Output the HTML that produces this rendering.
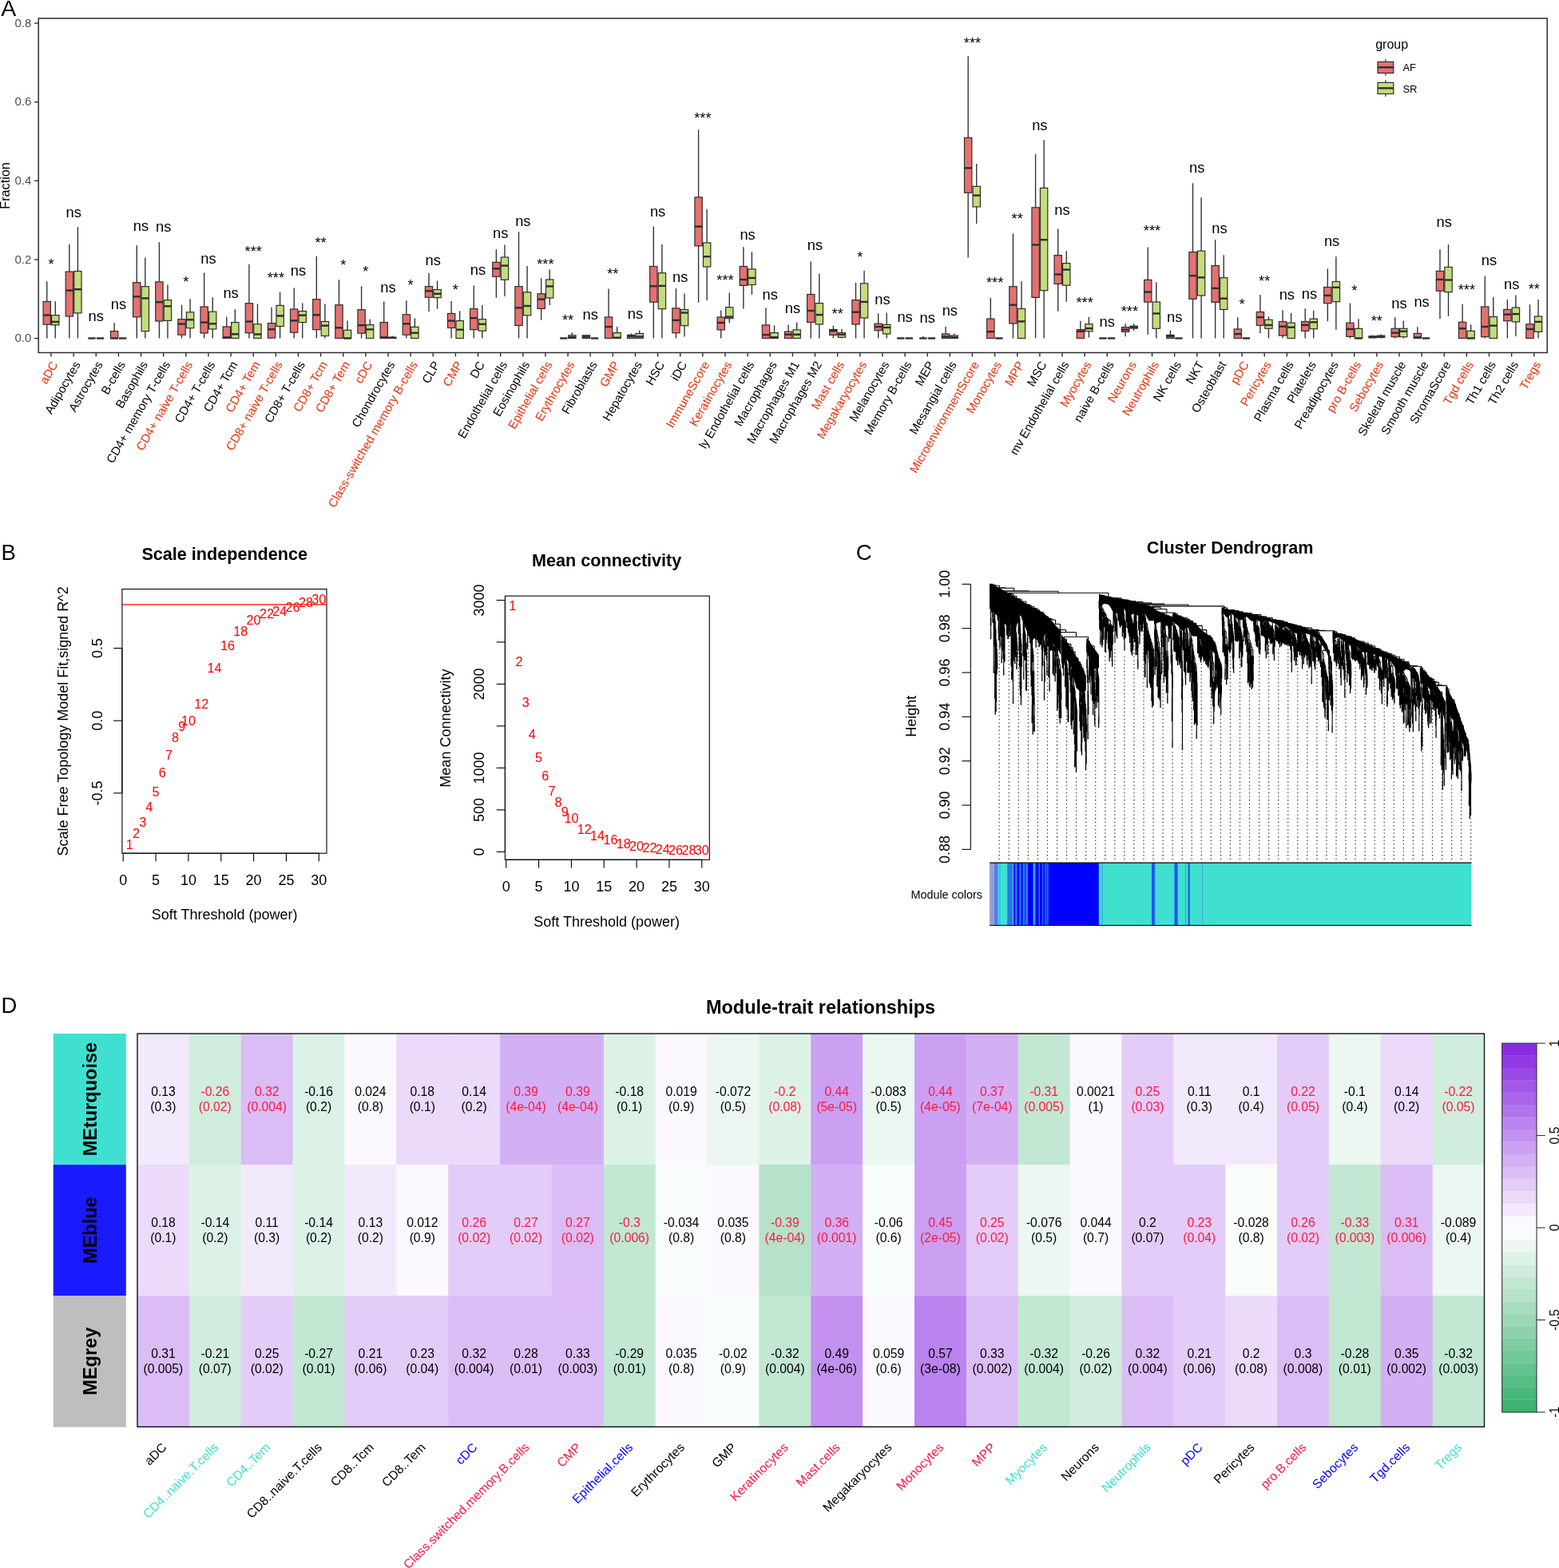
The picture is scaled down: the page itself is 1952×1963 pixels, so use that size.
<!DOCTYPE html><html><head><meta charset="utf-8"><title>Figure</title><style>html,body{margin:0;padding:0;background:#fff;overflow:hidden}svg{display:block}</style></head><body><svg width="1952" height="1963" viewBox="0 0 1952 1963" font-family="'Liberation Sans', Arial, sans-serif"><rect width="100%" height="100%" fill="#fff"/><text x="1.2" y="19.8" font-size="28.5">A</text><rect x="48.2" y="23.0" width="1889" height="418.5" fill="none" stroke="#2E2E2E" stroke-width="1.5"/><line x1="43.1" x2="48.2" y1="423.6" y2="423.6" stroke="#2E2E2E" stroke-width="1.4"/><text x="39.3" y="428.2" font-size="15" fill="#4D4D4D" text-anchor="end">0.0</text><line x1="43.1" x2="48.2" y1="324.98" y2="324.98" stroke="#2E2E2E" stroke-width="1.4"/><text x="39.3" y="329.58" font-size="15" fill="#4D4D4D" text-anchor="end">0.2</text><line x1="43.1" x2="48.2" y1="226.36" y2="226.36" stroke="#2E2E2E" stroke-width="1.4"/><text x="39.3" y="230.96" font-size="15" fill="#4D4D4D" text-anchor="end">0.4</text><line x1="43.1" x2="48.2" y1="127.74" y2="127.74" stroke="#2E2E2E" stroke-width="1.4"/><text x="39.3" y="132.34" font-size="15" fill="#4D4D4D" text-anchor="end">0.6</text><line x1="43.1" x2="48.2" y1="29.12" y2="29.12" stroke="#2E2E2E" stroke-width="1.4"/><text x="39.3" y="33.72" font-size="15" fill="#4D4D4D" text-anchor="end">0.8</text><text transform="translate(12.4,232.5) rotate(-90)" font-size="16.2" text-anchor="middle">Fraction</text><g><line x1="64" x2="64" y1="441.5" y2="446.5" stroke="#2E2E2E" stroke-width="1.4"/><line x1="58.73" x2="58.73" y1="352.2" y2="377.5" stroke="#2E2E2E" stroke-width="1.35"/><line x1="58.73" x2="58.73" y1="406.2" y2="423.5" stroke="#2E2E2E" stroke-width="1.35"/><rect x="54.05" y="377.5" width="9.35" height="28.7" fill="#E5716F" stroke="#2E2E2E" stroke-width="1.2"/><line x1="54.05" x2="63.4" y1="394.5" y2="394.5" stroke="#2E2E2E" stroke-width="2.4"/><line x1="69.28" x2="69.28" y1="377.3" y2="394.7" stroke="#2E2E2E" stroke-width="1.35"/><line x1="69.28" x2="69.28" y1="406.8" y2="423.5" stroke="#2E2E2E" stroke-width="1.35"/><rect x="64.6" y="394.7" width="9.35" height="12.1" fill="#C3DC7C" stroke="#2E2E2E" stroke-width="1.2"/><line x1="64.6" x2="73.95" y1="402.9" y2="402.9" stroke="#2E2E2E" stroke-width="2.4"/><line x1="92.13" x2="92.13" y1="441.5" y2="446.5" stroke="#2E2E2E" stroke-width="1.4"/><line x1="86.86" x2="86.86" y1="305.7" y2="340.1" stroke="#2E2E2E" stroke-width="1.35"/><line x1="86.86" x2="86.86" y1="396" y2="423.5" stroke="#2E2E2E" stroke-width="1.35"/><rect x="82.18" y="340.1" width="9.35" height="55.9" fill="#E5716F" stroke="#2E2E2E" stroke-width="1.2"/><line x1="82.18" x2="91.53" y1="363.6" y2="363.6" stroke="#2E2E2E" stroke-width="2.4"/><line x1="97.41" x2="97.41" y1="284.2" y2="339.5" stroke="#2E2E2E" stroke-width="1.35"/><line x1="97.41" x2="97.41" y1="391.9" y2="423.5" stroke="#2E2E2E" stroke-width="1.35"/><rect x="92.73" y="339.5" width="9.35" height="52.4" fill="#C3DC7C" stroke="#2E2E2E" stroke-width="1.2"/><line x1="92.73" x2="102.08" y1="362.2" y2="362.2" stroke="#2E2E2E" stroke-width="2.4"/><line x1="120.27" x2="120.27" y1="441.5" y2="446.5" stroke="#2E2E2E" stroke-width="1.4"/><rect x="110.32" y="423.5" width="9.35" height="0" fill="#E5716F" stroke="#2E2E2E" stroke-width="1.2"/><line x1="110.32" x2="119.67" y1="423.5" y2="423.5" stroke="#2E2E2E" stroke-width="2.4"/><rect x="120.87" y="423.5" width="9.35" height="0" fill="#C3DC7C" stroke="#2E2E2E" stroke-width="1.2"/><line x1="120.87" x2="130.22" y1="423.5" y2="423.5" stroke="#2E2E2E" stroke-width="2.4"/><line x1="148.4" x2="148.4" y1="441.5" y2="446.5" stroke="#2E2E2E" stroke-width="1.4"/><line x1="143.12" x2="143.12" y1="404.2" y2="414.6" stroke="#2E2E2E" stroke-width="1.35"/><rect x="138.45" y="414.6" width="9.35" height="8.9" fill="#E5716F" stroke="#2E2E2E" stroke-width="1.2"/><line x1="138.45" x2="147.8" y1="423.5" y2="423.5" stroke="#2E2E2E" stroke-width="2.4"/><rect x="149" y="423.5" width="9.35" height="0" fill="#C3DC7C" stroke="#2E2E2E" stroke-width="1.2"/><line x1="149" x2="158.35" y1="423.5" y2="423.5" stroke="#2E2E2E" stroke-width="2.4"/><line x1="176.53" x2="176.53" y1="441.5" y2="446.5" stroke="#2E2E2E" stroke-width="1.4"/><line x1="171.26" x2="171.26" y1="307.3" y2="353.7" stroke="#2E2E2E" stroke-width="1.35"/><line x1="171.26" x2="171.26" y1="396.8" y2="423.5" stroke="#2E2E2E" stroke-width="1.35"/><rect x="166.58" y="353.7" width="9.35" height="43.1" fill="#E5716F" stroke="#2E2E2E" stroke-width="1.2"/><line x1="166.58" x2="175.93" y1="371.3" y2="371.3" stroke="#2E2E2E" stroke-width="2.4"/><line x1="181.81" x2="181.81" y1="322.4" y2="358.7" stroke="#2E2E2E" stroke-width="1.35"/><line x1="181.81" x2="181.81" y1="414.6" y2="423.5" stroke="#2E2E2E" stroke-width="1.35"/><rect x="177.13" y="358.7" width="9.35" height="55.9" fill="#C3DC7C" stroke="#2E2E2E" stroke-width="1.2"/><line x1="177.13" x2="186.48" y1="373.4" y2="373.4" stroke="#2E2E2E" stroke-width="2.4"/><line x1="204.66" x2="204.66" y1="441.5" y2="446.5" stroke="#2E2E2E" stroke-width="1.4"/><line x1="199.39" x2="199.39" y1="303.1" y2="352.8" stroke="#2E2E2E" stroke-width="1.35"/><line x1="199.39" x2="199.39" y1="402" y2="423.5" stroke="#2E2E2E" stroke-width="1.35"/><rect x="194.71" y="352.8" width="9.35" height="49.2" fill="#E5716F" stroke="#2E2E2E" stroke-width="1.2"/><line x1="194.71" x2="204.06" y1="378.2" y2="378.2" stroke="#2E2E2E" stroke-width="2.4"/><line x1="209.94" x2="209.94" y1="356.5" y2="375.6" stroke="#2E2E2E" stroke-width="1.35"/><line x1="209.94" x2="209.94" y1="401.4" y2="423.5" stroke="#2E2E2E" stroke-width="1.35"/><rect x="205.26" y="375.6" width="9.35" height="25.8" fill="#C3DC7C" stroke="#2E2E2E" stroke-width="1.2"/><line x1="205.26" x2="214.62" y1="383.4" y2="383.4" stroke="#2E2E2E" stroke-width="2.4"/><line x1="232.8" x2="232.8" y1="441.5" y2="446.5" stroke="#2E2E2E" stroke-width="1.4"/><line x1="227.52" x2="227.52" y1="381.7" y2="399.7" stroke="#2E2E2E" stroke-width="1.35"/><line x1="227.52" x2="227.52" y1="419.2" y2="423.5" stroke="#2E2E2E" stroke-width="1.35"/><rect x="222.85" y="399.7" width="9.35" height="19.5" fill="#E5716F" stroke="#2E2E2E" stroke-width="1.2"/><line x1="222.85" x2="232.2" y1="405.5" y2="405.5" stroke="#2E2E2E" stroke-width="2.4"/><line x1="238.07" x2="238.07" y1="374.3" y2="390.8" stroke="#2E2E2E" stroke-width="1.35"/><line x1="238.07" x2="238.07" y1="410.7" y2="423.5" stroke="#2E2E2E" stroke-width="1.35"/><rect x="233.4" y="390.8" width="9.35" height="19.9" fill="#C3DC7C" stroke="#2E2E2E" stroke-width="1.2"/><line x1="233.4" x2="242.75" y1="400.3" y2="400.3" stroke="#2E2E2E" stroke-width="2.4"/><line x1="260.93" x2="260.93" y1="441.5" y2="446.5" stroke="#2E2E2E" stroke-width="1.4"/><line x1="255.66" x2="255.66" y1="341.5" y2="384" stroke="#2E2E2E" stroke-width="1.35"/><line x1="255.66" x2="255.66" y1="417" y2="423.5" stroke="#2E2E2E" stroke-width="1.35"/><rect x="250.98" y="384" width="9.35" height="33" fill="#E5716F" stroke="#2E2E2E" stroke-width="1.2"/><line x1="250.98" x2="260.33" y1="403.6" y2="403.6" stroke="#2E2E2E" stroke-width="2.4"/><line x1="266.21" x2="266.21" y1="372.3" y2="390.2" stroke="#2E2E2E" stroke-width="1.35"/><line x1="266.21" x2="266.21" y1="412" y2="423.5" stroke="#2E2E2E" stroke-width="1.35"/><rect x="261.53" y="390.2" width="9.35" height="21.8" fill="#C3DC7C" stroke="#2E2E2E" stroke-width="1.2"/><line x1="261.53" x2="270.88" y1="405.3" y2="405.3" stroke="#2E2E2E" stroke-width="2.4"/><line x1="289.06" x2="289.06" y1="441.5" y2="446.5" stroke="#2E2E2E" stroke-width="1.4"/><line x1="283.79" x2="283.79" y1="396.4" y2="409" stroke="#2E2E2E" stroke-width="1.35"/><rect x="279.11" y="409" width="9.35" height="14.5" fill="#E5716F" stroke="#2E2E2E" stroke-width="1.2"/><line x1="279.11" x2="288.46" y1="422.4" y2="422.4" stroke="#2E2E2E" stroke-width="2.4"/><line x1="294.34" x2="294.34" y1="387.3" y2="403.6" stroke="#2E2E2E" stroke-width="1.35"/><rect x="289.66" y="403.6" width="9.35" height="19.9" fill="#C3DC7C" stroke="#2E2E2E" stroke-width="1.2"/><line x1="289.66" x2="299.01" y1="418.3" y2="418.3" stroke="#2E2E2E" stroke-width="2.4"/><line x1="317.2" x2="317.2" y1="441.5" y2="446.5" stroke="#2E2E2E" stroke-width="1.4"/><line x1="311.92" x2="311.92" y1="330.7" y2="379.7" stroke="#2E2E2E" stroke-width="1.35"/><line x1="311.92" x2="311.92" y1="416.8" y2="423.5" stroke="#2E2E2E" stroke-width="1.35"/><rect x="307.25" y="379.7" width="9.35" height="37.1" fill="#E5716F" stroke="#2E2E2E" stroke-width="1.2"/><line x1="307.25" x2="316.6" y1="402.5" y2="402.5" stroke="#2E2E2E" stroke-width="2.4"/><line x1="322.47" x2="322.47" y1="380.5" y2="405.8" stroke="#2E2E2E" stroke-width="1.35"/><rect x="317.8" y="405.8" width="9.35" height="17.7" fill="#C3DC7C" stroke="#2E2E2E" stroke-width="1.2"/><line x1="317.8" x2="327.15" y1="418.5" y2="418.5" stroke="#2E2E2E" stroke-width="2.4"/><line x1="345.33" x2="345.33" y1="441.5" y2="446.5" stroke="#2E2E2E" stroke-width="1.4"/><line x1="340.05" x2="340.05" y1="384.4" y2="404.6" stroke="#2E2E2E" stroke-width="1.35"/><line x1="340.05" x2="340.05" y1="423.1" y2="423.5" stroke="#2E2E2E" stroke-width="1.35"/><rect x="335.38" y="404.6" width="9.35" height="18.5" fill="#E5716F" stroke="#2E2E2E" stroke-width="1.2"/><line x1="335.38" x2="344.73" y1="412.3" y2="412.3" stroke="#2E2E2E" stroke-width="2.4"/><line x1="350.6" x2="350.6" y1="365.8" y2="382.4" stroke="#2E2E2E" stroke-width="1.35"/><line x1="350.6" x2="350.6" y1="408.5" y2="423.5" stroke="#2E2E2E" stroke-width="1.35"/><rect x="345.93" y="382.4" width="9.35" height="26.1" fill="#C3DC7C" stroke="#2E2E2E" stroke-width="1.2"/><line x1="345.93" x2="355.28" y1="395.4" y2="395.4" stroke="#2E2E2E" stroke-width="2.4"/><line x1="373.46" x2="373.46" y1="441.5" y2="446.5" stroke="#2E2E2E" stroke-width="1.4"/><line x1="368.19" x2="368.19" y1="360.4" y2="387" stroke="#2E2E2E" stroke-width="1.35"/><line x1="368.19" x2="368.19" y1="416.3" y2="423.5" stroke="#2E2E2E" stroke-width="1.35"/><rect x="363.51" y="387" width="9.35" height="29.3" fill="#E5716F" stroke="#2E2E2E" stroke-width="1.2"/><line x1="363.51" x2="372.86" y1="401.4" y2="401.4" stroke="#2E2E2E" stroke-width="2.4"/><line x1="378.74" x2="378.74" y1="379.5" y2="389.6" stroke="#2E2E2E" stroke-width="1.35"/><line x1="378.74" x2="378.74" y1="403.6" y2="423.5" stroke="#2E2E2E" stroke-width="1.35"/><rect x="374.06" y="389.6" width="9.35" height="14" fill="#C3DC7C" stroke="#2E2E2E" stroke-width="1.2"/><line x1="374.06" x2="383.41" y1="394.7" y2="394.7" stroke="#2E2E2E" stroke-width="2.4"/><line x1="401.6" x2="401.6" y1="441.5" y2="446.5" stroke="#2E2E2E" stroke-width="1.4"/><line x1="396.32" x2="396.32" y1="320.7" y2="374.7" stroke="#2E2E2E" stroke-width="1.35"/><line x1="396.32" x2="396.32" y1="412.7" y2="423.5" stroke="#2E2E2E" stroke-width="1.35"/><rect x="391.65" y="374.7" width="9.35" height="38" fill="#E5716F" stroke="#2E2E2E" stroke-width="1.2"/><line x1="391.65" x2="401" y1="394.2" y2="394.2" stroke="#2E2E2E" stroke-width="2.4"/><line x1="406.87" x2="406.87" y1="380.4" y2="402.5" stroke="#2E2E2E" stroke-width="1.35"/><line x1="406.87" x2="406.87" y1="420.5" y2="423.5" stroke="#2E2E2E" stroke-width="1.35"/><rect x="402.2" y="402.5" width="9.35" height="18" fill="#C3DC7C" stroke="#2E2E2E" stroke-width="1.2"/><line x1="402.2" x2="411.55" y1="407.7" y2="407.7" stroke="#2E2E2E" stroke-width="2.4"/><line x1="429.73" x2="429.73" y1="441.5" y2="446.5" stroke="#2E2E2E" stroke-width="1.4"/><line x1="424.45" x2="424.45" y1="350.2" y2="381.7" stroke="#2E2E2E" stroke-width="1.35"/><rect x="419.78" y="381.7" width="9.35" height="41.8" fill="#E5716F" stroke="#2E2E2E" stroke-width="1.2"/><line x1="419.78" x2="429.13" y1="410.3" y2="410.3" stroke="#2E2E2E" stroke-width="2.4"/><line x1="435" x2="435" y1="401.4" y2="413.3" stroke="#2E2E2E" stroke-width="1.35"/><rect x="430.33" y="413.3" width="9.35" height="10.2" fill="#C3DC7C" stroke="#2E2E2E" stroke-width="1.2"/><line x1="430.33" x2="439.68" y1="423.5" y2="423.5" stroke="#2E2E2E" stroke-width="2.4"/><line x1="457.86" x2="457.86" y1="441.5" y2="446.5" stroke="#2E2E2E" stroke-width="1.4"/><line x1="452.59" x2="452.59" y1="358.4" y2="387.7" stroke="#2E2E2E" stroke-width="1.35"/><line x1="452.59" x2="452.59" y1="417.2" y2="423.5" stroke="#2E2E2E" stroke-width="1.35"/><rect x="447.91" y="387.7" width="9.35" height="29.5" fill="#E5716F" stroke="#2E2E2E" stroke-width="1.2"/><line x1="447.91" x2="457.26" y1="407.2" y2="407.2" stroke="#2E2E2E" stroke-width="2.4"/><line x1="463.14" x2="463.14" y1="399.7" y2="406.6" stroke="#2E2E2E" stroke-width="1.35"/><rect x="458.46" y="406.6" width="9.35" height="16.9" fill="#C3DC7C" stroke="#2E2E2E" stroke-width="1.2"/><line x1="458.46" x2="467.81" y1="412.4" y2="412.4" stroke="#2E2E2E" stroke-width="2.4"/><line x1="486" x2="486" y1="441.5" y2="446.5" stroke="#2E2E2E" stroke-width="1.4"/><line x1="480.72" x2="480.72" y1="377.5" y2="403.6" stroke="#2E2E2E" stroke-width="1.35"/><rect x="476.05" y="403.6" width="9.35" height="19.9" fill="#E5716F" stroke="#2E2E2E" stroke-width="1.2"/><line x1="476.05" x2="485.39" y1="422.4" y2="422.4" stroke="#2E2E2E" stroke-width="2.4"/><line x1="491.27" x2="491.27" y1="420.5" y2="422.3" stroke="#2E2E2E" stroke-width="1.35"/><rect x="486.6" y="422.3" width="9.35" height="1.2" fill="#C3DC7C" stroke="#2E2E2E" stroke-width="1.2"/><line x1="486.6" x2="495.94" y1="422.8" y2="422.8" stroke="#2E2E2E" stroke-width="2.4"/><line x1="514.13" x2="514.13" y1="441.5" y2="446.5" stroke="#2E2E2E" stroke-width="1.4"/><line x1="508.85" x2="508.85" y1="376.2" y2="393.8" stroke="#2E2E2E" stroke-width="1.35"/><line x1="508.85" x2="508.85" y1="419.2" y2="423.5" stroke="#2E2E2E" stroke-width="1.35"/><rect x="504.18" y="393.8" width="9.35" height="25.4" fill="#E5716F" stroke="#2E2E2E" stroke-width="1.2"/><line x1="504.18" x2="513.53" y1="405.3" y2="405.3" stroke="#2E2E2E" stroke-width="2.4"/><line x1="519.4" x2="519.4" y1="398.4" y2="409.4" stroke="#2E2E2E" stroke-width="1.35"/><rect x="514.73" y="409.4" width="9.35" height="14.1" fill="#C3DC7C" stroke="#2E2E2E" stroke-width="1.2"/><line x1="514.73" x2="524.08" y1="416.8" y2="416.8" stroke="#2E2E2E" stroke-width="2.4"/><line x1="542.26" x2="542.26" y1="441.5" y2="446.5" stroke="#2E2E2E" stroke-width="1.4"/><line x1="536.99" x2="536.99" y1="342" y2="358.7" stroke="#2E2E2E" stroke-width="1.35"/><line x1="536.99" x2="536.99" y1="372.3" y2="389.9" stroke="#2E2E2E" stroke-width="1.35"/><rect x="532.31" y="358.7" width="9.35" height="13.6" fill="#E5716F" stroke="#2E2E2E" stroke-width="1.2"/><line x1="532.31" x2="541.66" y1="364.3" y2="364.3" stroke="#2E2E2E" stroke-width="2.4"/><line x1="547.54" x2="547.54" y1="351.5" y2="362.6" stroke="#2E2E2E" stroke-width="1.35"/><line x1="547.54" x2="547.54" y1="372.7" y2="386.6" stroke="#2E2E2E" stroke-width="1.35"/><rect x="542.86" y="362.6" width="9.35" height="10.1" fill="#C3DC7C" stroke="#2E2E2E" stroke-width="1.2"/><line x1="542.86" x2="552.21" y1="367.8" y2="367.8" stroke="#2E2E2E" stroke-width="2.4"/><line x1="570.39" x2="570.39" y1="441.5" y2="446.5" stroke="#2E2E2E" stroke-width="1.4"/><line x1="565.12" x2="565.12" y1="376.9" y2="392.5" stroke="#2E2E2E" stroke-width="1.35"/><line x1="565.12" x2="565.12" y1="410.5" y2="423.5" stroke="#2E2E2E" stroke-width="1.35"/><rect x="560.44" y="392.5" width="9.35" height="18" fill="#E5716F" stroke="#2E2E2E" stroke-width="1.2"/><line x1="560.44" x2="569.79" y1="401.6" y2="401.6" stroke="#2E2E2E" stroke-width="2.4"/><line x1="575.67" x2="575.67" y1="389.3" y2="401.6" stroke="#2E2E2E" stroke-width="1.35"/><rect x="570.99" y="401.6" width="9.35" height="21.9" fill="#C3DC7C" stroke="#2E2E2E" stroke-width="1.2"/><line x1="570.99" x2="580.34" y1="412.7" y2="412.7" stroke="#2E2E2E" stroke-width="2.4"/><line x1="598.53" x2="598.53" y1="441.5" y2="446.5" stroke="#2E2E2E" stroke-width="1.4"/><line x1="593.25" x2="593.25" y1="357.4" y2="386.6" stroke="#2E2E2E" stroke-width="1.35"/><line x1="593.25" x2="593.25" y1="412.7" y2="423.5" stroke="#2E2E2E" stroke-width="1.35"/><rect x="588.58" y="386.6" width="9.35" height="26.1" fill="#E5716F" stroke="#2E2E2E" stroke-width="1.2"/><line x1="588.58" x2="597.93" y1="398.1" y2="398.1" stroke="#2E2E2E" stroke-width="2.4"/><line x1="603.8" x2="603.8" y1="382.1" y2="399.7" stroke="#2E2E2E" stroke-width="1.35"/><line x1="603.8" x2="603.8" y1="414.2" y2="423.5" stroke="#2E2E2E" stroke-width="1.35"/><rect x="599.13" y="399.7" width="9.35" height="14.5" fill="#C3DC7C" stroke="#2E2E2E" stroke-width="1.2"/><line x1="599.13" x2="608.48" y1="405.8" y2="405.8" stroke="#2E2E2E" stroke-width="2.4"/><line x1="626.66" x2="626.66" y1="441.5" y2="446.5" stroke="#2E2E2E" stroke-width="1.4"/><line x1="621.38" x2="621.38" y1="312.2" y2="328.3" stroke="#2E2E2E" stroke-width="1.35"/><line x1="621.38" x2="621.38" y1="346.3" y2="372.7" stroke="#2E2E2E" stroke-width="1.35"/><rect x="616.71" y="328.3" width="9.35" height="18" fill="#E5716F" stroke="#2E2E2E" stroke-width="1.2"/><line x1="616.71" x2="626.06" y1="336.3" y2="336.3" stroke="#2E2E2E" stroke-width="2.4"/><line x1="631.93" x2="631.93" y1="306.6" y2="322" stroke="#2E2E2E" stroke-width="1.35"/><line x1="631.93" x2="631.93" y1="350.2" y2="371" stroke="#2E2E2E" stroke-width="1.35"/><rect x="627.26" y="322" width="9.35" height="28.2" fill="#C3DC7C" stroke="#2E2E2E" stroke-width="1.2"/><line x1="627.26" x2="636.61" y1="332.6" y2="332.6" stroke="#2E2E2E" stroke-width="2.4"/><line x1="654.79" x2="654.79" y1="441.5" y2="446.5" stroke="#2E2E2E" stroke-width="1.4"/><line x1="649.52" x2="649.52" y1="290.3" y2="358.7" stroke="#2E2E2E" stroke-width="1.35"/><line x1="649.52" x2="649.52" y1="407.5" y2="423.5" stroke="#2E2E2E" stroke-width="1.35"/><rect x="644.84" y="358.7" width="9.35" height="48.8" fill="#E5716F" stroke="#2E2E2E" stroke-width="1.2"/><line x1="644.84" x2="654.19" y1="385.3" y2="385.3" stroke="#2E2E2E" stroke-width="2.4"/><line x1="660.07" x2="660.07" y1="332.9" y2="365.8" stroke="#2E2E2E" stroke-width="1.35"/><line x1="660.07" x2="660.07" y1="394.8" y2="423.5" stroke="#2E2E2E" stroke-width="1.35"/><rect x="655.39" y="365.8" width="9.35" height="29" fill="#C3DC7C" stroke="#2E2E2E" stroke-width="1.2"/><line x1="655.39" x2="664.74" y1="383" y2="383" stroke="#2E2E2E" stroke-width="2.4"/><line x1="682.93" x2="682.93" y1="441.5" y2="446.5" stroke="#2E2E2E" stroke-width="1.4"/><line x1="677.65" x2="677.65" y1="348.3" y2="367.8" stroke="#2E2E2E" stroke-width="1.35"/><line x1="677.65" x2="677.65" y1="386.4" y2="400.7" stroke="#2E2E2E" stroke-width="1.35"/><rect x="672.98" y="367.8" width="9.35" height="18.6" fill="#E5716F" stroke="#2E2E2E" stroke-width="1.2"/><line x1="672.98" x2="682.33" y1="374.7" y2="374.7" stroke="#2E2E2E" stroke-width="2.4"/><line x1="688.2" x2="688.2" y1="337.5" y2="350" stroke="#2E2E2E" stroke-width="1.35"/><line x1="688.2" x2="688.2" y1="373" y2="382.1" stroke="#2E2E2E" stroke-width="1.35"/><rect x="683.53" y="350" width="9.35" height="23" fill="#C3DC7C" stroke="#2E2E2E" stroke-width="1.2"/><line x1="683.53" x2="692.88" y1="358.4" y2="358.4" stroke="#2E2E2E" stroke-width="2.4"/><line x1="711.06" x2="711.06" y1="441.5" y2="446.5" stroke="#2E2E2E" stroke-width="1.4"/><rect x="701.11" y="423.5" width="9.35" height="0" fill="#E5716F" stroke="#2E2E2E" stroke-width="1.2"/><line x1="701.11" x2="710.46" y1="423.5" y2="423.5" stroke="#2E2E2E" stroke-width="2.4"/><line x1="716.33" x2="716.33" y1="416.3" y2="419.8" stroke="#2E2E2E" stroke-width="1.35"/><rect x="711.66" y="419.8" width="9.35" height="3.7" fill="#C3DC7C" stroke="#2E2E2E" stroke-width="1.2"/><line x1="711.66" x2="721.01" y1="422" y2="422" stroke="#2E2E2E" stroke-width="2.4"/><line x1="739.19" x2="739.19" y1="441.5" y2="446.5" stroke="#2E2E2E" stroke-width="1.4"/><rect x="729.24" y="419.8" width="9.35" height="3.7" fill="#E5716F" stroke="#2E2E2E" stroke-width="1.2"/><line x1="729.24" x2="738.59" y1="421.5" y2="421.5" stroke="#2E2E2E" stroke-width="2.4"/><rect x="739.79" y="423.5" width="9.35" height="0" fill="#C3DC7C" stroke="#2E2E2E" stroke-width="1.2"/><line x1="739.79" x2="749.14" y1="423.5" y2="423.5" stroke="#2E2E2E" stroke-width="2.4"/><line x1="767.32" x2="767.32" y1="441.5" y2="446.5" stroke="#2E2E2E" stroke-width="1.4"/><line x1="762.05" x2="762.05" y1="361.6" y2="397" stroke="#2E2E2E" stroke-width="1.35"/><rect x="757.38" y="397" width="9.35" height="26.5" fill="#E5716F" stroke="#2E2E2E" stroke-width="1.2"/><line x1="757.38" x2="766.72" y1="409.1" y2="409.1" stroke="#2E2E2E" stroke-width="2.4"/><line x1="772.6" x2="772.6" y1="409.1" y2="416.6" stroke="#2E2E2E" stroke-width="1.35"/><rect x="767.92" y="416.6" width="9.35" height="6.9" fill="#C3DC7C" stroke="#2E2E2E" stroke-width="1.2"/><line x1="767.92" x2="777.27" y1="422.8" y2="422.8" stroke="#2E2E2E" stroke-width="2.4"/><line x1="795.46" x2="795.46" y1="441.5" y2="446.5" stroke="#2E2E2E" stroke-width="1.4"/><line x1="790.18" x2="790.18" y1="417.5" y2="419.4" stroke="#2E2E2E" stroke-width="1.35"/><rect x="785.51" y="419.4" width="9.35" height="4.1" fill="#E5716F" stroke="#2E2E2E" stroke-width="1.2"/><line x1="785.51" x2="794.86" y1="420.9" y2="420.9" stroke="#2E2E2E" stroke-width="2.4"/><line x1="800.73" x2="800.73" y1="413.4" y2="417.5" stroke="#2E2E2E" stroke-width="1.35"/><rect x="796.06" y="417.5" width="9.35" height="6" fill="#C3DC7C" stroke="#2E2E2E" stroke-width="1.2"/><line x1="796.06" x2="805.41" y1="421.4" y2="421.4" stroke="#2E2E2E" stroke-width="2.4"/><line x1="823.59" x2="823.59" y1="441.5" y2="446.5" stroke="#2E2E2E" stroke-width="1.4"/><line x1="818.32" x2="818.32" y1="283.6" y2="333.5" stroke="#2E2E2E" stroke-width="1.35"/><line x1="818.32" x2="818.32" y1="378.2" y2="423.5" stroke="#2E2E2E" stroke-width="1.35"/><rect x="813.64" y="333.5" width="9.35" height="44.7" fill="#E5716F" stroke="#2E2E2E" stroke-width="1.2"/><line x1="813.64" x2="822.99" y1="358.2" y2="358.2" stroke="#2E2E2E" stroke-width="2.4"/><line x1="828.87" x2="828.87" y1="306.1" y2="341.7" stroke="#2E2E2E" stroke-width="1.35"/><line x1="828.87" x2="828.87" y1="386.7" y2="423.5" stroke="#2E2E2E" stroke-width="1.35"/><rect x="824.19" y="341.7" width="9.35" height="45" fill="#C3DC7C" stroke="#2E2E2E" stroke-width="1.2"/><line x1="824.19" x2="833.54" y1="357.9" y2="357.9" stroke="#2E2E2E" stroke-width="2.4"/><line x1="851.72" x2="851.72" y1="441.5" y2="446.5" stroke="#2E2E2E" stroke-width="1.4"/><line x1="846.45" x2="846.45" y1="361.1" y2="385.9" stroke="#2E2E2E" stroke-width="1.35"/><line x1="846.45" x2="846.45" y1="416.8" y2="423.5" stroke="#2E2E2E" stroke-width="1.35"/><rect x="841.77" y="385.9" width="9.35" height="30.9" fill="#E5716F" stroke="#2E2E2E" stroke-width="1.2"/><line x1="841.77" x2="851.12" y1="400.9" y2="400.9" stroke="#2E2E2E" stroke-width="2.4"/><line x1="857" x2="857" y1="367.6" y2="387.6" stroke="#2E2E2E" stroke-width="1.35"/><line x1="857" x2="857" y1="407.7" y2="421.4" stroke="#2E2E2E" stroke-width="1.35"/><rect x="852.32" y="387.6" width="9.35" height="20.1" fill="#C3DC7C" stroke="#2E2E2E" stroke-width="1.2"/><line x1="852.32" x2="861.67" y1="391.5" y2="391.5" stroke="#2E2E2E" stroke-width="2.4"/><line x1="879.86" x2="879.86" y1="441.5" y2="446.5" stroke="#2E2E2E" stroke-width="1.4"/><line x1="874.58" x2="874.58" y1="162.3" y2="246.9" stroke="#2E2E2E" stroke-width="1.35"/><line x1="874.58" x2="874.58" y1="307.8" y2="378.7" stroke="#2E2E2E" stroke-width="1.35"/><rect x="869.91" y="246.9" width="9.35" height="60.9" fill="#E5716F" stroke="#2E2E2E" stroke-width="1.2"/><line x1="869.91" x2="879.26" y1="283.6" y2="283.6" stroke="#2E2E2E" stroke-width="2.4"/><line x1="885.13" x2="885.13" y1="261.7" y2="303.9" stroke="#2E2E2E" stroke-width="1.35"/><line x1="885.13" x2="885.13" y1="334" y2="376.1" stroke="#2E2E2E" stroke-width="1.35"/><rect x="880.46" y="303.9" width="9.35" height="30.1" fill="#C3DC7C" stroke="#2E2E2E" stroke-width="1.2"/><line x1="880.46" x2="889.81" y1="321.2" y2="321.2" stroke="#2E2E2E" stroke-width="2.4"/><line x1="907.99" x2="907.99" y1="441.5" y2="446.5" stroke="#2E2E2E" stroke-width="1.4"/><line x1="902.72" x2="902.72" y1="388.4" y2="397" stroke="#2E2E2E" stroke-width="1.35"/><line x1="902.72" x2="902.72" y1="412.9" y2="423.5" stroke="#2E2E2E" stroke-width="1.35"/><rect x="898.04" y="397" width="9.35" height="15.9" fill="#E5716F" stroke="#2E2E2E" stroke-width="1.2"/><line x1="898.04" x2="907.39" y1="404" y2="404" stroke="#2E2E2E" stroke-width="2.4"/><line x1="913.26" x2="913.26" y1="366.4" y2="384.7" stroke="#2E2E2E" stroke-width="1.35"/><line x1="913.26" x2="913.26" y1="398.7" y2="404.3" stroke="#2E2E2E" stroke-width="1.35"/><rect x="908.59" y="384.7" width="9.35" height="14" fill="#C3DC7C" stroke="#2E2E2E" stroke-width="1.2"/><line x1="908.59" x2="917.94" y1="396.6" y2="396.6" stroke="#2E2E2E" stroke-width="2.4"/><line x1="936.12" x2="936.12" y1="441.5" y2="446.5" stroke="#2E2E2E" stroke-width="1.4"/><line x1="930.85" x2="930.85" y1="309.2" y2="333.5" stroke="#2E2E2E" stroke-width="1.35"/><line x1="930.85" x2="930.85" y1="357.4" y2="386.4" stroke="#2E2E2E" stroke-width="1.35"/><rect x="926.17" y="333.5" width="9.35" height="23.9" fill="#E5716F" stroke="#2E2E2E" stroke-width="1.2"/><line x1="926.17" x2="935.52" y1="350" y2="350" stroke="#2E2E2E" stroke-width="2.4"/><line x1="941.4" x2="941.4" y1="315.2" y2="336.9" stroke="#2E2E2E" stroke-width="1.35"/><line x1="941.4" x2="941.4" y1="356.5" y2="368.8" stroke="#2E2E2E" stroke-width="1.35"/><rect x="936.72" y="336.9" width="9.35" height="19.6" fill="#C3DC7C" stroke="#2E2E2E" stroke-width="1.2"/><line x1="936.72" x2="946.07" y1="348" y2="348" stroke="#2E2E2E" stroke-width="2.4"/><line x1="964.26" x2="964.26" y1="441.5" y2="446.5" stroke="#2E2E2E" stroke-width="1.4"/><line x1="958.98" x2="958.98" y1="385.2" y2="406.9" stroke="#2E2E2E" stroke-width="1.35"/><rect x="954.31" y="406.9" width="9.35" height="16.6" fill="#E5716F" stroke="#2E2E2E" stroke-width="1.2"/><line x1="954.31" x2="963.66" y1="419.2" y2="419.2" stroke="#2E2E2E" stroke-width="2.4"/><line x1="969.53" x2="969.53" y1="407.4" y2="416.6" stroke="#2E2E2E" stroke-width="1.35"/><rect x="964.86" y="416.6" width="9.35" height="6.9" fill="#C3DC7C" stroke="#2E2E2E" stroke-width="1.2"/><line x1="964.86" x2="974.21" y1="422.3" y2="422.3" stroke="#2E2E2E" stroke-width="2.4"/><line x1="992.39" x2="992.39" y1="441.5" y2="446.5" stroke="#2E2E2E" stroke-width="1.4"/><line x1="987.11" x2="987.11" y1="406.5" y2="415.1" stroke="#2E2E2E" stroke-width="1.35"/><rect x="982.44" y="415.1" width="9.35" height="8.4" fill="#E5716F" stroke="#2E2E2E" stroke-width="1.2"/><line x1="982.44" x2="991.79" y1="418.8" y2="418.8" stroke="#2E2E2E" stroke-width="2.4"/><line x1="997.66" x2="997.66" y1="403.5" y2="412.9" stroke="#2E2E2E" stroke-width="1.35"/><rect x="992.99" y="412.9" width="9.35" height="10.6" fill="#C3DC7C" stroke="#2E2E2E" stroke-width="1.2"/><line x1="992.99" x2="1002.34" y1="418.8" y2="418.8" stroke="#2E2E2E" stroke-width="2.4"/><line x1="1020.52" x2="1020.52" y1="441.5" y2="446.5" stroke="#2E2E2E" stroke-width="1.4"/><line x1="1015.25" x2="1015.25" y1="327.5" y2="368.5" stroke="#2E2E2E" stroke-width="1.35"/><line x1="1015.25" x2="1015.25" y1="403.5" y2="423.5" stroke="#2E2E2E" stroke-width="1.35"/><rect x="1010.57" y="368.5" width="9.35" height="35" fill="#E5716F" stroke="#2E2E2E" stroke-width="1.2"/><line x1="1010.57" x2="1019.92" y1="389" y2="389" stroke="#2E2E2E" stroke-width="2.4"/><line x1="1025.8" x2="1025.8" y1="342.8" y2="379.6" stroke="#2E2E2E" stroke-width="1.35"/><line x1="1025.8" x2="1025.8" y1="406" y2="423.5" stroke="#2E2E2E" stroke-width="1.35"/><rect x="1021.12" y="379.6" width="9.35" height="26.4" fill="#C3DC7C" stroke="#2E2E2E" stroke-width="1.2"/><line x1="1021.12" x2="1030.47" y1="394.1" y2="394.1" stroke="#2E2E2E" stroke-width="2.4"/><line x1="1048.65" x2="1048.65" y1="441.5" y2="446.5" stroke="#2E2E2E" stroke-width="1.4"/><line x1="1043.38" x2="1043.38" y1="407.7" y2="412.5" stroke="#2E2E2E" stroke-width="1.35"/><line x1="1043.38" x2="1043.38" y1="419.4" y2="423.5" stroke="#2E2E2E" stroke-width="1.35"/><rect x="1038.7" y="412.5" width="9.35" height="6.9" fill="#E5716F" stroke="#2E2E2E" stroke-width="1.2"/><line x1="1038.7" x2="1048.06" y1="414.2" y2="414.2" stroke="#2E2E2E" stroke-width="2.4"/><line x1="1053.93" x2="1053.93" y1="412" y2="416.6" stroke="#2E2E2E" stroke-width="1.35"/><line x1="1053.93" x2="1053.93" y1="422.3" y2="423.5" stroke="#2E2E2E" stroke-width="1.35"/><rect x="1049.25" y="416.6" width="9.35" height="5.7" fill="#C3DC7C" stroke="#2E2E2E" stroke-width="1.2"/><line x1="1049.25" x2="1058.61" y1="418.8" y2="418.8" stroke="#2E2E2E" stroke-width="2.4"/><line x1="1076.79" x2="1076.79" y1="441.5" y2="446.5" stroke="#2E2E2E" stroke-width="1.4"/><line x1="1071.51" x2="1071.51" y1="353.9" y2="375.6" stroke="#2E2E2E" stroke-width="1.35"/><line x1="1071.51" x2="1071.51" y1="406" y2="423.5" stroke="#2E2E2E" stroke-width="1.35"/><rect x="1066.84" y="375.6" width="9.35" height="30.4" fill="#E5716F" stroke="#2E2E2E" stroke-width="1.2"/><line x1="1066.84" x2="1076.19" y1="390.7" y2="390.7" stroke="#2E2E2E" stroke-width="2.4"/><line x1="1082.06" x2="1082.06" y1="339.1" y2="354.8" stroke="#2E2E2E" stroke-width="1.35"/><line x1="1082.06" x2="1082.06" y1="398" y2="423.5" stroke="#2E2E2E" stroke-width="1.35"/><rect x="1077.39" y="354.8" width="9.35" height="43.2" fill="#C3DC7C" stroke="#2E2E2E" stroke-width="1.2"/><line x1="1077.39" x2="1086.74" y1="377.9" y2="377.9" stroke="#2E2E2E" stroke-width="2.4"/><line x1="1104.92" x2="1104.92" y1="441.5" y2="446.5" stroke="#2E2E2E" stroke-width="1.4"/><line x1="1099.65" x2="1099.65" y1="392.4" y2="405.2" stroke="#2E2E2E" stroke-width="1.35"/><line x1="1099.65" x2="1099.65" y1="413.7" y2="423.5" stroke="#2E2E2E" stroke-width="1.35"/><rect x="1094.97" y="405.2" width="9.35" height="8.5" fill="#E5716F" stroke="#2E2E2E" stroke-width="1.2"/><line x1="1094.97" x2="1104.32" y1="409.1" y2="409.1" stroke="#2E2E2E" stroke-width="2.4"/><line x1="1110.2" x2="1110.2" y1="391.5" y2="406.4" stroke="#2E2E2E" stroke-width="1.35"/><line x1="1110.2" x2="1110.2" y1="418" y2="423.5" stroke="#2E2E2E" stroke-width="1.35"/><rect x="1105.52" y="406.4" width="9.35" height="11.6" fill="#C3DC7C" stroke="#2E2E2E" stroke-width="1.2"/><line x1="1105.52" x2="1114.87" y1="410" y2="410" stroke="#2E2E2E" stroke-width="2.4"/><line x1="1133.05" x2="1133.05" y1="441.5" y2="446.5" stroke="#2E2E2E" stroke-width="1.4"/><rect x="1123.1" y="423.5" width="9.35" height="0" fill="#E5716F" stroke="#2E2E2E" stroke-width="1.2"/><line x1="1123.1" x2="1132.45" y1="423.5" y2="423.5" stroke="#2E2E2E" stroke-width="2.4"/><rect x="1133.65" y="423.5" width="9.35" height="0" fill="#C3DC7C" stroke="#2E2E2E" stroke-width="1.2"/><line x1="1133.65" x2="1143" y1="423.5" y2="423.5" stroke="#2E2E2E" stroke-width="2.4"/><line x1="1161.19" x2="1161.19" y1="441.5" y2="446.5" stroke="#2E2E2E" stroke-width="1.4"/><line x1="1155.91" x2="1155.91" y1="420.9" y2="423.5" stroke="#2E2E2E" stroke-width="1.35"/><rect x="1151.24" y="423.5" width="9.35" height="0" fill="#E5716F" stroke="#2E2E2E" stroke-width="1.2"/><line x1="1151.24" x2="1160.59" y1="423.5" y2="423.5" stroke="#2E2E2E" stroke-width="2.4"/><rect x="1161.79" y="423.5" width="9.35" height="0" fill="#C3DC7C" stroke="#2E2E2E" stroke-width="1.2"/><line x1="1161.79" x2="1171.14" y1="423.5" y2="423.5" stroke="#2E2E2E" stroke-width="2.4"/><line x1="1189.32" x2="1189.32" y1="441.5" y2="446.5" stroke="#2E2E2E" stroke-width="1.4"/><line x1="1184.05" x2="1184.05" y1="409.1" y2="418" stroke="#2E2E2E" stroke-width="1.35"/><rect x="1179.37" y="418" width="9.35" height="5.5" fill="#E5716F" stroke="#2E2E2E" stroke-width="1.2"/><line x1="1179.37" x2="1188.72" y1="421.4" y2="421.4" stroke="#2E2E2E" stroke-width="2.4"/><line x1="1194.6" x2="1194.6" y1="417.5" y2="420" stroke="#2E2E2E" stroke-width="1.35"/><rect x="1189.92" y="420" width="9.35" height="3.5" fill="#C3DC7C" stroke="#2E2E2E" stroke-width="1.2"/><line x1="1189.92" x2="1199.27" y1="422.3" y2="422.3" stroke="#2E2E2E" stroke-width="2.4"/><line x1="1217.45" x2="1217.45" y1="441.5" y2="446.5" stroke="#2E2E2E" stroke-width="1.4"/><line x1="1212.18" x2="1212.18" y1="70.2" y2="172.4" stroke="#2E2E2E" stroke-width="1.35"/><line x1="1212.18" x2="1212.18" y1="241.3" y2="322.4" stroke="#2E2E2E" stroke-width="1.35"/><rect x="1207.5" y="172.4" width="9.35" height="68.9" fill="#E5716F" stroke="#2E2E2E" stroke-width="1.2"/><line x1="1207.5" x2="1216.85" y1="210.4" y2="210.4" stroke="#2E2E2E" stroke-width="2.4"/><line x1="1222.73" x2="1222.73" y1="205" y2="233.3" stroke="#2E2E2E" stroke-width="1.35"/><line x1="1222.73" x2="1222.73" y1="258.9" y2="280" stroke="#2E2E2E" stroke-width="1.35"/><rect x="1218.05" y="233.3" width="9.35" height="25.6" fill="#C3DC7C" stroke="#2E2E2E" stroke-width="1.2"/><line x1="1218.05" x2="1227.4" y1="244.6" y2="244.6" stroke="#2E2E2E" stroke-width="2.4"/><line x1="1245.59" x2="1245.59" y1="441.5" y2="446.5" stroke="#2E2E2E" stroke-width="1.4"/><line x1="1240.31" x2="1240.31" y1="373" y2="399.1" stroke="#2E2E2E" stroke-width="1.35"/><rect x="1235.64" y="399.1" width="9.35" height="24.4" fill="#E5716F" stroke="#2E2E2E" stroke-width="1.2"/><line x1="1235.64" x2="1244.99" y1="415.2" y2="415.2" stroke="#2E2E2E" stroke-width="2.4"/><rect x="1246.19" y="423.5" width="9.35" height="0" fill="#C3DC7C" stroke="#2E2E2E" stroke-width="1.2"/><line x1="1246.19" x2="1255.54" y1="423.5" y2="423.5" stroke="#2E2E2E" stroke-width="2.4"/><line x1="1273.72" x2="1273.72" y1="441.5" y2="446.5" stroke="#2E2E2E" stroke-width="1.4"/><line x1="1268.44" x2="1268.44" y1="292.4" y2="358.7" stroke="#2E2E2E" stroke-width="1.35"/><line x1="1268.44" x2="1268.44" y1="405" y2="423.5" stroke="#2E2E2E" stroke-width="1.35"/><rect x="1263.77" y="358.7" width="9.35" height="46.3" fill="#E5716F" stroke="#2E2E2E" stroke-width="1.2"/><line x1="1263.77" x2="1273.12" y1="381.7" y2="381.7" stroke="#2E2E2E" stroke-width="2.4"/><line x1="1278.99" x2="1278.99" y1="352.2" y2="386.5" stroke="#2E2E2E" stroke-width="1.35"/><rect x="1274.32" y="386.5" width="9.35" height="37" fill="#C3DC7C" stroke="#2E2E2E" stroke-width="1.2"/><line x1="1274.32" x2="1283.67" y1="402.4" y2="402.4" stroke="#2E2E2E" stroke-width="2.4"/><line x1="1301.85" x2="1301.85" y1="441.5" y2="446.5" stroke="#2E2E2E" stroke-width="1.4"/><line x1="1296.58" x2="1296.58" y1="193" y2="259.8" stroke="#2E2E2E" stroke-width="1.35"/><line x1="1296.58" x2="1296.58" y1="372.4" y2="423.5" stroke="#2E2E2E" stroke-width="1.35"/><rect x="1291.9" y="259.8" width="9.35" height="112.6" fill="#E5716F" stroke="#2E2E2E" stroke-width="1.2"/><line x1="1291.9" x2="1301.25" y1="306.5" y2="306.5" stroke="#2E2E2E" stroke-width="2.4"/><line x1="1307.13" x2="1307.13" y1="175.2" y2="235.4" stroke="#2E2E2E" stroke-width="1.35"/><line x1="1307.13" x2="1307.13" y1="363.7" y2="423.5" stroke="#2E2E2E" stroke-width="1.35"/><rect x="1302.45" y="235.4" width="9.35" height="128.3" fill="#C3DC7C" stroke="#2E2E2E" stroke-width="1.2"/><line x1="1302.45" x2="1311.8" y1="300.2" y2="300.2" stroke="#2E2E2E" stroke-width="2.4"/><line x1="1329.98" x2="1329.98" y1="441.5" y2="446.5" stroke="#2E2E2E" stroke-width="1.4"/><line x1="1324.71" x2="1324.71" y1="286.5" y2="319.6" stroke="#2E2E2E" stroke-width="1.35"/><line x1="1324.71" x2="1324.71" y1="355.4" y2="389.8" stroke="#2E2E2E" stroke-width="1.35"/><rect x="1320.03" y="319.6" width="9.35" height="35.8" fill="#E5716F" stroke="#2E2E2E" stroke-width="1.2"/><line x1="1320.03" x2="1329.38" y1="343.5" y2="343.5" stroke="#2E2E2E" stroke-width="2.4"/><line x1="1335.26" x2="1335.26" y1="314.3" y2="329.6" stroke="#2E2E2E" stroke-width="1.35"/><line x1="1335.26" x2="1335.26" y1="357.2" y2="377.8" stroke="#2E2E2E" stroke-width="1.35"/><rect x="1330.58" y="329.6" width="9.35" height="27.6" fill="#C3DC7C" stroke="#2E2E2E" stroke-width="1.2"/><line x1="1330.58" x2="1339.93" y1="337.6" y2="337.6" stroke="#2E2E2E" stroke-width="2.4"/><line x1="1358.12" x2="1358.12" y1="441.5" y2="446.5" stroke="#2E2E2E" stroke-width="1.4"/><line x1="1352.84" x2="1352.84" y1="401.7" y2="412.6" stroke="#2E2E2E" stroke-width="1.35"/><rect x="1348.17" y="412.6" width="9.35" height="10.9" fill="#E5716F" stroke="#2E2E2E" stroke-width="1.2"/><line x1="1348.17" x2="1357.52" y1="414.8" y2="414.8" stroke="#2E2E2E" stroke-width="2.4"/><line x1="1363.39" x2="1363.39" y1="397" y2="405.7" stroke="#2E2E2E" stroke-width="1.35"/><line x1="1363.39" x2="1363.39" y1="414.8" y2="422.5" stroke="#2E2E2E" stroke-width="1.35"/><rect x="1358.72" y="405.7" width="9.35" height="9.1" fill="#C3DC7C" stroke="#2E2E2E" stroke-width="1.2"/><line x1="1358.72" x2="1368.07" y1="411.1" y2="411.1" stroke="#2E2E2E" stroke-width="2.4"/><line x1="1386.25" x2="1386.25" y1="441.5" y2="446.5" stroke="#2E2E2E" stroke-width="1.4"/><rect x="1376.3" y="423.5" width="9.35" height="0" fill="#E5716F" stroke="#2E2E2E" stroke-width="1.2"/><line x1="1376.3" x2="1385.65" y1="423.5" y2="423.5" stroke="#2E2E2E" stroke-width="2.4"/><rect x="1386.85" y="423.5" width="9.35" height="0" fill="#C3DC7C" stroke="#2E2E2E" stroke-width="1.2"/><line x1="1386.85" x2="1396.2" y1="423.5" y2="423.5" stroke="#2E2E2E" stroke-width="2.4"/><line x1="1414.38" x2="1414.38" y1="441.5" y2="446.5" stroke="#2E2E2E" stroke-width="1.4"/><line x1="1409.11" x2="1409.11" y1="405.3" y2="409.6" stroke="#2E2E2E" stroke-width="1.35"/><line x1="1409.11" x2="1409.11" y1="415.4" y2="421.2" stroke="#2E2E2E" stroke-width="1.35"/><rect x="1404.43" y="409.6" width="9.35" height="5.8" fill="#E5716F" stroke="#2E2E2E" stroke-width="1.2"/><line x1="1404.43" x2="1413.78" y1="412.7" y2="412.7" stroke="#2E2E2E" stroke-width="2.4"/><line x1="1419.66" x2="1419.66" y1="405.3" y2="408.2" stroke="#2E2E2E" stroke-width="1.35"/><line x1="1419.66" x2="1419.66" y1="411.1" y2="414" stroke="#2E2E2E" stroke-width="1.35"/><rect x="1414.98" y="408.2" width="9.35" height="2.9" fill="#C3DC7C" stroke="#2E2E2E" stroke-width="1.2"/><line x1="1414.98" x2="1424.33" y1="409.6" y2="409.6" stroke="#2E2E2E" stroke-width="2.4"/><line x1="1442.52" x2="1442.52" y1="441.5" y2="446.5" stroke="#2E2E2E" stroke-width="1.4"/><line x1="1437.24" x2="1437.24" y1="309.5" y2="350.4" stroke="#2E2E2E" stroke-width="1.35"/><line x1="1437.24" x2="1437.24" y1="378.1" y2="418.7" stroke="#2E2E2E" stroke-width="1.35"/><rect x="1432.57" y="350.4" width="9.35" height="27.7" fill="#E5716F" stroke="#2E2E2E" stroke-width="1.2"/><line x1="1432.57" x2="1441.92" y1="365.6" y2="365.6" stroke="#2E2E2E" stroke-width="2.4"/><line x1="1447.79" x2="1447.79" y1="353.2" y2="378.1" stroke="#2E2E2E" stroke-width="1.35"/><line x1="1447.79" x2="1447.79" y1="411.3" y2="423.5" stroke="#2E2E2E" stroke-width="1.35"/><rect x="1443.12" y="378.1" width="9.35" height="33.2" fill="#C3DC7C" stroke="#2E2E2E" stroke-width="1.2"/><line x1="1443.12" x2="1452.47" y1="392.5" y2="392.5" stroke="#2E2E2E" stroke-width="2.4"/><line x1="1470.65" x2="1470.65" y1="441.5" y2="446.5" stroke="#2E2E2E" stroke-width="1.4"/><line x1="1465.38" x2="1465.38" y1="413.6" y2="419.4" stroke="#2E2E2E" stroke-width="1.35"/><rect x="1460.7" y="419.4" width="9.35" height="4.1" fill="#E5716F" stroke="#2E2E2E" stroke-width="1.2"/><line x1="1460.7" x2="1470.05" y1="421" y2="421" stroke="#2E2E2E" stroke-width="2.4"/><rect x="1471.25" y="423.5" width="9.35" height="0" fill="#C3DC7C" stroke="#2E2E2E" stroke-width="1.2"/><line x1="1471.25" x2="1480.6" y1="423.5" y2="423.5" stroke="#2E2E2E" stroke-width="2.4"/><line x1="1498.78" x2="1498.78" y1="441.5" y2="446.5" stroke="#2E2E2E" stroke-width="1.4"/><line x1="1493.51" x2="1493.51" y1="229.4" y2="315.5" stroke="#2E2E2E" stroke-width="1.35"/><line x1="1493.51" x2="1493.51" y1="374.3" y2="423.5" stroke="#2E2E2E" stroke-width="1.35"/><rect x="1488.83" y="315.5" width="9.35" height="58.8" fill="#E5716F" stroke="#2E2E2E" stroke-width="1.2"/><line x1="1488.83" x2="1498.18" y1="345.1" y2="345.1" stroke="#2E2E2E" stroke-width="2.4"/><line x1="1504.06" x2="1504.06" y1="247.2" y2="314.2" stroke="#2E2E2E" stroke-width="1.35"/><line x1="1504.06" x2="1504.06" y1="370" y2="423.5" stroke="#2E2E2E" stroke-width="1.35"/><rect x="1499.38" y="314.2" width="9.35" height="55.8" fill="#C3DC7C" stroke="#2E2E2E" stroke-width="1.2"/><line x1="1499.38" x2="1508.73" y1="347.4" y2="347.4" stroke="#2E2E2E" stroke-width="2.4"/><line x1="1526.92" x2="1526.92" y1="441.5" y2="446.5" stroke="#2E2E2E" stroke-width="1.4"/><line x1="1521.64" x2="1521.64" y1="300.1" y2="332.6" stroke="#2E2E2E" stroke-width="1.35"/><line x1="1521.64" x2="1521.64" y1="378.4" y2="423.5" stroke="#2E2E2E" stroke-width="1.35"/><rect x="1516.97" y="332.6" width="9.35" height="45.8" fill="#E5716F" stroke="#2E2E2E" stroke-width="1.2"/><line x1="1516.97" x2="1526.32" y1="360.9" y2="360.9" stroke="#2E2E2E" stroke-width="2.4"/><line x1="1532.19" x2="1532.19" y1="319.2" y2="347.7" stroke="#2E2E2E" stroke-width="1.35"/><line x1="1532.19" x2="1532.19" y1="387.5" y2="423.5" stroke="#2E2E2E" stroke-width="1.35"/><rect x="1527.52" y="347.7" width="9.35" height="39.8" fill="#C3DC7C" stroke="#2E2E2E" stroke-width="1.2"/><line x1="1527.52" x2="1536.87" y1="373.7" y2="373.7" stroke="#2E2E2E" stroke-width="2.4"/><line x1="1555.05" x2="1555.05" y1="441.5" y2="446.5" stroke="#2E2E2E" stroke-width="1.4"/><line x1="1549.77" x2="1549.77" y1="397.2" y2="412" stroke="#2E2E2E" stroke-width="1.35"/><rect x="1545.1" y="412" width="9.35" height="11.5" fill="#E5716F" stroke="#2E2E2E" stroke-width="1.2"/><line x1="1545.1" x2="1554.45" y1="418.1" y2="418.1" stroke="#2E2E2E" stroke-width="2.4"/><line x1="1560.32" x2="1560.32" y1="422.5" y2="423.5" stroke="#2E2E2E" stroke-width="1.35"/><rect x="1555.65" y="423.5" width="9.35" height="0" fill="#C3DC7C" stroke="#2E2E2E" stroke-width="1.2"/><line x1="1555.65" x2="1565" y1="423.5" y2="423.5" stroke="#2E2E2E" stroke-width="2.4"/><line x1="1583.18" x2="1583.18" y1="441.5" y2="446.5" stroke="#2E2E2E" stroke-width="1.4"/><line x1="1577.91" x2="1577.91" y1="369" y2="390.5" stroke="#2E2E2E" stroke-width="1.35"/><line x1="1577.91" x2="1577.91" y1="407.3" y2="417.1" stroke="#2E2E2E" stroke-width="1.35"/><rect x="1573.23" y="390.5" width="9.35" height="16.8" fill="#E5716F" stroke="#2E2E2E" stroke-width="1.2"/><line x1="1573.23" x2="1582.58" y1="397.2" y2="397.2" stroke="#2E2E2E" stroke-width="2.4"/><line x1="1588.46" x2="1588.46" y1="396.3" y2="400.3" stroke="#2E2E2E" stroke-width="1.35"/><line x1="1588.46" x2="1588.46" y1="411.3" y2="423.5" stroke="#2E2E2E" stroke-width="1.35"/><rect x="1583.78" y="400.3" width="9.35" height="11" fill="#C3DC7C" stroke="#2E2E2E" stroke-width="1.2"/><line x1="1583.78" x2="1593.13" y1="407" y2="407" stroke="#2E2E2E" stroke-width="2.4"/><line x1="1611.32" x2="1611.32" y1="441.5" y2="446.5" stroke="#2E2E2E" stroke-width="1.4"/><line x1="1606.04" x2="1606.04" y1="388.2" y2="402.6" stroke="#2E2E2E" stroke-width="1.35"/><line x1="1606.04" x2="1606.04" y1="420.1" y2="423.5" stroke="#2E2E2E" stroke-width="1.35"/><rect x="1601.37" y="402.6" width="9.35" height="17.5" fill="#E5716F" stroke="#2E2E2E" stroke-width="1.2"/><line x1="1601.37" x2="1610.72" y1="408.7" y2="408.7" stroke="#2E2E2E" stroke-width="2.4"/><line x1="1616.59" x2="1616.59" y1="391.8" y2="404.2" stroke="#2E2E2E" stroke-width="1.35"/><rect x="1611.91" y="404.2" width="9.35" height="19.3" fill="#C3DC7C" stroke="#2E2E2E" stroke-width="1.2"/><line x1="1611.91" x2="1621.27" y1="409.7" y2="409.7" stroke="#2E2E2E" stroke-width="2.4"/><line x1="1639.45" x2="1639.45" y1="441.5" y2="446.5" stroke="#2E2E2E" stroke-width="1.4"/><line x1="1634.17" x2="1634.17" y1="386.2" y2="402.6" stroke="#2E2E2E" stroke-width="1.35"/><line x1="1634.17" x2="1634.17" y1="414.4" y2="423.5" stroke="#2E2E2E" stroke-width="1.35"/><rect x="1629.5" y="402.6" width="9.35" height="11.8" fill="#E5716F" stroke="#2E2E2E" stroke-width="1.2"/><line x1="1629.5" x2="1638.85" y1="406.9" y2="406.9" stroke="#2E2E2E" stroke-width="2.4"/><line x1="1644.72" x2="1644.72" y1="389.1" y2="399.2" stroke="#2E2E2E" stroke-width="1.35"/><line x1="1644.72" x2="1644.72" y1="411.7" y2="423.5" stroke="#2E2E2E" stroke-width="1.35"/><rect x="1640.05" y="399.2" width="9.35" height="12.5" fill="#C3DC7C" stroke="#2E2E2E" stroke-width="1.2"/><line x1="1640.05" x2="1649.4" y1="403.3" y2="403.3" stroke="#2E2E2E" stroke-width="2.4"/><line x1="1667.58" x2="1667.58" y1="441.5" y2="446.5" stroke="#2E2E2E" stroke-width="1.4"/><line x1="1662.31" x2="1662.31" y1="336.4" y2="359.5" stroke="#2E2E2E" stroke-width="1.35"/><line x1="1662.31" x2="1662.31" y1="379.7" y2="402.3" stroke="#2E2E2E" stroke-width="1.35"/><rect x="1657.63" y="359.5" width="9.35" height="20.2" fill="#E5716F" stroke="#2E2E2E" stroke-width="1.2"/><line x1="1657.63" x2="1666.98" y1="369.9" y2="369.9" stroke="#2E2E2E" stroke-width="2.4"/><line x1="1672.86" x2="1672.86" y1="321.2" y2="352.5" stroke="#2E2E2E" stroke-width="1.35"/><line x1="1672.86" x2="1672.86" y1="377.7" y2="412.7" stroke="#2E2E2E" stroke-width="1.35"/><rect x="1668.18" y="352.5" width="9.35" height="25.2" fill="#C3DC7C" stroke="#2E2E2E" stroke-width="1.2"/><line x1="1668.18" x2="1677.53" y1="359.8" y2="359.8" stroke="#2E2E2E" stroke-width="2.4"/><line x1="1695.71" x2="1695.71" y1="441.5" y2="446.5" stroke="#2E2E2E" stroke-width="1.4"/><line x1="1690.44" x2="1690.44" y1="379.5" y2="404.2" stroke="#2E2E2E" stroke-width="1.35"/><line x1="1690.44" x2="1690.44" y1="421.4" y2="423.5" stroke="#2E2E2E" stroke-width="1.35"/><rect x="1685.76" y="404.2" width="9.35" height="17.2" fill="#E5716F" stroke="#2E2E2E" stroke-width="1.2"/><line x1="1685.76" x2="1695.11" y1="412" y2="412" stroke="#2E2E2E" stroke-width="2.4"/><line x1="1700.99" x2="1700.99" y1="399.2" y2="411.3" stroke="#2E2E2E" stroke-width="1.35"/><rect x="1696.31" y="411.3" width="9.35" height="12.2" fill="#C3DC7C" stroke="#2E2E2E" stroke-width="1.2"/><line x1="1696.31" x2="1705.66" y1="423.5" y2="423.5" stroke="#2E2E2E" stroke-width="2.4"/><line x1="1723.85" x2="1723.85" y1="441.5" y2="446.5" stroke="#2E2E2E" stroke-width="1.4"/><line x1="1718.57" x2="1718.57" y1="419.5" y2="420.8" stroke="#2E2E2E" stroke-width="1.35"/><line x1="1718.57" x2="1718.57" y1="422.8" y2="423.5" stroke="#2E2E2E" stroke-width="1.35"/><rect x="1713.9" y="420.8" width="9.35" height="2" fill="#E5716F" stroke="#2E2E2E" stroke-width="1.2"/><line x1="1713.9" x2="1723.25" y1="422" y2="422" stroke="#2E2E2E" stroke-width="2.4"/><line x1="1729.12" x2="1729.12" y1="418.8" y2="420.1" stroke="#2E2E2E" stroke-width="1.35"/><line x1="1729.12" x2="1729.12" y1="422.5" y2="423.5" stroke="#2E2E2E" stroke-width="1.35"/><rect x="1724.45" y="420.1" width="9.35" height="2.4" fill="#C3DC7C" stroke="#2E2E2E" stroke-width="1.2"/><line x1="1724.45" x2="1733.8" y1="421.5" y2="421.5" stroke="#2E2E2E" stroke-width="2.4"/><line x1="1751.98" x2="1751.98" y1="441.5" y2="446.5" stroke="#2E2E2E" stroke-width="1.4"/><line x1="1746.71" x2="1746.71" y1="397.2" y2="411.3" stroke="#2E2E2E" stroke-width="1.35"/><line x1="1746.71" x2="1746.71" y1="421.7" y2="423.5" stroke="#2E2E2E" stroke-width="1.35"/><rect x="1742.03" y="411.3" width="9.35" height="10.4" fill="#E5716F" stroke="#2E2E2E" stroke-width="1.2"/><line x1="1742.03" x2="1751.38" y1="416.7" y2="416.7" stroke="#2E2E2E" stroke-width="2.4"/><line x1="1757.26" x2="1757.26" y1="401.5" y2="411.3" stroke="#2E2E2E" stroke-width="1.35"/><line x1="1757.26" x2="1757.26" y1="421.7" y2="423.5" stroke="#2E2E2E" stroke-width="1.35"/><rect x="1752.58" y="411.3" width="9.35" height="10.4" fill="#C3DC7C" stroke="#2E2E2E" stroke-width="1.2"/><line x1="1752.58" x2="1761.93" y1="414.7" y2="414.7" stroke="#2E2E2E" stroke-width="2.4"/><line x1="1780.11" x2="1780.11" y1="441.5" y2="446.5" stroke="#2E2E2E" stroke-width="1.4"/><line x1="1774.84" x2="1774.84" y1="409.3" y2="417.4" stroke="#2E2E2E" stroke-width="1.35"/><rect x="1770.16" y="417.4" width="9.35" height="6.1" fill="#E5716F" stroke="#2E2E2E" stroke-width="1.2"/><line x1="1770.16" x2="1779.51" y1="422.4" y2="422.4" stroke="#2E2E2E" stroke-width="2.4"/><line x1="1785.39" x2="1785.39" y1="422.3" y2="423.5" stroke="#2E2E2E" stroke-width="1.35"/><rect x="1780.71" y="423.5" width="9.35" height="0" fill="#C3DC7C" stroke="#2E2E2E" stroke-width="1.2"/><line x1="1780.71" x2="1790.06" y1="423.5" y2="423.5" stroke="#2E2E2E" stroke-width="2.4"/><line x1="1808.25" x2="1808.25" y1="441.5" y2="446.5" stroke="#2E2E2E" stroke-width="1.4"/><line x1="1802.97" x2="1802.97" y1="312.2" y2="339.4" stroke="#2E2E2E" stroke-width="1.35"/><line x1="1802.97" x2="1802.97" y1="364.2" y2="399.2" stroke="#2E2E2E" stroke-width="1.35"/><rect x="1798.3" y="339.4" width="9.35" height="24.8" fill="#E5716F" stroke="#2E2E2E" stroke-width="1.2"/><line x1="1798.3" x2="1807.65" y1="349.9" y2="349.9" stroke="#2E2E2E" stroke-width="2.4"/><line x1="1813.52" x2="1813.52" y1="306.1" y2="334.4" stroke="#2E2E2E" stroke-width="1.35"/><line x1="1813.52" x2="1813.52" y1="365.6" y2="395.9" stroke="#2E2E2E" stroke-width="1.35"/><rect x="1808.85" y="334.4" width="9.35" height="31.2" fill="#C3DC7C" stroke="#2E2E2E" stroke-width="1.2"/><line x1="1808.85" x2="1818.2" y1="350.5" y2="350.5" stroke="#2E2E2E" stroke-width="2.4"/><line x1="1836.38" x2="1836.38" y1="441.5" y2="446.5" stroke="#2E2E2E" stroke-width="1.4"/><line x1="1831.1" x2="1831.1" y1="380.8" y2="403.3" stroke="#2E2E2E" stroke-width="1.35"/><rect x="1826.43" y="403.3" width="9.35" height="20.2" fill="#E5716F" stroke="#2E2E2E" stroke-width="1.2"/><line x1="1826.43" x2="1835.78" y1="411.2" y2="411.2" stroke="#2E2E2E" stroke-width="2.4"/><line x1="1841.65" x2="1841.65" y1="406.4" y2="414.4" stroke="#2E2E2E" stroke-width="1.35"/><rect x="1836.98" y="414.4" width="9.35" height="9.1" fill="#C3DC7C" stroke="#2E2E2E" stroke-width="1.2"/><line x1="1836.98" x2="1846.33" y1="423.5" y2="423.5" stroke="#2E2E2E" stroke-width="2.4"/><line x1="1864.51" x2="1864.51" y1="441.5" y2="446.5" stroke="#2E2E2E" stroke-width="1.4"/><line x1="1859.24" x2="1859.24" y1="345.4" y2="384" stroke="#2E2E2E" stroke-width="1.35"/><line x1="1859.24" x2="1859.24" y1="421.7" y2="423.5" stroke="#2E2E2E" stroke-width="1.35"/><rect x="1854.56" y="384" width="9.35" height="37.7" fill="#E5716F" stroke="#2E2E2E" stroke-width="1.2"/><line x1="1854.56" x2="1863.91" y1="409" y2="409" stroke="#2E2E2E" stroke-width="2.4"/><line x1="1869.79" x2="1869.79" y1="371.8" y2="396.6" stroke="#2E2E2E" stroke-width="1.35"/><rect x="1865.11" y="396.6" width="9.35" height="26.9" fill="#C3DC7C" stroke="#2E2E2E" stroke-width="1.2"/><line x1="1865.11" x2="1874.46" y1="407.7" y2="407.7" stroke="#2E2E2E" stroke-width="2.4"/><line x1="1892.64" x2="1892.64" y1="441.5" y2="446.5" stroke="#2E2E2E" stroke-width="1.4"/><line x1="1887.37" x2="1887.37" y1="375" y2="387.4" stroke="#2E2E2E" stroke-width="1.35"/><line x1="1887.37" x2="1887.37" y1="401.7" y2="423.5" stroke="#2E2E2E" stroke-width="1.35"/><rect x="1882.69" y="387.4" width="9.35" height="14.3" fill="#E5716F" stroke="#2E2E2E" stroke-width="1.2"/><line x1="1882.69" x2="1892.05" y1="393.7" y2="393.7" stroke="#2E2E2E" stroke-width="2.4"/><line x1="1897.92" x2="1897.92" y1="369.4" y2="385.1" stroke="#2E2E2E" stroke-width="1.35"/><line x1="1897.92" x2="1897.92" y1="402.9" y2="421.1" stroke="#2E2E2E" stroke-width="1.35"/><rect x="1893.24" y="385.1" width="9.35" height="17.8" fill="#C3DC7C" stroke="#2E2E2E" stroke-width="1.2"/><line x1="1893.24" x2="1902.6" y1="393.1" y2="393.1" stroke="#2E2E2E" stroke-width="2.4"/><line x1="1920.78" x2="1920.78" y1="441.5" y2="446.5" stroke="#2E2E2E" stroke-width="1.4"/><line x1="1915.5" x2="1915.5" y1="381.2" y2="405.8" stroke="#2E2E2E" stroke-width="1.35"/><rect x="1910.83" y="405.8" width="9.35" height="17.7" fill="#E5716F" stroke="#2E2E2E" stroke-width="1.2"/><line x1="1910.83" x2="1920.18" y1="412" y2="412" stroke="#2E2E2E" stroke-width="2.4"/><line x1="1926.05" x2="1926.05" y1="375" y2="396" stroke="#2E2E2E" stroke-width="1.35"/><line x1="1926.05" x2="1926.05" y1="415.4" y2="423.5" stroke="#2E2E2E" stroke-width="1.35"/><rect x="1921.38" y="396" width="9.35" height="19.4" fill="#C3DC7C" stroke="#2E2E2E" stroke-width="1.2"/><line x1="1921.38" x2="1930.73" y1="402.9" y2="402.9" stroke="#2E2E2E" stroke-width="2.4"/></g><g font-size="18.3" text-anchor="middle"><text x="64" y="337">*</text><text x="92.13" y="271.5">ns</text><text x="120.27" y="401.6">ns</text><text x="148.4" y="386.6">ns</text><text x="176.53" y="289">ns</text><text x="204.66" y="289.7">ns</text><text x="232.8" y="359.2">*</text><text x="260.93" y="330">ns</text><text x="289.06" y="373">ns</text><text x="317.2" y="320.8">***</text><text x="345.33" y="353.6">***</text><text x="373.46" y="345">ns</text><text x="401.6" y="309.7">**</text><text x="429.73" y="338.3">*</text><text x="457.86" y="345.8">*</text><text x="486" y="365.8">ns</text><text x="514.13" y="363.1">*</text><text x="542.26" y="332">ns</text><text x="570.39" y="368.9">*</text><text x="598.53" y="344">ns</text><text x="626.66" y="297.5">ns</text><text x="654.79" y="282.5">ns</text><text x="682.93" y="337">***</text><text x="711.06" y="406.7">**</text><text x="739.19" y="400.3">ns</text><text x="767.32" y="349">**</text><text x="795.46" y="399.2">ns</text><text x="823.59" y="270.6">ns</text><text x="851.72" y="352.8">ns</text><text x="879.86" y="153.8">***</text><text x="907.99" y="357.2">***</text><text x="936.12" y="300.2">ns</text><text x="964.26" y="375.3">ns</text><text x="992.39" y="391.5">ns</text><text x="1020.52" y="313">ns</text><text x="1048.65" y="399.4">**</text><text x="1076.79" y="328.2">*</text><text x="1104.92" y="381.3">ns</text><text x="1133.05" y="402.6">ns</text><text x="1161.19" y="403.5">ns</text><text x="1189.32" y="394.9">ns</text><text x="1217.45" y="59.6">***</text><text x="1245.59" y="359.8">***</text><text x="1273.72" y="279.8">**</text><text x="1301.85" y="163">ns</text><text x="1329.98" y="269.1">ns</text><text x="1358.12" y="385.3">***</text><text x="1386.25" y="409.3">ns</text><text x="1414.38" y="396.2">***</text><text x="1442.52" y="295.4">***</text><text x="1470.65" y="402.6">ns</text><text x="1498.78" y="216.2">ns</text><text x="1526.92" y="291.6">ns</text><text x="1555.05" y="387.3">*</text><text x="1583.18" y="357.7">**</text><text x="1611.32" y="375">ns</text><text x="1639.45" y="373.9">ns</text><text x="1667.58" y="307.7">ns</text><text x="1695.71" y="369.8">*</text><text x="1723.85" y="408.2">**</text><text x="1751.98" y="385.8">ns</text><text x="1780.11" y="383.8">ns</text><text x="1808.25" y="283.5">ns</text><text x="1836.38" y="368.5">***</text><text x="1864.51" y="332.4">ns</text><text x="1892.64" y="361.8">ns</text><text x="1920.78" y="367.6">**</text></g><g font-size="15" text-anchor="end"><text transform="translate(73,456) rotate(-60)" fill="#E8300C">aDC</text><text transform="translate(101.13,456) rotate(-60)" fill="#000">Adipocytes</text><text transform="translate(129.27,456) rotate(-60)" fill="#000">Astrocytes</text><text transform="translate(157.4,456) rotate(-60)" fill="#000">B-cells</text><text transform="translate(185.53,456) rotate(-60)" fill="#000">Basophils</text><text transform="translate(213.66,456) rotate(-60)" fill="#000">CD4+ memory T-cells</text><text transform="translate(241.8,456) rotate(-60)" fill="#E8300C">CD4+ naive T-cells</text><text transform="translate(269.93,456) rotate(-60)" fill="#000">CD4+ T-cells</text><text transform="translate(298.06,456) rotate(-60)" fill="#000">CD4+ Tcm</text><text transform="translate(326.2,456) rotate(-60)" fill="#E8300C">CD4+ Tem</text><text transform="translate(354.33,456) rotate(-60)" fill="#E8300C">CD8+ naive T-cells</text><text transform="translate(382.46,456) rotate(-60)" fill="#000">CD8+ T-cells</text><text transform="translate(410.6,456) rotate(-60)" fill="#E8300C">CD8+ Tcm</text><text transform="translate(438.73,456) rotate(-60)" fill="#E8300C">CD8+ Tem</text><text transform="translate(466.86,456) rotate(-60)" fill="#E8300C">cDC</text><text transform="translate(495,456) rotate(-60)" fill="#000">Chondrocytes</text><text transform="translate(523.13,456) rotate(-60)" fill="#E8300C">Class-switched memory B-cells</text><text transform="translate(551.26,456) rotate(-60)" fill="#000">CLP</text><text transform="translate(579.39,456) rotate(-60)" fill="#E8300C">CMP</text><text transform="translate(607.53,456) rotate(-60)" fill="#000">DC</text><text transform="translate(635.66,456) rotate(-60)" fill="#000">Endothelial cells</text><text transform="translate(663.79,456) rotate(-60)" fill="#000">Eosinophils</text><text transform="translate(691.93,456) rotate(-60)" fill="#E8300C">Epithelial cells</text><text transform="translate(720.06,456) rotate(-60)" fill="#E8300C">Erythrocytes</text><text transform="translate(748.19,456) rotate(-60)" fill="#000">Fibroblasts</text><text transform="translate(776.32,456) rotate(-60)" fill="#E8300C">GMP</text><text transform="translate(804.46,456) rotate(-60)" fill="#000">Hepatocytes</text><text transform="translate(832.59,456) rotate(-60)" fill="#000">HSC</text><text transform="translate(860.72,456) rotate(-60)" fill="#000">iDC</text><text transform="translate(888.86,456) rotate(-60)" fill="#E8300C">ImmuneScore</text><text transform="translate(916.99,456) rotate(-60)" fill="#E8300C">Keratinocytes</text><text transform="translate(945.12,456) rotate(-60)" fill="#000">ly Endothelial cells</text><text transform="translate(973.26,456) rotate(-60)" fill="#000">Macrophages</text><text transform="translate(1001.39,456) rotate(-60)" fill="#000">Macrophages M1</text><text transform="translate(1029.52,456) rotate(-60)" fill="#000">Macrophages M2</text><text transform="translate(1057.65,456) rotate(-60)" fill="#E8300C">Mast cells</text><text transform="translate(1085.79,456) rotate(-60)" fill="#E8300C">Megakaryocytes</text><text transform="translate(1113.92,456) rotate(-60)" fill="#000">Melanocytes</text><text transform="translate(1142.05,456) rotate(-60)" fill="#000">Memory B-cells</text><text transform="translate(1170.19,456) rotate(-60)" fill="#000">MEP</text><text transform="translate(1198.32,456) rotate(-60)" fill="#000">Mesangial cells</text><text transform="translate(1226.45,456) rotate(-60)" fill="#E8300C">MicroenvironmentScore</text><text transform="translate(1254.59,456) rotate(-60)" fill="#E8300C">Monocytes</text><text transform="translate(1282.72,456) rotate(-60)" fill="#E8300C">MPP</text><text transform="translate(1310.85,456) rotate(-60)" fill="#000">MSC</text><text transform="translate(1338.98,456) rotate(-60)" fill="#000">mv Endothelial cells</text><text transform="translate(1367.12,456) rotate(-60)" fill="#E8300C">Myocytes</text><text transform="translate(1395.25,456) rotate(-60)" fill="#000">naive B-cells</text><text transform="translate(1423.38,456) rotate(-60)" fill="#E8300C">Neurons</text><text transform="translate(1451.52,456) rotate(-60)" fill="#E8300C">Neutrophils</text><text transform="translate(1479.65,456) rotate(-60)" fill="#000">NK cells</text><text transform="translate(1507.78,456) rotate(-60)" fill="#000">NKT</text><text transform="translate(1535.92,456) rotate(-60)" fill="#000">Osteoblast</text><text transform="translate(1564.05,456) rotate(-60)" fill="#E8300C">pDC</text><text transform="translate(1592.18,456) rotate(-60)" fill="#E8300C">Pericytes</text><text transform="translate(1620.32,456) rotate(-60)" fill="#000">Plasma cells</text><text transform="translate(1648.45,456) rotate(-60)" fill="#000">Platelets</text><text transform="translate(1676.58,456) rotate(-60)" fill="#000">Preadipocytes</text><text transform="translate(1704.71,456) rotate(-60)" fill="#E8300C">pro B-cells</text><text transform="translate(1732.85,456) rotate(-60)" fill="#E8300C">Sebocytes</text><text transform="translate(1760.98,456) rotate(-60)" fill="#000">Skeletal muscle</text><text transform="translate(1789.11,456) rotate(-60)" fill="#000">Smooth muscle</text><text transform="translate(1817.25,456) rotate(-60)" fill="#000">StromaScore</text><text transform="translate(1845.38,456) rotate(-60)" fill="#E8300C">Tgd cells</text><text transform="translate(1873.51,456) rotate(-60)" fill="#000">Th1 cells</text><text transform="translate(1901.64,456) rotate(-60)" fill="#000">Th2 cells</text><text transform="translate(1929.78,456) rotate(-60)" fill="#E8300C">Tregs</text></g><text x="1722.2" y="60.5" font-size="16">group</text><line x1="1734.9" x2="1734.9" y1="74.1" y2="94.8" stroke="#2E2E2E" stroke-width="1.2"/><rect x="1725" y="77.4" width="19.8" height="14.1" fill="#E5716F" stroke="#2E2E2E" stroke-width="1.2"/><line x1="1725" x2="1744.8" y1="84.3" y2="84.3" stroke="#2E2E2E" stroke-width="2.4"/><text x="1756.4" y="89.3" font-size="13">AF</text><line x1="1734.9" x2="1734.9" y1="100.3" y2="121" stroke="#2E2E2E" stroke-width="1.2"/><rect x="1725" y="103.4" width="19.8" height="14.1" fill="#C3DC7C" stroke="#2E2E2E" stroke-width="1.2"/><line x1="1725" x2="1744.8" y1="110.4" y2="110.4" stroke="#2E2E2E" stroke-width="2.4"/><text x="1756.4" y="115.5" font-size="13">SR</text><text x="1.6" y="701" font-size="27.5">B</text><text x="281.2" y="701" font-size="21.6" font-weight="bold" text-anchor="middle">Scale independence</text><rect x="152.9" y="737.5" width="256.1" height="330.7" fill="none" stroke="#000" stroke-width="1.1"/><line x1="152.9" x2="409.0" y1="756.9" y2="756.9" stroke="#FF0000" stroke-width="1.1"/><line x1="154.2" x2="399.3" y1="1068.2" y2="1068.2" stroke="#000" stroke-width="1.1"/><line x1="154.2" x2="154.2" y1="1068.2" y2="1078.5" stroke="#000" stroke-width="1.1"/><text x="154.2" y="1107.8" font-size="18" text-anchor="middle">0</text><line x1="195.05" x2="195.05" y1="1068.2" y2="1078.5" stroke="#000" stroke-width="1.1"/><text x="195.05" y="1107.8" font-size="18" text-anchor="middle">5</text><line x1="235.9" x2="235.9" y1="1068.2" y2="1078.5" stroke="#000" stroke-width="1.1"/><text x="235.9" y="1107.8" font-size="18" text-anchor="middle">10</text><line x1="276.75" x2="276.75" y1="1068.2" y2="1078.5" stroke="#000" stroke-width="1.1"/><text x="276.75" y="1107.8" font-size="18" text-anchor="middle">15</text><line x1="317.6" x2="317.6" y1="1068.2" y2="1078.5" stroke="#000" stroke-width="1.1"/><text x="317.6" y="1107.8" font-size="18" text-anchor="middle">20</text><line x1="358.45" x2="358.45" y1="1068.2" y2="1078.5" stroke="#000" stroke-width="1.1"/><text x="358.45" y="1107.8" font-size="18" text-anchor="middle">25</text><line x1="399.3" x2="399.3" y1="1068.2" y2="1078.5" stroke="#000" stroke-width="1.1"/><text x="399.3" y="1107.8" font-size="18" text-anchor="middle">30</text><text x="281.2" y="1150.9" font-size="18" text-anchor="middle">Soft Threshold (power)</text><line x1="152.9" x2="152.9" y1="992.9" y2="811.5" stroke="#000" stroke-width="1.1"/><line x1="142.1" x2="152.9" y1="992.9" y2="992.9" stroke="#000" stroke-width="1.1"/><text transform="translate(127.5,992.9) rotate(-90)" font-size="18" text-anchor="middle">-0.5</text><line x1="142.1" x2="152.9" y1="902.2" y2="902.2" stroke="#000" stroke-width="1.1"/><text transform="translate(127.5,902.2) rotate(-90)" font-size="18" text-anchor="middle">0.0</text><line x1="142.1" x2="152.9" y1="811.5" y2="811.5" stroke="#000" stroke-width="1.1"/><text transform="translate(127.5,811.5) rotate(-90)" font-size="18" text-anchor="middle">0.5</text><text transform="translate(84.5,902.9) rotate(-90)" font-size="18" text-anchor="middle">Scale Free Topology Model Fit,signed R^2</text><g font-size="16.2" fill="#FF0000" text-anchor="middle"><text x="162.37" y="1062.7">1</text><text x="170.54" y="1049.3">2</text><text x="178.71" y="1035.3">3</text><text x="186.88" y="1016.4">4</text><text x="195.05" y="997.3">5</text><text x="203.22" y="973.1">6</text><text x="211.39" y="951">7</text><text x="219.56" y="929">8</text><text x="227.73" y="914.7">9</text><text x="235.9" y="908">10</text><text x="252.24" y="886.5">12</text><text x="268.58" y="842.1">14</text><text x="284.92" y="813.8">16</text><text x="301.26" y="796.3">18</text><text x="317.6" y="782.1">20</text><text x="333.94" y="774.2">22</text><text x="350.28" y="770.8">24</text><text x="366.62" y="765.9">26</text><text x="382.96" y="760">28</text><text x="399.3" y="756">30</text></g><text x="759.7" y="709" font-size="21.6" font-weight="bold" text-anchor="middle">Mean connectivity</text><rect x="632.4" y="746.1" width="255.9" height="330.2" fill="none" stroke="#000" stroke-width="1.1"/><line x1="633.7" x2="878.8" y1="1076.3" y2="1076.3" stroke="#000" stroke-width="1.1"/><line x1="633.7" x2="633.7" y1="1076.3" y2="1086.6" stroke="#000" stroke-width="1.1"/><text x="633.7" y="1115.9" font-size="18" text-anchor="middle">0</text><line x1="674.55" x2="674.55" y1="1076.3" y2="1086.6" stroke="#000" stroke-width="1.1"/><text x="674.55" y="1115.9" font-size="18" text-anchor="middle">5</text><line x1="715.4" x2="715.4" y1="1076.3" y2="1086.6" stroke="#000" stroke-width="1.1"/><text x="715.4" y="1115.9" font-size="18" text-anchor="middle">10</text><line x1="756.25" x2="756.25" y1="1076.3" y2="1086.6" stroke="#000" stroke-width="1.1"/><text x="756.25" y="1115.9" font-size="18" text-anchor="middle">15</text><line x1="797.1" x2="797.1" y1="1076.3" y2="1086.6" stroke="#000" stroke-width="1.1"/><text x="797.1" y="1115.9" font-size="18" text-anchor="middle">20</text><line x1="837.95" x2="837.95" y1="1076.3" y2="1086.6" stroke="#000" stroke-width="1.1"/><text x="837.95" y="1115.9" font-size="18" text-anchor="middle">25</text><line x1="878.8" x2="878.8" y1="1076.3" y2="1086.6" stroke="#000" stroke-width="1.1"/><text x="878.8" y="1115.9" font-size="18" text-anchor="middle">30</text><text x="759.7" y="1160.4" font-size="18" text-anchor="middle">Soft Threshold (power)</text><line x1="632.4" x2="632.4" y1="1066.4" y2="751.4" stroke="#000" stroke-width="1.1"/><line x1="621.6" x2="632.4" y1="1066.4" y2="1066.4" stroke="#000" stroke-width="1.1"/><text transform="translate(606.2,1066.4) rotate(-90)" font-size="18" text-anchor="middle">0</text><line x1="621.6" x2="632.4" y1="1013.9" y2="1013.9" stroke="#000" stroke-width="1.1"/><text transform="translate(606.2,1013.9) rotate(-90)" font-size="18" text-anchor="middle">500</text><line x1="621.6" x2="632.4" y1="961.4" y2="961.4" stroke="#000" stroke-width="1.1"/><text transform="translate(606.2,961.4) rotate(-90)" font-size="18" text-anchor="middle">1000</text><line x1="621.6" x2="632.4" y1="908.9" y2="908.9" stroke="#000" stroke-width="1.1"/><line x1="621.6" x2="632.4" y1="856.4" y2="856.4" stroke="#000" stroke-width="1.1"/><text transform="translate(606.2,856.4) rotate(-90)" font-size="18" text-anchor="middle">2000</text><line x1="621.6" x2="632.4" y1="803.9" y2="803.9" stroke="#000" stroke-width="1.1"/><line x1="621.6" x2="632.4" y1="751.4" y2="751.4" stroke="#000" stroke-width="1.1"/><text transform="translate(606.2,751.4) rotate(-90)" font-size="18" text-anchor="middle">3000</text><text transform="translate(564.2,911.6) rotate(-90)" font-size="18" text-anchor="middle">Mean Connectivity</text><g font-size="16.2" fill="#FF0000" text-anchor="middle"><text x="641.87" y="764">1</text><text x="650.04" y="834">2</text><text x="658.21" y="885.1">3</text><text x="666.38" y="924.7">4</text><text x="674.55" y="954.3">5</text><text x="682.72" y="977.4">6</text><text x="690.89" y="995.5">7</text><text x="699.06" y="1009.7">8</text><text x="707.23" y="1021.6">9</text><text x="715.4" y="1030.4">10</text><text x="731.74" y="1043.9">12</text><text x="748.08" y="1052">14</text><text x="764.42" y="1057.3">16</text><text x="780.76" y="1061.9">18</text><text x="797.1" y="1065.4">20</text><text x="813.44" y="1067.3">22</text><text x="829.78" y="1068.6">24</text><text x="846.12" y="1069.5">26</text><text x="862.46" y="1070">28</text><text x="878.8" y="1070.3">30</text></g><text x="1071.7" y="701.2" font-size="27.5">C</text><text x="1540.2" y="692.8" font-size="21.6" font-weight="bold" text-anchor="middle">Cluster Dendrogram</text><line x1="1215.3" x2="1215.3" y1="731.3" y2="1063.4" stroke="#000" stroke-width="1.1"/><line x1="1204.5" x2="1215.3" y1="731.3" y2="731.3" stroke="#000" stroke-width="1.1"/><text transform="translate(1188.9,731.3) rotate(-90)" font-size="18" text-anchor="middle">1.00</text><line x1="1204.5" x2="1215.3" y1="786.65" y2="786.65" stroke="#000" stroke-width="1.1"/><text transform="translate(1188.9,786.65) rotate(-90)" font-size="18" text-anchor="middle">0.98</text><line x1="1204.5" x2="1215.3" y1="842" y2="842" stroke="#000" stroke-width="1.1"/><text transform="translate(1188.9,842) rotate(-90)" font-size="18" text-anchor="middle">0.96</text><line x1="1204.5" x2="1215.3" y1="897.35" y2="897.35" stroke="#000" stroke-width="1.1"/><text transform="translate(1188.9,897.35) rotate(-90)" font-size="18" text-anchor="middle">0.94</text><line x1="1204.5" x2="1215.3" y1="952.7" y2="952.7" stroke="#000" stroke-width="1.1"/><text transform="translate(1188.9,952.7) rotate(-90)" font-size="18" text-anchor="middle">0.92</text><line x1="1204.5" x2="1215.3" y1="1008.05" y2="1008.05" stroke="#000" stroke-width="1.1"/><text transform="translate(1188.9,1008.05) rotate(-90)" font-size="18" text-anchor="middle">0.90</text><line x1="1204.5" x2="1215.3" y1="1063.4" y2="1063.4" stroke="#000" stroke-width="1.1"/><text transform="translate(1188.9,1063.4) rotate(-90)" font-size="18" text-anchor="middle">0.88</text><text transform="translate(1146.5,896.8) rotate(-90)" font-size="18" text-anchor="middle">Height</text><text x="1230" y="1124.5" font-size="14.4" text-anchor="end">Module colors</text><path d="M1239.0 730.7L1240.5 731.3L1242.0 732.0L1243.6 732.6L1245.1 733.3L1246.6 733.9L1248.1 734.5L1249.6 735.2L1251.1 736.1L1252.7 736.9L1254.2 737.7L1255.7 738.5L1257.2 739.4L1258.7 740.2L1260.2 741.0L1261.8 741.8L1263.3 742.7L1264.8 743.6L1266.3 744.5L1267.8 745.4L1269.3 746.3L1270.9 747.2L1272.4 748.1L1273.9 749.0L1275.4 749.9L1276.9 750.8L1278.4 751.7L1280.0 752.7L1281.5 753.6L1283.0 754.5L1284.5 755.4L1286.0 756.3L1287.5 757.2L1289.1 758.1L1290.6 759.0L1292.1 759.9L1293.6 760.7L1295.1 761.5L1296.6 762.2L1298.2 763.0L1299.7 763.8L1301.2 764.5L1302.7 765.3L1304.2 766.3L1305.7 767.6L1307.3 768.8L1308.8 770.0L1310.3 771.2L1311.8 772.5L1313.3 773.7L1314.8 775.0L1316.4 776.7L1317.9 778.5L1319.4 780.3L1320.9 782.0L1322.4 783.8L1323.9 785.4L1325.5 786.8L1327.0 788.1L1328.5 789.5L1328.5 820.7L1327.0 817.5L1325.5 814.3L1323.9 811.1L1322.4 807.7L1320.9 806.7L1319.4 806.5L1317.9 806.3L1316.4 806.1L1314.8 803.7L1313.3 800.2L1311.8 796.7L1310.3 793.2L1308.8 792.4L1307.3 796.5L1305.7 800.7L1304.2 804.9L1302.7 808.3L1301.2 806.0L1299.7 803.6L1298.2 801.0L1296.6 798.5L1295.1 799.3L1293.6 800.5L1292.1 801.6L1290.6 802.6L1289.1 799.8L1287.5 795.6L1286.0 791.4L1284.5 787.2L1283.0 783.2L1281.5 779.3L1280.0 775.5L1278.4 771.6L1276.9 770.3L1275.4 775.2L1273.9 780.1L1272.4 784.9L1270.9 789.3L1269.3 787.1L1267.8 784.9L1266.3 782.7L1264.8 780.5L1263.3 780.5L1261.8 780.8L1260.2 781.2L1258.7 781.5L1257.2 780.3L1255.7 778.4L1254.2 776.4L1252.7 774.5L1251.1 772.8L1249.6 771.5L1248.1 770.3L1246.6 769.1L1245.1 767.9L1243.6 766.4L1242.0 764.8L1240.5 763.3L1239.0 761.8ZM1329.0 794.5L1330.5 796.4L1332.1 798.3L1333.6 800.3L1335.2 802.2L1336.7 804.4L1338.2 806.6L1339.8 808.8L1341.3 811.0L1342.9 813.5L1344.4 816.2L1345.9 818.9L1347.5 821.6L1349.0 824.3L1350.6 827.1L1352.1 830.2L1353.6 833.3L1355.2 836.4L1356.7 839.5L1358.3 842.8L1359.8 846.0L1359.8 864.5L1358.3 865.1L1356.7 865.8L1355.2 866.7L1353.6 867.6L1352.1 865.8L1350.6 864.0L1349.0 862.5L1347.5 861.1L1345.9 854.6L1344.4 848.0L1342.9 841.4L1341.3 834.9L1339.8 832.5L1338.2 829.8L1336.7 827.2L1335.2 824.6L1333.6 821.3L1332.1 818.0L1330.5 814.7L1329.0 811.4ZM1360.5 798.0L1362.0 800.2L1363.6 802.4L1365.2 804.7L1366.7 807.1L1368.2 809.4L1369.8 811.7L1371.3 813.8L1372.9 815.9L1374.5 817.9L1376.0 820.0L1376.0 835.9L1374.5 836.2L1372.9 836.5L1371.3 836.8L1369.8 837.2L1368.2 837.3L1366.7 833.1L1365.2 828.8L1363.6 824.5L1362.0 820.2L1360.5 815.9ZM1376.0 743.6L1377.5 744.0L1379.0 744.4L1380.5 744.8L1382.0 745.1L1383.5 745.5L1385.0 745.9L1386.5 746.2L1388.0 746.5L1389.5 746.8L1391.0 747.1L1392.5 747.4L1394.0 747.7L1395.5 748.0L1397.0 748.3L1398.5 748.6L1400.0 748.9L1401.5 749.2L1403.0 749.5L1404.5 749.8L1406.0 750.1L1407.5 750.4L1409.0 750.7L1410.5 751.1L1412.0 751.5L1413.5 751.9L1415.0 752.2L1416.5 752.6L1418.0 753.0L1419.5 753.3L1421.0 753.7L1422.5 754.1L1424.0 754.5L1425.5 754.8L1427.0 755.2L1428.5 755.6L1430.0 755.9L1431.5 756.3L1433.0 756.6L1434.5 757.0L1436.0 757.3L1437.5 757.7L1439.0 758.0L1440.5 758.4L1442.0 758.9L1443.5 759.4L1445.0 760.0L1445.0 776.8L1443.5 776.9L1442.0 777.0L1440.5 777.1L1439.0 777.4L1437.5 775.4L1436.0 772.8L1434.5 770.3L1433.0 767.7L1431.5 767.4L1430.0 768.5L1428.5 769.6L1427.0 770.7L1425.5 770.9L1424.0 770.1L1422.5 769.3L1421.0 768.5L1419.5 768.2L1418.0 769.1L1416.5 770.0L1415.0 770.9L1413.5 771.5L1412.0 769.1L1410.5 766.7L1409.0 764.3L1407.5 761.9L1406.0 763.0L1404.5 764.5L1403.0 766.0L1401.5 767.4L1400.0 767.8L1398.5 767.9L1397.0 767.9L1395.5 767.9L1394.0 766.5L1392.5 763.9L1391.0 761.3L1389.5 758.7L1388.0 756.9L1386.5 756.6L1385.0 756.3L1383.5 755.9L1382.0 755.8L1380.5 757.4L1379.0 759.1L1377.5 760.7L1376.0 775.6ZM1445.0 762.0L1446.5 762.9L1448.1 763.8L1449.6 764.6L1451.1 765.5L1452.7 766.3L1454.2 767.1L1455.7 767.9L1457.3 768.6L1458.8 769.4L1460.3 770.1L1461.9 770.5L1463.4 770.9L1464.9 771.2L1466.5 771.6L1468.0 772.0L1468.0 783.1L1466.5 783.2L1464.9 783.3L1463.4 783.4L1461.9 783.5L1460.3 783.5L1458.8 782.6L1457.3 781.6L1455.7 780.5L1454.2 779.5L1452.7 778.5L1451.1 779.2L1449.6 779.8L1448.1 780.3L1446.5 780.9L1445.0 781.4ZM1468.5 768.0L1470.0 768.5L1471.5 769.0L1473.0 769.6L1474.5 770.1L1476.0 770.6L1477.5 771.1L1479.0 771.7L1480.5 772.2L1482.0 773.0L1483.5 773.8L1485.0 774.5L1486.5 775.2L1488.0 776.0L1489.5 776.8L1491.0 777.5L1492.5 778.2L1494.0 779.0L1495.5 779.8L1497.0 781.0L1498.5 782.5L1500.0 784.0L1501.5 785.5L1503.0 787.0L1504.5 788.5L1506.0 790.0L1507.5 791.0L1509.0 792.1L1510.5 793.1L1512.0 794.2L1513.5 795.2L1515.0 796.3L1516.5 797.7L1518.0 799.7L1519.5 801.7L1521.0 803.7L1522.5 807.5L1524.0 815.0L1525.5 822.5L1527.0 830.0L1528.5 845.0L1530.0 860.0L1530.0 875.7L1528.5 860.1L1527.0 844.6L1525.5 836.5L1524.0 828.4L1522.5 821.4L1521.0 818.1L1519.5 816.7L1518.0 815.3L1516.5 814.3L1515.0 814.2L1513.5 814.3L1512.0 814.4L1510.5 812.5L1509.0 809.7L1507.5 806.8L1506.0 804.0L1504.5 801.8L1503.0 800.4L1501.5 799.0L1500.0 797.6L1498.5 796.8L1497.0 796.5L1495.5 796.4L1494.0 796.8L1492.5 795.9L1491.0 792.7L1489.5 789.6L1488.0 786.5L1486.5 784.7L1485.0 786.1L1483.5 787.4L1482.0 788.8L1480.5 789.5L1479.0 787.9L1477.5 786.3L1476.0 784.7L1474.5 783.1L1473.0 781.8L1471.5 780.4L1470.0 779.1L1468.5 777.7ZM1530.0 760.8L1531.5 761.1L1533.0 761.5L1534.5 761.8L1536.0 762.2L1537.5 762.5L1539.0 762.9L1540.5 763.2L1542.0 763.6L1543.5 763.9L1545.0 764.3L1546.5 764.6L1548.0 765.0L1549.5 765.3L1551.0 765.7L1552.5 766.0L1554.0 766.2L1555.5 766.5L1557.0 766.7L1558.5 767.0L1560.0 767.2L1561.5 767.5L1563.0 767.8L1564.5 768.0L1566.0 768.3L1567.5 768.5L1569.0 768.8L1570.5 769.0L1572.0 769.4L1573.5 769.8L1575.0 770.2L1576.5 770.6L1578.0 771.0L1579.5 771.4L1581.0 771.8L1582.5 772.2L1584.0 772.5L1585.5 772.9L1587.0 773.3L1588.5 773.7L1590.0 774.1L1591.5 774.5L1593.0 774.9L1594.5 775.3L1596.0 775.7L1597.5 776.0L1599.0 776.4L1600.5 776.8L1602.0 777.1L1603.5 777.5L1605.0 777.8L1606.5 778.2L1608.0 778.5L1609.5 778.9L1611.0 779.3L1612.5 779.6L1614.0 780.0L1615.5 780.3L1617.0 780.7L1618.5 781.2L1620.0 781.7L1621.5 782.1L1623.0 782.6L1624.5 783.1L1626.0 783.6L1627.5 784.0L1629.0 784.5L1630.5 785.0L1632.0 785.5L1633.5 785.9L1635.0 786.4L1636.5 786.9L1638.0 787.4L1639.5 787.8L1641.0 788.3L1642.5 788.7L1644.0 789.1L1645.5 789.6L1647.0 790.0L1647.0 798.2L1645.5 797.4L1644.0 796.7L1642.5 795.9L1641.0 795.2L1639.5 794.6L1638.0 794.1L1636.5 793.6L1635.0 793.1L1633.5 793.4L1632.0 793.9L1630.5 794.4L1629.0 794.8L1627.5 794.6L1626.0 794.1L1624.5 793.5L1623.0 793.0L1621.5 792.3L1620.0 791.5L1618.5 790.7L1617.0 789.9L1615.5 788.9L1614.0 787.6L1612.5 786.4L1611.0 785.1L1609.5 784.6L1608.0 785.4L1606.5 786.2L1605.0 787.0L1603.5 787.1L1602.0 785.5L1600.5 783.9L1599.0 782.4L1597.5 781.0L1596.0 780.5L1594.5 779.9L1593.0 779.3L1591.5 778.8L1590.0 778.3L1588.5 777.9L1587.0 777.4L1585.5 777.0L1584.0 777.4L1582.5 778.0L1581.0 778.5L1579.5 779.0L1578.0 778.5L1576.5 777.8L1575.0 777.1L1573.5 776.3L1572.0 776.4L1570.5 776.7L1569.0 777.2L1567.5 777.7L1566.0 776.9L1564.5 775.4L1563.0 773.9L1561.5 772.4L1560.0 772.3L1558.5 773.4L1557.0 774.5L1555.5 775.7L1554.0 776.2L1552.5 775.8L1551.0 775.4L1549.5 774.9L1548.0 774.1L1546.5 772.5L1545.0 770.9L1543.5 769.4L1542.0 768.4L1540.5 769.7L1539.0 771.0L1537.5 772.3L1536.0 773.3L1534.5 771.4L1533.0 769.5L1531.5 767.6L1530.0 770.4ZM1647.5 790.0L1649.1 791.5L1650.7 792.9L1652.2 794.4L1653.8 795.9L1655.4 797.6L1657.0 800.1L1658.5 802.6L1660.1 805.0L1661.7 807.5L1663.3 812.7L1664.8 818.4L1666.4 824.2L1668.0 830.0L1668.0 840.6L1666.4 834.7L1664.8 828.8L1663.3 822.9L1661.7 817.7L1660.1 815.1L1658.5 812.6L1657.0 810.0L1655.4 807.4L1653.8 805.3L1652.2 802.8L1650.7 800.2L1649.1 797.7L1647.5 795.2ZM1669.0 790.5L1670.5 791.0L1672.0 791.4L1673.5 791.9L1675.1 792.4L1676.6 792.9L1678.1 793.3L1679.6 793.8L1681.1 794.3L1682.6 794.8L1684.2 795.2L1685.7 795.7L1687.2 796.2L1688.7 796.7L1690.2 797.1L1691.7 797.6L1693.2 798.1L1694.8 798.8L1696.3 799.5L1697.8 800.1L1699.3 800.8L1700.8 801.5L1702.3 802.1L1703.9 802.8L1705.4 803.5L1706.9 804.2L1708.4 804.8L1709.9 805.5L1711.4 806.2L1713.0 806.8L1714.5 807.5L1716.0 808.2L1717.5 808.9L1719.0 809.5L1720.5 810.2L1722.0 810.9L1723.6 811.6L1725.1 812.3L1726.6 813.0L1728.1 813.6L1729.6 814.3L1731.1 815.0L1732.7 815.7L1734.2 816.4L1735.7 817.1L1737.2 817.8L1738.7 818.5L1740.2 819.2L1741.8 819.9L1743.3 820.6L1744.8 821.3L1746.3 822.0L1747.8 822.7L1749.3 823.4L1750.8 824.1L1752.4 824.8L1753.9 825.5L1755.4 826.2L1756.9 826.9L1758.4 827.6L1759.9 828.3L1761.5 829.0L1763.0 829.7L1764.5 830.7L1766.0 833.0L1766.0 841.3L1764.5 839.3L1763.0 838.6L1761.5 838.2L1759.9 837.7L1758.4 839.5L1756.9 841.2L1755.4 842.9L1753.9 844.5L1752.4 842.7L1750.8 841.0L1749.3 839.2L1747.8 837.5L1746.3 835.2L1744.8 832.8L1743.3 830.5L1741.8 828.3L1740.2 827.3L1738.7 826.3L1737.2 825.4L1735.7 824.4L1734.2 823.9L1732.7 823.4L1731.1 822.9L1729.6 822.3L1728.1 821.9L1726.6 821.5L1725.1 821.0L1723.6 820.6L1722.0 819.8L1720.5 819.0L1719.0 818.2L1717.5 817.4L1716.0 817.2L1714.5 817.0L1713.0 816.7L1711.4 816.4L1709.9 816.5L1708.4 816.5L1706.9 816.5L1705.4 816.5L1703.9 814.4L1702.3 812.4L1700.8 810.4L1699.3 808.5L1697.8 808.9L1696.3 809.4L1694.8 809.8L1693.2 810.2L1691.7 809.0L1690.2 807.9L1688.7 806.8L1687.2 805.6L1685.7 804.6L1684.2 803.5L1682.6 802.5L1681.1 801.5L1679.6 800.5L1678.1 799.5L1676.6 798.5L1675.1 797.6L1673.5 798.6L1672.0 799.7L1670.5 800.7L1669.0 801.7ZM1766.5 834.0L1768.1 834.9L1769.8 835.9L1771.4 838.1L1773.1 840.6L1774.7 843.1L1776.4 846.8L1778.0 855.0L1778.0 866.8L1776.4 859.1L1774.7 855.8L1773.1 853.9L1771.4 851.8L1769.8 849.8L1768.1 849.2L1766.5 848.5ZM1778.3 835.2L1779.8 836.7L1781.3 838.2L1782.8 839.8L1784.4 841.3L1785.9 842.8L1787.4 844.3L1788.9 845.9L1790.4 847.4L1791.9 848.9L1793.5 850.4L1795.0 852.0L1796.5 853.5L1798.0 856.0L1798.0 866.7L1796.5 865.4L1795.0 865.1L1793.5 864.7L1791.9 864.3L1790.4 863.2L1788.9 861.6L1787.4 860.0L1785.9 858.4L1784.4 857.2L1782.8 856.8L1781.3 856.3L1779.8 855.7L1778.3 855.2ZM1798.5 858.0L1800.1 860.4L1801.8 862.8L1803.4 865.2L1805.1 868.5L1806.7 872.3L1808.4 876.2L1810.0 880.0L1810.0 904.7L1808.4 899.0L1806.7 893.3L1805.1 887.7L1803.4 882.3L1801.8 877.6L1800.1 873.0L1798.5 868.3ZM1810.6 859.2L1812.2 862.1L1813.7 865.0L1815.3 868.0L1816.9 870.9L1818.4 873.8L1820.0 876.7L1821.6 879.7L1823.2 883.5L1824.7 888.0L1826.3 892.5L1827.9 897.0L1829.4 901.5L1831.0 905.9L1832.6 910.4L1834.2 915.1L1835.7 920.4L1837.3 925.7L1838.9 931.6L1840.4 941.9L1842.0 962.0L1842.0 982.7L1840.4 960.9L1838.9 948.8L1837.3 941.2L1835.7 934.2L1834.2 932.1L1832.6 930.5L1831.0 929.1L1829.4 927.7L1827.9 922.3L1826.3 916.9L1824.7 911.5L1823.2 906.1L1821.6 903.5L1820.0 901.8L1818.4 900.2L1816.9 898.4L1815.3 894.4L1813.7 890.3L1812.2 886.2L1810.6 882.2Z" fill="#000"/><path d="M1239.5 731.2V740.6M1239.7 736.7V746.1M1239.9 747.1V756.5M1240.1 752.8V762.2M1240.3 773.5V782.9M1240.5 790.8V800.2M1240.7 790.8V800.2M1240.5 790.8H1240.7M1240.6 773.8V790.8M1240.9 773.8V783.2M1240.6 773.8H1240.9M1240.8 773.5V773.8M1240.3 773.5H1240.8M1240.5 752.8V773.5M1240.1 752.8H1240.5M1240.3 747.1V752.8M1239.9 747.1H1240.3M1240.1 736.7V747.1M1239.7 736.7H1240.1M1239.9 732.3V736.7M1241.1 738.7V748.1M1241.3 754.4V763.8M1241.5 754.4V763.8M1241.3 754.4H1241.5M1241.4 753.0V754.4M1241.7 753.0V762.4M1241.4 753.0H1241.7M1241.6 743.4V753.0M1241.9 757.4V766.9M1242.1 757.4V766.9M1241.9 757.4H1242.1M1242.0 752.4V757.4M1242.3 752.4V761.8M1242.0 752.4H1242.3M1242.2 749.0V752.4M1242.5 763.0V772.4M1242.7 763.0V772.4M1242.5 763.0H1242.7M1242.6 751.2V763.0M1242.9 770.4V779.8M1243.1 770.4V779.8M1242.9 770.4H1243.1M1243.0 751.2V770.4M1242.6 751.2H1243.0M1242.8 749.0V751.2M1242.2 749.0H1242.8M1242.5 743.4V749.0M1241.6 743.4H1242.5M1242.0 738.7V743.4M1241.1 738.7H1242.0M1241.6 733.3V738.7M1243.3 738.7V748.1M1243.5 747.3V756.7M1243.7 749.8V759.2M1243.9 755.7V765.1M1244.1 833.4V842.8M1244.3 833.4V842.8M1244.1 833.4H1244.3M1244.2 775.0V833.4M1244.5 794.4V803.8M1244.7 794.4V803.8M1244.5 794.4H1244.7M1244.6 775.0V794.4M1244.2 775.0H1244.6M1244.4 767.2V775.0M1244.9 799.8V809.2M1245.1 799.8V809.2M1244.9 799.8H1245.1M1245.0 796.6V799.8M1245.3 796.6V806.0M1245.0 796.6H1245.3M1245.2 777.5V796.6M1245.5 865.4V874.8M1245.7 865.4V874.8M1245.5 865.4H1245.7M1245.6 839.8V865.4M1245.9 839.8V849.2M1245.6 839.8H1245.9M1245.8 787.2V839.8M1246.1 885.1V894.5M1246.3 885.1V894.5M1246.1 885.1H1246.3M1246.2 847.8V885.1M1246.5 847.8V857.2M1246.2 847.8H1246.5M1246.4 800.2V847.8M1246.7 869.4V878.8M1246.9 881.9V891.3M1247.1 881.9V891.3M1246.9 881.9H1247.1M1247.0 869.4V881.9M1246.7 869.4H1247.0M1246.9 804.4V869.4M1247.3 869.7V879.1M1247.5 869.7V879.1M1247.3 869.7H1247.5M1247.4 821.0V869.7M1247.7 821.0V830.4M1247.4 821.0H1247.7M1247.6 812.5V821.0M1247.9 835.2V844.6M1248.1 835.2V844.6M1247.9 835.2H1248.1M1248.0 819.2V835.2M1248.3 820.4V829.9M1248.5 828.6V838.0M1248.7 828.6V838.0M1248.5 828.6H1248.7M1248.6 820.4V828.6M1248.3 820.4H1248.6M1248.5 819.2V820.4M1248.0 819.2H1248.5M1248.3 812.5V819.2M1247.6 812.5H1248.3M1247.9 804.4V812.5M1246.9 804.4H1247.9M1247.4 800.2V804.4M1246.4 800.2H1247.4M1246.9 787.2V800.2M1245.8 787.2H1246.9M1246.3 777.5V787.2M1245.2 777.5H1246.3M1245.8 767.2V777.5M1244.4 767.2H1245.8M1245.1 755.7V767.2M1243.9 755.7H1245.1M1244.5 749.8V755.7M1243.7 749.8H1244.5M1244.1 747.3V749.8M1243.5 747.3H1244.1M1243.8 738.7V747.3M1243.3 738.7H1243.8M1243.6 735.7V738.7M1248.9 738.4V747.8M1249.1 767.0V776.5M1249.3 767.0V776.5M1249.1 767.0H1249.3M1249.2 743.9V767.0M1249.5 758.4V767.8M1249.7 758.4V767.8M1249.5 758.4H1249.7M1249.6 743.9V758.4M1249.9 755.2V764.6M1250.1 783.5V792.9M1250.3 783.5V792.9M1250.1 783.5H1250.3M1250.2 760.7V783.5M1250.5 792.7V802.1M1250.8 792.7V802.1M1250.5 792.7H1250.8M1250.6 760.7V792.7M1250.2 760.7H1250.6M1250.4 755.2V760.7M1249.9 755.2H1250.4M1250.2 743.9V755.2M1249.6 743.9H1250.2M1249.9 743.9V743.9M1249.2 743.9H1249.9M1249.6 738.4V743.9M1248.9 738.4H1249.6M1249.3 736.2V738.4M1251.0 739.9V749.3M1251.2 749.6V759.0M1251.4 749.6V759.0M1251.2 749.6H1251.4M1251.3 745.6V749.6M1251.6 747.6V757.0M1251.8 802.6V812.0M1252.0 802.6V812.0M1251.8 802.6H1252.0M1251.9 751.1V802.6M1252.2 774.8V784.2M1252.4 774.8V784.2M1252.2 774.8H1252.4M1252.3 753.7V774.8M1252.6 785.8V795.2M1252.8 785.8V795.2M1252.6 785.8H1252.8M1252.7 783.7V785.8M1253.0 787.3V796.7M1253.2 787.3V796.7M1253.0 787.3H1253.2M1253.1 783.7V787.3M1252.7 783.7H1253.1M1252.9 760.3V783.7M1253.4 782.3V791.7M1253.6 799.5V808.9M1253.8 799.5V808.9M1253.6 799.5H1253.8M1253.7 782.3V799.5M1253.4 782.3H1253.7M1253.5 763.3V782.3M1254.0 820.8V830.2M1254.2 820.8V830.2M1254.0 820.8H1254.2M1254.1 766.5V820.8M1254.4 771.3V780.7M1254.6 788.3V797.7M1254.8 788.3V797.7M1254.6 788.3H1254.8M1254.7 771.3V788.3M1254.4 771.3H1254.7M1254.5 770.5V771.3M1255.0 771.8V781.2M1255.2 777.7V787.1M1255.4 805.7V815.1M1255.6 805.7V815.1M1255.4 805.7H1255.6M1255.5 796.3V805.7M1255.8 796.3V805.7M1255.5 796.3H1255.8M1255.6 777.7V796.3M1255.2 777.7H1255.6M1255.4 776.8V777.7M1256.0 815.6V825.0M1256.2 815.6V825.0M1256.0 815.6H1256.2M1256.1 779.3V815.6M1256.4 779.4V788.8M1256.6 836.1V845.6M1256.8 836.1V845.6M1256.6 836.1H1256.8M1256.7 793.8V836.1M1257.0 804.3V813.7M1257.2 804.3V813.7M1257.0 804.3H1257.2M1257.1 793.8V804.3M1256.7 793.8H1257.1M1256.9 785.0V793.8M1257.4 804.0V813.4M1257.6 804.0V813.4M1257.4 804.0H1257.6M1257.5 786.8V804.0M1257.8 819.3V828.7M1258.0 819.3V828.7M1257.8 819.3H1258.0M1257.9 786.8V819.3M1257.5 786.8H1257.9M1257.7 785.0V786.8M1256.9 785.0H1257.7M1257.3 779.4V785.0M1256.4 779.4H1257.3M1256.8 779.3V779.4M1256.1 779.3H1256.8M1256.5 776.8V779.3M1255.4 776.8H1256.5M1255.9 771.8V776.8M1255.0 771.8H1255.9M1255.4 770.5V771.8M1254.5 770.5H1255.4M1255.0 766.5V770.5M1254.1 766.5H1255.0M1254.5 763.3V766.5M1253.5 763.3H1254.5M1254.0 760.3V763.3M1252.9 760.3H1254.0M1253.4 753.7V760.3M1252.3 753.7H1253.4M1252.8 751.1V753.7M1251.9 751.1H1252.8M1252.4 747.6V751.1M1251.6 747.6H1252.4M1252.0 745.6V747.6M1251.3 745.6H1252.0M1251.6 740.2V745.6M1258.2 746.4V755.8M1258.4 769.5V778.9M1258.6 769.5V778.9M1258.4 769.5H1258.6M1258.5 757.6V769.5M1258.8 757.6V767.0M1258.5 757.6H1258.8M1258.6 751.6V757.6M1259.0 760.9V770.3M1259.2 760.9V770.3M1259.0 760.9H1259.2M1259.1 759.8V760.9M1259.4 765.7V775.1M1259.6 773.3V782.7M1259.8 773.3V782.7M1259.6 773.3H1259.8M1259.7 765.7V773.3M1259.4 765.7H1259.7M1259.5 759.8V765.7M1259.1 759.8H1259.5M1259.3 757.2V759.8M1260.0 768.9V778.3M1260.2 768.9V778.3M1260.0 768.9H1260.2M1260.1 760.6V768.9M1260.4 786.2V795.6M1260.6 786.2V795.6M1260.4 786.2H1260.6M1260.5 761.5V786.2M1260.8 781.8V791.2M1261.0 781.8V791.2M1260.8 781.8H1261.0M1260.9 764.6V781.8M1261.2 772.5V781.9M1261.4 772.5V781.9M1261.2 772.5H1261.4M1261.3 765.2V772.5M1261.6 773.6V783.0M1261.8 790.5V799.9M1262.0 790.5V799.9M1261.8 790.5H1262.0M1261.9 773.6V790.5M1261.6 773.6H1261.9M1261.7 769.2V773.6M1262.2 769.2V778.6M1261.7 769.2H1262.2M1262.0 769.1V769.2M1262.4 789.0V798.4M1262.6 789.0V798.4M1262.4 789.0H1262.6M1262.5 769.1V789.0M1262.0 769.1H1262.5M1262.2 765.2V769.1M1261.3 765.2H1262.2M1261.8 764.6V765.2M1260.9 764.6H1261.8M1261.3 761.5V764.6M1260.5 761.5H1261.3M1260.9 760.6V761.5M1260.1 760.6H1260.9M1260.5 757.2V760.6M1259.3 757.2H1260.5M1259.9 751.6V757.2M1258.6 751.6H1259.9M1259.3 746.4V751.6M1258.2 746.4H1259.3M1258.7 743.3V746.4M1262.8 749.4V758.8M1263.0 761.6V771.0M1263.2 761.6V771.0M1263.0 761.6H1263.2M1263.1 755.3V761.6M1263.4 780.0V789.4M1263.6 780.0V789.4M1263.4 780.0H1263.6M1263.5 759.0V780.0M1263.8 762.2V771.6M1264.0 787.9V797.3M1264.2 787.9V797.3M1264.0 787.9H1264.2M1264.1 773.6V787.9M1264.4 786.8V796.3M1264.6 786.8V796.3M1264.4 786.8H1264.6M1264.5 786.2V786.8M1264.8 786.2V795.6M1264.5 786.2H1264.8M1264.7 773.6V786.2M1264.1 773.6H1264.7M1264.4 762.2V773.6M1263.8 762.2H1264.4M1264.1 759.0V762.2M1263.5 759.0H1264.1M1263.8 755.3V759.0M1263.1 755.3H1263.8M1263.5 749.4V755.3M1262.8 749.4H1263.5M1263.1 743.9V749.4M1265.0 751.6V761.0M1265.2 769.4V778.9M1265.4 772.7V782.1M1265.6 772.7V782.1M1265.4 772.7H1265.6M1265.5 769.4V772.7M1265.2 769.4H1265.5M1265.4 765.0V769.4M1265.8 769.2V778.6M1266.0 825.0V834.4M1266.2 825.0V834.4M1266.0 825.0H1266.2M1266.1 775.1V825.0M1266.4 822.4V831.9M1266.6 841.3V850.8M1266.8 841.3V850.8M1266.6 841.3H1266.8M1266.7 839.0V841.3M1267.0 839.3V848.7M1267.2 839.3V848.7M1267.0 839.3H1267.2M1267.1 839.0V839.3M1266.7 839.0H1267.1M1266.9 822.4V839.0M1266.4 822.4H1266.9M1266.7 813.5V822.4M1267.4 813.5V822.9M1266.7 813.5H1267.4M1267.0 780.8V813.5M1267.6 826.5V836.0M1267.8 826.5V836.0M1267.6 826.5H1267.8M1267.7 799.1V826.5M1268.0 843.9V853.3M1268.2 843.9V853.3M1268.0 843.9H1268.2M1268.1 805.2V843.9M1268.4 871.9V881.3M1268.6 871.9V881.3M1268.4 871.9H1268.6M1268.5 810.6V871.9M1268.8 810.6V820.0M1268.5 810.6H1268.8M1268.7 805.2V810.6M1268.1 805.2H1268.7M1268.4 799.1V805.2M1267.7 799.1H1268.4M1268.1 780.8V799.1M1267.0 780.8H1268.1M1267.6 775.1V780.8M1266.1 775.1H1267.6M1266.8 769.2V775.1M1265.8 769.2H1266.8M1266.3 765.0V769.2M1265.4 765.0H1266.3M1265.8 751.6V765.0M1265.0 751.6H1265.8M1265.4 746.3V751.6M1269.0 750.5V760.0M1269.2 806.5V815.9M1269.4 806.5V815.9M1269.2 806.5H1269.4M1269.3 762.4V806.5M1269.6 763.0V772.4M1269.8 817.1V826.5M1270.0 818.5V827.9M1270.2 818.5V827.9M1270.0 818.5H1270.2M1270.1 817.1V818.5M1269.8 817.1H1270.1M1270.0 767.3V817.1M1270.4 803.3V812.7M1270.6 821.7V831.1M1270.8 821.7V831.1M1270.6 821.7H1270.8M1270.7 803.3V821.7M1270.4 803.3H1270.7M1270.6 768.6V803.3M1271.0 779.3V788.7M1271.2 783.1V792.5M1271.4 809.8V819.2M1271.6 813.1V822.5M1271.8 813.1V822.5M1271.6 813.1H1271.8M1271.7 809.8V813.1M1271.4 809.8H1271.7M1271.6 790.8V809.8M1272.0 791.9V801.3M1272.2 794.2V803.6M1272.4 797.8V807.2M1272.6 804.4V813.8M1272.8 828.7V838.1M1273.1 828.7V838.1M1272.8 828.7H1273.1M1272.9 816.5V828.7M1273.3 816.5V825.9M1272.9 816.5H1273.3M1273.1 816.4V816.5M1273.5 818.6V828.1M1273.7 818.6V828.1M1273.5 818.6H1273.7M1273.6 816.4V818.6M1273.1 816.4H1273.6M1273.3 809.8V816.4M1273.9 809.8V819.2M1273.3 809.8H1273.9M1273.6 804.4V809.8M1272.6 804.4H1273.6M1273.1 797.8V804.4M1272.4 797.8H1273.1M1272.8 794.2V797.8M1272.2 794.2H1272.8M1272.5 791.9V794.2M1272.0 791.9H1272.5M1272.3 790.8V791.9M1271.6 790.8H1272.3M1271.9 783.1V790.8M1271.2 783.1H1271.9M1271.6 779.3V783.1M1271.0 779.3H1271.6M1271.3 768.6V779.3M1270.6 768.6H1271.3M1271.0 767.3V768.6M1270.0 767.3H1271.0M1270.5 763.0V767.3M1269.6 763.0H1270.5M1270.1 762.4V763.0M1269.3 762.4H1270.1M1269.7 750.5V762.4M1269.0 750.5H1269.7M1269.4 749.5V750.5M1274.1 753.3V762.7M1274.3 770.6V780.1M1274.5 770.6V780.1M1274.3 770.6H1274.5M1274.4 763.9V770.6M1274.7 763.9V773.3M1274.4 763.9H1274.7M1274.5 763.0V763.9M1274.9 766.0V775.4M1275.1 784.4V793.8M1275.3 784.4V793.8M1275.1 784.4H1275.3M1275.2 766.0V784.4M1274.9 766.0H1275.2M1275.0 763.0V766.0M1274.5 763.0H1275.0M1274.8 753.3V763.0M1274.1 753.3H1274.8M1274.4 750.3V753.3M1275.5 755.0V764.4M1275.7 783.7V793.1M1275.9 805.8V815.2M1276.1 805.8V815.2M1275.9 805.8H1276.1M1276.0 786.8V805.8M1276.3 786.8V796.2M1276.0 786.8H1276.3M1276.1 783.7V786.8M1275.7 783.7H1276.1M1275.9 774.1V783.7M1276.5 825.4V834.8M1276.7 825.4V834.8M1276.5 825.4H1276.7M1276.6 781.6V825.4M1276.9 785.4V794.8M1277.1 853.0V862.4M1277.3 853.0V862.4M1277.1 853.0H1277.3M1277.2 793.1V853.0M1277.5 861.5V870.9M1277.7 861.5V870.9M1277.5 861.5H1277.7M1277.6 799.3V861.5M1277.9 802.0V811.4M1278.1 805.7V815.1M1278.3 873.3V882.7M1278.5 873.3V882.7M1278.3 873.3H1278.5M1278.4 864.6V873.3M1278.7 864.6V874.0M1278.4 864.6H1278.7M1278.5 853.7V864.6M1278.9 853.7V863.1M1278.5 853.7H1278.9M1278.7 817.5V853.7M1279.1 825.7V835.1M1279.3 825.7V835.1M1279.1 825.7H1279.3M1279.2 817.5V825.7M1278.7 817.5H1279.2M1278.9 805.7V817.5M1278.1 805.7H1278.9M1278.5 802.0V805.7M1277.9 802.0H1278.5M1278.2 799.3V802.0M1277.6 799.3H1278.2M1277.9 793.1V799.3M1277.2 793.1H1277.9M1277.5 785.4V793.1M1276.9 785.4H1277.5M1277.2 781.6V785.4M1276.6 781.6H1277.2M1276.9 774.1V781.6M1275.9 774.1H1276.9M1276.4 755.0V774.1M1275.5 755.0H1276.4M1275.9 753.0V755.0M1279.5 756.6V766.0M1279.7 760.1V769.6M1279.9 764.9V774.3M1280.1 766.6V776.0M1280.3 766.6V776.0M1280.1 766.6H1280.3M1280.2 764.9V766.6M1279.9 764.9H1280.2M1280.0 760.1V764.9M1279.7 760.1H1280.0M1279.9 756.6V760.1M1279.5 756.6H1279.9M1279.7 753.0V756.6M1280.5 761.4V770.8M1280.7 766.8V776.2M1280.9 812.0V821.4M1281.1 812.0V821.4M1280.9 812.0H1281.1M1281.0 793.1V812.0M1281.3 808.0V817.4M1281.5 808.0V817.4M1281.3 808.0H1281.5M1281.4 793.1V808.0M1281.0 793.1H1281.4M1281.2 776.5V793.1M1281.7 841.4V850.8M1281.9 841.4V850.8M1281.7 841.4H1281.9M1281.8 783.6V841.4M1282.1 796.9V806.3M1282.3 812.7V822.2M1282.5 812.7V822.2M1282.3 812.7H1282.5M1282.4 796.9V812.7M1282.1 796.9H1282.4M1282.2 789.5V796.9M1282.7 790.6V800.0M1282.9 793.5V802.9M1283.1 817.4V826.8M1283.3 817.4V826.8M1283.1 817.4H1283.3M1283.2 815.7V817.4M1283.5 817.6V827.0M1283.7 817.6V827.0M1283.5 817.6H1283.7M1283.6 815.7V817.6M1283.2 815.7H1283.6M1283.4 814.7V815.7M1283.9 814.7V824.1M1283.4 814.7H1283.9M1283.6 803.5V814.7M1284.1 805.6V815.0M1284.3 830.9V840.3M1284.5 854.9V864.3M1284.7 854.9V864.3M1284.5 854.9H1284.7M1284.6 830.9V854.9M1284.3 830.9H1284.6M1284.5 816.4V830.9M1284.9 850.5V859.9M1285.1 855.5V864.9M1285.3 855.5V864.9M1285.1 855.5H1285.3M1285.2 850.5V855.5M1284.9 850.5H1285.2M1285.1 849.2V850.5M1285.5 849.2V858.7M1285.1 849.2H1285.5M1285.3 837.9V849.2M1285.7 837.9V847.3M1285.3 837.9H1285.7M1285.5 816.4V837.9M1284.5 816.4H1285.5M1285.0 805.6V816.4M1284.1 805.6H1285.0M1284.5 803.5V805.6M1283.6 803.5H1284.5M1284.1 793.5V803.5M1282.9 793.5H1284.1M1283.5 790.6V793.5M1282.7 790.6H1283.5M1283.1 789.5V790.6M1282.2 789.5H1283.1M1282.7 783.6V789.5M1281.8 783.6H1282.7M1282.2 776.5V783.6M1281.2 776.5H1282.2M1281.7 766.8V776.5M1280.7 766.8H1281.7M1281.2 761.4V766.8M1280.5 761.4H1281.2M1280.8 756.7V761.4M1285.9 763.6V773.0M1286.1 778.9V788.3M1286.3 803.2V812.6M1286.5 803.2V812.6M1286.3 803.2H1286.5M1286.4 799.6V803.2M1286.7 799.6V809.0M1286.4 799.6H1286.7M1286.6 778.9V799.6M1286.1 778.9H1286.6M1286.3 763.6V778.9M1285.9 763.6H1286.3M1286.1 757.6V763.6M1286.9 762.8V772.2M1287.1 765.3V774.7M1287.3 773.7V783.1M1287.5 782.2V791.6M1287.7 782.2V791.6M1287.5 782.2H1287.7M1287.6 775.9V782.2M1287.9 785.7V795.1M1288.1 785.7V795.1M1287.9 785.7H1288.1M1288.0 779.4V785.7M1288.3 779.4V788.9M1288.0 779.4H1288.3M1288.2 775.9V779.4M1287.6 775.9H1288.2M1287.9 773.7V775.9M1287.3 773.7H1287.9M1287.6 773.2V773.7M1288.5 773.2V782.6M1287.6 773.2H1288.5M1288.1 772.4V773.2M1288.7 772.4V781.8M1288.1 772.4H1288.7M1288.4 769.8V772.4M1288.9 777.2V786.6M1289.1 777.2V786.6M1288.9 777.2H1289.1M1289.0 775.6V777.2M1289.3 776.5V785.9M1289.5 795.6V805.0M1289.7 795.6V805.0M1289.5 795.6H1289.7M1289.6 777.9V795.6M1289.9 790.8V800.2M1290.1 793.4V802.8M1290.3 793.4V802.8M1290.1 793.4H1290.3M1290.2 790.8V793.4M1289.9 790.8H1290.2M1290.1 777.9V790.8M1289.6 777.9H1290.1M1289.9 776.5V777.9M1289.3 776.5H1289.9M1289.6 775.6V776.5M1289.0 775.6H1289.6M1289.3 769.8V775.6M1288.4 769.8H1289.3M1288.8 765.3V769.8M1287.1 765.3H1288.8M1288.0 762.8V765.3M1286.9 762.8H1288.0M1287.4 759.5V762.8M1290.5 766.6V776.1M1290.7 836.3V845.7M1290.9 836.3V845.7M1290.7 836.3H1290.9M1290.8 779.6V836.3M1291.1 850.3V859.7M1291.3 850.3V859.7M1291.1 850.3H1291.3M1291.2 789.1V850.3M1291.5 807.7V817.1M1291.7 807.7V817.1M1291.5 807.7H1291.7M1291.6 796.2V807.7M1291.9 861.1V870.5M1292.1 895.6V905.0M1292.3 895.6V905.0M1292.1 895.6H1292.3M1292.2 882.4V895.6M1292.5 882.4V891.8M1292.2 882.4H1292.5M1292.4 861.1V882.4M1291.9 861.1H1292.4M1292.2 811.4V861.1M1292.7 815.0V824.4M1292.9 819.3V828.7M1293.1 910.4V919.8M1293.3 910.4V919.8M1293.1 910.4H1293.3M1293.2 840.5V910.4M1293.5 906.1V915.5M1293.7 906.1V915.5M1293.5 906.1H1293.7M1293.6 845.7V906.1M1293.9 856.2V865.6M1294.1 856.2V865.6M1293.9 856.2H1294.1M1294.0 845.7V856.2M1293.6 845.7H1294.0M1293.8 840.5V845.7M1293.2 840.5H1293.8M1293.5 839.4V840.5M1294.3 841.6V851.0M1294.5 867.0V876.4M1294.7 873.0V882.4M1294.9 896.0V905.4M1295.1 906.7V916.1M1295.4 906.7V916.1M1295.1 906.7H1295.4M1295.2 896.0V906.7M1294.9 896.0H1295.2M1295.1 873.0V896.0M1294.7 873.0H1295.1M1294.9 867.0V873.0M1294.5 867.0H1294.9M1294.7 841.6V867.0M1294.3 841.6H1294.7M1294.5 839.4V841.6M1293.5 839.4H1294.5M1294.0 819.3V839.4M1292.9 819.3H1294.0M1293.5 815.0V819.3M1292.7 815.0H1293.5M1293.1 811.4V815.0M1292.2 811.4H1293.1M1292.6 796.2V811.4M1291.6 796.2H1292.6M1292.1 789.1V796.2M1291.2 789.1H1292.1M1291.7 779.6V789.1M1290.8 779.6H1291.7M1291.3 766.6V779.6M1290.5 766.6H1291.3M1290.9 761.6V766.6M1295.6 766.0V775.4M1295.8 781.2V790.6M1296.0 786.9V796.3M1296.2 786.9V796.3M1296.0 786.9H1296.2M1296.1 781.2V786.9M1295.8 781.2H1296.1M1295.9 772.8V781.2M1296.4 777.3V786.7M1296.6 791.7V801.2M1296.8 791.7V801.2M1296.6 791.7H1296.8M1296.7 777.3V791.7M1296.4 777.3H1296.7M1296.5 772.8V777.3M1295.9 772.8H1296.5M1296.2 772.7V772.8M1297.0 801.3V810.8M1297.2 801.3V810.8M1297.0 801.3H1297.2M1297.1 772.7V801.3M1296.2 772.7H1297.1M1296.6 766.0V772.7M1295.6 766.0H1296.6M1296.1 763.6V766.0M1297.4 770.6V780.0M1297.6 787.7V797.1M1297.8 787.7V797.1M1297.6 787.7H1297.8M1297.7 779.1V787.7M1298.0 786.1V795.5M1298.2 786.1V795.5M1298.0 786.1H1298.2M1298.1 785.6V786.1M1298.4 785.6V795.0M1298.1 785.6H1298.4M1298.2 779.1V785.6M1297.7 779.1H1298.2M1297.9 775.4V779.1M1298.6 775.9V785.3M1298.8 790.7V800.1M1299.0 790.7V800.1M1298.8 790.7H1299.0M1298.9 788.0V790.7M1299.2 788.0V797.4M1298.9 788.0H1299.2M1299.0 781.2V788.0M1299.4 787.2V796.6M1299.6 787.2V796.6M1299.4 787.2H1299.6M1299.5 784.7V787.2M1299.8 791.6V801.0M1300.0 791.6V801.0M1299.8 791.6H1300.0M1299.9 790.8V791.6M1300.2 790.8V800.2M1299.9 790.8H1300.2M1300.0 788.6V790.8M1300.4 788.6V798.0M1300.0 788.6H1300.4M1300.2 784.7V788.6M1299.5 784.7H1300.2M1299.8 782.1V784.7M1300.6 782.1V791.5M1299.8 782.1H1300.6M1300.2 781.3V782.1M1300.8 787.7V797.1M1301.0 800.9V810.3M1301.2 800.9V810.3M1301.0 800.9H1301.2M1301.1 787.7V800.9M1300.8 787.7H1301.1M1300.9 782.9V787.7M1301.4 783.8V793.2M1301.6 783.8V793.2M1301.4 783.8H1301.6M1301.5 783.3V783.8M1301.8 797.3V806.7M1302.0 797.3V806.7M1301.8 797.3H1302.0M1301.9 796.4V797.3M1302.2 798.2V807.7M1302.4 798.2V807.7M1302.2 798.2H1302.4M1302.3 796.4V798.2M1301.9 796.4H1302.3M1302.1 785.4V796.4M1302.6 792.0V801.4M1302.8 792.0V801.4M1302.6 792.0H1302.8M1302.7 785.7V792.0M1303.0 785.7V795.1M1302.7 785.7H1303.0M1302.8 785.4V785.7M1302.1 785.4H1302.8M1302.5 783.3V785.4M1301.5 783.3H1302.5M1302.0 782.9V783.3M1300.9 782.9H1302.0M1301.4 781.3V782.9M1300.2 781.3H1301.4M1300.8 781.2V781.3M1299.0 781.2H1300.8M1299.9 775.9V781.2M1298.6 775.9H1299.9M1299.2 775.4V775.9M1297.9 775.4H1299.2M1298.6 770.6V775.4M1297.4 770.6H1298.6M1298.0 766.3V770.6M1303.2 769.8V779.2M1303.4 775.2V784.6M1303.6 786.4V795.8M1303.8 786.4V795.8M1303.6 786.4H1303.8M1303.7 775.2V786.4M1303.4 775.2H1303.7M1303.5 769.8V775.2M1303.2 769.8H1303.5M1303.4 766.3V769.8M1304.0 770.8V780.2M1304.2 804.0V813.4M1304.4 804.0V813.4M1304.2 804.0H1304.4M1304.3 788.7V804.0M1304.6 843.4V852.8M1304.8 843.4V852.8M1304.6 843.4H1304.8M1304.7 800.4V843.4M1305.0 806.2V815.6M1305.2 813.0V822.4M1305.4 824.2V833.6M1305.6 824.4V833.8M1305.8 824.4V833.8M1305.6 824.4H1305.8M1305.7 824.2V824.4M1305.4 824.2H1305.7M1305.5 813.0V824.2M1305.2 813.0H1305.5M1305.4 806.2V813.0M1305.0 806.2H1305.4M1305.2 800.4V806.2M1304.7 800.4H1305.2M1304.9 788.7V800.4M1304.3 788.7H1304.9M1304.6 770.8V788.7M1304.0 770.8H1304.6M1304.3 768.2V770.8M1306.0 773.4V782.8M1306.2 785.9V795.3M1306.4 787.3V796.7M1306.6 799.5V809.0M1306.8 802.0V811.4M1307.0 802.1V811.5M1307.2 806.4V815.8M1307.4 867.3V876.7M1307.6 867.3V876.7M1307.4 867.3H1307.6M1307.5 828.0V867.3M1307.8 838.6V848.1M1308.0 840.7V850.1M1308.2 844.1V853.5M1308.4 844.1V853.5M1308.2 844.1H1308.4M1308.3 840.7V844.1M1308.0 840.7H1308.3M1308.2 838.6V840.7M1307.8 838.6H1308.2M1308.0 828.0V838.6M1307.5 828.0H1308.0M1307.7 806.4V828.0M1307.2 806.4H1307.7M1307.5 802.1V806.4M1307.0 802.1H1307.5M1307.2 802.0V802.1M1306.8 802.0H1307.2M1307.0 799.5V802.0M1306.6 799.5H1307.0M1306.8 787.3V799.5M1306.4 787.3H1306.8M1306.6 785.9V787.3M1306.2 785.9H1306.6M1306.4 773.4V785.9M1306.0 773.4H1306.4M1306.2 770.9V773.4M1308.6 775.1V784.5M1308.8 807.3V816.8M1309.0 811.0V820.4M1309.2 811.0V820.4M1309.0 811.0H1309.2M1309.1 807.3V811.0M1308.8 807.3H1309.1M1309.0 775.1V807.3M1308.6 775.1H1309.0M1308.8 771.3V775.1M1309.4 775.5V784.9M1309.6 781.3V790.7M1309.8 797.0V806.4M1310.0 797.0V806.4M1309.8 797.0H1310.0M1309.9 793.0V797.0M1310.2 816.6V826.0M1310.4 816.6V826.0M1310.2 816.6H1310.4M1310.3 802.0V816.6M1310.6 808.9V818.3M1310.8 835.5V844.9M1311.0 835.5V844.9M1310.8 835.5H1311.0M1310.9 808.9V835.5M1310.6 808.9H1310.9M1310.8 802.0V808.9M1310.3 802.0H1310.8M1310.5 793.0V802.0M1309.9 793.0H1310.5M1310.2 781.3V793.0M1309.6 781.3H1310.2M1309.9 775.5V781.3M1309.4 775.5H1309.9M1309.7 772.6V775.5M1311.2 776.5V785.9M1311.4 780.8V790.2M1311.6 789.4V798.8M1311.8 799.8V809.2M1312.0 799.8V809.2M1311.8 799.8H1312.0M1311.9 796.2V799.8M1312.2 796.2V805.6M1311.9 796.2H1312.2M1312.1 789.4V796.2M1311.6 789.4H1312.1M1311.8 786.7V789.4M1312.4 786.7V796.1M1311.8 786.7H1312.4M1312.1 780.8V786.7M1311.4 780.8H1312.1M1311.8 776.5V780.8M1311.2 776.5H1311.8M1311.5 774.0V776.5M1312.6 779.9V789.3M1312.8 838.7V848.1M1313.0 838.7V848.1M1312.8 838.7H1313.0M1312.9 833.5V838.7M1313.2 833.5V842.9M1312.9 833.5H1313.2M1313.1 779.9V833.5M1312.6 779.9H1313.1M1312.9 774.2V779.9M1313.4 778.8V788.2M1313.6 797.5V806.9M1313.8 811.6V821.0M1314.0 856.0V865.4M1314.2 856.0V865.4M1314.0 856.0H1314.2M1314.1 811.6V856.0M1313.8 811.6H1314.1M1314.0 797.5V811.6M1313.6 797.5H1314.0M1313.8 778.8V797.5M1313.4 778.8H1313.8M1313.6 775.1V778.8M1314.4 780.5V790.0M1314.6 787.6V797.0M1314.8 794.4V803.8M1315.0 805.4V814.8M1315.2 805.4V814.8M1315.0 805.4H1315.2M1315.1 794.4V805.4M1314.8 794.4H1315.1M1315.0 787.6V794.4M1314.6 787.6H1315.0M1314.8 780.5V787.6M1314.4 780.5H1314.8M1314.6 776.0V780.5M1315.4 781.4V790.8M1315.6 784.5V793.9M1315.8 792.9V802.3M1316.0 804.5V813.9M1316.2 804.5V813.9M1316.0 804.5H1316.2M1316.1 794.5V804.5M1316.4 795.0V804.4M1316.6 795.0V804.4M1316.4 795.0H1316.6M1316.5 794.5V795.0M1316.1 794.5H1316.5M1316.3 794.1V794.5M1316.8 803.4V812.8M1317.0 803.4V812.8M1316.8 803.4H1317.0M1316.9 797.2V803.4M1317.2 799.0V808.4M1317.4 805.3V814.7M1317.7 805.3V814.7M1317.4 805.3H1317.7M1317.5 804.6V805.3M1317.9 804.6V814.0M1317.5 804.6H1317.9M1317.7 804.1V804.6M1318.1 834.7V844.1M1318.3 834.7V844.1M1318.1 834.7H1318.3M1318.2 806.3V834.7M1318.5 824.1V833.5M1318.7 824.1V833.5M1318.5 824.1H1318.7M1318.6 809.1V824.1M1318.9 820.3V829.7M1319.1 820.3V829.7M1318.9 820.3H1319.1M1319.0 816.5V820.3M1319.3 830.1V839.5M1319.5 830.1V839.5M1319.3 830.1H1319.5M1319.4 818.5V830.1M1319.7 836.7V846.1M1319.9 836.7V846.1M1319.7 836.7H1319.9M1319.8 824.9V836.7M1320.1 824.9V834.3M1319.8 824.9H1320.1M1319.9 818.5V824.9M1319.4 818.5H1319.9M1319.6 816.5V818.5M1319.0 816.5H1319.6M1319.3 809.1V816.5M1318.6 809.1H1319.3M1318.9 806.3V809.1M1318.2 806.3H1318.9M1318.5 804.1V806.3M1317.7 804.1H1318.5M1318.1 799.0V804.1M1317.2 799.0H1318.1M1317.7 797.2V799.0M1316.9 797.2H1317.7M1317.3 794.1V797.2M1316.3 794.1H1317.3M1316.8 792.9V794.1M1315.8 792.9H1316.8M1316.3 784.5V792.9M1315.6 784.5H1316.3M1316.0 781.4V784.5M1315.4 781.4H1316.0M1315.7 781.3V781.4M1320.3 788.5V797.9M1320.5 807.1V816.5M1320.7 807.1V816.5M1320.5 807.1H1320.7M1320.6 804.1V807.1M1320.9 805.0V814.4M1321.1 843.8V853.2M1321.3 843.8V853.2M1321.1 843.8H1321.3M1321.2 829.4V843.8M1321.5 829.4V838.8M1321.2 829.4H1321.5M1321.3 809.8V829.4M1321.7 809.8V819.2M1321.3 809.8H1321.7M1321.5 805.0V809.8M1320.9 805.0H1321.5M1321.2 804.1V805.0M1320.6 804.1H1321.2M1320.9 796.3V804.1M1321.9 833.4V842.8M1322.1 833.4V842.8M1321.9 833.4H1322.1M1322.0 806.0V833.4M1322.3 810.0V819.4M1322.5 810.6V820.0M1322.7 810.6V820.0M1322.5 810.6H1322.7M1322.6 810.0V810.6M1322.3 810.0H1322.6M1322.4 808.9V810.0M1322.9 810.2V819.6M1323.1 812.6V822.0M1323.3 825.2V834.6M1323.5 880.7V890.1M1323.7 880.7V890.1M1323.5 880.7H1323.7M1323.6 842.2V880.7M1323.9 866.6V876.0M1324.1 876.0V885.4M1324.3 877.9V887.3M1324.5 877.9V887.3M1324.3 877.9H1324.5M1324.4 876.0V877.9M1324.1 876.0H1324.4M1324.2 866.6V876.0M1323.9 866.6H1324.2M1324.1 842.2V866.6M1323.6 842.2H1324.1M1323.8 825.2V842.2M1323.3 825.2H1323.8M1323.5 820.6V825.2M1324.7 860.6V870.0M1324.9 860.6V870.0M1324.7 860.6H1324.9M1324.8 824.6V860.6M1325.1 824.8V834.2M1325.3 833.8V843.2M1325.5 849.2V858.6M1325.7 849.2V858.6M1325.5 849.2H1325.7M1325.6 845.7V849.2M1325.9 869.8V879.2M1326.1 889.7V899.1M1326.3 889.7V899.1M1326.1 889.7H1326.3M1326.2 869.8V889.7M1325.9 869.8H1326.2M1326.0 845.7V869.8M1325.6 845.7H1326.0M1325.8 833.8V845.7M1325.3 833.8H1325.8M1325.5 831.7V833.8M1326.5 881.1V890.5M1326.7 889.2V898.6M1326.9 889.2V898.6M1326.7 889.2H1326.9M1326.8 881.1V889.2M1326.5 881.1H1326.8M1326.6 867.5V881.1M1327.1 896.4V905.8M1327.3 896.4V905.8M1327.1 896.4H1327.3M1327.2 867.5V896.4M1326.6 867.5H1327.2M1326.9 837.8V867.5M1327.5 852.4V861.8M1327.7 852.4V861.8M1327.5 852.4H1327.7M1327.6 840.7V852.4M1327.9 856.9V866.3M1328.1 856.9V866.3M1327.9 856.9H1328.1M1328.0 841.9V856.9M1328.3 881.5V890.9M1328.5 889.5V898.9M1328.7 889.5V898.9M1328.5 889.5H1328.7M1328.6 881.5V889.5M1328.3 881.5H1328.6M1328.4 866.3V881.5M1328.9 866.3V875.8M1328.4 866.3H1328.9M1328.7 841.9V866.3M1328.0 841.9H1328.7M1328.3 840.7V841.9M1327.6 840.7H1328.3M1328.0 837.8V840.7M1326.9 837.8H1328.0M1327.4 831.7V837.8M1325.5 831.7H1327.4M1326.5 824.8V831.7M1325.1 824.8H1326.5M1325.8 824.6V824.8M1324.8 824.6H1325.8M1325.3 820.6V824.6M1323.5 820.6H1325.3M1324.4 812.6V820.6M1323.1 812.6H1324.4M1323.7 810.2V812.6M1322.9 810.2H1323.7M1323.3 808.9V810.2M1322.4 808.9H1323.3M1322.9 806.0V808.9M1322.0 806.0H1322.9M1322.4 796.3V806.0M1320.9 796.3H1322.4M1321.6 791.5V796.3M1329.1 800.7V810.1M1329.3 820.2V829.6M1329.5 820.2V829.6M1329.3 820.2H1329.5M1329.4 804.7V820.2M1329.7 805.1V814.5M1329.9 821.5V830.9M1330.1 827.2V836.6M1330.3 827.2V836.6M1330.1 827.2H1330.3M1330.2 827.0V827.2M1330.5 827.0V836.4M1330.2 827.0H1330.5M1330.4 821.5V827.0M1329.9 821.5H1330.4M1330.1 817.3V821.5M1330.7 827.6V837.0M1330.9 827.6V837.0M1330.7 827.6H1330.9M1330.8 817.3V827.6M1330.1 817.3H1330.8M1330.5 811.6V817.3M1331.1 821.4V830.8M1331.3 821.4V830.8M1331.1 821.4H1331.3M1331.2 812.2V821.4M1331.5 836.5V845.9M1331.7 836.5V845.9M1331.5 836.5H1331.7M1331.6 813.8V836.5M1331.9 820.3V829.8M1332.1 820.3V829.8M1331.9 820.3H1332.1M1332.0 820.0V820.3M1332.3 820.0V829.4M1332.0 820.0H1332.3M1332.2 817.1V820.0M1332.5 817.1V826.5M1332.2 817.1H1332.5M1332.3 816.9V817.1M1332.7 818.6V828.0M1332.9 823.1V832.5M1333.1 823.1V832.5M1332.9 823.1H1333.1M1333.0 818.6V823.1M1332.7 818.6H1333.0M1332.9 816.9V818.6M1332.3 816.9H1332.9M1332.6 813.8V816.9M1331.6 813.8H1332.6M1332.1 812.2V813.8M1331.2 812.2H1332.1M1331.7 811.6V812.2M1330.5 811.6H1331.7M1331.1 805.1V811.6M1329.7 805.1H1331.1M1330.4 804.7V805.1M1329.4 804.7H1330.4M1329.9 800.7V804.7M1329.1 800.7H1329.9M1329.5 800.0V800.7M1333.3 805.6V815.0M1333.5 850.8V860.2M1333.7 850.8V860.2M1333.5 850.8H1333.7M1333.6 834.6V850.8M1333.9 834.6V844.0M1333.6 834.6H1333.9M1333.8 814.6V834.6M1334.1 817.1V826.5M1334.3 825.7V835.1M1334.5 825.7V835.1M1334.3 825.7H1334.5M1334.4 822.9V825.7M1334.7 875.8V885.2M1334.9 875.8V885.2M1334.7 875.8H1334.9M1334.8 829.3V875.8M1335.1 870.6V880.0M1335.3 870.6V880.0M1335.1 870.6H1335.3M1335.2 830.7V870.6M1335.5 844.0V853.4M1335.7 844.0V853.4M1335.5 844.0H1335.7M1335.6 836.1V844.0M1335.9 871.6V881.0M1336.1 879.4V888.8M1336.3 879.4V888.8M1336.1 879.4H1336.3M1336.2 871.6V879.4M1335.9 871.6H1336.2M1336.1 842.1V871.6M1336.5 875.1V884.5M1336.7 875.1V884.5M1336.5 875.1H1336.7M1336.6 845.2V875.1M1336.9 847.7V857.1M1337.1 894.6V904.0M1337.3 894.6V904.0M1337.1 894.6H1337.3M1337.2 859.0V894.6M1337.5 859.0V868.4M1337.2 859.0H1337.5M1337.4 852.7V859.0M1337.7 894.3V903.7M1337.9 894.3V903.7M1337.7 894.3H1337.9M1337.8 852.7V894.3M1337.4 852.7H1337.8M1337.6 847.7V852.7M1336.9 847.7H1337.6M1337.3 845.2V847.7M1336.6 845.2H1337.3M1337.0 842.1V845.2M1336.1 842.1H1337.0M1336.5 836.1V842.1M1335.6 836.1H1336.5M1336.1 830.7V836.1M1335.2 830.7H1336.1M1335.7 829.3V830.7M1334.8 829.3H1335.7M1335.2 822.9V829.3M1334.4 822.9H1335.2M1334.8 817.1V822.9M1334.1 817.1H1334.8M1334.5 814.6V817.1M1333.8 814.6H1334.5M1334.1 806.4V814.6M1338.1 811.4V820.8M1338.3 835.8V845.3M1338.5 835.8V845.3M1338.3 835.8H1338.5M1338.4 826.1V835.8M1338.7 826.1V835.5M1338.4 826.1H1338.7M1338.6 821.5V826.1M1338.9 829.8V839.2M1339.1 833.3V842.7M1339.3 833.3V842.7M1339.1 833.3H1339.3M1339.2 829.8V833.3M1338.9 829.8H1339.2M1339.1 828.9V829.8M1339.5 842.3V851.7M1339.7 842.3V851.7M1339.5 842.3H1339.7M1339.6 831.6V842.3M1340.0 833.7V843.1M1340.2 857.7V867.1M1340.4 857.7V867.1M1340.2 857.7H1340.4M1340.3 833.7V857.7M1340.0 833.7H1340.3M1340.1 831.6V833.7M1339.6 831.6H1340.1M1339.9 828.9V831.6M1339.1 828.9H1339.9M1339.5 821.5V828.9M1338.6 821.5H1339.5M1339.0 811.4V821.5M1338.1 811.4H1339.0M1338.6 810.8V811.4M1340.6 815.7V825.1M1340.8 893.7V903.1M1341.0 898.6V908.0M1341.2 898.6V908.0M1341.0 898.6H1341.2M1341.1 893.7V898.6M1340.8 893.7H1341.1M1340.9 853.0V893.7M1341.4 880.3V889.7M1341.6 880.3V889.7M1341.4 880.3H1341.6M1341.5 853.0V880.3M1340.9 853.0H1341.5M1341.2 846.5V853.0M1341.8 903.7V913.1M1342.0 903.7V913.1M1341.8 903.7H1342.0M1341.9 895.5V903.7M1342.2 895.5V904.9M1341.9 895.5H1342.2M1342.0 846.5V895.5M1341.2 846.5H1342.0M1341.6 837.4V846.5M1342.4 839.7V849.1M1342.6 840.4V849.8M1342.8 862.8V872.2M1343.0 881.4V890.8M1343.2 892.4V901.9M1343.4 892.4V901.9M1343.2 892.4H1343.4M1343.3 881.4V892.4M1343.0 881.4H1343.3M1343.1 862.8V881.4M1342.8 862.8H1343.1M1342.9 848.1V862.8M1343.6 869.2V878.6M1343.8 881.6V891.1M1344.0 881.6V891.1M1343.8 881.6H1344.0M1343.9 874.5V881.6M1344.2 910.2V919.6M1344.4 910.2V919.6M1344.2 910.2H1344.4M1344.3 874.5V910.2M1343.9 874.5H1344.3M1344.1 869.2V874.5M1343.6 869.2H1344.1M1343.8 858.4V869.2M1344.6 867.1V876.5M1344.8 867.1V876.5M1344.6 867.1H1344.8M1344.7 861.2V867.1M1345.0 869.2V878.6M1345.2 869.2V878.6M1345.0 869.2H1345.2M1345.1 864.4V869.2M1345.4 922.3V931.7M1345.6 950.6V960.1M1345.8 951.0V960.4M1346.0 951.0V960.4M1345.8 951.0H1346.0M1345.9 950.6V951.0M1345.6 950.6H1345.9M1345.7 940.0V950.6M1346.2 940.0V949.4M1345.7 940.0H1346.2M1346.0 922.3V940.0M1345.4 922.3H1346.0M1345.7 873.1V922.3M1346.4 874.7V884.1M1346.6 915.9V925.3M1346.8 915.9V925.3M1346.6 915.9H1346.8M1346.7 878.3V915.9M1347.0 950.8V960.2M1347.2 950.8V960.2M1347.0 950.8H1347.2M1347.1 881.1V950.8M1347.4 957.6V967.0M1347.6 957.6V967.0M1347.4 957.6H1347.6M1347.5 885.1V957.6M1347.8 902.6V912.0M1348.0 902.6V912.0M1347.8 902.6H1348.0M1347.9 888.2V902.6M1348.2 888.7V898.1M1348.4 931.1V940.5M1348.6 931.1V940.5M1348.4 931.1H1348.6M1348.5 888.7V931.1M1348.2 888.7H1348.5M1348.3 888.2V888.7M1347.9 888.2H1348.3M1348.1 885.1V888.2M1347.5 885.1H1348.1M1347.8 881.1V885.1M1347.1 881.1H1347.8M1347.4 878.3V881.1M1346.7 878.3H1347.4M1347.1 874.7V878.3M1346.4 874.7H1347.1M1346.7 873.1V874.7M1345.7 873.1H1346.7M1346.2 864.4V873.1M1345.1 864.4H1346.2M1345.6 861.2V864.4M1344.7 861.2H1345.6M1345.2 858.4V861.2M1343.8 858.4H1345.2M1344.5 848.1V858.4M1342.9 848.1H1344.5M1343.7 840.4V848.1M1342.6 840.4H1343.7M1343.1 839.7V840.4M1342.4 839.7H1343.1M1342.7 837.4V839.7M1341.6 837.4H1342.7M1342.2 823.9V837.4M1348.8 828.3V837.7M1349.0 849.4V858.8M1349.2 849.4V858.8M1349.0 849.4H1349.2M1349.1 832.1V849.4M1349.4 836.6V846.0M1349.6 838.3V847.7M1349.8 838.3V847.7M1349.6 838.3H1349.8M1349.7 836.6V838.3M1349.4 836.6H1349.7M1349.5 836.4V836.6M1350.0 842.2V851.6M1350.2 842.2V851.6M1350.0 842.2H1350.2M1350.1 840.6V842.2M1350.4 840.6V850.0M1350.1 840.6H1350.4M1350.2 836.7V840.6M1350.6 844.2V853.6M1350.8 844.2V853.6M1350.6 844.2H1350.8M1350.7 837.2V844.2M1351.0 840.1V849.6M1351.2 840.1V849.6M1351.0 840.1H1351.2M1351.1 837.2V840.1M1350.7 837.2H1351.1M1350.9 836.7V837.2M1350.2 836.7H1350.9M1350.6 836.4V836.7M1349.5 836.4H1350.6M1350.1 832.1V836.4M1349.1 832.1H1350.1M1349.6 828.9V832.1M1351.4 831.8V841.2M1351.6 875.1V884.5M1351.8 893.5V902.9M1352.0 893.5V902.9M1351.8 893.5H1352.0M1351.9 875.1V893.5M1351.6 875.1H1351.9M1351.8 847.1V875.1M1352.2 849.8V859.2M1352.4 902.2V911.6M1352.6 902.2V911.6M1352.4 902.2H1352.6M1352.5 881.7V902.2M1352.8 905.5V914.9M1353.0 905.5V914.9M1352.8 905.5H1353.0M1352.9 884.7V905.5M1353.2 884.7V894.1M1352.9 884.7H1353.2M1353.1 881.7V884.7M1352.5 881.7H1353.1M1352.8 866.9V881.7M1353.4 869.5V878.9M1353.6 930.7V940.1M1353.8 931.4V940.8M1354.0 931.4V940.8M1353.8 931.4H1354.0M1353.9 930.7V931.4M1353.6 930.7H1353.9M1353.8 898.9V930.7M1354.2 898.9V908.3M1353.8 898.9H1354.2M1354.0 882.5V898.9M1354.4 936.0V945.4M1354.6 936.0V945.4M1354.4 936.0H1354.6M1354.5 920.1V936.0M1354.8 920.1V929.5M1354.5 920.1H1354.8M1354.7 882.5V920.1M1354.0 882.5H1354.7M1354.3 869.5V882.5M1353.4 869.5H1354.3M1353.9 866.9V869.5M1352.8 866.9H1353.9M1353.3 849.8V866.9M1352.2 849.8H1353.3M1352.8 847.1V849.8M1351.8 847.1H1352.8M1352.3 836.3V847.1M1355.0 839.3V848.7M1355.2 883.5V892.9M1355.4 883.5V892.9M1355.2 883.5H1355.4M1355.3 862.5V883.5M1355.6 862.5V871.9M1355.3 862.5H1355.6M1355.5 856.8V862.5M1355.8 865.6V875.1M1356.0 900.2V909.6M1356.2 900.2V909.6M1356.0 900.2H1356.2M1356.1 865.6V900.2M1355.8 865.6H1356.1M1356.0 856.8V865.6M1355.5 856.8H1356.0M1355.7 839.3V856.8M1355.0 839.3H1355.7M1355.4 839.2V839.3M1356.4 844.5V853.9M1356.6 905.0V914.5M1356.8 914.3V923.7M1357.0 914.3V923.7M1356.8 914.3H1357.0M1356.9 905.0V914.3M1356.6 905.0H1356.9M1356.8 887.0V905.0M1357.2 887.0V896.4M1356.8 887.0H1357.2M1357.0 850.1V887.0M1357.4 884.0V893.4M1357.6 884.0V893.4M1357.4 884.0H1357.6M1357.5 868.7V884.0M1357.8 886.9V896.3M1358.0 918.9V928.3M1358.2 918.9V928.3M1358.0 918.9H1358.2M1358.1 886.9V918.9M1357.8 886.9H1358.1M1358.0 878.5V886.9M1358.4 881.0V890.4M1358.6 915.5V924.9M1358.8 915.5V924.9M1358.6 915.5H1358.8M1358.7 887.0V915.5M1359.0 931.2V940.7M1359.2 931.2V940.7M1359.0 931.2H1359.2M1359.1 899.6V931.2M1359.4 955.1V964.5M1359.6 955.1V964.5M1359.4 955.1H1359.6M1359.5 899.6V955.1M1359.1 899.6H1359.5M1359.3 898.8V899.6M1359.8 911.6V921.0M1360.0 946.8V956.3M1360.2 946.8V956.3M1360.0 946.8H1360.2M1360.1 911.6V946.8M1359.8 911.6H1360.1M1360.0 907.0V911.6M1360.4 907.0V916.4M1360.0 907.0H1360.4M1360.2 898.8V907.0M1359.3 898.8H1360.2M1359.8 887.0V898.8M1358.7 887.0H1359.8M1359.3 881.0V887.0M1358.4 881.0H1359.3M1358.8 878.5V881.0M1358.0 878.5H1358.8M1358.4 868.7V878.5M1357.5 868.7H1358.4M1358.0 850.1V868.7M1357.0 850.1H1358.0M1357.5 844.5V850.1M1356.4 844.5H1357.5M1357.0 839.2V844.5M1355.4 839.2H1357.0M1356.2 836.3V839.2M1352.3 836.3H1356.2M1354.2 831.8V836.3M1351.4 831.8H1354.2M1352.8 828.9V831.8M1349.6 828.9H1352.8M1351.2 828.3V828.9M1348.8 828.3H1351.2M1350.0 823.9V828.3M1342.2 823.9H1350.0M1346.1 815.7V823.9M1340.6 815.7H1346.1M1343.3 810.8V815.7M1338.6 810.8H1343.3M1341.0 806.4V810.8M1334.1 806.4H1341.0M1337.5 805.6V806.4M1333.3 805.6H1337.5M1335.4 800.0V805.6M1329.5 800.0H1335.4M1332.5 797.2V800.0M1360.6 806.0V815.4M1360.8 826.8V836.2M1361.0 826.8V836.2M1360.8 826.8H1361.0M1360.9 824.9V826.8M1361.2 833.6V843.1M1361.4 839.3V848.7M1361.6 845.5V854.9M1361.8 906.5V915.9M1362.0 916.0V925.4M1362.3 916.0V925.4M1362.0 916.0H1362.3M1362.1 906.5V916.0M1361.8 906.5H1362.1M1362.0 864.7V906.5M1362.5 869.2V878.7M1362.7 884.9V894.4M1362.9 884.9V894.4M1362.7 884.9H1362.9M1362.8 869.2V884.9M1362.5 869.2H1362.8M1362.6 864.7V869.2M1362.0 864.7H1362.6M1362.3 845.5V864.7M1361.6 845.5H1362.3M1362.0 839.3V845.5M1361.4 839.3H1362.0M1361.7 833.6V839.3M1361.2 833.6H1361.7M1361.5 824.9V833.6M1360.9 824.9H1361.5M1361.2 806.0V824.9M1360.6 806.0H1361.2M1360.9 802.6V806.0M1363.1 806.1V815.5M1363.3 808.1V817.5M1363.5 815.9V825.3M1363.7 842.2V851.6M1363.9 842.2V851.6M1363.7 842.2H1363.9M1363.8 816.7V842.2M1364.1 845.8V855.3M1364.3 845.8V855.3M1364.1 845.8H1364.3M1364.2 833.0V845.8M1364.5 833.0V842.4M1364.2 833.0H1364.5M1364.3 831.9V833.0M1364.7 831.9V841.3M1364.3 831.9H1364.7M1364.5 816.7V831.9M1363.8 816.7H1364.5M1364.1 815.9V816.7M1363.5 815.9H1364.1M1363.8 815.8V815.9M1364.9 815.8V825.2M1363.8 815.8H1364.9M1364.3 813.9V815.8M1365.1 836.2V845.7M1365.3 836.2V845.7M1365.1 836.2H1365.3M1365.2 822.2V836.2M1365.5 824.5V833.9M1365.7 829.3V838.7M1365.9 860.0V869.4M1366.1 860.0V869.4M1365.9 860.0H1366.1M1366.0 843.3V860.0M1366.3 843.3V852.7M1366.0 843.3H1366.3M1366.1 838.1V843.3M1366.5 838.1V847.5M1366.1 838.1H1366.5M1366.3 830.5V838.1M1366.7 838.4V847.8M1366.9 838.4V847.8M1366.7 838.4H1366.9M1366.8 832.8V838.4M1367.1 832.8V842.2M1366.8 832.8H1367.1M1366.9 832.4V832.8M1367.3 833.5V842.9M1367.5 868.2V877.6M1367.7 868.2V877.6M1367.5 868.2H1367.7M1367.6 833.5V868.2M1367.3 833.5H1367.6M1367.4 832.4V833.5M1366.9 832.4H1367.4M1367.2 830.5V832.4M1366.3 830.5H1367.2M1366.7 829.3V830.5M1365.7 829.3H1366.7M1366.2 824.5V829.3M1365.5 824.5H1366.2M1365.8 822.2V824.5M1365.2 822.2H1365.8M1365.5 813.9V822.2M1364.3 813.9H1365.5M1364.9 808.7V813.9M1367.9 817.7V827.1M1368.1 832.7V842.1M1368.3 839.4V848.8M1368.5 885.9V895.3M1368.7 885.9V895.3M1368.5 885.9H1368.7M1368.6 848.4V885.9M1368.9 865.1V874.5M1369.1 865.1V874.5M1368.9 865.1H1369.1M1369.0 848.4V865.1M1368.6 848.4H1369.0M1368.8 839.4V848.4M1368.3 839.4H1368.8M1368.5 836.8V839.4M1369.3 836.8V846.2M1368.5 836.8H1369.3M1368.9 832.7V836.8M1368.1 832.7H1368.9M1368.5 822.1V832.7M1369.5 838.8V848.3M1369.7 868.7V878.1M1369.9 871.5V880.9M1370.1 871.5V880.9M1369.9 871.5H1370.1M1370.0 868.7V871.5M1369.7 868.7H1370.0M1369.8 854.6V868.7M1370.3 864.5V873.9M1370.5 893.0V902.4M1370.7 899.6V909.1M1370.9 899.6V909.1M1370.7 899.6H1370.9M1370.8 893.0V899.6M1370.5 893.0H1370.8M1370.6 874.4V893.0M1371.1 877.0V886.4M1371.3 877.0V886.4M1371.1 877.0H1371.3M1371.2 874.4V877.0M1370.6 874.4H1371.2M1370.9 864.5V874.4M1370.3 864.5H1370.9M1370.6 854.6V864.5M1369.8 854.6H1370.6M1370.2 838.8V854.6M1369.5 838.8H1370.2M1369.8 822.1V838.8M1368.5 822.1H1369.8M1369.2 817.7V822.1M1367.9 817.7H1369.2M1368.5 814.8V817.7M1371.5 817.4V826.8M1371.7 820.1V829.5M1371.9 841.7V851.1M1372.1 868.9V878.4M1372.3 868.9V878.4M1372.1 868.9H1372.3M1372.2 841.7V868.9M1371.9 841.7H1372.2M1372.0 828.6V841.7M1372.5 828.6V838.0M1372.0 828.6H1372.5M1372.3 825.7V828.6M1372.7 868.8V878.2M1372.9 868.8V878.2M1372.7 868.8H1372.9M1372.8 863.9V868.8M1373.1 876.8V886.2M1373.3 876.8V886.2M1373.1 876.8H1373.3M1373.2 863.9V876.8M1372.8 863.9H1373.2M1373.0 857.2V863.9M1373.5 857.2V866.7M1373.0 857.2H1373.5M1373.2 848.0V857.2M1373.7 862.2V871.6M1373.9 862.2V871.6M1373.7 862.2H1373.9M1373.8 848.0V862.2M1373.2 848.0H1373.8M1373.5 827.9V848.0M1374.1 841.0V850.4M1374.3 849.9V859.3M1374.5 849.9V859.3M1374.3 849.9H1374.5M1374.4 843.9V849.9M1374.7 869.9V879.3M1374.9 869.9V879.3M1374.7 869.9H1374.9M1374.8 846.3V869.9M1375.1 864.9V874.3M1375.3 864.9V874.3M1375.1 864.9H1375.3M1375.2 849.3V864.9M1375.5 901.5V910.9M1375.7 901.5V910.9M1375.5 901.5H1375.7M1375.6 896.6V901.5M1375.9 896.6V906.0M1375.6 896.6H1375.9M1375.8 849.3V896.6M1375.2 849.3H1375.8M1375.5 846.3V849.3M1374.8 846.3H1375.5M1375.1 843.9V846.3M1374.4 843.9H1375.1M1374.8 841.0V843.9M1374.1 841.0H1374.8M1374.4 827.9V841.0M1373.5 827.9H1374.4M1374.0 825.7V827.9M1372.3 825.7H1374.0M1373.1 820.1V825.7M1371.7 820.1H1373.1M1372.4 817.4V820.1M1371.5 817.4H1372.4M1372.0 814.8V817.4M1368.5 814.8H1372.0M1370.2 808.7V814.8M1364.9 808.7H1370.2M1367.6 808.1V808.7M1363.3 808.1H1367.6M1365.4 806.1V808.1M1363.1 806.1H1365.4M1364.2 802.6V806.1M1360.9 802.6H1364.2M1362.6 797.2V802.6M1332.5 797.2H1362.6M1347.5 791.5V797.2M1321.6 791.5H1347.5M1334.6 788.5V791.5M1320.3 788.5H1334.6M1327.4 781.3V788.5M1315.7 781.3H1327.4M1321.6 776.0V781.3M1314.6 776.0H1321.6M1318.1 775.1V776.0M1313.6 775.1H1318.1M1315.9 774.2V775.1M1312.9 774.2H1315.9M1314.4 774.0V774.2M1311.5 774.0H1314.4M1312.9 772.6V774.0M1309.7 772.6H1312.9M1311.3 771.3V772.6M1308.8 771.3H1311.3M1310.0 770.9V771.3M1306.2 770.9H1310.0M1308.1 768.2V770.9M1304.3 768.2H1308.1M1306.2 766.3V768.2M1303.4 766.3H1306.2M1304.8 766.3V766.3M1298.0 766.3H1304.8M1301.4 763.6V766.3M1296.1 763.6H1301.4M1298.7 761.6V763.6M1290.9 761.6H1298.7M1294.8 759.5V761.6M1287.4 759.5H1294.8M1291.1 757.6V759.5M1286.1 757.6H1291.1M1288.6 756.7V757.6M1280.8 756.7H1288.6M1284.7 753.0V756.7M1279.7 753.0H1284.7M1282.2 753.0V753.0M1275.9 753.0H1282.2M1279.1 750.3V753.0M1274.4 750.3H1279.1M1276.7 749.5V750.3M1269.4 749.5H1276.7M1273.0 746.3V749.5M1265.4 746.3H1273.0M1269.2 743.9V746.3M1263.1 743.9H1269.2M1266.2 743.3V743.9M1258.7 743.3H1266.2M1262.5 742.2V743.3M1376.1 751.7V761.1M1376.3 753.0V762.4M1376.5 766.9V776.3M1376.7 778.7V788.1M1376.9 778.7V788.1M1376.7 778.7H1376.9M1376.8 766.9V778.7M1376.5 766.9H1376.8M1376.7 764.9V766.9M1377.1 764.9V774.3M1376.7 764.9H1377.1M1376.9 756.3V764.9M1377.3 774.4V783.8M1377.5 774.4V783.8M1377.3 774.4H1377.5M1377.4 756.7V774.4M1377.7 797.7V807.1M1377.9 797.7V807.1M1377.7 797.7H1377.9M1377.8 777.5V797.7M1378.1 777.5V786.9M1377.8 777.5H1378.1M1378.0 774.1V777.5M1378.3 781.1V790.5M1378.5 781.1V790.5M1378.3 781.1H1378.5M1378.4 774.1V781.1M1378.0 774.1H1378.4M1378.2 762.5V774.1M1378.7 773.5V782.9M1378.9 773.5V782.9M1378.7 773.5H1378.9M1378.8 762.5V773.5M1378.2 762.5H1378.8M1378.5 760.6V762.5M1379.1 765.6V775.0M1379.3 794.9V804.3M1379.5 794.9V804.3M1379.3 794.9H1379.5M1379.4 775.4V794.9M1379.7 800.8V810.2M1379.9 800.8V810.2M1379.7 800.8H1379.9M1379.8 775.4V800.8M1379.4 775.4H1379.8M1379.6 765.6V775.4M1379.1 765.6H1379.6M1379.4 762.0V765.6M1380.1 762.7V772.1M1380.3 779.7V789.1M1380.5 798.1V807.5M1380.7 798.1V807.5M1380.5 798.1H1380.7M1380.6 791.1V798.1M1380.9 791.1V800.5M1380.6 791.1H1380.9M1380.8 779.7V791.1M1380.3 779.7H1380.8M1380.6 777.2V779.7M1381.1 777.2V786.6M1380.6 777.2H1381.1M1380.8 775.1V777.2M1381.3 782.6V792.0M1381.5 782.6V792.0M1381.3 782.6H1381.5M1381.4 775.1V782.6M1380.8 775.1H1381.4M1381.1 765.3V775.1M1381.7 791.4V800.8M1381.9 791.4V800.8M1381.7 791.4H1381.9M1381.8 766.9V791.4M1382.1 774.0V783.4M1382.3 776.1V785.5M1382.5 776.1V785.5M1382.3 776.1H1382.5M1382.4 774.0V776.1M1382.1 774.0H1382.4M1382.3 767.2V774.0M1382.7 775.0V784.4M1382.9 775.0V784.4M1382.7 775.0H1382.9M1382.8 773.6V775.0M1383.1 773.6V783.0M1382.8 773.6H1383.1M1383.0 768.3V773.6M1383.3 768.3V777.7M1383.0 768.3H1383.3M1383.2 768.2V768.3M1383.5 806.9V816.3M1383.7 806.9V816.3M1383.5 806.9H1383.7M1383.6 790.0V806.9M1383.9 790.0V799.4M1383.6 790.0H1383.9M1383.8 770.5V790.0M1384.1 804.2V813.6M1384.3 807.6V817.1M1384.6 807.6V817.1M1384.3 807.6H1384.6M1384.4 804.2V807.6M1384.1 804.2H1384.4M1384.3 787.6V804.2M1384.8 797.3V806.7M1385.0 797.3V806.7M1384.8 797.3H1385.0M1384.9 787.6V797.3M1384.3 787.6H1384.9M1384.6 777.1V787.6M1385.2 777.1V786.6M1384.6 777.1H1385.2M1384.9 772.9V777.1M1385.4 791.0V800.4M1385.6 791.0V800.4M1385.4 791.0H1385.6M1385.5 773.6V791.0M1385.8 781.9V791.4M1386.0 781.9V791.4M1385.8 781.9H1386.0M1385.9 774.2V781.9M1386.2 779.9V789.3M1386.4 779.9V789.3M1386.2 779.9H1386.4M1386.3 778.7V779.9M1386.6 778.7V788.1M1386.3 778.7H1386.6M1386.4 774.5V778.7M1386.8 775.6V785.0M1387.0 775.6V785.0M1386.8 775.6H1387.0M1386.9 775.1V775.6M1387.2 795.6V805.0M1387.4 795.6V805.0M1387.2 795.6H1387.4M1387.3 776.0V795.6M1387.6 802.4V811.8M1387.8 802.4V811.8M1387.6 802.4H1387.8M1387.7 793.4V802.4M1388.0 793.4V802.8M1387.7 793.4H1388.0M1387.8 776.5V793.4M1388.2 804.7V814.1M1388.4 804.7V814.1M1388.2 804.7H1388.4M1388.3 783.3V804.7M1388.6 794.6V804.0M1388.8 807.5V816.9M1389.0 818.4V827.9M1389.2 818.4V827.9M1389.0 818.4H1389.2M1389.1 807.5V818.4M1388.8 807.5H1389.1M1388.9 794.6V807.5M1388.6 794.6H1388.9M1388.7 783.3V794.6M1388.3 783.3H1388.7M1388.5 782.9V783.3M1389.4 782.9V792.3M1388.5 782.9H1389.4M1388.9 781.9V782.9M1389.6 796.1V805.5M1389.8 796.1V805.5M1389.6 796.1H1389.8M1389.7 793.9V796.1M1390.0 813.8V823.3M1390.2 813.8V823.3M1390.0 813.8H1390.2M1390.1 810.7V813.8M1390.4 810.7V820.1M1390.1 810.7H1390.4M1390.2 793.9V810.7M1389.7 793.9H1390.2M1389.9 781.9V793.9M1388.9 781.9H1389.9M1389.4 780.9V781.9M1390.6 804.2V813.6M1390.8 804.2V813.6M1390.6 804.2H1390.8M1390.7 782.4V804.2M1391.0 782.4V791.8M1390.7 782.4H1391.0M1390.8 781.9V782.4M1391.2 782.7V792.1M1391.4 783.5V792.9M1391.6 805.5V814.9M1391.8 805.5V814.9M1391.6 805.5H1391.8M1391.7 789.0V805.5M1392.0 789.0V798.4M1391.7 789.0H1392.0M1391.8 783.5V789.0M1391.4 783.5H1391.8M1391.6 783.3V783.5M1392.2 818.7V828.1M1392.4 818.7V828.1M1392.2 818.7H1392.4M1392.3 784.4V818.7M1392.6 825.2V834.6M1392.8 825.2V834.6M1392.6 825.2H1392.8M1392.7 785.3V825.2M1393.0 794.4V803.8M1393.2 797.4V806.8M1393.4 797.4V806.8M1393.2 797.4H1393.4M1393.3 794.4V797.4M1393.0 794.4H1393.3M1393.1 785.3V794.4M1392.7 785.3H1393.1M1392.9 784.4V785.3M1392.3 784.4H1392.9M1392.6 783.3V784.4M1391.6 783.3H1392.6M1392.1 782.7V783.3M1391.2 782.7H1392.1M1391.6 781.9V782.7M1390.8 781.9H1391.6M1391.2 780.9V781.9M1389.4 780.9H1391.2M1390.3 776.5V780.9M1387.8 776.5H1390.3M1389.1 776.0V776.5M1387.3 776.0H1389.1M1388.2 775.1V776.0M1386.9 775.1H1388.2M1387.5 774.5V775.1M1386.4 774.5H1387.5M1387.0 774.2V774.5M1385.9 774.2H1387.0M1386.4 773.6V774.2M1385.5 773.6H1386.4M1385.9 772.9V773.6M1384.9 772.9H1385.9M1385.4 770.5V772.9M1383.8 770.5H1385.4M1384.6 768.2V770.5M1383.2 768.2H1384.6M1383.9 767.2V768.2M1382.3 767.2H1383.9M1383.1 766.9V767.2M1381.8 766.9H1383.1M1382.5 765.3V766.9M1381.1 765.3H1382.5M1381.8 762.7V765.3M1380.1 762.7H1381.8M1381.0 762.0V762.7M1379.4 762.0H1381.0M1380.2 760.6V762.0M1378.5 760.6H1380.2M1379.3 756.7V760.6M1377.4 756.7H1379.3M1378.4 756.3V756.7M1376.9 756.3H1378.4M1377.6 753.0V756.3M1376.3 753.0H1377.6M1377.0 751.7V753.0M1376.1 751.7H1377.0M1376.5 748.6V751.7M1393.6 753.1V762.5M1393.8 781.7V791.1M1394.0 781.7V791.1M1393.8 781.7H1394.0M1393.9 777.4V781.7M1394.2 777.4V786.8M1393.9 777.4H1394.2M1394.0 761.1V777.4M1394.4 761.1V770.5M1394.0 761.1H1394.4M1394.2 758.1V761.1M1394.6 767.3V776.7M1394.8 767.3V776.7M1394.6 767.3H1394.8M1394.7 763.9V767.3M1395.0 763.9V773.3M1394.7 763.9H1395.0M1394.8 760.8V763.9M1395.2 763.8V773.3M1395.4 764.8V774.2M1395.6 770.9V780.3M1395.8 795.4V804.8M1396.0 795.4V804.8M1395.8 795.4H1396.0M1395.9 777.9V795.4M1396.2 777.9V787.3M1395.9 777.9H1396.2M1396.1 772.9V777.9M1396.4 772.9V782.3M1396.1 772.9H1396.4M1396.2 772.3V772.9M1396.6 772.3V781.7M1396.2 772.3H1396.6M1396.4 770.9V772.3M1395.6 770.9H1396.4M1396.0 769.4V770.9M1396.8 781.0V790.4M1397.0 781.0V790.4M1396.8 781.0H1397.0M1396.9 777.6V781.0M1397.2 777.6V787.0M1396.9 777.6H1397.2M1397.1 773.5V777.6M1397.4 778.3V787.8M1397.6 786.7V796.1M1397.8 786.7V796.1M1397.6 786.7H1397.8M1397.7 786.4V786.7M1398.0 786.4V795.8M1397.7 786.4H1398.0M1397.9 780.8V786.4M1398.2 782.6V792.0M1398.4 782.6V792.0M1398.2 782.6H1398.4M1398.3 780.8V782.6M1397.9 780.8H1398.3M1398.1 778.3V780.8M1397.4 778.3H1398.1M1397.7 777.8V778.3M1398.6 790.2V799.6M1398.8 790.2V799.6M1398.6 790.2H1398.8M1398.7 777.8V790.2M1397.7 777.8H1398.7M1398.2 773.5V777.8M1397.1 773.5H1398.2M1397.6 769.4V773.5M1396.0 769.4H1397.6M1396.8 764.8V769.4M1395.4 764.8H1396.8M1396.1 763.8V764.8M1395.2 763.8H1396.1M1395.7 760.8V763.8M1394.8 760.8H1395.7M1395.3 758.1V760.8M1394.2 758.1H1395.3M1394.7 753.1V758.1M1393.6 753.1H1394.7M1394.2 748.8V753.1M1399.0 754.3V763.7M1399.2 755.2V764.6M1399.4 755.7V765.1M1399.6 761.3V770.7M1399.8 767.8V777.2M1400.0 767.8V777.2M1399.8 767.8H1400.0M1399.9 761.3V767.8M1399.6 761.3H1399.9M1399.8 756.6V761.3M1400.2 767.2V776.6M1400.4 767.6V777.0M1400.6 767.6V777.0M1400.4 767.6H1400.6M1400.5 767.2V767.6M1400.2 767.2H1400.5M1400.4 757.9V767.2M1400.8 758.9V768.3M1401.0 767.5V776.9M1401.2 768.5V778.0M1401.4 768.5V778.0M1401.2 768.5H1401.4M1401.3 767.5V768.5M1401.0 767.5H1401.3M1401.2 765.1V767.5M1401.6 772.7V782.2M1401.8 772.7V782.2M1401.6 772.7H1401.8M1401.7 769.9V772.7M1402.0 769.9V779.3M1401.7 769.9H1402.0M1401.9 765.1V769.9M1401.2 765.1H1401.9M1401.5 760.1V765.1M1402.2 776.1V785.5M1402.4 776.1V785.5M1402.2 776.1H1402.4M1402.3 768.0V776.1M1402.6 776.3V785.7M1402.8 776.3V785.7M1402.6 776.3H1402.8M1402.7 769.5V776.3M1403.0 769.5V778.9M1402.7 769.5H1403.0M1402.9 768.0V769.5M1402.3 768.0H1402.9M1402.6 766.4V768.0M1403.2 766.4V775.8M1402.6 766.4H1403.2M1402.9 762.8V766.4M1403.4 774.6V784.0M1403.6 774.6V784.0M1403.4 774.6H1403.6M1403.5 763.3V774.6M1403.8 763.5V772.9M1404.0 772.4V781.8M1404.2 773.1V782.5M1404.4 773.1V782.5M1404.2 773.1H1404.4M1404.3 772.4V773.1M1404.0 772.4H1404.3M1404.2 763.5V772.4M1403.8 763.5H1404.2M1404.0 763.3V763.5M1403.5 763.3H1404.0M1403.8 762.8V763.3M1402.9 762.8H1403.8M1403.3 760.1V762.8M1401.5 760.1H1403.3M1402.4 758.9V760.1M1400.8 758.9H1402.4M1401.6 757.9V758.9M1400.4 757.9H1401.6M1401.0 756.6V757.9M1399.8 756.6H1401.0M1400.4 755.7V756.6M1399.4 755.7H1400.4M1399.9 755.2V755.7M1399.2 755.2H1399.9M1399.6 754.3V755.2M1399.0 754.3H1399.6M1399.3 750.8V754.3M1404.6 756.9V766.3M1404.8 763.7V773.1M1405.0 772.9V782.3M1405.2 787.9V797.3M1405.4 787.9V797.3M1405.2 787.9H1405.4M1405.3 775.8V787.9M1405.6 775.8V785.2M1405.3 775.8H1405.6M1405.5 772.9V775.8M1405.0 772.9H1405.5M1405.3 763.7V772.9M1404.8 763.7H1405.3M1405.1 756.9V763.7M1404.6 756.9H1405.1M1404.8 751.1V756.9M1405.8 756.9V766.3M1406.0 760.8V770.2M1406.2 774.6V784.0M1406.4 779.2V788.6M1406.6 782.6V792.1M1406.8 782.6V792.1M1406.6 782.6H1406.8M1406.7 779.2V782.6M1406.4 779.2H1406.7M1406.6 774.6V779.2M1406.2 774.6H1406.6M1406.4 768.8V774.6M1407.1 791.1V800.5M1407.3 791.1V800.5M1407.1 791.1H1407.3M1407.2 784.4V791.1M1407.5 784.4V793.9M1407.2 784.4H1407.5M1407.3 776.0V784.4M1407.7 776.5V785.9M1407.9 805.0V814.4M1408.1 805.0V814.4M1407.9 805.0H1408.1M1408.0 779.2V805.0M1408.3 788.8V798.2M1408.5 788.8V798.2M1408.3 788.8H1408.5M1408.4 782.8V788.8M1408.7 789.6V799.0M1408.9 789.6V799.0M1408.7 789.6H1408.9M1408.8 788.5V789.6M1409.1 788.5V797.9M1408.8 788.5H1409.1M1408.9 787.6V788.5M1409.3 789.1V798.5M1409.5 789.1V798.5M1409.3 789.1H1409.5M1409.4 787.6V789.1M1408.9 787.6H1409.4M1409.1 782.8V787.6M1408.4 782.8H1409.1M1408.7 779.2V782.8M1408.0 779.2H1408.7M1408.4 776.5V779.2M1407.7 776.5H1408.4M1408.0 776.0V776.5M1407.3 776.0H1408.0M1407.7 768.8V776.0M1406.4 768.8H1407.7M1407.0 760.8V768.8M1406.0 760.8H1407.0M1406.5 756.9V760.8M1405.8 756.9H1406.5M1406.2 751.1V756.9M1404.8 751.1H1406.2M1405.5 751.0V751.1M1409.7 756.6V766.0M1409.9 776.7V786.1M1410.1 776.7V786.1M1409.9 776.7H1410.1M1410.0 756.6V776.7M1409.7 756.6H1410.0M1409.8 752.1V756.6M1410.3 759.3V768.7M1410.5 765.7V775.1M1410.7 765.7V775.1M1410.5 765.7H1410.7M1410.6 763.0V765.7M1410.9 763.4V772.9M1411.1 769.2V778.6M1411.3 769.4V778.8M1411.5 769.4V778.8M1411.3 769.4H1411.5M1411.4 769.2V769.4M1411.1 769.2H1411.4M1411.2 767.1V769.2M1411.7 777.4V786.8M1411.9 777.4V786.8M1411.7 777.4H1411.9M1411.8 767.1V777.4M1411.2 767.1H1411.8M1411.5 763.4V767.1M1410.9 763.4H1411.5M1411.2 763.0V763.4M1410.6 763.0H1411.2M1410.9 759.3V763.0M1410.3 759.3H1410.9M1410.6 752.5V759.3M1412.1 755.7V765.1M1412.3 767.9V777.3M1412.5 782.8V792.2M1412.7 782.8V792.2M1412.5 782.8H1412.7M1412.6 767.9V782.8M1412.3 767.9H1412.6M1412.4 763.5V767.9M1412.9 779.3V788.7M1413.1 779.3V788.7M1412.9 779.3H1413.1M1413.0 766.3V779.3M1413.3 773.7V783.1M1413.5 773.7V783.1M1413.3 773.7H1413.5M1413.4 769.3V773.7M1413.7 787.0V796.4M1413.9 787.0V796.4M1413.7 787.0H1413.9M1413.8 782.2V787.0M1414.1 782.2V791.6M1413.8 782.2H1414.1M1413.9 773.5V782.2M1414.3 773.5V782.9M1413.9 773.5H1414.3M1414.1 769.3V773.5M1413.4 769.3H1414.1M1413.7 767.1V769.3M1414.5 795.5V804.9M1414.7 795.5V804.9M1414.5 795.5H1414.7M1414.6 768.0V795.5M1414.9 789.0V798.4M1415.1 789.0V798.4M1414.9 789.0H1415.1M1415.0 782.4V789.0M1415.3 782.4V791.8M1415.0 782.4H1415.3M1415.1 769.9V782.4M1415.5 771.6V781.1M1415.7 772.6V782.0M1415.9 806.7V816.1M1416.1 806.7V816.1M1415.9 806.7H1416.1M1416.0 802.5V806.7M1416.3 802.5V811.9M1416.0 802.5H1416.3M1416.1 774.7V802.5M1416.5 779.5V789.0M1416.7 779.5V789.0M1416.5 779.5H1416.7M1416.6 775.8V779.5M1416.9 809.0V818.4M1417.1 809.0V818.4M1416.9 809.0H1417.1M1417.0 784.4V809.0M1417.3 784.4V793.8M1417.0 784.4H1417.3M1417.1 783.3V784.4M1417.5 811.4V820.8M1417.7 811.4V820.8M1417.5 811.4H1417.7M1417.6 783.3V811.4M1417.1 783.3H1417.6M1417.4 779.5V783.3M1417.9 805.2V814.6M1418.1 805.2V814.6M1417.9 805.2H1418.1M1418.0 779.8V805.2M1418.3 804.0V813.4M1418.5 804.0V813.4M1418.3 804.0H1418.5M1418.4 801.6V804.0M1418.7 801.6V811.0M1418.4 801.6H1418.7M1418.6 781.8V801.6M1418.9 783.2V792.6M1419.1 790.1V799.5M1419.3 790.1V799.5M1419.1 790.1H1419.3M1419.2 787.8V790.1M1419.5 787.8V797.2M1419.2 787.8H1419.5M1419.4 783.2V787.8M1418.9 783.2H1419.4M1419.1 781.8V783.2M1418.6 781.8H1419.1M1418.8 779.8V781.8M1418.0 779.8H1418.8M1418.4 779.5V779.8M1417.4 779.5H1418.4M1417.9 775.8V779.5M1416.6 775.8H1417.9M1417.2 774.7V775.8M1416.1 774.7H1417.2M1416.7 772.6V774.7M1415.7 772.6H1416.7M1416.2 771.6V772.6M1415.5 771.6H1416.2M1415.8 769.9V771.6M1415.1 769.9H1415.8M1415.5 768.0V769.9M1414.6 768.0H1415.5M1415.0 767.1V768.0M1413.7 767.1H1415.0M1414.4 766.3V767.1M1413.0 766.3H1414.4M1413.7 763.5V766.3M1412.4 763.5H1413.7M1413.1 755.7V763.5M1412.1 755.7H1413.1M1412.6 753.5V755.7M1419.7 758.5V767.9M1419.9 789.3V798.7M1420.1 789.3V798.7M1419.9 789.3H1420.1M1420.0 772.0V789.3M1420.3 794.4V803.8M1420.5 794.4V803.8M1420.3 794.4H1420.5M1420.4 772.0V794.4M1420.0 772.0H1420.4M1420.2 763.3V772.0M1420.7 772.8V782.2M1420.9 794.3V803.7M1421.1 794.3V803.7M1420.9 794.3H1421.1M1421.0 772.8V794.3M1420.7 772.8H1421.0M1420.9 768.2V772.8M1421.3 768.2V777.7M1420.9 768.2H1421.3M1421.1 763.9V768.2M1421.5 784.3V793.7M1421.7 784.3V793.7M1421.5 784.3H1421.7M1421.6 774.9V784.3M1421.9 810.8V820.2M1422.1 810.8V820.2M1421.9 810.8H1422.1M1422.0 774.9V810.8M1421.6 774.9H1422.0M1421.8 765.8V774.9M1422.3 800.4V809.8M1422.5 800.4V809.8M1422.3 800.4H1422.5M1422.4 777.7V800.4M1422.7 800.6V810.0M1422.9 800.6V810.0M1422.7 800.6H1422.9M1422.8 788.3V800.6M1423.1 804.6V814.0M1423.3 804.6V814.0M1423.1 804.6H1423.3M1423.2 800.2V804.6M1423.5 810.7V820.1M1423.7 810.7V820.1M1423.5 810.7H1423.7M1423.6 800.2V810.7M1423.2 800.2H1423.6M1423.4 794.7V800.2M1423.9 806.2V815.6M1424.1 806.2V815.6M1423.9 806.2H1424.1M1424.0 796.9V806.2M1424.3 798.1V807.5M1424.5 825.6V835.0M1424.7 828.4V837.8M1424.9 828.4V837.8M1424.7 828.4H1424.9M1424.8 825.6V828.4M1424.5 825.6H1424.8M1424.7 802.2V825.6M1425.1 802.2V811.6M1424.7 802.2H1425.1M1424.9 798.1V802.2M1424.3 798.1H1424.9M1424.6 796.9V798.1M1424.0 796.9H1424.6M1424.3 794.7V796.9M1423.4 794.7H1424.3M1423.9 788.3V794.7M1422.8 788.3H1423.9M1423.3 777.7V788.3M1422.4 777.7H1423.3M1422.9 765.8V777.7M1421.8 765.8H1422.9M1422.4 763.9V765.8M1421.1 763.9H1422.4M1421.7 763.3V763.9M1420.2 763.3H1421.7M1421.0 758.5V763.3M1419.7 758.5H1421.0M1420.3 754.8V758.5M1425.3 759.7V769.1M1425.5 777.6V787.0M1425.7 779.5V789.0M1425.9 779.5V789.0M1425.7 779.5H1425.9M1425.8 777.6V779.5M1425.5 777.6H1425.8M1425.7 767.4V777.6M1426.1 777.1V786.5M1426.3 777.1V786.5M1426.1 777.1H1426.3M1426.2 770.8V777.1M1426.5 785.6V795.0M1426.7 785.6V795.0M1426.5 785.6H1426.7M1426.6 777.4V785.6M1426.9 797.2V806.6M1427.1 797.2V806.6M1426.9 797.2H1427.1M1427.0 787.7V797.2M1427.3 787.7V797.1M1427.0 787.7H1427.3M1427.2 777.4V787.7M1426.6 777.4H1427.2M1426.9 770.8V777.4M1426.2 770.8H1426.9M1426.6 767.4V770.8M1425.7 767.4H1426.6M1426.1 759.7V767.4M1425.3 759.7H1426.1M1425.7 756.0V759.7M1427.5 759.9V769.3M1427.7 760.3V769.7M1427.9 766.4V775.8M1428.1 772.5V781.9M1428.3 772.5V781.9M1428.1 772.5H1428.3M1428.2 772.1V772.5M1428.5 772.1V781.5M1428.2 772.1H1428.5M1428.4 768.1V772.1M1428.7 781.4V790.8M1428.9 781.4V790.8M1428.7 781.4H1428.9M1428.8 770.9V781.4M1429.1 770.9V780.3M1428.8 770.9H1429.1M1429.0 768.1V770.9M1428.4 768.1H1429.0M1428.7 766.4V768.1M1427.9 766.4H1428.7M1428.3 765.2V766.4M1429.4 772.0V781.4M1429.6 772.0V781.4M1429.4 772.0H1429.6M1429.5 765.2V772.0M1428.3 765.2H1429.5M1428.9 765.2V765.2M1429.8 776.6V786.1M1430.0 780.1V789.5M1430.2 780.9V790.4M1430.4 780.9V790.4M1430.2 780.9H1430.4M1430.3 780.1V780.9M1430.0 780.1H1430.3M1430.1 776.6V780.1M1429.8 776.6H1430.1M1429.9 765.5V776.6M1430.6 775.9V785.4M1430.8 775.9V785.4M1430.6 775.9H1430.8M1430.7 769.0V775.9M1431.0 772.0V781.4M1431.2 772.0V781.4M1431.0 772.0H1431.2M1431.1 769.0V772.0M1430.7 769.0H1431.1M1430.9 768.9V769.0M1431.4 769.0V778.4M1431.6 769.0V778.4M1431.4 769.0H1431.6M1431.5 768.9V769.0M1430.9 768.9H1431.5M1431.2 766.5V768.9M1431.8 766.5V775.9M1431.2 766.5H1431.8M1431.5 765.5V766.5M1429.9 765.5H1431.5M1430.7 765.2V765.5M1428.9 765.2H1430.7M1429.8 760.3V765.2M1427.7 760.3H1429.8M1428.8 759.9V760.3M1427.5 759.9H1428.8M1428.2 757.0V759.9M1432.0 764.2V773.6M1432.2 767.0V776.4M1432.4 817.8V827.2M1432.6 817.8V827.2M1432.4 817.8H1432.6M1432.5 798.5V817.8M1432.8 798.5V807.9M1432.5 798.5H1432.8M1432.6 770.6V798.5M1433.0 771.8V781.2M1433.2 838.5V847.9M1433.4 838.5V847.9M1433.2 838.5H1433.4M1433.3 776.3V838.5M1433.6 776.3V785.7M1433.3 776.3H1433.6M1433.4 773.8V776.3M1433.8 838.5V847.9M1434.0 838.5V847.9M1433.8 838.5H1434.0M1433.9 800.6V838.5M1434.2 821.3V830.7M1434.4 821.3V830.7M1434.2 821.3H1434.4M1434.3 800.6V821.3M1433.9 800.6H1434.3M1434.1 778.4V800.6M1434.6 807.2V816.6M1434.8 807.2V816.6M1434.6 807.2H1434.8M1434.7 780.2V807.2M1435.0 780.6V790.0M1435.2 796.9V806.3M1435.4 810.4V819.8M1435.6 810.4V819.8M1435.4 810.4H1435.6M1435.5 796.9V810.4M1435.2 796.9H1435.5M1435.3 796.8V796.9M1435.8 802.9V812.3M1436.0 802.9V812.3M1435.8 802.9H1436.0M1435.9 796.8V802.9M1435.3 796.8H1435.9M1435.6 785.4V796.8M1436.2 851.7V861.1M1436.4 851.7V861.1M1436.2 851.7H1436.4M1436.3 814.9V851.7M1436.6 814.9V824.3M1436.3 814.9H1436.6M1436.4 798.1V814.9M1436.8 805.8V815.2M1437.0 805.8V815.2M1436.8 805.8H1437.0M1436.9 798.1V805.8M1436.4 798.1H1436.9M1436.7 788.4V798.1M1437.2 790.1V799.5M1437.4 804.9V814.4M1437.6 804.9V814.4M1437.4 804.9H1437.6M1437.5 801.8V804.9M1437.8 801.8V811.2M1437.5 801.8H1437.8M1437.6 791.5V801.8M1438.0 793.0V802.4M1438.2 794.4V803.8M1438.4 814.6V824.0M1438.6 820.4V829.8M1438.8 820.4V829.8M1438.6 820.4H1438.8M1438.7 814.6V820.4M1438.4 814.6H1438.7M1438.5 795.2V814.6M1439.0 845.8V855.2M1439.2 845.8V855.2M1439.0 845.8H1439.2M1439.1 818.2V845.8M1439.4 843.8V853.2M1439.6 843.8V853.2M1439.4 843.8H1439.6M1439.5 818.2V843.8M1439.1 818.2H1439.5M1439.3 798.5V818.2M1439.8 799.1V808.5M1440.0 800.5V809.9M1440.2 848.3V857.7M1440.4 848.3V857.7M1440.2 848.3H1440.4M1440.3 808.4V848.3M1440.6 851.3V860.7M1440.8 851.3V860.7M1440.6 851.3H1440.8M1440.7 808.4V851.3M1440.3 808.4H1440.7M1440.5 803.1V808.4M1441.0 834.6V844.0M1441.2 834.6V844.0M1441.0 834.6H1441.2M1441.1 804.4V834.6M1441.4 805.0V814.4M1441.6 852.2V861.7M1441.8 868.2V877.7M1442.0 868.2V877.7M1441.8 868.2H1442.0M1441.9 852.2V868.2M1441.6 852.2H1441.9M1441.8 817.7V852.2M1442.2 817.7V827.1M1441.8 817.7H1442.2M1442.0 808.6V817.7M1442.4 854.8V864.2M1442.6 876.4V885.8M1442.8 876.4V885.8M1442.6 876.4H1442.8M1442.7 854.8V876.4M1442.4 854.8H1442.7M1442.6 817.6V854.8M1443.0 859.8V869.2M1443.2 859.8V869.2M1443.0 859.8H1443.2M1443.1 817.6V859.8M1442.6 817.6H1443.1M1442.8 811.9V817.6M1443.4 812.1V821.5M1443.6 829.9V839.3M1443.8 870.1V879.5M1444.0 874.3V883.7M1444.2 874.3V883.7M1444.0 874.3H1444.2M1444.1 870.1V874.3M1443.8 870.1H1444.1M1444.0 838.8V870.1M1444.4 838.8V848.2M1444.0 838.8H1444.4M1444.2 829.9V838.8M1443.6 829.9H1444.2M1443.9 822.0V829.9M1444.6 825.5V835.0M1444.8 825.5V835.0M1444.6 825.5H1444.8M1444.7 822.0V825.5M1443.9 822.0H1444.7M1444.3 812.1V822.0M1443.4 812.1H1444.3M1443.9 811.9V812.1M1442.8 811.9H1443.9M1443.3 808.6V811.9M1442.0 808.6H1443.3M1442.7 805.0V808.6M1441.4 805.0H1442.7M1442.0 804.4V805.0M1441.1 804.4H1442.0M1441.6 803.1V804.4M1440.5 803.1H1441.6M1441.0 800.5V803.1M1440.0 800.5H1441.0M1440.5 799.1V800.5M1439.8 799.1H1440.5M1440.2 798.5V799.1M1439.3 798.5H1440.2M1439.7 795.2V798.5M1438.5 795.2H1439.7M1439.1 794.4V795.2M1438.2 794.4H1439.1M1438.7 793.0V794.4M1438.0 793.0H1438.7M1438.3 791.5V793.0M1437.6 791.5H1438.3M1438.0 790.1V791.5M1437.2 790.1H1438.0M1437.6 788.4V790.1M1436.7 788.4H1437.6M1437.1 785.4V788.4M1435.6 785.4H1437.1M1436.4 780.6V785.4M1435.0 780.6H1436.4M1435.7 780.2V780.6M1434.7 780.2H1435.7M1435.2 778.4V780.2M1434.1 778.4H1435.2M1434.6 773.8V778.4M1433.4 773.8H1434.6M1434.0 771.8V773.8M1433.0 771.8H1434.0M1433.5 770.6V771.8M1432.6 770.6H1433.5M1433.1 767.0V770.6M1432.2 767.0H1433.1M1432.6 764.2V767.0M1432.0 764.2H1432.6M1432.3 760.3V764.2M1445.0 762.5V771.9M1445.2 768.3V777.7M1445.4 769.8V779.2M1445.6 789.3V798.7M1445.8 793.3V802.7M1446.0 835.7V845.1M1446.2 835.7V845.1M1446.0 835.7H1446.2M1446.1 793.3V835.7M1445.8 793.3H1446.1M1446.0 789.3V793.3M1445.6 789.3H1446.0M1445.8 787.3V789.3M1446.4 787.3V796.7M1445.8 787.3H1446.4M1446.1 777.8V787.3M1446.6 828.7V838.1M1446.8 828.7V838.1M1446.6 828.7H1446.8M1446.7 785.2V828.7M1447.0 785.2V794.6M1446.7 785.2H1447.0M1446.9 784.1V785.2M1447.2 787.2V796.6M1447.4 788.6V798.0M1447.6 805.9V815.3M1447.8 805.9V815.3M1447.6 805.9H1447.8M1447.7 790.4V805.9M1448.0 824.9V834.3M1448.2 824.9V834.3M1448.0 824.9H1448.2M1448.1 814.4V824.9M1448.4 814.4V823.8M1448.1 814.4H1448.4M1448.3 795.0V814.4M1448.6 849.3V858.7M1448.8 849.3V858.7M1448.6 849.3H1448.8M1448.7 798.5V849.3M1449.0 850.6V860.0M1449.2 850.6V860.0M1449.0 850.6H1449.2M1449.1 804.4V850.6M1449.4 812.8V822.2M1449.6 812.8V822.2M1449.4 812.8H1449.6M1449.5 810.3V812.8M1449.8 810.3V819.7M1449.5 810.3H1449.8M1449.7 804.4V810.3M1449.1 804.4H1449.7M1449.4 803.7V804.4M1450.0 863.8V873.2M1450.2 864.5V873.9M1450.4 864.5V873.9M1450.2 864.5H1450.4M1450.3 863.8V864.5M1450.0 863.8H1450.3M1450.2 838.2V863.8M1450.6 838.2V847.6M1450.2 838.2H1450.6M1450.4 812.8V838.2M1450.8 829.6V839.0M1451.0 829.6V839.0M1450.8 829.6H1451.0M1450.9 812.8V829.6M1450.4 812.8H1450.9M1450.7 810.5V812.8M1451.2 863.8V873.2M1451.4 863.8V873.2M1451.2 863.8H1451.4M1451.3 820.1V863.8M1451.7 821.4V830.8M1451.9 867.0V876.4M1452.1 867.0V876.4M1451.9 867.0H1452.1M1452.0 821.4V867.0M1451.7 821.4H1452.0M1451.8 820.1V821.4M1451.3 820.1H1451.8M1451.6 817.3V820.1M1452.3 836.2V845.6M1452.5 859.2V868.6M1452.7 859.2V868.6M1452.5 859.2H1452.7M1452.6 836.2V859.2M1452.3 836.2H1452.6M1452.4 825.9V836.2M1452.9 876.7V886.2M1453.1 876.7V886.2M1452.9 876.7H1453.1M1453.0 841.3V876.7M1453.3 841.3V850.8M1453.0 841.3H1453.3M1453.1 825.9V841.3M1452.4 825.9H1453.1M1452.8 817.3V825.9M1451.6 817.3H1452.8M1452.2 810.5V817.3M1450.7 810.5H1452.2M1451.4 803.7V810.5M1449.4 803.7H1451.4M1450.4 798.5V803.7M1448.7 798.5H1450.4M1449.6 795.0V798.5M1448.3 795.0H1449.6M1448.9 790.4V795.0M1447.7 790.4H1448.9M1448.3 788.6V790.4M1447.4 788.6H1448.3M1447.9 787.2V788.6M1447.2 787.2H1447.9M1447.6 784.1V787.2M1446.9 784.1H1447.6M1447.2 777.8V784.1M1446.1 777.8H1447.2M1446.7 769.8V777.8M1445.4 769.8H1446.7M1446.0 768.3V769.8M1445.2 768.3H1446.0M1445.6 767.1V768.3M1453.5 770.5V779.9M1453.7 783.8V793.2M1453.9 794.5V803.9M1454.1 800.9V810.3M1454.3 808.9V818.3M1454.5 834.5V843.9M1454.7 834.5V843.9M1454.5 834.5H1454.7M1454.6 829.8V834.5M1454.9 829.8V839.2M1454.6 829.8H1454.9M1454.7 808.9V829.8M1454.3 808.9H1454.7M1454.5 800.9V808.9M1454.1 800.9H1454.5M1454.3 794.5V800.9M1453.9 794.5H1454.3M1454.1 783.8V794.5M1453.7 783.8H1454.1M1453.9 770.5V783.8M1453.5 770.5H1453.9M1453.7 767.8V770.5M1455.1 774.7V784.1M1455.3 789.6V799.1M1455.5 789.6V799.1M1455.3 789.6H1455.5M1455.4 781.2V789.6M1455.7 782.1V791.6M1455.9 800.6V810.0M1456.1 800.6V810.0M1455.9 800.6H1456.1M1456.0 782.1V800.6M1455.7 782.1H1456.0M1455.8 781.2V782.1M1455.4 781.2H1455.8M1455.6 774.7V781.2M1455.1 774.7H1455.6M1455.3 768.6V774.7M1456.3 773.0V782.4M1456.5 778.1V787.5M1456.7 792.8V802.2M1456.9 818.0V827.4M1457.1 818.0V827.4M1456.9 818.0H1457.1M1457.0 807.1V818.0M1457.3 845.1V854.5M1457.5 845.1V854.5M1457.3 845.1H1457.5M1457.4 807.1V845.1M1457.0 807.1H1457.4M1457.2 792.8V807.1M1456.7 792.8H1457.2M1456.9 778.1V792.8M1456.5 778.1H1456.9M1456.7 773.0V778.1M1456.3 773.0H1456.7M1456.5 769.0V773.0M1457.7 773.1V782.5M1457.9 777.5V786.9M1458.1 779.6V789.0M1458.3 836.4V845.8M1458.5 837.0V846.4M1458.7 837.0V846.4M1458.5 837.0H1458.7M1458.6 836.4V837.0M1458.3 836.4H1458.6M1458.4 789.4V836.4M1458.9 794.9V804.3M1459.1 811.8V821.2M1459.3 811.8V821.2M1459.1 811.8H1459.3M1459.2 797.0V811.8M1459.5 838.3V847.8M1459.7 838.3V847.8M1459.5 838.3H1459.7M1459.6 816.5V838.3M1459.9 837.5V846.9M1460.1 841.5V850.9M1460.3 858.0V867.4M1460.5 858.0V867.4M1460.3 858.0H1460.5M1460.4 841.5V858.0M1460.1 841.5H1460.4M1460.2 837.5V841.5M1459.9 837.5H1460.2M1460.1 832.4V837.5M1460.7 847.8V857.2M1460.9 847.8V857.2M1460.7 847.8H1460.9M1460.8 832.4V847.8M1460.1 832.4H1460.8M1460.4 823.1V832.4M1461.1 823.1V832.5M1460.4 823.1H1461.1M1460.8 816.5V823.1M1459.6 816.5H1460.8M1460.2 815.3V816.5M1461.3 823.5V832.9M1461.5 823.5V832.9M1461.3 823.5H1461.5M1461.4 823.3V823.5M1461.7 871.4V880.8M1461.9 871.4V880.8M1461.7 871.4H1461.9M1461.8 833.0V871.4M1462.1 858.5V867.9M1462.3 858.5V867.9M1462.1 858.5H1462.3M1462.2 833.0V858.5M1461.8 833.0H1462.2M1462.0 823.3V833.0M1461.4 823.3H1462.0M1461.7 821.3V823.3M1462.5 829.3V838.7M1462.7 829.3V838.7M1462.5 829.3H1462.7M1462.6 821.3V829.3M1461.7 821.3H1462.6M1462.1 815.3V821.3M1460.2 815.3H1462.1M1461.2 797.0V815.3M1459.2 797.0H1461.2M1460.2 794.9V797.0M1458.9 794.9H1460.2M1459.5 789.4V794.9M1458.4 789.4H1459.5M1459.0 779.6V789.4M1458.1 779.6H1459.0M1458.5 777.5V779.6M1457.9 777.5H1458.5M1458.2 773.1V777.5M1457.7 773.1H1458.2M1457.9 770.7V773.1M1462.9 778.1V787.5M1463.1 794.3V803.7M1463.3 794.3V803.7M1463.1 794.3H1463.3M1463.2 778.1V794.3M1462.9 778.1H1463.2M1463.1 771.6V778.1M1463.5 775.0V784.4M1463.7 781.5V790.9M1463.9 786.3V795.8M1464.1 786.3V795.8M1463.9 786.3H1464.1M1464.0 781.5V786.3M1463.7 781.5H1464.0M1463.9 780.6V781.5M1464.3 790.4V799.8M1464.5 790.4V799.8M1464.3 790.4H1464.5M1464.4 784.3V790.4M1464.7 785.4V794.8M1464.9 787.6V797.0M1465.1 787.6V797.0M1464.9 787.6H1465.1M1465.0 785.4V787.6M1464.7 785.4H1465.0M1464.9 784.3V785.4M1464.4 784.3H1464.9M1464.6 780.7V784.3M1465.3 788.5V797.9M1465.5 789.7V799.1M1465.7 789.7V799.1M1465.5 789.7H1465.7M1465.6 788.5V789.7M1465.3 788.5H1465.6M1465.5 780.7V788.5M1464.6 780.7H1465.5M1465.0 780.6V780.7M1463.9 780.6H1465.0M1464.5 775.0V780.6M1463.5 775.0H1464.5M1464.0 772.4V775.0M1465.9 779.4V788.8M1466.1 820.6V830.0M1466.3 820.6V830.0M1466.1 820.6H1466.3M1466.2 798.4V820.6M1466.5 823.4V832.8M1466.7 823.4V832.8M1466.5 823.4H1466.7M1466.6 812.3V823.4M1466.9 834.1V843.5M1467.1 834.1V843.5M1466.9 834.1H1467.1M1467.0 819.5V834.1M1467.3 893.8V903.3M1467.5 893.8V903.3M1467.3 893.8H1467.5M1467.4 873.1V893.8M1467.7 873.1V882.5M1467.4 873.1H1467.7M1467.6 841.6V873.1M1467.9 926.8V936.2M1468.1 926.8V936.2M1467.9 926.8H1468.1M1468.0 852.2V926.8M1468.3 852.2V861.6M1468.0 852.2H1468.3M1468.2 841.6V852.2M1467.6 841.6H1468.2M1467.9 819.5V841.6M1467.0 819.5H1467.9M1467.4 812.3V819.5M1466.6 812.3H1467.4M1467.0 798.4V812.3M1466.2 798.4H1467.0M1466.6 779.4V798.4M1465.9 779.4H1466.6M1466.3 772.4V779.4M1464.0 772.4H1466.3M1465.1 771.6V772.4M1463.1 771.6H1465.1M1464.1 770.7V771.6M1457.9 770.7H1464.1M1461.0 769.0V770.7M1456.5 769.0H1461.0M1458.7 768.6V769.0M1455.3 768.6H1458.7M1457.0 767.8V768.6M1453.7 767.8H1457.0M1455.4 767.1V767.8M1445.6 767.1H1455.4M1450.5 767.0V767.1M1468.5 768.4V777.9M1468.7 774.9V784.3M1468.9 791.4V800.8M1469.1 792.2V801.6M1469.3 792.2V801.6M1469.1 792.2H1469.3M1469.2 791.4V792.2M1468.9 791.4H1469.2M1469.1 778.2V791.4M1469.5 786.3V795.8M1469.7 804.6V814.0M1469.9 804.6V814.0M1469.7 804.6H1469.9M1469.8 789.0V804.6M1470.1 806.9V816.3M1470.3 806.9V816.3M1470.1 806.9H1470.3M1470.2 789.0V806.9M1469.8 789.0H1470.2M1470.0 786.3V789.0M1469.5 786.3H1470.0M1469.8 783.9V786.3M1470.5 783.9V793.3M1469.8 783.9H1470.5M1470.2 783.0V783.9M1470.7 806.8V816.2M1470.9 806.8V816.2M1470.7 806.8H1470.9M1470.8 783.9V806.8M1471.1 784.5V793.9M1471.3 804.4V813.8M1471.5 804.4V813.8M1471.3 804.4H1471.5M1471.4 789.8V804.4M1471.7 789.8V799.3M1471.4 789.8H1471.7M1471.6 786.6V789.8M1471.9 788.6V798.0M1472.1 806.7V816.1M1472.3 806.7V816.1M1472.1 806.7H1472.3M1472.2 788.8V806.7M1472.5 816.5V825.9M1472.7 816.5V825.9M1472.5 816.5H1472.7M1472.6 811.5V816.5M1472.9 811.5V820.9M1472.6 811.5H1472.9M1472.8 793.8V811.5M1473.1 793.8V803.2M1472.8 793.8H1473.1M1473.0 791.5V793.8M1473.3 796.8V806.3M1473.5 818.2V827.6M1473.7 818.2V827.6M1473.5 818.2H1473.7M1473.6 796.8V818.2M1473.3 796.8H1473.6M1473.5 793.1V796.8M1474.0 814.3V823.7M1474.2 814.3V823.7M1474.0 814.3H1474.2M1474.1 794.8V814.3M1474.4 823.7V833.1M1474.6 823.7V833.1M1474.4 823.7H1474.6M1474.5 812.0V823.7M1474.8 812.0V821.4M1474.5 812.0H1474.8M1474.6 796.1V812.0M1475.0 797.0V806.4M1475.2 814.9V824.3M1475.4 814.9V824.3M1475.2 814.9H1475.4M1475.3 797.8V814.9M1475.6 797.9V807.3M1475.8 798.5V807.9M1476.0 818.6V828.0M1476.2 818.6V828.0M1476.0 818.6H1476.2M1476.1 808.5V818.6M1476.4 823.0V832.4M1476.6 823.0V832.4M1476.4 823.0H1476.6M1476.5 820.4V823.0M1476.8 820.4V829.8M1476.5 820.4H1476.8M1476.6 808.5V820.4M1476.1 808.5H1476.6M1476.3 798.5V808.5M1475.8 798.5H1476.3M1476.0 797.9V798.5M1475.6 797.9H1476.0M1475.8 797.8V797.9M1475.3 797.8H1475.8M1475.5 797.0V797.8M1475.0 797.0H1475.5M1475.2 796.1V797.0M1474.6 796.1H1475.2M1474.9 794.8V796.1M1474.1 794.8H1474.9M1474.5 793.1V794.8M1473.5 793.1H1474.5M1474.0 791.5V793.1M1473.0 791.5H1474.0M1473.5 788.8V791.5M1472.2 788.8H1473.5M1472.9 788.6V788.8M1471.9 788.6H1472.9M1472.4 786.6V788.6M1471.6 786.6H1472.4M1472.0 784.5V786.6M1471.1 784.5H1472.0M1471.6 783.9V784.5M1470.8 783.9H1471.6M1471.2 783.0V783.9M1470.2 783.0H1471.2M1470.7 778.2V783.0M1469.1 778.2H1470.7M1469.9 774.9V778.2M1468.7 774.9H1469.9M1469.3 771.0V774.9M1477.0 776.0V785.5M1477.2 783.1V792.5M1477.4 790.1V799.5M1477.6 819.7V829.1M1477.8 819.7V829.1M1477.6 819.7H1477.8M1477.7 798.6V819.7M1478.0 811.4V820.9M1478.2 826.9V836.4M1478.4 826.9V836.4M1478.2 826.9H1478.4M1478.3 811.4V826.9M1478.0 811.4H1478.3M1478.1 798.6V811.4M1477.7 798.6H1478.1M1477.9 795.5V798.6M1478.6 819.2V828.6M1478.8 819.2V828.6M1478.6 819.2H1478.8M1478.7 795.5V819.2M1477.9 795.5H1478.7M1478.3 790.1V795.5M1477.4 790.1H1478.3M1477.8 783.1V790.1M1477.2 783.1H1477.8M1477.5 776.0V783.1M1477.0 776.0H1477.5M1477.2 772.6V776.0M1479.0 775.8V785.2M1479.2 791.6V801.1M1479.4 801.7V811.1M1479.6 866.0V875.4M1479.8 866.0V875.4M1479.6 866.0H1479.8M1479.7 827.4V866.0M1480.0 882.6V892.0M1480.2 882.6V892.0M1480.0 882.6H1480.2M1480.1 843.8V882.6M1480.4 929.7V939.1M1480.6 929.7V939.1M1480.4 929.7H1480.6M1480.5 849.8V929.7M1480.8 849.8V859.2M1480.5 849.8H1480.8M1480.6 843.8V849.8M1480.1 843.8H1480.6M1480.4 827.4V843.8M1479.7 827.4H1480.4M1480.0 801.7V827.4M1479.4 801.7H1480.0M1479.7 791.6V801.7M1479.2 791.6H1479.7M1479.4 775.8V791.6M1479.0 775.8H1479.4M1479.2 772.7V775.8M1481.0 778.1V787.6M1481.2 799.1V808.5M1481.4 804.8V814.2M1481.6 804.8V814.2M1481.4 804.8H1481.6M1481.5 799.1V804.8M1481.2 799.1H1481.5M1481.3 797.8V799.1M1481.8 797.8V807.3M1481.3 797.8H1481.8M1481.6 778.1V797.8M1481.0 778.1H1481.6M1481.3 773.3V778.1M1482.0 777.8V787.2M1482.2 791.1V800.5M1482.4 831.3V840.7M1482.6 831.3V840.7M1482.4 831.3H1482.6M1482.5 791.1V831.3M1482.2 791.1H1482.5M1482.3 777.8V791.1M1482.0 777.8H1482.3M1482.2 773.3V777.8M1482.8 778.6V788.0M1483.0 799.9V809.3M1483.2 824.2V833.6M1483.4 824.2V833.6M1483.2 824.2H1483.4M1483.3 799.9V824.2M1483.0 799.9H1483.3M1483.1 792.6V799.9M1483.6 832.2V841.6M1483.8 832.9V842.3M1484.0 832.9V842.3M1483.8 832.9H1484.0M1483.9 832.2V832.9M1483.6 832.2H1483.9M1483.7 800.9V832.2M1484.2 839.7V849.2M1484.4 848.2V857.6M1484.6 848.2V857.6M1484.4 848.2H1484.6M1484.5 839.7V848.2M1484.2 839.7H1484.5M1484.3 835.9V839.7M1484.8 835.9V845.3M1484.3 835.9H1484.8M1484.6 818.8V835.9M1485.0 818.8V828.2M1484.6 818.8H1485.0M1484.8 811.6V818.8M1485.2 811.6V821.1M1484.8 811.6H1485.2M1485.0 800.9V811.6M1483.7 800.9H1485.0M1484.4 792.6V800.9M1483.1 792.6H1484.4M1483.8 778.6V792.6M1482.8 778.6H1483.8M1483.3 775.4V778.6M1485.4 782.0V791.4M1485.6 819.2V828.6M1485.8 819.2V828.6M1485.6 819.2H1485.8M1485.7 788.3V819.2M1486.0 810.1V819.5M1486.2 810.1V819.5M1486.0 810.1H1486.2M1486.1 792.3V810.1M1486.4 812.6V822.0M1486.6 812.6V822.0M1486.4 812.6H1486.6M1486.5 804.3V812.6M1486.8 832.8V842.2M1487.0 832.8V842.2M1486.8 832.8H1487.0M1486.9 804.3V832.8M1486.5 804.3H1486.9M1486.7 800.5V804.3M1487.2 811.5V820.9M1487.4 811.5V820.9M1487.2 811.5H1487.4M1487.3 808.9V811.5M1487.6 829.0V838.4M1487.8 833.0V842.4M1488.0 833.0V842.4M1487.8 833.0H1488.0M1487.9 829.0V833.0M1487.6 829.0H1487.9M1487.8 808.9V829.0M1487.3 808.9H1487.8M1487.5 808.5V808.9M1488.2 810.1V819.6M1488.4 824.7V834.1M1488.6 832.9V842.3M1488.8 832.9V842.3M1488.6 832.9H1488.8M1488.7 824.7V832.9M1488.4 824.7H1488.7M1488.6 814.3V824.7M1489.0 814.3V823.7M1488.6 814.3H1489.0M1488.8 810.1V814.3M1488.2 810.1H1488.8M1488.5 808.5V810.1M1487.5 808.5H1488.5M1488.0 800.5V808.5M1486.7 800.5H1488.0M1487.4 792.3V800.5M1486.1 792.3H1487.4M1486.7 788.3V792.3M1485.7 788.3H1486.7M1486.2 782.0V788.3M1485.4 782.0H1486.2M1485.8 777.4V782.0M1489.2 780.3V789.7M1489.4 827.2V836.6M1489.6 827.2V836.6M1489.4 827.2H1489.6M1489.5 820.9V827.2M1489.8 844.3V853.7M1490.0 844.3V853.7M1489.8 844.3H1490.0M1489.9 820.9V844.3M1489.5 820.9H1489.9M1489.7 785.7V820.9M1490.2 838.9V848.3M1490.4 838.9V848.3M1490.2 838.9H1490.4M1490.3 824.4V838.9M1490.6 824.4V833.8M1490.3 824.4H1490.6M1490.5 821.2V824.4M1490.8 821.2V830.6M1490.5 821.2H1490.8M1490.7 800.9V821.2M1491.0 800.9V810.3M1490.7 800.9H1491.0M1490.8 797.7V800.9M1491.2 799.0V808.4M1491.4 801.2V810.6M1491.6 832.8V842.2M1491.8 855.8V865.2M1492.0 855.8V865.2M1491.8 855.8H1492.0M1491.9 832.8V855.8M1491.6 832.8H1491.9M1491.8 826.3V832.8M1492.2 836.7V846.1M1492.4 836.7V846.1M1492.2 836.7H1492.4M1492.3 826.3V836.7M1491.8 826.3H1492.3M1492.1 807.0V826.3M1492.6 863.7V873.1M1492.8 863.7V873.1M1492.6 863.7H1492.8M1492.7 863.4V863.7M1493.0 863.4V872.8M1492.7 863.4H1493.0M1492.9 815.1V863.4M1493.2 868.6V878.0M1493.4 868.6V878.0M1493.2 868.6H1493.4M1493.3 815.1V868.6M1492.9 815.1H1493.3M1493.1 812.5V815.1M1493.6 815.6V825.0M1493.8 822.0V831.5M1494.0 844.0V853.4M1494.2 844.0V853.4M1494.0 844.0H1494.2M1494.1 822.0V844.0M1493.8 822.0H1494.1M1494.0 819.9V822.0M1494.4 840.2V849.6M1494.6 879.9V889.3M1494.8 879.9V889.3M1494.6 879.9H1494.8M1494.7 840.2V879.9M1494.4 840.2H1494.7M1494.6 822.7V840.2M1495.0 849.9V859.3M1495.2 849.9V859.3M1495.0 849.9H1495.2M1495.1 830.3V849.9M1495.4 898.0V907.4M1495.6 898.0V907.4M1495.4 898.0H1495.6M1495.5 830.3V898.0M1495.1 830.3H1495.5M1495.3 830.0V830.3M1495.8 839.9V849.3M1496.0 879.8V889.2M1496.3 879.8V889.2M1496.0 879.8H1496.3M1496.2 839.9V879.8M1495.8 839.9H1496.2M1496.0 830.7V839.9M1496.5 896.0V905.4M1496.7 896.0V905.4M1496.5 896.0H1496.7M1496.6 872.8V896.0M1496.9 872.8V882.2M1496.6 872.8H1496.9M1496.7 834.6V872.8M1497.1 896.4V905.8M1497.3 896.4V905.8M1497.1 896.4H1497.3M1497.2 875.4V896.4M1497.5 879.3V888.7M1497.7 879.3V888.7M1497.5 879.3H1497.7M1497.6 875.4V879.3M1497.2 875.4H1497.6M1497.4 856.3V875.4M1497.9 856.3V865.7M1497.4 856.3H1497.9M1497.6 840.3V856.3M1498.1 915.5V925.0M1498.3 915.5V925.0M1498.1 915.5H1498.3M1498.2 845.2V915.5M1498.5 854.0V863.4M1498.7 855.7V865.1M1498.9 899.2V908.6M1499.1 899.2V908.6M1498.9 899.2H1499.1M1499.0 855.7V899.2M1498.7 855.7H1499.0M1498.8 854.0V855.7M1498.5 854.0H1498.8M1498.6 845.2V854.0M1498.2 845.2H1498.6M1498.4 840.3V845.2M1497.6 840.3H1498.4M1498.0 834.6V840.3M1496.7 834.6H1498.0M1497.4 830.7V834.6M1496.0 830.7H1497.4M1496.7 830.0V830.7M1495.3 830.0H1496.7M1496.0 822.7V830.0M1494.6 822.7H1496.0M1495.3 819.9V822.7M1494.0 819.9H1495.3M1494.6 815.6V819.9M1493.6 815.6H1494.6M1494.1 812.5V815.6M1493.1 812.5H1494.1M1493.6 807.0V812.5M1492.1 807.0H1493.6M1492.8 801.2V807.0M1491.4 801.2H1492.8M1492.1 799.0V801.2M1491.2 799.0H1492.1M1491.7 797.7V799.0M1490.8 797.7H1491.7M1491.3 785.7V797.7M1489.7 785.7H1491.3M1490.5 783.4V785.7M1499.3 791.5V801.0M1499.5 808.6V818.0M1499.7 808.6V818.0M1499.5 808.6H1499.7M1499.6 798.4V808.6M1499.9 808.0V817.4M1500.1 808.0V817.4M1499.9 808.0H1500.1M1500.0 801.4V808.0M1500.3 801.4V810.8M1500.0 801.4H1500.3M1500.1 798.6V801.4M1500.5 798.6V808.0M1500.1 798.6H1500.5M1500.3 798.4V798.6M1499.6 798.4H1500.3M1499.9 796.6V798.4M1500.7 797.1V806.5M1500.9 804.8V814.2M1501.1 814.0V823.4M1501.3 814.0V823.4M1501.1 814.0H1501.3M1501.2 804.8V814.0M1500.9 804.8H1501.2M1501.0 797.9V804.8M1501.5 803.8V813.2M1501.7 803.8V813.2M1501.5 803.8H1501.7M1501.6 799.2V803.8M1501.9 810.7V820.1M1502.1 810.7V820.1M1501.9 810.7H1502.1M1502.0 805.6V810.7M1502.3 806.6V816.1M1502.5 813.2V822.6M1502.7 813.2V822.6M1502.5 813.2H1502.7M1502.6 807.2V813.2M1502.9 817.8V827.2M1503.1 817.8V827.2M1502.9 817.8H1503.1M1503.0 807.2V817.8M1502.6 807.2H1503.0M1502.8 806.6V807.2M1502.3 806.6H1502.8M1502.5 805.6V806.6M1502.0 805.6H1502.5M1502.3 802.3V805.6M1503.3 816.3V825.7M1503.5 820.1V829.5M1503.7 820.1V829.5M1503.5 820.1H1503.7M1503.6 816.3V820.1M1503.3 816.3H1503.6M1503.4 811.8V816.3M1503.9 811.8V821.2M1503.4 811.8H1503.9M1503.7 808.2V811.8M1504.1 809.3V818.7M1504.3 816.4V825.8M1504.5 816.4V825.8M1504.3 816.4H1504.5M1504.4 809.3V816.4M1504.1 809.3H1504.4M1504.2 808.2V809.3M1503.7 808.2H1504.2M1503.9 802.3V808.2M1502.3 802.3H1503.9M1503.1 799.2V802.3M1501.6 799.2H1503.1M1502.3 797.9V799.2M1501.0 797.9H1502.3M1501.7 797.1V797.9M1500.7 797.1H1501.7M1501.2 796.6V797.1M1499.9 796.6H1501.2M1500.6 791.5V796.6M1499.3 791.5H1500.6M1499.9 788.6V791.5M1504.7 796.6V806.0M1504.9 812.1V821.5M1505.1 812.1V821.5M1504.9 812.1H1505.1M1505.0 807.4V812.1M1505.3 812.8V822.2M1505.5 812.8V822.2M1505.3 812.8H1505.5M1505.4 809.7V812.8M1505.7 809.7V819.1M1505.4 809.7H1505.7M1505.5 807.4V809.7M1505.9 807.4V816.8M1505.5 807.4H1505.9M1505.7 807.4V807.4M1505.0 807.4H1505.7M1505.4 798.5V807.4M1506.1 798.5V807.9M1505.4 798.5H1506.1M1505.7 798.3V798.5M1506.3 799.3V808.7M1506.5 800.5V809.9M1506.7 814.2V823.6M1506.9 816.8V826.3M1507.1 816.8V826.3M1506.9 816.8H1507.1M1507.0 814.2V816.8M1506.7 814.2H1507.0M1506.8 800.5V814.2M1506.5 800.5H1506.8M1506.7 800.2V800.5M1507.3 819.0V828.4M1507.5 819.0V828.4M1507.3 819.0H1507.5M1507.4 807.9V819.0M1507.7 807.9V817.4M1507.4 807.9H1507.7M1507.6 806.3V807.9M1507.9 816.2V825.6M1508.1 817.8V827.2M1508.3 817.8V827.2M1508.1 817.8H1508.3M1508.2 816.2V817.8M1507.9 816.2H1508.2M1508.1 816.1V816.2M1508.5 816.1V825.5M1508.1 816.1H1508.5M1508.3 806.3V816.1M1507.6 806.3H1508.3M1507.9 802.6V806.3M1508.7 808.3V817.7M1508.9 809.6V819.0M1509.1 809.6V819.0M1508.9 809.6H1509.1M1509.0 808.3V809.6M1508.7 808.3H1509.0M1508.9 803.4V808.3M1509.3 808.9V818.3M1509.5 821.4V830.8M1509.7 821.4V830.8M1509.5 821.4H1509.7M1509.6 808.9V821.4M1509.3 808.9H1509.6M1509.5 808.4V808.9M1509.9 822.1V831.6M1510.1 822.1V831.6M1509.9 822.1H1510.1M1510.0 808.4V822.1M1509.5 808.4H1510.0M1509.7 804.5V808.4M1510.3 820.7V830.2M1510.5 823.2V832.6M1510.7 823.2V832.6M1510.5 823.2H1510.7M1510.6 820.7V823.2M1510.3 820.7H1510.6M1510.5 815.0V820.7M1510.9 818.7V828.1M1511.1 818.7V828.1M1510.9 818.7H1511.1M1511.0 815.0V818.7M1510.5 815.0H1511.0M1510.7 812.5V815.0M1511.3 812.5V821.9M1510.7 812.5H1511.3M1511.0 807.0V812.5M1511.5 807.4V816.8M1511.7 811.8V821.2M1511.9 824.8V834.2M1512.1 824.8V834.2M1511.9 824.8H1512.1M1512.0 811.8V824.8M1511.7 811.8H1512.0M1511.9 807.4V811.8M1511.5 807.4H1511.9M1511.7 807.2V807.4M1512.3 807.3V816.7M1512.5 807.6V817.0M1512.7 826.9V836.3M1512.9 826.9V836.3M1512.7 826.9H1512.9M1512.8 820.6V826.9M1513.1 824.4V833.9M1513.3 824.4V833.9M1513.1 824.4H1513.3M1513.2 820.6V824.4M1512.8 820.6H1513.2M1513.0 809.5V820.6M1513.5 809.5V818.9M1513.0 809.5H1513.5M1513.3 807.6V809.5M1512.5 807.6H1513.3M1512.9 807.3V807.6M1512.3 807.3H1512.9M1512.6 807.2V807.3M1511.7 807.2H1512.6M1512.2 807.0V807.2M1511.0 807.0H1512.2M1511.6 804.5V807.0M1509.7 804.5H1511.6M1510.7 803.4V804.5M1508.9 803.4H1510.7M1509.8 802.6V803.4M1507.9 802.6H1509.8M1508.8 800.2V802.6M1506.7 800.2H1508.8M1507.8 799.3V800.2M1506.3 799.3H1507.8M1507.0 798.3V799.3M1505.7 798.3H1507.0M1506.4 796.6V798.3M1504.7 796.6H1506.4M1505.5 795.8V796.6M1513.7 799.9V809.3M1513.9 820.1V829.5M1514.1 820.1V829.5M1513.9 820.1H1514.1M1514.0 806.2V820.1M1514.3 813.7V823.1M1514.5 816.4V825.8M1514.7 816.4V825.8M1514.5 816.4H1514.7M1514.6 813.7V816.4M1514.3 813.7H1514.6M1514.5 813.6V813.7M1514.9 815.8V825.2M1515.1 829.7V839.1M1515.3 851.0V860.4M1515.5 851.0V860.4M1515.3 851.0H1515.5M1515.4 837.4V851.0M1515.7 850.2V859.6M1515.9 850.2V859.6M1515.7 850.2H1515.9M1515.8 837.4V850.2M1515.4 837.4H1515.8M1515.6 834.2V837.4M1516.1 842.6V852.0M1516.3 842.6V852.0M1516.1 842.6H1516.3M1516.2 834.2V842.6M1515.6 834.2H1516.2M1515.9 829.7V834.2M1515.1 829.7H1515.9M1515.5 815.8V829.7M1514.9 815.8H1515.5M1515.2 813.6V815.8M1514.5 813.6H1515.2M1514.9 806.2V813.6M1514.0 806.2H1514.9M1514.4 799.9V806.2M1513.7 799.9H1514.4M1514.1 798.3V799.9M1516.5 803.6V813.0M1516.7 845.1V854.5M1516.9 845.1V854.5M1516.7 845.1H1516.9M1516.8 813.0V845.1M1517.1 865.3V874.8M1517.3 865.3V874.8M1517.1 865.3H1517.3M1517.2 822.1V865.3M1517.5 857.1V866.5M1517.7 857.1V866.5M1517.5 857.1H1517.7M1517.6 851.6V857.1M1517.9 851.6V861.0M1517.6 851.6H1517.9M1517.8 828.3V851.6M1518.1 829.8V839.2M1518.3 852.5V862.0M1518.6 875.2V884.6M1518.8 875.2V884.6M1518.6 875.2H1518.8M1518.7 867.0V875.2M1519.0 867.0V876.4M1518.7 867.0H1519.0M1518.8 854.1V867.0M1519.2 856.7V866.1M1519.4 864.9V874.4M1519.6 897.1V906.5M1519.8 897.1V906.5M1519.6 897.1H1519.8M1519.7 864.9V897.1M1519.4 864.9H1519.7M1519.5 863.0V864.9M1520.0 881.6V891.0M1520.2 881.6V891.0M1520.0 881.6H1520.2M1520.1 863.0V881.6M1519.5 863.0H1520.1M1519.8 856.7V863.0M1519.2 856.7H1519.8M1519.5 854.1V856.7M1518.8 854.1H1519.5M1519.1 852.5V854.1M1518.3 852.5H1519.1M1518.7 848.4V852.5M1520.4 875.7V885.1M1520.6 875.7V885.1M1520.4 875.7H1520.6M1520.5 859.5V875.7M1520.8 859.5V868.9M1520.5 859.5H1520.8M1520.6 848.4V859.5M1518.7 848.4H1520.6M1519.7 829.8V848.4M1518.1 829.8H1519.7M1518.9 828.3V829.8M1517.8 828.3H1518.9M1518.4 822.1V828.3M1517.2 822.1H1518.4M1517.8 813.0V822.1M1516.8 813.0H1517.8M1517.3 804.5V813.0M1521.0 807.9V817.3M1521.2 808.8V818.2M1521.4 846.0V855.5M1521.6 855.4V864.8M1521.8 855.4V864.8M1521.6 855.4H1521.8M1521.7 846.0V855.4M1521.4 846.0H1521.7M1521.5 818.7V846.0M1522.0 818.7V828.1M1521.5 818.7H1522.0M1521.7 816.8V818.7M1522.2 828.2V837.6M1522.4 828.2V837.6M1522.2 828.2H1522.4M1522.3 816.8V828.2M1521.7 816.8H1522.3M1522.0 814.2V816.8M1522.6 829.3V838.7M1522.8 852.5V861.9M1523.0 852.5V861.9M1522.8 852.5H1523.0M1522.9 843.8V852.5M1523.2 843.8V853.2M1522.9 843.8H1523.2M1523.0 829.3V843.8M1522.6 829.3H1523.0M1522.8 816.6V829.3M1523.4 823.4V832.8M1523.6 846.9V856.4M1523.8 846.9V856.4M1523.6 846.9H1523.8M1523.7 827.3V846.9M1524.0 827.3V836.8M1523.7 827.3H1524.0M1523.8 823.4V827.3M1523.4 823.4H1523.8M1523.6 822.5V823.4M1524.2 822.5V831.9M1523.6 822.5H1524.2M1523.9 820.1V822.5M1524.4 851.2V860.6M1524.6 851.2V860.6M1524.4 851.2H1524.6M1524.5 838.8V851.2M1524.8 838.8V848.2M1524.5 838.8H1524.8M1524.6 822.6V838.8M1525.0 831.0V840.4M1525.2 831.0V840.4M1525.0 831.0H1525.2M1525.1 826.7V831.0M1525.4 874.0V883.4M1525.6 874.0V883.4M1525.4 874.0H1525.6M1525.5 842.3V874.0M1525.8 842.3V851.7M1525.5 842.3H1525.8M1525.6 826.7V842.3M1525.1 826.7H1525.6M1525.4 824.1V826.7M1526.0 825.7V835.1M1526.2 825.7V835.1M1526.4 843.4V852.9M1526.6 859.3V868.7M1526.8 877.2V886.6M1527.0 877.2V886.6M1526.8 877.2H1527.0M1526.9 859.3V877.2M1526.6 859.3H1526.9M1526.7 843.4V859.3M1526.4 843.4H1526.7M1526.6 828.5V843.4M1527.2 859.9V869.3M1527.4 859.9V869.3M1527.2 859.9H1527.4M1527.3 843.6V859.9M1527.6 843.6V853.0M1527.3 843.6H1527.6M1527.4 829.9V843.6M1527.8 859.3V868.7M1528.0 859.3V868.7M1527.8 859.3H1528.0M1527.9 854.1V859.3M1528.2 868.8V878.2M1528.4 868.8V878.2M1528.2 868.8H1528.4M1528.3 854.1V868.8M1527.9 854.1H1528.3M1528.1 831.2V854.1M1528.6 885.0V894.4M1528.8 885.0V894.4M1528.6 885.0H1528.8M1528.7 837.1V885.0M1529.0 844.7V854.2M1529.2 844.7V854.2M1529.0 844.7H1529.2M1529.1 837.1V844.7M1528.7 837.1H1529.1M1528.9 834.6V837.1M1529.4 834.8V844.2M1529.6 840.5V849.9M1529.8 840.5V849.9M1529.6 840.5H1529.8M1529.7 834.8V840.5M1529.4 834.8H1529.7M1529.5 834.6V834.8M1528.9 834.6H1529.5M1529.2 831.2V834.6M1528.1 831.2H1529.2M1528.7 829.9V831.2M1527.4 829.9H1528.7M1528.0 828.5V829.9M1526.6 828.5H1528.0M1527.3 825.7V828.5M1526.2 825.7H1527.3M1526.7 825.7V825.7M1526.0 825.7H1526.7M1526.4 824.1V825.7M1525.4 824.1H1526.4M1525.9 822.6V824.1M1524.6 822.6H1525.9M1525.2 820.1V822.6M1523.9 820.1H1525.2M1524.6 816.6V820.1M1522.8 816.6H1524.6M1523.7 814.2V816.6M1522.0 814.2H1523.7M1522.8 808.8V814.2M1521.2 808.8H1522.8M1522.0 807.9V808.8M1521.0 807.9H1522.0M1521.5 804.5V807.9M1517.3 804.5H1521.5M1519.4 803.6V804.5M1516.5 803.6H1519.4M1518.0 798.3V803.6M1514.1 798.3H1518.0M1516.0 795.8V798.3M1505.5 795.8H1516.0M1510.8 788.6V795.8M1499.9 788.6H1510.8M1505.3 783.4V788.6M1490.5 783.4H1505.3M1497.9 780.3V783.4M1489.2 780.3H1497.9M1493.6 777.4V780.3M1485.8 777.4H1493.6M1489.7 775.4V777.4M1483.3 775.4H1489.7M1486.5 773.3V775.4M1482.2 773.3H1486.5M1484.3 773.3V773.3M1481.3 773.3H1484.3M1482.8 772.7V773.3M1479.2 772.7H1482.8M1481.0 772.6V772.7M1477.2 772.6H1481.0M1479.1 771.0V772.6M1469.3 771.0H1479.1M1474.2 768.4V771.0M1468.5 768.4H1474.2M1471.4 767.0V768.4M1450.5 767.0H1471.4M1460.9 762.5V767.0M1445.0 762.5H1460.9M1453.0 760.3V762.5M1432.3 760.3H1453.0M1442.6 758.9V760.3M1530.0 760.8V770.2M1530.2 766.2V775.7M1530.4 774.2V783.7M1530.6 786.6V796.0M1530.8 786.6V796.0M1530.6 786.6H1530.8M1530.7 774.9V786.6M1531.0 807.3V816.7M1531.2 807.3V816.7M1531.0 807.3H1531.2M1531.1 774.9V807.3M1530.7 774.9H1531.1M1530.9 774.2V774.9M1530.4 774.2H1530.9M1530.7 772.8V774.2M1531.4 772.8V782.2M1530.7 772.8H1531.4M1531.0 772.0V772.8M1531.6 778.1V787.5M1531.8 792.0V801.4M1532.0 795.6V805.0M1532.2 802.0V811.4M1532.4 808.0V817.4M1532.6 808.0V817.4M1532.4 808.0H1532.6M1532.5 802.0V808.0M1532.2 802.0H1532.5M1532.4 800.3V802.0M1532.8 800.3V809.7M1532.4 800.3H1532.8M1532.6 795.6V800.3M1532.0 795.6H1532.6M1532.3 792.0V795.6M1531.8 792.0H1532.3M1532.1 787.9V792.0M1533.0 812.1V821.5M1533.2 812.1V821.5M1533.0 812.1H1533.2M1533.1 790.3V812.1M1533.4 790.5V799.9M1533.6 807.6V817.0M1533.8 841.6V851.0M1534.0 841.6V851.0M1533.8 841.6H1534.0M1533.9 837.0V841.6M1534.2 837.0V846.4M1533.9 837.0H1534.2M1534.1 810.5V837.0M1534.4 810.5V819.9M1534.1 810.5H1534.4M1534.2 808.5V810.5M1534.6 808.5V817.9M1534.2 808.5H1534.6M1534.4 807.6V808.5M1533.6 807.6H1534.4M1534.0 797.8V807.6M1534.8 821.6V831.0M1535.0 821.6V831.0M1534.8 821.6H1535.0M1534.9 816.3V821.6M1535.2 816.3V825.7M1534.9 816.3H1535.2M1535.1 808.7V816.3M1535.4 810.8V820.2M1535.6 847.8V857.2M1535.8 847.8V857.2M1535.6 847.8H1535.8M1535.7 810.8V847.8M1535.4 810.8H1535.7M1535.6 808.7V810.8M1535.1 808.7H1535.6M1535.3 806.9V808.7M1536.0 806.9V816.3M1535.3 806.9H1536.0M1535.7 806.6V806.9M1536.2 834.0V843.4M1536.4 834.0V843.4M1536.2 834.0H1536.4M1536.3 833.0V834.0M1536.6 833.0V842.4M1536.3 833.0H1536.6M1536.5 809.7V833.0M1536.8 811.5V821.0M1537.0 841.0V850.4M1537.2 841.0V850.4M1537.0 841.0H1537.2M1537.1 824.6V841.0M1537.4 824.6V834.0M1537.1 824.6H1537.4M1537.3 811.5V824.6M1536.8 811.5H1537.3M1537.1 809.7V811.5M1536.5 809.7H1537.1M1536.8 806.6V809.7M1535.7 806.6H1536.8M1536.2 797.8V806.6M1534.0 797.8H1536.2M1535.1 790.5V797.8M1533.4 790.5H1535.1M1534.3 790.3V790.5M1533.1 790.3H1534.3M1533.7 787.9V790.3M1532.1 787.9H1533.7M1532.9 778.1V787.9M1531.6 778.1H1532.9M1532.2 772.0V778.1M1531.0 772.0H1532.2M1531.6 766.2V772.0M1530.2 766.2H1531.6M1530.9 763.6V766.2M1537.6 770.3V779.7M1537.8 774.2V783.6M1538.0 775.5V784.9M1538.2 803.1V812.5M1538.4 803.1V812.5M1538.2 803.1H1538.4M1538.3 801.8V803.1M1538.6 801.8V811.2M1538.3 801.8H1538.6M1538.5 781.6V801.8M1538.8 805.3V814.7M1539.0 805.3V814.7M1538.8 805.3H1539.0M1538.9 789.8V805.3M1539.2 789.8V799.2M1538.9 789.8H1539.2M1539.1 781.6V789.8M1538.5 781.6H1539.1M1538.8 780.6V781.6M1539.4 803.0V812.4M1539.6 808.3V817.8M1539.8 808.3V817.8M1539.6 808.3H1539.8M1539.7 803.0V808.3M1539.4 803.0H1539.7M1539.6 781.1V803.0M1540.0 791.5V800.9M1540.2 807.2V816.6M1540.4 807.2V816.6M1540.2 807.2H1540.4M1540.3 791.5V807.2M1540.0 791.5H1540.3M1540.2 787.8V791.5M1540.6 787.8V797.2M1540.2 787.8H1540.6M1540.4 781.1V787.8M1539.6 781.1H1540.4M1540.0 780.6V781.1M1538.8 780.6H1540.0M1539.4 775.5V780.6M1538.0 775.5H1539.4M1538.7 774.2V775.5M1537.8 774.2H1538.7M1538.3 770.3V774.2M1537.6 770.3H1538.3M1538.0 763.6V770.3M1540.9 769.6V779.0M1541.1 804.0V813.4M1541.3 804.0V813.4M1541.1 804.0H1541.3M1541.2 797.2V804.0M1541.5 797.2V806.6M1541.2 797.2H1541.5M1541.3 777.9V797.2M1541.7 796.3V805.7M1541.9 796.3V805.7M1541.7 796.3H1541.9M1541.8 791.8V796.3M1542.1 791.8V801.2M1541.8 791.8H1542.1M1541.9 781.3V791.8M1542.3 794.0V803.4M1542.5 794.0V803.4M1542.3 794.0H1542.5M1542.4 790.5V794.0M1542.7 790.5V799.9M1542.4 790.5H1542.7M1542.5 786.8V790.5M1542.9 792.8V802.2M1543.1 792.8V802.2M1542.9 792.8H1543.1M1543.0 789.9V792.8M1543.3 816.2V825.6M1543.5 816.2V825.6M1543.3 816.2H1543.5M1543.4 802.9V816.2M1543.7 802.9V812.4M1543.4 802.9H1543.7M1543.5 792.9V802.9M1543.9 827.5V836.9M1544.1 827.5V836.9M1543.9 827.5H1544.1M1544.0 795.8V827.5M1544.3 808.9V818.3M1544.5 833.2V842.6M1544.7 833.2V842.6M1544.5 833.2H1544.7M1544.6 808.9V833.2M1544.3 808.9H1544.6M1544.4 804.9V808.9M1544.9 813.9V823.3M1545.1 813.9V823.3M1544.9 813.9H1545.1M1545.0 804.9V813.9M1544.4 804.9H1545.0M1544.7 795.8V804.9M1544.0 795.8H1544.7M1544.3 792.9V795.8M1543.5 792.9H1544.3M1543.9 789.9V792.9M1543.0 789.9H1543.9M1543.4 786.8V789.9M1542.5 786.8H1543.4M1543.0 781.3V786.8M1541.9 781.3H1543.0M1542.4 777.9V781.3M1541.3 777.9H1542.4M1541.9 769.6V777.9M1540.9 769.6H1541.9M1541.4 764.5V769.6M1545.3 769.9V779.3M1545.5 778.5V787.9M1545.7 778.5V787.9M1545.5 778.5H1545.7M1545.6 772.9V778.5M1545.9 772.9V782.3M1545.6 772.9H1545.9M1545.7 772.8V772.9M1546.1 784.8V794.2M1546.3 784.8V794.2M1546.1 784.8H1546.3M1546.2 780.2V784.8M1546.5 792.5V801.9M1546.7 792.5V801.9M1546.5 792.5H1546.7M1546.6 780.2V792.5M1546.2 780.2H1546.6M1546.4 778.5V780.2M1546.9 778.8V788.2M1547.1 778.8V788.2M1546.9 778.8H1547.1M1547.0 778.5V778.8M1546.4 778.5H1547.0M1546.7 775.8V778.5M1547.3 793.5V802.9M1547.5 793.5V802.9M1547.3 793.5H1547.5M1547.4 777.3V793.5M1547.7 793.5V802.9M1547.9 793.5V802.9M1547.7 793.5H1547.9M1547.8 778.0V793.5M1548.1 779.5V788.9M1548.3 779.8V789.2M1548.5 780.4V789.8M1548.7 790.2V799.6M1548.9 790.2V799.6M1548.7 790.2H1548.9M1548.8 787.7V790.2M1549.1 793.0V802.4M1549.3 794.3V803.7M1549.5 794.3V803.7M1549.3 794.3H1549.5M1549.4 793.0V794.3M1549.1 793.0H1549.4M1549.2 787.7V793.0M1548.8 787.7H1549.2M1549.0 785.3V787.7M1549.7 785.3V794.7M1549.0 785.3H1549.7M1549.4 782.6V785.3M1549.9 793.9V803.3M1550.1 793.9V803.3M1549.9 793.9H1550.1M1550.0 782.6V793.9M1549.4 782.6H1550.0M1549.7 780.4V782.6M1548.5 780.4H1549.7M1549.1 779.8V780.4M1548.3 779.8H1549.1M1548.7 779.5V779.8M1548.1 779.5H1548.7M1548.4 778.0V779.5M1547.8 778.0H1548.4M1548.1 777.3V778.0M1547.4 777.3H1548.1M1547.7 775.8V777.3M1546.7 775.8H1547.7M1547.2 772.8V775.8M1545.7 772.8H1547.2M1546.5 769.9V772.8M1545.3 769.9H1546.5M1545.9 765.8V769.9M1550.3 770.6V780.0M1550.5 779.8V789.2M1550.7 779.8V789.2M1550.5 779.8H1550.7M1550.6 773.2V779.8M1550.9 774.9V784.3M1551.1 791.8V801.2M1551.3 792.7V802.2M1551.5 814.7V824.1M1551.7 815.0V824.4M1551.9 815.0V824.4M1551.7 815.0H1551.9M1551.8 814.7V815.0M1551.5 814.7H1551.8M1551.6 805.9V814.7M1552.1 805.9V815.3M1551.6 805.9H1552.1M1551.9 792.7V805.9M1551.3 792.7H1551.9M1551.6 791.8V792.7M1551.1 791.8H1551.6M1551.3 785.8V791.8M1552.3 785.8V795.2M1551.3 785.8H1552.3M1551.8 783.9V785.8M1552.5 795.2V804.6M1552.7 798.1V807.5M1552.9 798.1V807.5M1552.7 798.1H1552.9M1552.8 795.2V798.1M1552.5 795.2H1552.8M1552.7 787.1V795.2M1553.1 789.0V798.4M1553.3 806.1V815.5M1553.5 807.0V816.4M1553.7 807.0V816.4M1553.5 807.0H1553.7M1553.6 806.1V807.0M1553.3 806.1H1553.6M1553.5 791.9V806.1M1553.9 796.7V806.1M1554.1 825.7V835.1M1554.3 825.7V835.1M1554.1 825.7H1554.3M1554.2 809.8V825.7M1554.5 809.8V819.2M1554.2 809.8H1554.5M1554.4 796.7V809.8M1553.9 796.7H1554.4M1554.1 795.5V796.7M1554.7 825.8V835.2M1554.9 825.8V835.2M1554.7 825.8H1554.9M1554.8 809.8V825.8M1555.1 809.8V819.2M1554.8 809.8H1555.1M1555.0 800.8V809.8M1555.3 812.9V822.3M1555.5 813.0V822.4M1555.7 813.0V822.4M1555.5 813.0H1555.7M1555.6 812.9V813.0M1555.3 812.9H1555.6M1555.5 810.6V812.9M1555.9 810.6V820.1M1555.5 810.6H1555.9M1555.7 802.2V810.6M1556.1 802.2V811.6M1555.7 802.2H1556.1M1555.9 800.8V802.2M1555.0 800.8H1555.9M1555.4 795.5V800.8M1554.1 795.5H1555.4M1554.8 791.9V795.5M1553.5 791.9H1554.8M1554.1 789.0V791.9M1553.1 789.0H1554.1M1553.6 787.1V789.0M1552.7 787.1H1553.6M1553.1 783.9V787.1M1551.8 783.9H1553.1M1552.5 774.9V783.9M1550.9 774.9H1552.5M1551.7 773.2V774.9M1550.6 773.2H1551.7M1551.1 770.6V773.2M1550.3 770.6H1551.1M1550.7 767.2V770.6M1556.3 771.8V781.2M1556.5 776.6V786.0M1556.7 776.6V786.0M1556.5 776.6H1556.7M1556.6 774.0V776.6M1556.9 775.5V784.9M1557.1 793.4V802.8M1557.3 793.4V802.8M1557.1 793.4H1557.3M1557.2 788.4V793.4M1557.5 788.4V797.8M1557.2 788.4H1557.5M1557.4 781.5V788.4M1557.7 782.5V791.9M1557.9 782.5V791.9M1557.7 782.5H1557.9M1557.8 782.1V782.5M1558.1 784.2V793.6M1558.3 788.2V797.6M1558.5 788.2V797.6M1558.3 788.2H1558.5M1558.4 784.2V788.2M1558.1 784.2H1558.4M1558.3 782.6V784.2M1558.7 782.6V792.0M1558.3 782.6H1558.7M1558.5 782.1V782.6M1557.8 782.1H1558.5M1558.2 781.5V782.1M1557.4 781.5H1558.2M1557.8 775.5V781.5M1556.9 775.5H1557.8M1557.3 774.0V775.5M1556.6 774.0H1557.3M1557.0 771.8V774.0M1556.3 771.8H1557.0M1556.7 767.5V771.8M1558.9 774.5V783.9M1559.1 789.0V798.4M1559.3 798.1V807.5M1559.5 798.1V807.5M1559.3 798.1H1559.5M1559.4 789.0V798.1M1559.1 789.0H1559.4M1559.3 779.8V789.0M1559.7 780.8V790.2M1559.9 791.3V800.7M1560.1 794.0V803.5M1560.3 794.0V803.5M1560.1 794.0H1560.3M1560.2 791.3V794.0M1559.9 791.3H1560.2M1560.1 784.8V791.3M1560.5 795.1V804.5M1560.7 795.1V804.5M1560.5 795.1H1560.7M1560.6 786.0V795.1M1560.9 806.9V816.3M1561.1 806.9V816.3M1560.9 806.9H1561.1M1561.0 804.5V806.9M1561.3 804.5V813.9M1561.0 804.5H1561.3M1561.2 789.1V804.5M1561.5 790.4V799.8M1561.7 797.4V806.8M1561.9 821.4V830.8M1562.1 821.4V830.8M1561.9 821.4H1562.1M1562.0 797.4V821.4M1561.7 797.4H1562.0M1561.9 792.9V797.4M1562.3 845.9V855.3M1562.5 845.9V855.3M1562.3 845.9H1562.5M1562.4 801.7V845.9M1562.7 830.5V839.9M1562.9 830.5V839.9M1562.7 830.5H1562.9M1562.8 811.0V830.5M1563.2 811.0V820.4M1562.8 811.0H1563.2M1563.0 801.7V811.0M1562.4 801.7H1563.0M1562.7 801.0V801.7M1563.4 841.8V851.2M1563.6 843.9V853.3M1563.8 843.9V853.3M1563.6 843.9H1563.8M1563.7 841.8V843.9M1563.4 841.8H1563.7M1563.5 836.1V841.8M1564.0 836.1V845.5M1563.5 836.1H1564.0M1563.7 826.9V836.1M1564.2 848.6V858.0M1564.4 848.6V858.0M1564.2 848.6H1564.4M1564.3 826.9V848.6M1563.7 826.9H1564.3M1564.0 822.2V826.9M1564.6 822.2V831.6M1564.0 822.2H1564.6M1564.3 804.1V822.2M1564.8 851.2V860.6M1565.0 851.2V860.6M1564.8 851.2H1565.0M1564.9 851.0V851.2M1565.2 851.0V860.4M1564.9 851.0H1565.2M1565.0 819.6V851.0M1565.4 819.6V829.0M1565.0 819.6H1565.4M1565.2 806.6V819.6M1565.6 838.0V847.4M1565.8 838.0V847.4M1565.6 838.0H1565.8M1565.7 825.2V838.0M1566.0 825.2V834.6M1565.7 825.2H1566.0M1565.8 810.0V825.2M1566.2 846.1V855.5M1566.4 846.1V855.5M1566.2 846.1H1566.4M1566.3 837.3V846.1M1566.6 846.6V856.0M1566.8 846.6V856.0M1566.6 846.6H1566.8M1566.7 837.3V846.6M1566.3 837.3H1566.7M1566.5 820.4V837.3M1567.0 853.6V863.0M1567.2 853.6V863.0M1567.0 853.6H1567.2M1567.1 820.4V853.6M1566.5 820.4H1567.1M1566.8 813.5V820.4M1567.4 847.1V856.6M1567.6 847.1V856.6M1567.4 847.1H1567.6M1567.5 828.7V847.1M1567.8 828.7V838.1M1567.5 828.7H1567.8M1567.6 824.9V828.7M1568.0 845.6V855.1M1568.2 845.6V855.1M1568.0 845.6H1568.2M1568.1 838.0V845.6M1568.4 851.4V860.8M1568.6 851.4V860.8M1568.4 851.4H1568.6M1568.5 838.0V851.4M1568.1 838.0H1568.5M1568.3 824.9V838.0M1567.6 824.9H1568.3M1567.9 821.4V824.9M1568.8 821.4V830.8M1567.9 821.4H1568.8M1568.4 820.8V821.4M1569.0 842.8V852.2M1569.2 842.8V852.2M1569.0 842.8H1569.2M1569.1 822.1V842.8M1569.4 822.1V831.5M1569.1 822.1H1569.4M1569.2 820.8V822.1M1568.4 820.8H1569.2M1568.8 813.5V820.8M1566.8 813.5H1568.8M1567.8 810.0V813.5M1565.8 810.0H1567.8M1566.8 806.6V810.0M1565.2 806.6H1566.8M1566.0 804.1V806.6M1564.3 804.1H1566.0M1565.1 801.0V804.1M1562.7 801.0H1565.1M1563.9 792.9V801.0M1561.9 792.9H1563.9M1562.9 790.4V792.9M1561.5 790.4H1562.9M1562.2 789.1V790.4M1561.2 789.1H1562.2M1561.7 786.0V789.1M1560.6 786.0H1561.7M1561.2 784.8V786.0M1560.1 784.8H1561.2M1560.6 780.8V784.8M1559.7 780.8H1560.6M1560.2 779.8V780.8M1559.3 779.8H1560.2M1559.7 774.5V779.8M1558.9 774.5H1559.7M1559.3 769.3V774.5M1569.6 773.8V783.3M1569.8 773.8V783.3M1569.6 773.8H1569.8M1569.7 773.4V773.8M1570.0 780.2V789.6M1570.2 781.1V790.5M1570.4 781.4V790.8M1570.6 782.2V791.6M1570.8 782.2V791.6M1570.6 782.2H1570.8M1570.7 781.4V782.2M1570.4 781.4H1570.7M1570.5 781.1V781.4M1570.2 781.1H1570.5M1570.4 780.2V781.1M1570.0 780.2H1570.4M1570.2 779.9V780.2M1571.0 779.9V789.4M1570.2 779.9H1571.0M1570.6 777.4V779.9M1571.2 777.9V787.3M1571.4 784.9V794.3M1571.6 784.9V794.3M1571.4 784.9H1571.6M1571.5 777.9V784.9M1571.2 777.9H1571.5M1571.3 777.4V777.9M1570.6 777.4H1571.3M1571.0 773.4V777.4M1569.7 773.4H1571.0M1570.3 769.6V773.4M1571.8 774.6V784.0M1572.0 794.0V803.4M1572.2 794.0V803.4M1572.0 794.0H1572.2M1572.1 776.8V794.0M1572.4 777.5V786.9M1572.6 784.7V794.1M1572.8 784.7V794.1M1572.6 784.7H1572.8M1572.7 784.0V784.7M1573.0 799.0V808.4M1573.2 799.8V809.2M1573.4 799.8V809.2M1573.2 799.8H1573.4M1573.3 799.0V799.8M1573.0 799.0H1573.3M1573.1 784.0V799.0M1572.7 784.0H1573.1M1572.9 783.1V784.0M1573.6 795.4V804.8M1573.8 799.0V808.4M1574.0 799.0V808.4M1573.8 799.0H1574.0M1573.9 795.4V799.0M1573.6 795.4H1573.9M1573.7 785.1V795.4M1574.2 785.1V794.5M1573.7 785.1H1574.2M1574.0 783.1V785.1M1572.9 783.1H1574.0M1573.4 783.0V783.1M1574.4 801.1V810.5M1574.6 801.1V810.5M1574.4 801.1H1574.6M1574.5 783.6V801.1M1574.8 789.5V799.0M1575.0 789.5V799.0M1574.8 789.5H1575.0M1574.9 784.9V789.5M1575.2 793.1V802.5M1575.4 793.1V802.5M1575.2 793.1H1575.4M1575.3 789.7V793.1M1575.6 790.2V799.6M1575.8 790.2V799.6M1575.6 790.2H1575.8M1575.7 789.7V790.2M1575.3 789.7H1575.7M1575.5 786.2V789.7M1576.0 804.2V813.6M1576.2 807.7V817.1M1576.4 807.7V817.1M1576.2 807.7H1576.4M1576.3 804.3V807.7M1576.6 804.3V813.7M1576.3 804.3H1576.6M1576.5 804.2V804.3M1576.0 804.2H1576.5M1576.2 792.7V804.2M1576.8 796.8V806.2M1577.0 809.0V818.4M1577.2 809.0V818.4M1577.0 809.0H1577.2M1577.1 806.6V809.0M1577.4 810.0V819.4M1577.6 810.0V819.4M1577.4 810.0H1577.6M1577.5 806.6V810.0M1577.1 806.6H1577.5M1577.3 805.9V806.6M1577.8 805.9V815.3M1577.3 805.9H1577.8M1577.6 803.4V805.9M1578.0 803.4V812.9M1577.6 803.4H1578.0M1577.8 796.8V803.4M1576.8 796.8H1577.8M1577.3 792.7V796.8M1576.2 792.7H1577.3M1576.8 786.2V792.7M1575.5 786.2H1576.8M1576.1 784.9V786.2M1574.9 784.9H1576.1M1575.5 783.6V784.9M1574.5 783.6H1575.5M1575.0 783.0V783.6M1573.4 783.0H1575.0M1574.2 777.5V783.0M1572.4 777.5H1574.2M1573.3 776.8V777.5M1572.1 776.8H1573.3M1572.7 774.6V776.8M1571.8 774.6H1572.7M1572.2 771.8V774.6M1578.2 775.0V784.4M1578.4 776.3V785.7M1578.6 776.3V785.7M1578.4 776.3H1578.6M1578.5 776.0V776.3M1578.8 776.4V785.8M1579.0 784.1V793.5M1579.2 786.3V795.7M1579.4 786.3V795.7M1579.2 786.3H1579.4M1579.3 784.1V786.3M1579.0 784.1H1579.3M1579.2 776.5V784.1M1579.6 776.7V786.2M1579.8 785.1V794.5M1580.0 785.3V794.7M1580.2 786.3V795.7M1580.4 786.3V795.7M1580.2 786.3H1580.4M1580.3 785.3V786.3M1580.0 785.3H1580.3M1580.2 785.1V785.3M1579.8 785.1H1580.2M1580.0 782.2V785.1M1580.6 786.9V796.3M1580.8 786.9V796.3M1580.6 786.9H1580.8M1580.7 783.4V786.9M1581.0 785.1V794.5M1581.2 785.1V794.5M1581.0 785.1H1581.2M1581.1 783.4V785.1M1580.7 783.4H1581.1M1580.9 782.2V783.4M1580.0 782.2H1580.9M1580.5 778.7V782.2M1581.4 784.7V794.1M1581.6 784.7V794.1M1581.4 784.7H1581.6M1581.5 784.6V784.7M1581.8 784.6V794.0M1581.5 784.6H1581.8M1581.7 784.5V784.6M1582.0 787.1V796.5M1582.2 787.1V796.5M1582.0 787.1H1582.2M1582.1 784.5V787.1M1581.7 784.5H1582.1M1581.9 779.6V784.5M1582.4 779.6V789.0M1581.9 779.6H1582.4M1582.2 779.6V779.6M1582.6 786.0V795.4M1582.8 787.3V796.7M1583.0 787.3V796.7M1582.8 787.3H1583.0M1582.9 786.0V787.3M1582.6 786.0H1582.9M1582.8 780.8V786.0M1583.2 789.0V798.4M1583.4 789.0V798.4M1583.2 789.0H1583.4M1583.3 786.1V789.0M1583.6 786.1V795.5M1583.3 786.1H1583.6M1583.5 780.8V786.1M1582.8 780.8H1583.5M1583.1 779.6V780.8M1582.2 779.6H1583.1M1582.7 778.7V779.6M1580.5 778.7H1582.7M1581.6 776.7V778.7M1579.6 776.7H1581.6M1580.6 776.5V776.7M1579.2 776.5H1580.6M1579.9 776.4V776.5M1578.8 776.4H1579.9M1579.4 776.0V776.4M1578.5 776.0H1579.4M1578.9 775.0V776.0M1578.2 775.0H1578.9M1578.6 773.4V775.0M1583.8 777.7V787.1M1584.0 783.6V793.0M1584.2 805.6V815.1M1584.4 805.6V815.1M1584.2 805.6H1584.4M1584.3 799.1V805.6M1584.6 800.0V809.4M1584.8 800.0V809.4M1584.6 800.0H1584.8M1584.7 799.1V800.0M1584.3 799.1H1584.7M1584.5 789.5V799.1M1585.0 801.7V811.1M1585.2 814.9V824.3M1585.5 814.9V824.3M1585.2 814.9H1585.5M1585.3 801.7V814.9M1585.0 801.7H1585.3M1585.2 789.5V801.7M1584.5 789.5H1585.2M1584.9 783.6V789.5M1584.0 783.6H1584.9M1584.5 777.7V783.6M1583.8 777.7H1584.5M1584.2 773.4V777.7M1578.6 773.4H1584.2M1581.4 773.2V773.4M1585.7 777.5V786.9M1585.9 797.8V807.2M1586.1 797.8V807.2M1585.9 797.8H1586.1M1586.0 796.7V797.8M1586.3 796.7V806.1M1586.0 796.7H1586.3M1586.1 787.7V796.7M1586.5 787.7V797.1M1586.1 787.7H1586.5M1586.3 777.5V787.7M1585.7 777.5H1586.3M1586.0 774.0V777.5M1586.7 778.8V788.2M1586.9 785.8V795.2M1587.1 789.2V798.6M1587.3 810.1V819.5M1587.5 810.1V819.5M1587.3 810.1H1587.5M1587.4 789.2V810.1M1587.1 789.2H1587.4M1587.2 785.8V789.2M1586.9 785.8H1587.2M1587.0 778.8V785.8M1586.7 778.8H1587.0M1586.8 774.0V778.8M1586.0 774.0H1586.8M1586.4 773.5V774.0M1587.7 780.1V789.5M1587.9 788.5V797.9M1588.1 788.5V797.9M1587.9 788.5H1588.1M1588.0 787.1V788.5M1588.3 787.1V796.5M1588.0 787.1H1588.3M1588.1 782.4V787.1M1588.5 789.4V798.8M1588.7 789.4V798.8M1588.5 789.4H1588.7M1588.6 782.6V789.4M1588.9 787.8V797.3M1589.1 787.8V797.3M1588.9 787.8H1589.1M1589.0 783.7V787.8M1589.3 790.8V800.2M1589.5 790.8V800.2M1589.3 790.8H1589.5M1589.4 790.4V790.8M1589.7 791.4V800.8M1589.9 791.4V800.8M1589.7 791.4H1589.9M1589.8 790.4V791.4M1589.4 790.4H1589.8M1589.6 789.0V790.4M1590.1 789.0V798.5M1589.6 789.0H1590.1M1589.8 783.7V789.0M1589.0 783.7H1589.8M1589.4 783.4V783.7M1590.3 795.0V804.4M1590.5 795.0V804.4M1590.3 795.0H1590.5M1590.4 789.2V795.0M1590.7 789.2V798.6M1590.4 789.2H1590.7M1590.5 785.7V789.2M1590.9 796.5V806.0M1591.1 796.5V806.0M1590.9 796.5H1591.1M1591.0 785.8V796.5M1591.3 785.8V795.2M1591.0 785.8H1591.3M1591.1 785.7V785.8M1590.5 785.7H1591.1M1590.8 785.0V785.7M1591.5 797.0V806.5M1591.7 797.0V806.5M1591.5 797.0H1591.7M1591.6 795.5V797.0M1591.9 795.5V804.9M1591.6 795.5H1591.9M1591.7 793.7V795.5M1592.1 793.7V803.1M1591.7 793.7H1592.1M1591.9 793.4V793.7M1592.3 795.3V804.7M1592.5 795.7V805.1M1592.7 795.7V805.1M1592.5 795.7H1592.7M1592.6 795.3V795.7M1592.3 795.3H1592.6M1592.4 793.4V795.3M1591.9 793.4H1592.4M1592.2 785.0V793.4M1590.8 785.0H1592.2M1591.5 783.4V785.0M1589.4 783.4H1591.5M1590.4 782.6V783.4M1588.6 782.6H1590.4M1589.5 782.4V782.6M1588.1 782.4H1589.5M1588.8 780.1V782.4M1587.7 780.1H1588.8M1588.2 775.8V780.1M1592.9 783.3V792.7M1593.1 787.3V796.7M1593.3 789.5V798.9M1593.5 789.5V798.9M1593.3 789.5H1593.5M1593.4 787.3V789.5M1593.7 809.6V819.0M1593.9 809.6V819.0M1593.7 809.6H1593.9M1593.8 789.6V809.6M1594.1 795.8V805.2M1594.3 802.7V812.1M1594.5 806.9V816.3M1594.7 806.9V816.3M1594.5 806.9H1594.7M1594.6 802.7V806.9M1594.3 802.7H1594.6M1594.4 795.8V802.7M1594.1 795.8H1594.4M1594.3 794.2V795.8M1594.9 801.7V811.1M1595.1 806.3V815.7M1595.3 817.6V827.0M1595.5 817.6V827.0M1595.3 817.6H1595.5M1595.4 806.3V817.6M1595.1 806.3H1595.4M1595.2 801.7V806.3M1594.9 801.7H1595.2M1595.1 799.1V801.7M1595.7 799.1V808.5M1595.1 799.1H1595.7M1595.4 798.8V799.1M1595.9 800.4V809.8M1596.1 800.4V809.8M1595.9 800.4H1596.1M1596.0 800.3V800.4M1596.3 800.3V809.7M1596.0 800.3H1596.3M1596.1 798.8V800.3M1595.4 798.8H1596.1M1595.8 794.2V798.8M1594.3 794.2H1595.8M1595.0 789.6V794.2M1593.8 789.6H1595.0M1594.4 787.3V789.6M1593.4 787.3H1594.4M1593.9 787.3V787.3M1593.1 787.3H1593.9M1593.5 783.3V787.3M1592.9 783.3H1593.5M1593.2 776.6V783.3M1596.5 783.1V792.5M1596.7 792.1V801.6M1596.9 792.1V801.6M1596.7 792.1H1596.9M1596.8 791.8V792.1M1597.1 791.8V801.2M1596.8 791.8H1597.1M1597.0 790.4V791.8M1597.3 790.4V799.8M1597.0 790.4H1597.3M1597.1 784.4V790.4M1597.5 788.8V798.3M1597.7 789.7V799.1M1597.9 789.7V799.1M1597.7 789.7H1597.9M1597.8 788.8V789.7M1597.5 788.8H1597.8M1597.7 785.2V788.8M1598.1 791.4V800.8M1598.3 791.4V800.8M1598.1 791.4H1598.3M1598.2 785.5V791.4M1598.5 793.9V803.3M1598.7 793.9V803.3M1598.5 793.9H1598.7M1598.6 791.8V793.9M1598.9 792.0V801.4M1599.1 792.0V801.4M1598.9 792.0H1599.1M1599.0 791.8V792.0M1598.6 791.8H1599.0M1598.8 785.5V791.8M1598.2 785.5H1598.8M1598.5 785.2V785.5M1597.7 785.2H1598.5M1598.1 785.0V785.2M1599.3 785.3V794.7M1599.5 793.1V802.5M1599.7 793.1V802.5M1599.5 793.1H1599.7M1599.6 790.8V793.1M1599.9 790.8V800.2M1599.6 790.8H1599.9M1599.8 786.6V790.8M1600.1 786.6V796.1M1599.8 786.6H1600.1M1599.9 786.4V786.6M1600.3 786.7V796.1M1600.5 787.7V797.1M1600.7 796.2V805.6M1600.9 796.2V805.6M1600.7 796.2H1600.9M1600.8 787.7V796.2M1600.5 787.7H1600.8M1600.7 787.2V787.7M1601.1 796.6V806.0M1601.3 796.6V806.0M1601.1 796.6H1601.3M1601.2 787.3V796.6M1601.5 795.6V805.0M1601.7 795.6V805.0M1601.5 795.6H1601.7M1601.6 787.3V795.6M1601.2 787.3H1601.6M1601.4 787.2V787.3M1600.7 787.2H1601.4M1601.0 786.7V787.2M1600.3 786.7H1601.0M1600.7 786.4V786.7M1599.9 786.4H1600.7M1600.3 785.3V786.4M1599.3 785.3H1600.3M1599.8 785.0V785.3M1598.1 785.0H1599.8M1598.9 784.4V785.0M1597.1 784.4H1598.9M1598.0 783.1V784.4M1596.5 783.1H1598.0M1597.3 778.2V783.1M1601.9 780.3V789.7M1602.1 801.0V810.4M1602.3 801.0V810.4M1602.1 801.0H1602.3M1602.2 790.4V801.0M1602.5 790.4V799.9M1602.2 790.4H1602.5M1602.4 780.3V790.4M1601.9 780.3H1602.4M1602.2 778.2V780.3M1597.3 778.2H1602.2M1599.7 777.4V778.2M1602.7 784.9V794.3M1602.9 794.3V803.7M1603.1 794.3V803.7M1602.9 794.3H1603.1M1603.0 791.1V794.3M1603.3 793.0V802.4M1603.5 793.0V802.4M1603.3 793.0H1603.5M1603.4 791.1V793.0M1603.0 791.1H1603.4M1603.2 788.3V791.1M1603.7 788.7V798.1M1603.9 800.0V809.5M1604.1 800.0V809.5M1603.9 800.0H1604.1M1604.0 794.8V800.0M1604.3 794.8V804.2M1604.0 794.8H1604.3M1604.2 789.7V794.8M1604.5 798.6V808.0M1604.7 798.6V808.0M1604.5 798.6H1604.7M1604.6 797.7V798.6M1604.9 797.7V807.1M1604.6 797.7H1604.9M1604.8 789.7V797.7M1604.2 789.7H1604.8M1604.5 788.7V789.7M1603.7 788.7H1604.5M1604.1 788.3V788.7M1603.2 788.3H1604.1M1603.7 784.9V788.3M1602.7 784.9H1603.7M1603.2 778.9V784.9M1605.1 783.7V793.1M1605.3 783.9V793.3M1605.5 790.8V800.2M1605.7 790.8V800.2M1605.5 790.8H1605.7M1605.6 784.9V790.8M1605.9 796.2V805.6M1606.1 796.2V805.6M1605.9 796.2H1606.1M1606.0 790.1V796.2M1606.3 791.1V800.6M1606.5 796.0V805.4M1606.7 796.0V805.4M1606.5 796.0H1606.7M1606.6 791.1V796.0M1606.3 791.1H1606.6M1606.5 790.1V791.1M1606.0 790.1H1606.5M1606.3 789.4V790.1M1606.9 789.4V798.8M1607.1 789.4V798.8M1606.9 789.4H1607.1M1607.0 789.4V789.4M1606.3 789.4H1607.0M1606.7 789.3V789.4M1607.3 796.1V805.5M1607.5 796.1V805.5M1607.3 796.1H1607.5M1607.4 792.1V796.1M1607.8 792.1V801.6M1607.4 792.1H1607.8M1607.6 791.6V792.1M1608.0 791.6V801.0M1607.6 791.6H1608.0M1607.8 789.5V791.6M1608.2 795.4V804.8M1608.4 795.4V804.8M1608.2 795.4H1608.4M1608.3 789.5V795.4M1607.8 789.5H1608.3M1608.0 789.3V789.5M1606.7 789.3H1608.0M1607.3 787.2V789.3M1608.6 797.6V807.0M1608.8 797.6V807.0M1608.6 797.6H1608.8M1608.7 794.6V797.6M1609.0 794.6V804.0M1608.7 794.6H1609.0M1608.8 792.7V794.6M1609.2 792.7V802.1M1608.8 792.7H1609.2M1609.0 787.2V792.7M1607.3 787.2H1609.0M1608.2 786.4V787.2M1609.4 792.2V801.6M1609.6 792.2V801.6M1609.4 792.2H1609.6M1609.5 786.9V792.2M1609.8 786.9V796.3M1609.5 786.9H1609.8M1609.6 786.5V786.9M1610.0 797.9V807.3M1610.2 797.9V807.3M1610.0 797.9H1610.2M1610.1 797.6V797.9M1610.4 797.6V807.0M1610.1 797.6H1610.4M1610.2 793.9V797.6M1610.6 794.6V804.0M1610.8 795.3V804.7M1611.0 797.4V806.8M1611.2 797.4V806.8M1611.0 797.4H1611.2M1611.1 795.3V797.4M1610.8 795.3H1611.1M1610.9 794.6V795.3M1610.6 794.6H1610.9M1610.7 793.9V794.6M1610.2 793.9H1610.7M1610.5 787.8V793.9M1611.4 796.2V805.6M1611.6 798.7V808.1M1611.8 798.7V808.1M1611.6 798.7H1611.8M1611.7 796.2V798.7M1611.4 796.2H1611.7M1611.5 788.2V796.2M1612.0 788.4V797.8M1612.2 794.1V803.5M1612.4 797.3V806.7M1612.6 797.3V806.7M1612.4 797.3H1612.6M1612.5 794.1V797.3M1612.2 794.1H1612.5M1612.3 793.8V794.1M1612.8 794.6V804.1M1613.0 797.3V806.7M1613.2 797.3V806.7M1613.0 797.3H1613.2M1613.1 794.6V797.3M1612.8 794.6H1613.1M1612.9 793.8V794.6M1612.3 793.8H1612.9M1612.6 793.7V793.8M1613.4 793.7V803.1M1612.6 793.7H1613.4M1613.0 789.3V793.7M1613.6 796.2V805.6M1613.8 799.2V808.6M1614.0 799.2V808.6M1613.8 799.2H1614.0M1613.9 796.2V799.2M1613.6 796.2H1613.9M1613.7 790.3V796.2M1614.2 790.3V799.7M1613.7 790.3H1614.2M1614.0 790.2V790.3M1614.4 798.3V807.7M1614.6 798.3V807.7M1614.4 798.3H1614.6M1614.5 798.2V798.3M1614.8 798.2V807.7M1614.5 798.2H1614.8M1614.6 798.1V798.2M1615.0 799.5V808.9M1615.2 799.5V808.9M1615.0 799.5H1615.2M1615.1 798.1V799.5M1614.6 798.1H1615.1M1614.9 790.7V798.1M1615.4 790.7V800.1M1614.9 790.7H1615.4M1615.1 790.2V790.7M1614.0 790.2H1615.1M1614.5 789.3V790.2M1613.0 789.3H1614.5M1613.8 788.4V789.3M1612.0 788.4H1613.8M1612.9 788.2V788.4M1611.5 788.2H1612.9M1612.2 787.8V788.2M1610.5 787.8H1612.2M1611.3 786.5V787.8M1609.6 786.5H1611.3M1610.5 786.4V786.5M1608.2 786.4H1610.5M1609.3 784.9V786.4M1605.6 784.9H1609.3M1607.5 783.9V784.9M1605.3 783.9H1607.5M1606.4 783.7V783.9M1605.1 783.7H1606.4M1605.8 781.1V783.7M1615.6 785.2V794.6M1615.8 804.5V813.9M1616.0 804.5V813.9M1615.8 804.5H1616.0M1615.9 793.0V804.5M1616.2 795.3V804.7M1616.4 797.6V807.0M1616.6 819.9V829.3M1616.8 819.9V829.3M1616.6 819.9H1616.8M1616.7 802.9V819.9M1617.0 811.2V820.6M1617.2 832.1V841.5M1617.4 832.1V841.5M1617.2 832.1H1617.4M1617.3 817.7V832.1M1617.6 817.7V827.1M1617.3 817.7H1617.6M1617.4 811.2V817.7M1617.0 811.2H1617.4M1617.2 802.9V811.2M1616.7 802.9H1617.2M1617.0 797.6V802.9M1616.4 797.6H1617.0M1616.7 795.3V797.6M1616.2 795.3H1616.7M1616.4 793.0V795.3M1615.9 793.0H1616.4M1616.2 785.2V793.0M1615.6 785.2H1616.2M1615.9 781.5V785.2M1617.8 788.3V797.7M1618.0 790.0V799.4M1618.2 791.1V800.5M1618.4 798.9V808.4M1618.6 798.9V808.4M1618.4 798.9H1618.6M1618.5 793.3V798.9M1618.8 793.3V802.7M1618.5 793.3H1618.8M1618.6 791.1V793.3M1618.2 791.1H1618.6M1618.4 790.0V791.1M1618.0 790.0H1618.4M1618.2 788.3V790.0M1617.8 788.3H1618.2M1618.0 782.3V788.3M1619.0 788.8V798.2M1619.2 795.4V804.9M1619.4 795.4V804.9M1619.2 795.4H1619.4M1619.3 791.1V795.4M1619.6 800.5V809.9M1619.8 807.2V816.6M1620.0 807.2V816.6M1619.8 807.2H1620.0M1619.9 800.5V807.2M1619.6 800.5H1619.9M1619.8 796.0V800.5M1620.2 796.0V805.4M1619.8 796.0H1620.2M1620.0 794.4V796.0M1620.4 817.8V827.2M1620.6 817.8V827.2M1620.4 817.8H1620.6M1620.5 799.8V817.8M1620.8 810.9V820.3M1621.0 813.1V822.5M1621.2 813.1V822.5M1621.0 813.1H1621.2M1621.1 810.9V813.1M1620.8 810.9H1621.1M1621.0 800.2V810.9M1621.4 809.1V818.5M1621.6 809.1V818.5M1621.4 809.1H1621.6M1621.5 800.2V809.1M1621.0 800.2H1621.5M1621.2 799.8V800.2M1620.5 799.8H1621.2M1620.9 798.1V799.8M1621.8 798.4V807.8M1622.0 800.4V809.8M1622.2 819.4V828.8M1622.4 823.7V833.1M1622.6 823.7V833.1M1622.4 823.7H1622.6M1622.5 819.4V823.7M1622.2 819.4H1622.5M1622.4 801.0V819.4M1622.8 823.6V833.0M1623.0 823.6V833.0M1622.8 823.6H1623.0M1622.9 817.7V823.6M1623.2 817.7V827.1M1622.9 817.7H1623.2M1623.1 811.1V817.7M1623.4 811.1V820.5M1623.1 811.1H1623.4M1623.2 808.4V811.1M1623.6 813.2V822.6M1623.8 813.2V822.6M1623.6 813.2H1623.8M1623.7 808.4V813.2M1623.2 808.4H1623.7M1623.5 804.8V808.4M1624.0 805.9V815.3M1624.2 813.7V823.1M1624.4 813.7V823.1M1624.2 813.7H1624.4M1624.3 805.9V813.7M1624.0 805.9H1624.3M1624.2 804.8V805.9M1623.5 804.8H1624.2M1623.8 801.0V804.8M1622.4 801.0H1623.8M1623.1 800.4V801.0M1622.0 800.4H1623.1M1622.6 798.4V800.4M1621.8 798.4H1622.6M1622.2 798.1V798.4M1620.9 798.1H1622.2M1621.5 794.4V798.1M1620.0 794.4H1621.5M1620.8 791.1V794.4M1619.3 791.1H1620.8M1620.0 788.8V791.1M1619.0 788.8H1620.0M1619.5 783.3V788.8M1624.6 790.3V799.8M1624.8 807.2V816.6M1625.0 807.2V816.6M1624.8 807.2H1625.0M1624.9 804.7V807.2M1625.2 804.7V814.1M1624.9 804.7H1625.2M1625.1 799.7V804.7M1625.4 799.7V809.1M1625.1 799.7H1625.4M1625.3 797.3V799.7M1625.6 805.1V814.6M1625.8 805.1V814.6M1625.6 805.1H1625.8M1625.7 803.0V805.1M1626.0 805.6V815.0M1626.2 805.6V815.0M1626.0 805.6H1626.2M1626.1 803.0V805.6M1625.7 803.0H1626.1M1625.9 802.3V803.0M1626.4 802.3V811.8M1625.9 802.3H1626.4M1626.2 797.3V802.3M1625.3 797.3H1626.2M1625.7 790.3V797.3M1624.6 790.3H1625.7M1625.2 784.1V790.3M1626.6 789.7V799.1M1626.8 794.3V803.7M1627.0 810.6V820.0M1627.2 810.6V820.0M1627.0 810.6H1627.2M1627.1 795.7V810.6M1627.4 810.6V820.0M1627.6 811.1V820.5M1627.8 811.1V820.5M1627.6 811.1H1627.8M1627.7 810.6V811.1M1627.4 810.6H1627.7M1627.6 800.4V810.6M1628.0 807.0V816.4M1628.2 807.0V816.4M1628.0 807.0H1628.2M1628.1 804.5V807.0M1628.4 804.5V813.9M1628.1 804.5H1628.4M1628.3 800.4V804.5M1627.6 800.4H1628.3M1627.9 795.7V800.4M1627.1 795.7H1627.9M1627.5 794.3V795.7M1626.8 794.3H1627.5M1627.2 789.7V794.3M1626.6 789.7H1627.2M1626.9 785.4V789.7M1628.6 789.9V799.3M1628.8 800.1V809.5M1629.0 800.1V809.5M1628.8 800.1H1629.0M1628.9 794.9V800.1M1629.2 805.4V814.8M1629.4 811.7V821.1M1629.6 811.9V821.3M1629.8 811.9V821.3M1629.6 811.9H1629.8M1629.7 811.7V811.9M1629.4 811.7H1629.7M1629.6 805.4V811.7M1629.2 805.4H1629.6M1629.4 803.3V805.4M1630.1 815.8V825.3M1630.3 815.8V825.3M1630.1 815.8H1630.3M1630.2 806.4V815.8M1630.5 828.1V837.5M1630.7 828.1V837.5M1630.5 828.1H1630.7M1630.6 809.0V828.1M1630.9 810.5V819.9M1631.1 810.5V819.9M1630.9 810.5H1631.1M1631.0 809.0V810.5M1630.6 809.0H1631.0M1630.8 806.4V809.0M1630.2 806.4H1630.8M1630.5 803.3V806.4M1629.4 803.3H1630.5M1629.9 794.9V803.3M1628.9 794.9H1629.9M1629.4 789.9V794.9M1628.6 789.9H1629.4M1629.0 786.1V789.9M1631.3 792.4V801.8M1631.5 800.9V810.3M1631.7 806.9V816.3M1631.9 811.9V821.3M1632.1 822.1V831.5M1632.3 822.1V831.5M1632.1 822.1H1632.3M1632.2 811.9V822.1M1631.9 811.9H1632.2M1632.0 806.9V811.9M1631.7 806.9H1632.0M1631.8 800.9V806.9M1631.5 800.9H1631.8M1631.6 792.4V800.9M1631.3 792.4H1631.6M1631.5 786.1V792.4M1629.0 786.1H1631.5M1630.2 785.7V786.1M1632.5 790.4V799.8M1632.7 814.5V823.9M1632.9 814.5V823.9M1632.7 814.5H1632.9M1632.8 804.7V814.5M1633.1 804.7V814.1M1632.8 804.7H1633.1M1632.9 802.0V804.7M1633.3 804.5V813.9M1633.5 813.2V822.6M1633.7 813.2V822.6M1633.5 813.2H1633.7M1633.6 804.5V813.2M1633.3 804.5H1633.6M1633.4 802.0V804.5M1632.9 802.0H1633.4M1633.2 790.4V802.0M1632.5 790.4H1633.2M1632.8 786.1V790.4M1633.9 794.5V803.9M1634.1 794.8V804.2M1634.3 810.3V819.7M1634.5 810.3V819.7M1634.3 810.3H1634.5M1634.4 802.3V810.3M1634.7 802.7V812.1M1634.9 802.7V812.1M1634.7 802.7H1634.9M1634.8 802.3V802.7M1634.4 802.3H1634.8M1634.6 797.7V802.3M1635.1 798.7V808.1M1635.3 804.4V813.8M1635.5 811.4V820.8M1635.7 811.7V821.1M1635.9 811.7V821.1M1635.7 811.7H1635.9M1635.8 811.4V811.7M1635.5 811.4H1635.8M1635.6 804.4V811.4M1635.3 804.4H1635.6M1635.4 799.6V804.4M1636.1 817.7V827.1M1636.3 817.7V827.1M1636.1 817.7H1636.3M1636.2 801.1V817.7M1636.5 808.5V817.9M1636.7 823.2V832.6M1636.9 823.2V832.6M1636.7 823.2H1636.9M1636.8 816.2V823.2M1637.1 816.2V825.6M1636.8 816.2H1637.1M1636.9 808.5V816.2M1636.5 808.5H1636.9M1636.7 803.1V808.5M1637.3 803.2V812.7M1637.5 803.8V813.2M1637.7 803.9V813.3M1637.9 810.5V819.9M1638.1 810.5V819.9M1637.9 810.5H1638.1M1638.0 804.8V810.5M1638.3 811.2V820.6M1638.5 818.1V827.5M1638.7 818.1V827.5M1638.5 818.1H1638.7M1638.6 811.2V818.1M1638.3 811.2H1638.6M1638.4 807.2V811.2M1638.9 827.4V836.8M1639.1 827.4V836.8M1638.9 827.4H1639.1M1639.0 812.1V827.4M1639.3 821.2V830.7M1639.5 821.2V830.7M1639.3 821.2H1639.5M1639.4 812.1V821.2M1639.0 812.1H1639.4M1639.2 807.6V812.1M1639.7 819.7V829.1M1639.9 824.1V833.5M1640.1 825.2V834.6M1640.3 825.2V834.6M1640.1 825.2H1640.3M1640.2 824.1V825.2M1639.9 824.1H1640.2M1640.0 819.7V824.1M1639.7 819.7H1640.0M1639.9 814.0V819.7M1640.5 814.0V823.4M1639.9 814.0H1640.5M1640.2 807.6V814.0M1639.2 807.6H1640.2M1639.7 807.2V807.6M1638.4 807.2H1639.7M1639.1 804.8V807.2M1638.0 804.8H1639.1M1638.5 803.9V804.8M1637.7 803.9H1638.5M1638.1 803.8V803.9M1637.5 803.8H1638.1M1637.8 803.2V803.8M1637.3 803.2H1637.8M1637.5 803.1V803.2M1636.7 803.1H1637.5M1637.1 801.1V803.1M1636.2 801.1H1637.1M1636.6 799.6V801.1M1635.4 799.6H1636.6M1636.0 798.7V799.6M1635.1 798.7H1636.0M1635.6 797.7V798.7M1634.6 797.7H1635.6M1635.1 794.8V797.7M1634.1 794.8H1635.1M1634.6 794.5V794.8M1633.9 794.5H1634.6M1634.2 788.3V794.5M1640.7 795.6V805.0M1640.9 799.7V809.1M1641.1 822.3V831.7M1641.3 822.3V831.7M1641.1 822.3H1641.3M1641.2 812.8V822.3M1641.5 821.7V831.1M1641.7 825.9V835.4M1641.9 825.9V835.4M1641.7 825.9H1641.9M1641.8 821.7V825.9M1641.5 821.7H1641.8M1641.7 814.9V821.7M1642.1 847.0V856.4M1642.3 847.0V856.4M1642.1 847.0H1642.3M1642.2 814.9V847.0M1641.7 814.9H1642.2M1641.9 812.8V814.9M1641.2 812.8H1641.9M1641.6 799.7V812.8M1640.9 799.7H1641.6M1641.2 795.6V799.7M1640.7 795.6H1641.2M1641.0 789.6V795.6M1642.5 792.8V802.3M1642.7 803.4V812.8M1642.9 803.4V812.8M1642.7 803.4H1642.9M1642.8 797.5V803.4M1643.1 799.3V808.7M1643.3 799.3V808.7M1643.1 799.3H1643.3M1643.2 797.5V799.3M1642.8 797.5H1643.2M1643.0 796.5V797.5M1643.5 809.1V818.5M1643.7 818.4V827.8M1643.9 818.4V827.8M1643.7 818.4H1643.9M1643.8 809.1V818.4M1643.5 809.1H1643.8M1643.7 803.7V809.1M1644.1 804.8V814.2M1644.3 804.8V814.2M1644.1 804.8H1644.3M1644.2 804.5V804.8M1644.5 805.4V814.9M1644.7 816.6V826.0M1644.9 816.6V826.0M1644.7 816.6H1644.9M1644.8 805.4V816.6M1644.5 805.4H1644.8M1644.7 804.5V805.4M1644.2 804.5H1644.7M1644.4 803.7V804.5M1643.7 803.7H1644.4M1644.1 802.6V803.7M1645.1 819.9V829.3M1645.3 819.9V829.3M1645.1 819.9H1645.3M1645.2 804.1V819.9M1645.5 821.6V831.1M1645.7 825.0V834.4M1645.9 825.0V834.4M1645.7 825.0H1645.9M1645.8 821.6V825.0M1645.5 821.6H1645.8M1645.7 815.6V821.6M1646.1 815.6V825.1M1645.7 815.6H1646.1M1645.9 815.0V815.6M1646.3 816.2V825.6M1646.5 829.0V838.4M1646.7 829.0V838.4M1646.5 829.0H1646.7M1646.6 816.2V829.0M1646.3 816.2H1646.6M1646.5 815.0V816.2M1645.9 815.0H1646.5M1646.2 809.4V815.0M1646.9 821.6V831.0M1647.1 821.6V831.0M1646.9 821.6H1647.1M1647.0 814.1V821.6M1647.3 814.1V823.5M1647.0 814.1H1647.3M1647.2 809.4V814.1M1646.2 809.4H1647.2M1646.7 804.1V809.4M1645.2 804.1H1646.7M1645.9 802.6V804.1M1644.1 802.6H1645.9M1645.0 796.5V802.6M1643.0 796.5H1645.0M1644.0 792.8V796.5M1642.5 792.8H1644.0M1643.3 789.6V792.8M1641.0 789.6H1643.3M1642.1 789.2V789.6M1647.5 790.6V800.0M1647.7 796.1V805.5M1647.9 797.4V806.8M1648.1 806.7V816.1M1648.3 806.7V816.1M1648.1 806.7H1648.3M1648.2 802.5V806.7M1648.5 802.5V811.9M1648.2 802.5H1648.5M1648.4 801.2V802.5M1648.7 813.3V822.7M1648.9 813.3V822.7M1648.7 813.3H1648.9M1648.8 804.0V813.3M1649.1 804.0V813.4M1648.8 804.0H1649.1M1649.0 801.2V804.0M1648.4 801.2H1649.0M1648.7 797.4V801.2M1647.9 797.4H1648.7M1648.3 796.1V797.4M1647.7 796.1H1648.3M1648.0 791.9V796.1M1649.3 799.7V809.2M1649.5 800.3V809.7M1649.7 810.9V820.3M1649.9 814.6V824.0M1650.1 814.6V824.0M1649.9 814.6H1650.1M1650.0 810.9V814.6M1649.7 810.9H1650.0M1649.9 803.3V810.9M1650.3 808.0V817.4M1650.5 818.8V828.2M1650.7 818.8V828.2M1650.5 818.8H1650.7M1650.6 808.0V818.8M1650.3 808.0H1650.6M1650.5 804.3V808.0M1650.9 804.7V814.1M1651.1 817.0V826.4M1651.3 817.0V826.4M1651.1 817.0H1651.3M1651.2 812.7V817.0M1651.5 812.7V822.1M1651.2 812.7H1651.5M1651.4 806.4V812.7M1651.7 807.4V816.8M1651.9 812.7V822.1M1652.1 813.9V823.3M1652.4 820.3V829.8M1652.6 820.3V829.8M1652.4 820.3H1652.6M1652.5 813.9V820.3M1652.1 813.9H1652.5M1652.3 812.7V813.9M1651.9 812.7H1652.3M1652.1 809.4V812.7M1652.8 810.3V819.7M1653.0 822.1V831.5M1653.2 822.1V831.5M1653.0 822.1H1653.2M1653.1 817.0V822.1M1653.4 825.9V835.3M1653.6 825.9V835.3M1653.4 825.9H1653.6M1653.5 817.0V825.9M1653.1 817.0H1653.5M1653.3 810.3V817.0M1652.8 810.3H1653.3M1653.0 809.4V810.3M1652.1 809.4H1653.0M1652.6 807.4V809.4M1651.7 807.4H1652.6M1652.2 806.4V807.4M1651.4 806.4H1652.2M1651.8 804.7V806.4M1650.9 804.7H1651.8M1651.4 804.3V804.7M1650.5 804.3H1651.4M1650.9 803.3V804.3M1649.9 803.3H1650.9M1650.4 800.3V803.3M1649.5 800.3H1650.4M1650.0 799.7V800.3M1649.3 799.7H1650.0M1649.7 796.2V799.7M1653.8 804.8V814.2M1654.0 806.0V815.4M1654.2 807.7V817.1M1654.4 838.6V848.0M1654.6 838.6V848.0M1654.4 838.6H1654.6M1654.5 834.6V838.6M1654.8 834.6V844.0M1654.5 834.6H1654.8M1654.6 828.5V834.6M1655.0 835.8V845.2M1655.2 835.8V845.2M1655.0 835.8H1655.2M1655.1 832.3V835.8M1655.4 850.3V859.8M1655.6 850.3V859.8M1655.4 850.3H1655.6M1655.5 832.3V850.3M1655.1 832.3H1655.5M1655.3 828.5V832.3M1654.6 828.5H1655.3M1654.9 817.7V828.5M1655.8 868.1V877.5M1656.0 869.7V879.1M1656.2 869.7V879.1M1656.0 869.7H1656.2M1656.1 868.1V869.7M1655.8 868.1H1656.1M1655.9 861.5V868.1M1656.4 861.5V870.9M1655.9 861.5H1656.4M1656.1 828.3V861.5M1656.6 841.0V850.4M1656.8 867.8V877.2M1657.0 867.8V877.2M1656.8 867.8H1657.0M1656.9 841.0V867.8M1656.6 841.0H1656.9M1656.7 828.3V841.0M1656.1 828.3H1656.7M1656.4 825.6V828.3M1657.2 838.0V847.4M1657.4 874.6V884.0M1657.6 874.6V884.0M1657.4 874.6H1657.6M1657.5 838.0V874.6M1657.2 838.0H1657.5M1657.3 828.7V838.0M1657.8 877.3V886.7M1658.0 877.3V886.7M1657.8 877.3H1658.0M1657.9 830.4V877.3M1658.2 831.9V841.3M1658.4 840.1V849.5M1658.6 840.1V849.5M1658.4 840.1H1658.6M1658.5 833.9V840.1M1658.8 887.0V896.4M1659.0 889.8V899.2M1659.2 889.8V899.2M1659.0 889.8H1659.2M1659.1 887.0V889.8M1658.8 887.0H1659.1M1658.9 880.8V887.0M1659.4 880.8V890.2M1658.9 880.8H1659.4M1659.2 840.7V880.8M1659.6 840.7V850.1M1659.2 840.7H1659.6M1659.4 838.7V840.7M1659.8 844.2V853.6M1660.0 844.2V853.6M1659.8 844.2H1660.0M1659.9 841.3V844.2M1660.2 842.2V851.7M1660.4 856.7V866.1M1660.6 860.5V869.9M1660.8 866.5V876.0M1661.0 866.5V876.0M1660.8 866.5H1661.0M1660.9 860.5V866.5M1660.6 860.5H1660.9M1660.7 856.7V860.5M1660.4 856.7H1660.7M1660.6 845.0V856.7M1661.2 846.3V855.7M1661.4 846.9V856.3M1661.6 890.5V899.9M1661.8 890.5V899.9M1661.6 890.5H1661.8M1661.7 869.9V890.5M1662.0 869.9V879.3M1661.7 869.9H1662.0M1661.8 852.5V869.9M1662.2 891.9V901.3M1662.4 891.9V901.3M1662.2 891.9H1662.4M1662.3 852.5V891.9M1661.8 852.5H1662.3M1662.1 851.4V852.5M1662.6 853.1V862.5M1662.8 867.0V876.4M1663.0 883.1V892.5M1663.2 905.9V915.3M1663.4 905.9V915.3M1663.2 905.9H1663.4M1663.3 883.1V905.9M1663.0 883.1H1663.3M1663.1 867.0V883.1M1662.8 867.0H1663.1M1663.0 853.1V867.0M1662.6 853.1H1663.0M1662.8 851.4V853.1M1662.1 851.4H1662.8M1662.4 846.9V851.4M1661.4 846.9H1662.4M1661.9 846.3V846.9M1661.2 846.3H1661.9M1661.5 845.0V846.3M1660.6 845.0H1661.5M1661.1 842.2V845.0M1660.2 842.2H1661.1M1660.6 841.3V842.2M1659.9 841.3H1660.6M1660.3 838.7V841.3M1659.4 838.7H1660.3M1659.8 833.9V838.7M1658.5 833.9H1659.8M1659.1 831.9V833.9M1658.2 831.9H1659.1M1658.7 830.4V831.9M1657.9 830.4H1658.7M1658.3 828.7V830.4M1657.3 828.7H1658.3M1657.8 825.6V828.7M1656.4 825.6H1657.8M1657.1 817.7V825.6M1654.9 817.7H1657.1M1656.0 814.1V817.7M1663.6 822.0V831.4M1663.8 828.5V838.0M1664.0 833.8V843.2M1664.2 867.4V876.8M1664.4 867.4V876.8M1664.2 867.4H1664.4M1664.3 842.2V867.4M1664.6 846.3V855.7M1664.8 851.8V861.2M1665.0 851.8V861.2M1664.8 851.8H1665.0M1664.9 851.6V851.8M1665.2 859.5V868.9M1665.4 861.4V870.8M1665.6 861.4V870.8M1665.4 861.4H1665.6M1665.5 859.5V861.4M1665.2 859.5H1665.5M1665.4 851.6V859.5M1664.9 851.6H1665.4M1665.1 846.3V851.6M1664.6 846.3H1665.1M1664.9 842.2V846.3M1664.3 842.2H1664.9M1664.6 833.8V842.2M1664.0 833.8H1664.6M1664.3 828.5V833.8M1663.8 828.5H1664.3M1664.0 822.1V828.5M1665.8 828.2V837.6M1666.0 873.5V882.9M1666.2 873.5V882.9M1666.0 873.5H1666.2M1666.1 836.1V873.5M1666.4 873.6V883.0M1666.6 873.6V883.0M1666.4 873.6H1666.6M1666.5 845.0V873.6M1666.8 845.0V854.4M1666.5 845.0H1666.8M1666.7 844.3V845.0M1667.0 873.0V882.4M1667.2 880.1V889.5M1667.4 880.1V889.5M1667.2 880.1H1667.4M1667.3 873.0V880.1M1667.0 873.0H1667.3M1667.2 851.1V873.0M1667.6 874.5V883.9M1667.8 874.5V883.9M1667.6 874.5H1667.8M1667.7 855.4V874.5M1668.0 908.1V917.5M1668.2 908.1V917.5M1668.0 908.1H1668.2M1668.1 884.2V908.1M1668.4 884.2V893.7M1668.1 884.2H1668.4M1668.3 876.4V884.2M1668.6 876.4V885.9M1668.3 876.4H1668.6M1668.4 874.4V876.4M1668.8 874.4V883.8M1668.4 874.4H1668.8M1668.6 855.4V874.4M1667.7 855.4H1668.6M1668.2 851.1V855.4M1667.2 851.1H1668.2M1667.7 844.3V851.1M1666.7 844.3H1667.7M1667.2 836.1V844.3M1666.1 836.1H1667.2M1666.6 828.2V836.1M1665.8 828.2H1666.6M1666.2 822.1V828.2M1664.0 822.1H1666.2M1665.1 822.0V822.1M1663.6 822.0H1665.1M1664.4 814.1V822.0M1656.0 814.1H1664.4M1660.2 807.7V814.1M1654.2 807.7H1660.2M1657.2 806.0V807.7M1654.0 806.0H1657.2M1655.6 804.8V806.0M1653.8 804.8H1655.6M1654.7 796.2V804.8M1649.7 796.2H1654.7M1652.2 791.9V796.2M1648.0 791.9H1652.2M1650.1 790.6V791.9M1647.5 790.6H1650.1M1648.8 789.7V790.6M1669.0 790.8V800.2M1669.2 796.4V805.8M1669.4 808.5V817.9M1669.6 808.5V817.9M1669.4 808.5H1669.6M1669.5 799.4V808.5M1669.8 803.8V813.2M1670.0 803.8V813.2M1669.8 803.8H1670.0M1669.9 800.8V803.8M1670.2 800.8V810.2M1669.9 800.8H1670.2M1670.1 800.4V800.8M1670.4 818.9V828.3M1670.6 818.9V828.3M1670.4 818.9H1670.6M1670.5 808.9V818.9M1670.8 808.9V818.3M1670.5 808.9H1670.8M1670.7 801.6V808.9M1671.0 810.6V820.1M1671.2 810.6V820.1M1671.0 810.6H1671.2M1671.1 802.4V810.6M1671.4 813.5V823.0M1671.6 817.0V826.4M1671.8 817.0V826.4M1671.6 817.0H1671.8M1671.7 813.5V817.0M1671.4 813.5H1671.7M1671.6 810.3V813.5M1672.0 815.9V825.3M1672.2 820.0V829.5M1672.4 820.0V829.5M1672.2 820.0H1672.4M1672.3 815.9V820.0M1672.0 815.9H1672.3M1672.2 810.3V815.9M1671.6 810.3H1672.2M1671.9 809.8V810.3M1672.6 809.8V819.2M1671.9 809.8H1672.6M1672.3 806.8V809.8M1672.8 819.8V829.2M1673.0 819.8V829.2M1672.8 819.8H1673.0M1672.9 807.6V819.8M1673.2 824.2V833.7M1673.4 824.2V833.7M1673.2 824.2H1673.4M1673.3 807.6V824.2M1672.9 807.6H1673.3M1673.1 807.5V807.6M1673.6 824.9V834.3M1673.8 824.9V834.3M1673.6 824.9H1673.8M1673.7 808.6V824.9M1674.0 808.6V818.0M1673.7 808.6H1674.0M1673.9 808.3V808.6M1674.2 817.0V826.4M1674.4 817.0V826.4M1674.2 817.0H1674.4M1674.3 813.9V817.0M1674.7 813.9V823.3M1674.3 813.9H1674.7M1674.5 808.3V813.9M1673.9 808.3H1674.5M1674.2 807.5V808.3M1673.1 807.5H1674.2M1673.7 806.8V807.5M1672.3 806.8H1673.7M1673.0 802.4V806.8M1671.1 802.4H1673.0M1672.1 801.6V802.4M1670.7 801.6H1672.1M1671.4 800.4V801.6M1670.1 800.4H1671.4M1670.7 799.4V800.4M1669.5 799.4H1670.7M1670.1 796.4V799.4M1669.2 796.4H1670.1M1669.7 793.2V796.4M1674.9 800.1V809.5M1675.1 802.5V811.9M1675.3 821.3V830.7M1675.5 821.3V830.7M1675.3 821.3H1675.5M1675.4 814.9V821.3M1675.7 814.9V824.3M1675.4 814.9H1675.7M1675.5 810.0V814.9M1675.9 814.3V823.7M1676.1 814.3V823.7M1675.9 814.3H1676.1M1676.0 810.1V814.3M1676.3 811.0V820.5M1676.5 811.7V821.1M1676.7 828.5V837.9M1676.9 828.5V837.9M1676.7 828.5H1676.9M1676.8 811.7V828.5M1676.5 811.7H1676.8M1676.6 811.0V811.7M1676.3 811.0H1676.6M1676.4 810.1V811.0M1676.0 810.1H1676.4M1676.2 810.0V810.1M1675.5 810.0H1676.2M1675.8 802.5V810.0M1675.1 802.5H1675.8M1675.5 800.1V802.5M1674.9 800.1H1675.5M1675.2 793.3V800.1M1677.1 799.8V809.2M1677.3 817.6V827.0M1677.5 817.6V827.0M1677.3 817.6H1677.5M1677.4 809.3V817.6M1677.7 814.9V824.3M1677.9 815.1V824.5M1678.1 827.9V837.3M1678.3 827.9V837.3M1678.1 827.9H1678.3M1678.2 821.5V827.9M1678.5 839.4V848.8M1678.7 839.4V848.8M1678.5 839.4H1678.7M1678.6 823.2V839.4M1678.9 833.6V843.0M1679.1 848.9V858.3M1679.3 848.9V858.3M1679.1 848.9H1679.3M1679.2 833.6V848.9M1678.9 833.6H1679.2M1679.0 823.2V833.6M1678.6 823.2H1679.0M1678.8 821.5V823.2M1678.2 821.5H1678.8M1678.5 815.1V821.5M1677.9 815.1H1678.5M1678.2 814.9V815.1M1677.7 814.9H1678.2M1677.9 809.3V814.9M1677.4 809.3H1677.9M1677.6 799.8V809.3M1677.1 799.8H1677.6M1677.4 794.0V799.8M1679.5 802.6V812.0M1679.7 806.9V816.3M1679.9 823.9V833.3M1680.1 823.9V833.3M1679.9 823.9H1680.1M1680.0 815.0V823.9M1680.3 815.0V824.5M1680.0 815.0H1680.3M1680.1 808.2V815.0M1680.5 824.2V833.6M1680.7 824.2V833.6M1680.5 824.2H1680.7M1680.6 808.2V824.2M1680.1 808.2H1680.6M1680.4 807.8V808.2M1680.9 814.1V823.5M1681.1 814.1V823.5M1680.9 814.1H1681.1M1681.0 813.9V814.1M1681.3 828.7V838.1M1681.5 828.7V838.1M1681.3 828.7H1681.5M1681.4 817.2V828.7M1681.7 817.2V826.6M1681.4 817.2H1681.7M1681.5 813.9V817.2M1681.0 813.9H1681.5M1681.3 807.8V813.9M1680.4 807.8H1681.3M1680.8 806.9V807.8M1679.7 806.9H1680.8M1680.2 802.6V806.9M1679.5 802.6H1680.2M1679.9 794.6V802.6M1681.9 801.3V810.7M1682.1 807.3V816.7M1682.3 817.1V826.5M1682.5 817.1V826.5M1682.3 817.1H1682.5M1682.4 814.4V817.1M1682.7 829.4V838.9M1682.9 835.9V845.4M1683.1 842.4V851.8M1683.3 842.4V851.8M1683.1 842.4H1683.3M1683.2 835.9V842.4M1682.9 835.9H1683.2M1683.0 829.4V835.9M1682.7 829.4H1683.0M1682.9 826.4V829.4M1683.5 829.9V839.3M1683.7 864.0V873.4M1683.9 864.0V873.4M1683.7 864.0H1683.9M1683.8 836.6V864.0M1684.1 839.4V848.8M1684.3 839.4V848.8M1684.1 839.4H1684.3M1684.2 836.6V839.4M1683.8 836.6H1684.2M1684.0 829.9V836.6M1683.5 829.9H1684.0M1683.7 826.4V829.9M1682.9 826.4H1683.7M1683.3 814.4V826.4M1682.4 814.4H1683.3M1682.8 807.3V814.4M1682.1 807.3H1682.8M1682.5 801.3V807.3M1681.9 801.3H1682.5M1682.2 796.1V801.3M1684.5 799.4V808.8M1684.7 805.2V814.6M1684.9 810.2V819.6M1685.1 810.2V819.6M1684.9 810.2H1685.1M1685.0 808.3V810.2M1685.3 808.3V817.7M1685.0 808.3H1685.3M1685.1 805.5V808.3M1685.5 816.0V825.4M1685.7 816.0V825.4M1685.5 816.0H1685.7M1685.6 805.5V816.0M1685.1 805.5H1685.6M1685.4 805.2V805.5M1684.7 805.2H1685.4M1685.0 799.4V805.2M1684.5 799.4H1685.0M1684.8 796.2V799.4M1685.9 803.2V812.6M1686.1 810.2V819.6M1686.3 824.8V834.2M1686.5 824.8V834.2M1686.3 824.8H1686.5M1686.4 815.4V824.8M1686.7 844.5V853.9M1686.9 844.5V853.9M1686.7 844.5H1686.9M1686.8 827.6V844.5M1687.1 832.4V841.8M1687.3 832.4V841.8M1687.1 832.4H1687.3M1687.2 827.6V832.4M1686.8 827.6H1687.2M1687.0 815.4V827.6M1686.4 815.4H1687.0M1686.7 810.2V815.4M1686.1 810.2H1686.7M1686.4 803.2V810.2M1685.9 803.2H1686.4M1686.2 796.8V803.2M1687.5 804.5V813.9M1687.7 818.3V827.8M1687.9 834.2V843.6M1688.1 834.2V843.6M1687.9 834.2H1688.1M1688.0 822.1V834.2M1688.3 828.0V837.4M1688.5 828.0V837.4M1688.3 828.0H1688.5M1688.4 822.1V828.0M1688.0 822.1H1688.4M1688.2 818.3V822.1M1687.7 818.3H1688.2M1688.0 813.3V818.3M1688.7 826.9V836.3M1688.9 826.9V836.3M1688.7 826.9H1688.9M1688.8 816.0V826.9M1689.1 825.0V834.5M1689.3 837.7V847.1M1689.5 848.4V857.8M1689.7 848.4V857.8M1689.5 848.4H1689.7M1689.6 847.8V848.4M1689.9 849.0V858.4M1690.1 849.0V858.4M1689.9 849.0H1690.1M1690.0 847.8V849.0M1689.6 847.8H1690.0M1689.8 837.7V847.8M1689.3 837.7H1689.8M1689.6 825.0V837.7M1689.1 825.0H1689.6M1689.3 824.9V825.0M1690.3 827.1V836.5M1690.5 858.9V868.3M1690.7 858.9V868.3M1690.5 858.9H1690.7M1690.6 828.6V858.9M1690.9 848.7V858.1M1691.1 848.7V858.1M1690.9 848.7H1691.1M1691.0 831.3V848.7M1691.3 852.8V862.2M1691.5 852.8V862.2M1691.3 852.8H1691.5M1691.4 839.3V852.8M1691.7 839.3V848.7M1691.4 839.3H1691.7M1691.6 831.3V839.3M1691.0 831.3H1691.6M1691.3 828.6V831.3M1690.6 828.6H1691.3M1691.0 827.1V828.6M1690.3 827.1H1691.0M1690.6 824.9V827.1M1689.3 824.9H1690.6M1690.0 816.0V824.9M1688.8 816.0H1690.0M1689.4 813.3V816.0M1688.0 813.3H1689.4M1688.7 804.5V813.3M1687.5 804.5H1688.7M1688.1 798.2V804.5M1691.9 802.8V812.3M1692.1 814.8V824.2M1692.3 814.8V824.2M1692.1 814.8H1692.3M1692.2 803.8V814.8M1692.5 810.9V820.3M1692.7 810.9V820.3M1692.5 810.9H1692.7M1692.6 804.1V810.9M1692.9 813.2V822.6M1693.1 813.2V822.6M1692.9 813.2H1693.1M1693.0 810.5V813.2M1693.3 810.5V819.9M1693.0 810.5H1693.3M1693.2 804.5V810.5M1693.5 816.5V825.9M1693.7 816.5V825.9M1693.5 816.5H1693.7M1693.6 811.2V816.5M1693.9 811.2V820.7M1693.6 811.2H1693.9M1693.8 805.4V811.2M1694.1 805.4V814.8M1693.8 805.4H1694.1M1694.0 804.7V805.4M1694.3 806.0V815.4M1694.5 806.0V815.4M1694.3 806.0H1694.5M1694.4 805.1V806.0M1694.7 815.6V825.0M1694.9 815.6V825.0M1694.7 815.6H1694.9M1694.8 806.0V815.6M1695.1 806.0V815.4M1694.8 806.0H1695.1M1695.0 805.7V806.0M1695.3 811.3V820.7M1695.5 811.3V820.7M1695.3 811.3H1695.5M1695.4 811.2V811.3M1695.7 817.2V826.7M1695.9 817.2V826.7M1695.7 817.2H1695.9M1695.8 811.2V817.2M1695.4 811.2H1695.8M1695.6 805.7V811.2M1695.0 805.7H1695.6M1695.3 805.7V805.7M1696.1 806.2V815.6M1696.3 813.6V823.0M1696.5 814.2V823.6M1696.7 815.2V824.6M1696.9 818.7V828.2M1697.2 818.7V828.2M1696.9 818.7H1697.2M1697.1 815.2V818.7M1696.7 815.2H1697.1M1696.9 814.2V815.2M1696.5 814.2H1696.9M1696.7 813.6V814.2M1696.3 813.6H1696.7M1696.5 811.5V813.6M1697.4 811.5V820.9M1696.5 811.5H1697.4M1696.9 807.1V811.5M1697.6 817.1V826.5M1697.8 817.1V826.5M1697.6 817.1H1697.8M1697.7 807.2V817.1M1698.0 816.7V826.1M1698.2 816.7V826.1M1698.0 816.7H1698.2M1698.1 807.4V816.7M1698.4 813.1V822.5M1698.6 813.1V822.5M1698.4 813.1H1698.6M1698.5 809.1V813.1M1698.8 809.1V818.5M1698.5 809.1H1698.8M1698.6 808.0V809.1M1699.0 814.5V823.9M1699.2 817.4V826.8M1699.4 817.4V826.8M1699.2 817.4H1699.4M1699.3 814.5V817.4M1699.0 814.5H1699.3M1699.1 808.7V814.5M1699.6 817.8V827.2M1699.8 817.8V827.2M1699.6 817.8H1699.8M1699.7 815.9V817.8M1700.0 815.9V825.3M1699.7 815.9H1700.0M1699.8 814.6V815.9M1700.2 817.0V826.4M1700.4 819.8V829.2M1700.6 819.8V829.2M1700.4 819.8H1700.6M1700.5 819.2V819.8M1700.8 819.2V828.6M1700.5 819.2H1700.8M1700.6 819.1V819.2M1701.0 819.1V828.5M1700.6 819.1H1701.0M1700.8 817.3V819.1M1701.2 821.5V830.9M1701.4 821.5V830.9M1701.2 821.5H1701.4M1701.3 817.3V821.5M1700.8 817.3H1701.3M1701.0 817.0V817.3M1700.2 817.0H1701.0M1700.6 816.3V817.0M1701.6 817.6V827.0M1701.8 817.6V827.0M1701.6 817.6H1701.8M1701.7 816.3V817.6M1700.6 816.3H1701.7M1701.1 814.6V816.3M1699.8 814.6H1701.1M1700.5 808.7V814.6M1699.1 808.7H1700.5M1699.8 808.0V808.7M1698.6 808.0H1699.8M1699.2 807.4V808.0M1698.1 807.4H1699.2M1698.6 807.2V807.4M1697.7 807.2H1698.6M1698.1 807.1V807.2M1696.9 807.1H1698.1M1697.5 806.2V807.1M1696.1 806.2H1697.5M1696.8 805.7V806.2M1695.3 805.7H1696.8M1696.1 805.1V805.7M1694.4 805.1H1696.1M1695.3 804.7V805.1M1694.0 804.7H1695.3M1694.6 804.5V804.7M1693.2 804.5H1694.6M1693.9 804.1V804.5M1692.6 804.1H1693.9M1693.3 803.8V804.1M1692.2 803.8H1693.3M1692.7 803.0V803.8M1702.0 808.1V817.5M1702.2 817.0V826.4M1702.4 819.3V828.7M1702.6 828.3V837.7M1702.8 828.3V837.7M1702.6 828.3H1702.8M1702.7 819.3V828.3M1702.4 819.3H1702.7M1702.5 818.7V819.3M1703.0 818.7V828.1M1702.5 818.7H1703.0M1702.8 817.0V818.7M1702.2 817.0H1702.8M1702.5 812.1V817.0M1703.2 817.9V827.3M1703.4 821.1V830.5M1703.6 821.1V830.5M1703.4 821.1H1703.6M1703.5 817.9V821.1M1703.2 817.9H1703.5M1703.3 815.3V817.9M1703.8 815.7V825.1M1704.0 815.7V825.1M1703.8 815.7H1704.0M1703.9 815.6V815.7M1704.2 825.7V835.1M1704.4 841.9V851.3M1704.6 841.9V851.3M1704.4 841.9H1704.6M1704.5 825.7V841.9M1704.2 825.7H1704.5M1704.3 818.6V825.7M1704.8 824.3V833.7M1705.0 824.3V833.7M1704.8 824.3H1705.0M1704.9 819.8V824.3M1705.2 833.6V843.0M1705.4 833.6V843.0M1705.2 833.6H1705.4M1705.3 824.3V833.6M1705.6 824.3V833.8M1705.3 824.3H1705.6M1705.4 823.8V824.3M1705.8 837.9V847.3M1706.0 837.9V847.3M1705.8 837.9H1706.0M1705.9 823.8V837.9M1705.4 823.8H1705.9M1705.7 822.3V823.8M1706.2 832.2V841.6M1706.4 832.2V841.6M1706.2 832.2H1706.4M1706.3 822.8V832.2M1706.6 835.3V844.7M1706.8 835.3V844.7M1706.6 835.3H1706.8M1706.7 824.5V835.3M1707.0 834.6V844.0M1707.2 834.6V844.0M1707.0 834.6H1707.2M1707.1 825.0V834.6M1707.4 851.2V860.6M1707.6 851.2V860.6M1707.4 851.2H1707.6M1707.5 832.7V851.2M1707.8 846.5V855.9M1708.0 846.5V855.9M1707.8 846.5H1708.0M1707.9 832.7V846.5M1707.5 832.7H1707.9M1707.7 827.8V832.7M1708.2 827.8V837.2M1707.7 827.8H1708.2M1707.9 827.5V827.8M1708.4 827.5V836.9M1707.9 827.5H1708.4M1708.2 825.0V827.5M1707.1 825.0H1708.2M1707.6 824.5V825.0M1706.7 824.5H1707.6M1707.2 822.8V824.5M1706.3 822.8H1707.2M1706.7 822.3V822.8M1705.7 822.3H1706.7M1706.2 819.8V822.3M1704.9 819.8H1706.2M1705.5 818.6V819.8M1704.3 818.6H1705.5M1704.9 815.6V818.6M1703.9 815.6H1704.9M1704.4 815.3V815.6M1703.3 815.3H1704.4M1703.9 812.1V815.3M1702.5 812.1H1703.9M1703.2 808.1V812.1M1702.0 808.1H1703.2M1702.6 805.0V808.1M1708.6 809.2V818.6M1708.8 814.2V823.6M1709.0 822.6V832.0M1709.2 822.6V832.0M1709.0 822.6H1709.2M1709.1 820.7V822.6M1709.4 833.0V842.4M1709.6 834.8V844.2M1709.8 834.8V844.2M1709.6 834.8H1709.8M1709.7 833.0V834.8M1709.4 833.0H1709.7M1709.6 832.3V833.0M1710.0 832.3V841.7M1709.6 832.3H1710.0M1709.8 829.1V832.3M1710.2 842.8V852.2M1710.4 860.3V869.7M1710.6 860.3V869.7M1710.4 860.3H1710.6M1710.5 842.8V860.3M1710.2 842.8H1710.5M1710.4 837.0V842.8M1710.8 849.8V859.2M1711.0 849.8V859.2M1710.8 849.8H1711.0M1710.9 840.4V849.8M1711.2 846.1V855.5M1711.4 846.1V855.5M1711.2 846.1H1711.4M1711.3 844.4V846.1M1711.6 851.9V861.3M1711.8 851.9V861.3M1711.6 851.9H1711.8M1711.7 849.1V851.9M1712.0 849.1V858.5M1711.7 849.1H1712.0M1711.9 844.4V849.1M1711.3 844.4H1711.9M1711.6 840.4V844.4M1710.9 840.4H1711.6M1711.3 837.0V840.4M1710.4 837.0H1711.3M1710.8 829.1V837.0M1709.8 829.1H1710.8M1710.3 820.7V829.1M1709.1 820.7H1710.3M1709.7 814.2V820.7M1708.8 814.2H1709.7M1709.3 809.2V814.2M1708.6 809.2H1709.3M1708.9 807.0V809.2M1712.2 813.3V822.7M1712.4 822.1V831.5M1712.6 822.1V831.5M1712.4 822.1H1712.6M1712.5 819.3V822.1M1712.8 822.9V832.3M1713.0 822.9V832.3M1712.8 822.9H1713.0M1712.9 821.7V822.9M1713.2 821.7V831.1M1712.9 821.7H1713.2M1713.1 820.0V821.7M1713.4 823.2V832.7M1713.6 823.2V832.7M1713.4 823.2H1713.6M1713.5 820.0V823.2M1713.1 820.0H1713.5M1713.3 819.3V820.0M1712.5 819.3H1713.3M1712.9 816.3V819.3M1713.8 816.3V825.7M1712.9 816.3H1713.8M1713.4 816.2V816.3M1714.0 822.9V832.3M1714.2 822.9V832.3M1714.0 822.9H1714.2M1714.1 822.2V822.9M1714.4 822.2V831.6M1714.1 822.2H1714.4M1714.3 817.2V822.2M1714.6 823.9V833.3M1714.8 828.1V837.5M1715.0 828.4V837.8M1715.2 828.4V837.8M1715.0 828.4H1715.2M1715.1 828.1V828.4M1714.8 828.1H1715.1M1715.0 827.8V828.1M1715.4 827.8V837.2M1715.0 827.8H1715.4M1715.2 823.9V827.8M1714.6 823.9H1715.2M1714.9 819.0V823.9M1715.6 819.0V828.4M1714.9 819.0H1715.6M1715.3 817.2V819.0M1714.3 817.2H1715.3M1714.8 816.2V817.2M1713.4 816.2H1714.8M1714.1 813.3V816.2M1712.2 813.3H1714.1M1713.1 808.8V813.3M1715.8 813.9V823.3M1716.0 818.4V827.8M1716.2 818.4V827.8M1716.0 818.4H1716.2M1716.1 813.9V818.4M1715.8 813.9H1716.1M1716.0 813.4V813.9M1716.4 821.1V830.5M1716.6 828.5V838.0M1716.8 828.5V838.0M1716.6 828.5H1716.8M1716.7 821.1V828.5M1716.4 821.1H1716.7M1716.6 814.3V821.1M1717.0 826.6V836.0M1717.2 826.6V836.0M1717.0 826.6H1717.2M1717.1 815.9V826.6M1717.4 826.4V835.8M1717.6 829.2V838.6M1717.8 830.5V839.9M1718.0 830.5V839.9M1717.8 830.5H1718.0M1717.9 829.2V830.5M1717.6 829.2H1717.9M1717.8 829.1V829.2M1718.2 829.1V838.5M1717.8 829.1H1718.2M1718.0 826.4V829.1M1717.4 826.4H1718.0M1717.7 825.9V826.4M1718.4 825.9V835.3M1717.7 825.9H1718.4M1718.1 817.3V825.9M1718.6 823.6V833.0M1718.8 823.9V833.3M1719.0 823.9V833.3M1718.8 823.9H1719.0M1718.9 823.6V823.9M1718.6 823.6H1718.9M1718.8 818.2V823.6M1719.2 825.9V835.3M1719.5 825.9V835.3M1719.2 825.9H1719.5M1719.4 818.2V825.9M1718.8 818.2H1719.4M1719.1 818.0V818.2M1719.7 825.9V835.3M1719.9 827.4V836.8M1720.1 827.4V836.8M1719.9 827.4H1720.1M1720.0 826.0V827.4M1720.3 828.2V837.6M1720.5 830.9V840.3M1720.7 833.0V842.4M1720.9 833.0V842.4M1720.7 833.0H1720.9M1720.8 830.9V833.0M1720.5 830.9H1720.8M1720.6 828.8V830.9M1721.1 833.0V842.4M1721.3 833.0V842.4M1721.1 833.0H1721.3M1721.2 828.8V833.0M1720.6 828.8H1721.2M1720.9 828.2V828.8M1720.3 828.2H1720.9M1720.6 826.2V828.2M1721.5 827.3V836.7M1721.7 827.3V836.7M1721.5 827.3H1721.7M1721.6 826.2V827.3M1720.6 826.2H1721.6M1721.1 826.0V826.2M1720.0 826.0H1721.1M1720.5 825.9V826.0M1721.9 825.9V835.3M1720.5 825.9H1721.9M1721.2 825.9V825.9M1719.7 825.9H1721.2M1720.4 822.2V825.9M1722.1 822.2V831.6M1720.4 822.2H1722.1M1721.2 821.2V822.2M1722.3 828.0V837.4M1722.5 828.0V837.4M1722.3 828.0H1722.5M1722.4 826.7V828.0M1722.7 829.2V838.6M1722.9 830.2V839.6M1723.1 830.2V839.6M1722.9 830.2H1723.1M1723.0 829.2V830.2M1722.7 829.2H1723.0M1722.8 826.7V829.2M1722.4 826.7H1722.8M1722.6 821.2V826.7M1721.2 821.2H1722.6M1721.9 818.0V821.2M1719.1 818.0H1721.9M1720.5 817.3V818.0M1718.1 817.3H1720.5M1719.3 815.9V817.3M1717.1 815.9H1719.3M1718.2 814.3V815.9M1716.6 814.3H1718.2M1717.4 813.4V814.3M1716.0 813.4H1717.4M1716.7 811.9V813.4M1723.3 816.0V825.4M1723.5 819.9V829.3M1723.7 822.0V831.4M1723.9 822.0V831.4M1723.7 822.0H1723.9M1723.8 819.9V822.0M1723.5 819.9H1723.8M1723.6 816.0V819.9M1723.3 816.0H1723.6M1723.4 812.7V816.0M1724.1 814.9V824.3M1724.3 819.9V829.3M1724.5 822.3V831.7M1724.7 825.2V834.6M1724.9 825.2V834.6M1724.7 825.2H1724.9M1724.8 822.3V825.2M1724.5 822.3H1724.8M1724.6 819.9V822.3M1724.3 819.9H1724.6M1724.4 819.6V819.9M1725.1 823.4V832.8M1725.3 823.4V832.8M1725.1 823.4H1725.3M1725.2 819.6V823.4M1724.4 819.6H1725.2M1724.8 814.9V819.6M1724.1 814.9H1724.8M1724.4 812.7V814.9M1723.4 812.7H1724.4M1723.9 812.7V812.7M1725.5 820.6V830.0M1725.7 825.8V835.2M1725.9 839.9V849.4M1726.1 839.9V849.4M1725.9 839.9H1726.1M1726.0 837.1V839.9M1726.3 837.1V846.5M1726.0 837.1H1726.3M1726.1 830.2V837.1M1726.5 830.2V839.6M1726.1 830.2H1726.5M1726.3 825.9V830.2M1726.7 839.7V849.1M1726.9 839.7V849.1M1726.7 839.7H1726.9M1726.8 828.3V839.7M1727.1 837.0V846.5M1727.3 854.6V864.1M1727.5 854.6V864.1M1727.3 854.6H1727.5M1727.4 837.0V854.6M1727.1 837.0H1727.4M1727.2 835.3V837.0M1727.7 849.4V858.8M1727.9 849.4V858.8M1727.7 849.4H1727.9M1727.8 842.3V849.4M1728.1 842.3V851.7M1727.8 842.3H1728.1M1727.9 841.0V842.3M1728.3 843.2V852.6M1728.5 843.2V852.6M1728.3 843.2H1728.5M1728.4 841.0V843.2M1727.9 841.0H1728.4M1728.2 835.3V841.0M1727.2 835.3H1728.2M1727.7 835.1V835.3M1728.7 836.8V846.2M1728.9 837.0V846.4M1729.1 838.5V848.0M1729.3 857.1V866.5M1729.5 859.1V868.5M1729.7 859.1V868.5M1729.5 859.1H1729.7M1729.6 857.1V859.1M1729.3 857.1H1729.6M1729.4 845.2V857.1M1729.9 845.2V854.6M1729.4 845.2H1729.9M1729.7 840.3V845.2M1730.1 842.5V851.9M1730.3 872.0V881.4M1730.5 872.0V881.4M1730.3 872.0H1730.5M1730.4 852.7V872.0M1730.7 852.7V862.1M1730.4 852.7H1730.7M1730.6 842.5V852.7M1730.1 842.5H1730.6M1730.3 840.3V842.5M1729.7 840.3H1730.3M1730.0 838.5V840.3M1729.1 838.5H1730.0M1729.5 837.0V838.5M1728.9 837.0H1729.5M1729.2 836.8V837.0M1728.7 836.8H1729.2M1729.0 835.1V836.8M1727.7 835.1H1729.0M1728.3 828.3V835.1M1726.8 828.3H1728.3M1727.6 825.9V828.3M1726.3 825.9H1727.6M1726.9 825.8V825.9M1725.7 825.8H1726.9M1726.3 820.6V825.8M1725.5 820.6H1726.3M1725.9 815.3V820.6M1730.9 820.4V829.8M1731.1 825.0V834.4M1731.3 834.0V843.4M1731.5 834.0V843.4M1731.3 834.0H1731.5M1731.4 830.2V834.0M1731.7 841.3V850.7M1731.9 841.3V850.7M1731.7 841.3H1731.9M1731.8 830.2V841.3M1731.4 830.2H1731.8M1731.6 825.0V830.2M1731.1 825.0H1731.6M1731.4 820.4V825.0M1730.9 820.4H1731.4M1731.1 816.0V820.4M1732.1 820.1V829.5M1732.3 827.0V836.4M1732.5 850.6V860.0M1732.7 850.6V860.0M1732.5 850.6H1732.7M1732.6 827.0V850.6M1732.3 827.0H1732.6M1732.5 820.1V827.0M1732.1 820.1H1732.5M1732.3 816.0V820.1M1732.9 821.8V831.2M1733.1 823.0V832.4M1733.3 824.6V834.0M1733.5 825.8V835.3M1733.7 834.2V843.6M1733.9 839.0V848.5M1734.1 839.6V849.0M1734.3 839.6V849.0M1734.1 839.6H1734.3M1734.2 839.0V839.6M1733.9 839.0H1734.2M1734.1 834.2V839.0M1733.7 834.2H1734.1M1733.9 828.0V834.2M1734.5 839.1V848.5M1734.7 839.1V848.5M1734.5 839.1H1734.7M1734.6 834.1V839.1M1734.9 840.2V849.6M1735.1 840.2V849.6M1734.9 840.2H1735.1M1735.0 834.1V840.2M1734.6 834.1H1735.0M1734.8 833.1V834.1M1735.3 833.1V842.6M1734.8 833.1H1735.3M1735.1 828.0V833.1M1733.9 828.0H1735.1M1734.5 825.8V828.0M1733.5 825.8H1734.5M1734.0 824.6V825.8M1733.3 824.6H1734.0M1733.7 823.0V824.6M1733.1 823.0H1733.7M1733.4 821.8V823.0M1732.9 821.8H1733.4M1733.1 817.8V821.8M1735.5 824.0V833.4M1735.7 839.8V849.2M1735.9 839.8V849.2M1735.7 839.8H1735.9M1735.8 830.5V839.8M1736.1 838.6V848.1M1736.3 838.6V848.1M1736.1 838.6H1736.3M1736.2 835.6V838.6M1736.5 871.4V880.8M1736.7 875.6V885.0M1736.9 875.6V885.0M1736.7 875.6H1736.9M1736.8 871.4V875.6M1736.5 871.4H1736.8M1736.7 849.3V871.4M1737.1 872.1V881.5M1737.3 872.5V881.9M1737.5 872.5V881.9M1737.3 872.5H1737.5M1737.4 872.1V872.5M1737.1 872.1H1737.4M1737.3 849.3V872.1M1736.7 849.3H1737.3M1737.0 848.4V849.3M1737.7 855.6V865.0M1737.9 855.6V865.0M1737.7 855.6H1737.9M1737.8 855.2V855.6M1738.1 855.2V864.6M1737.8 855.2H1738.1M1738.0 855.0V855.2M1738.3 855.0V864.4M1738.0 855.0H1738.3M1738.2 848.4V855.0M1737.0 848.4H1738.2M1737.6 835.6V848.4M1736.2 835.6H1737.6M1736.9 830.5V835.6M1735.8 830.5H1736.9M1736.4 824.0V830.5M1735.5 824.0H1736.4M1735.9 818.6V824.0M1738.5 821.6V831.0M1738.7 824.9V834.4M1738.9 832.2V841.6M1739.1 843.6V853.0M1739.3 843.6V853.0M1739.1 843.6H1739.3M1739.2 841.1V843.6M1739.5 846.1V855.5M1739.7 846.1V855.5M1739.5 846.1H1739.7M1739.6 844.7V846.1M1739.9 844.7V854.1M1739.6 844.7H1739.9M1739.8 841.1V844.7M1739.2 841.1H1739.8M1739.5 832.2V841.1M1738.9 832.2H1739.5M1739.2 830.5V832.2M1740.1 834.6V844.0M1740.3 834.6V844.0M1740.1 834.6H1740.3M1740.2 830.5V834.6M1739.2 830.5H1740.2M1739.7 824.9V830.5M1738.7 824.9H1739.7M1739.2 821.6V824.9M1738.5 821.6H1739.2M1738.9 820.3V821.6M1740.5 826.3V835.8M1740.7 840.4V849.8M1740.9 852.8V862.2M1741.1 852.8V862.2M1740.9 852.8H1741.1M1741.0 846.0V852.8M1741.3 846.0V855.4M1741.0 846.0H1741.3M1741.2 840.4V846.0M1740.7 840.4H1741.2M1741.0 839.3V840.4M1741.5 844.2V853.6M1741.8 844.2V853.6M1741.5 844.2H1741.8M1741.7 839.3V844.2M1741.0 839.3H1741.7M1741.3 833.6V839.3M1742.0 863.1V872.5M1742.2 863.1V872.5M1742.0 863.1H1742.2M1742.1 855.4V863.1M1742.4 855.4V864.8M1742.1 855.4H1742.4M1742.2 855.3V855.4M1742.6 858.3V867.7M1742.8 858.3V867.7M1742.6 858.3H1742.8M1742.7 855.3V858.3M1742.2 855.3H1742.7M1742.4 848.9V855.3M1743.0 848.9V858.3M1742.4 848.9H1743.0M1742.7 843.6V848.9M1743.2 855.4V864.8M1743.4 867.1V876.5M1743.6 867.1V876.5M1743.4 867.1H1743.6M1743.5 855.4V867.1M1743.2 855.4H1743.5M1743.3 843.6V855.4M1742.7 843.6H1743.3M1743.0 842.8V843.6M1743.8 849.6V859.0M1744.0 853.2V862.6M1744.2 853.2V862.6M1744.0 853.2H1744.2M1744.1 852.4V853.2M1744.4 860.5V869.9M1744.6 860.5V869.9M1744.4 860.5H1744.6M1744.5 852.4V860.5M1744.1 852.4H1744.5M1744.3 849.6V852.4M1743.8 849.6H1744.3M1744.0 846.8V849.6M1744.8 865.0V874.4M1745.0 865.0V874.4M1744.8 865.0H1745.0M1744.9 860.3V865.0M1745.2 860.3V869.7M1744.9 860.3H1745.2M1745.0 847.8V860.3M1745.4 849.9V859.3M1745.6 870.2V879.6M1745.8 871.3V880.7M1746.0 871.3V880.7M1745.8 871.3H1746.0M1745.9 870.2V871.3M1745.6 870.2H1745.9M1745.7 857.9V870.2M1746.2 857.9V867.3M1745.7 857.9H1746.2M1745.9 854.0V857.9M1746.4 854.0V863.4M1746.6 854.0V863.4M1746.4 854.0H1746.6M1746.5 854.0V854.0M1745.9 854.0H1746.5M1746.2 849.9V854.0M1745.4 849.9H1746.2M1745.8 847.8V849.9M1745.0 847.8H1745.8M1745.4 846.8V847.8M1744.0 846.8H1745.4M1744.7 842.8V846.8M1743.0 842.8H1744.7M1743.9 833.6V842.8M1741.3 833.6H1743.9M1742.6 826.3V833.6M1740.5 826.3H1742.6M1741.6 822.2V826.3M1746.8 825.8V835.2M1747.0 827.2V836.6M1747.2 828.9V838.3M1747.4 829.7V839.2M1747.6 836.4V845.8M1747.8 836.6V846.0M1748.0 836.6V846.0M1747.8 836.6H1748.0M1747.9 836.4V836.6M1747.6 836.4H1747.9M1747.7 833.4V836.4M1748.2 834.0V843.4M1748.4 852.3V861.8M1748.6 852.3V861.8M1748.4 852.3H1748.6M1748.5 834.6V852.3M1748.8 836.8V846.2M1749.0 853.2V862.6M1749.2 853.2V862.6M1749.0 853.2H1749.2M1749.1 837.3V853.2M1749.4 838.4V847.8M1749.6 843.5V852.9M1749.8 843.5V852.9M1749.6 843.5H1749.8M1749.7 840.0V843.5M1750.0 850.5V859.9M1750.2 850.5V859.9M1750.0 850.5H1750.2M1750.1 841.8V850.5M1750.4 853.0V862.4M1750.6 853.0V862.4M1750.4 853.0H1750.6M1750.5 850.8V853.0M1750.8 861.9V871.3M1751.0 861.9V871.3M1750.8 861.9H1751.0M1750.9 861.5V861.9M1751.2 861.5V870.9M1750.9 861.5H1751.2M1751.0 855.4V861.5M1751.4 857.8V867.2M1751.6 857.8V867.2M1751.4 857.8H1751.6M1751.5 855.4V857.8M1751.0 855.4H1751.5M1751.3 850.8V855.4M1750.5 850.8H1751.3M1750.9 845.8V850.8M1751.8 845.8V855.3M1750.9 845.8H1751.8M1751.3 841.8V845.8M1750.1 841.8H1751.3M1750.7 840.0V841.8M1749.7 840.0H1750.7M1750.2 838.4V840.0M1749.4 838.4H1750.2M1749.8 837.3V838.4M1749.1 837.3H1749.8M1749.4 836.8V837.3M1748.8 836.8H1749.4M1749.1 834.6V836.8M1748.5 834.6H1749.1M1748.8 834.0V834.6M1748.2 834.0H1748.8M1748.5 833.4V834.0M1747.7 833.4H1748.5M1748.1 829.7V833.4M1747.4 829.7H1748.1M1747.7 828.9V829.7M1747.2 828.9H1747.7M1747.5 827.2V828.9M1747.0 827.2H1747.5M1747.2 825.8V827.2M1746.8 825.8H1747.2M1747.0 825.3V825.8M1752.0 828.6V838.0M1752.2 860.1V869.6M1752.4 873.3V882.7M1752.6 873.3V882.7M1752.4 873.3H1752.6M1752.5 869.8V873.3M1752.8 871.4V880.8M1753.0 871.4V880.8M1752.8 871.4H1753.0M1752.9 869.8V871.4M1752.5 869.8H1752.9M1752.7 860.1V869.8M1752.2 860.1H1752.7M1752.4 847.9V860.1M1753.2 877.3V886.7M1753.4 877.3V886.7M1753.2 877.3H1753.4M1753.3 847.9V877.3M1752.4 847.9H1753.3M1752.9 834.6V847.9M1753.6 844.2V853.7M1753.8 844.2V853.7M1753.6 844.2H1753.8M1753.7 834.9V844.2M1754.0 835.8V845.2M1754.2 868.9V878.3M1754.4 868.9V878.3M1754.2 868.9H1754.4M1754.3 837.9V868.9M1754.6 872.6V882.0M1754.8 872.6V882.0M1754.6 872.6H1754.8M1754.7 842.0V872.6M1755.0 842.0V851.4M1754.7 842.0H1755.0M1754.9 839.0V842.0M1755.2 881.1V890.5M1755.4 881.1V890.5M1755.2 881.1H1755.4M1755.3 856.7V881.1M1755.6 856.7V866.1M1755.3 856.7H1755.6M1755.5 840.4V856.7M1755.8 882.8V892.2M1756.0 882.8V892.2M1755.8 882.8H1756.0M1755.9 862.5V882.8M1756.2 862.5V871.9M1755.9 862.5H1756.2M1756.1 842.1V862.5M1756.4 869.1V878.5M1756.6 869.1V878.5M1756.4 869.1H1756.6M1756.5 867.6V869.1M1756.8 879.5V888.9M1757.0 879.5V888.9M1756.8 879.5H1757.0M1756.9 868.6V879.5M1757.2 896.5V906.0M1757.4 896.5V906.0M1757.2 896.5H1757.4M1757.3 894.1V896.5M1757.6 894.1V903.5M1757.3 894.1H1757.6M1757.5 868.6V894.1M1756.9 868.6H1757.5M1757.2 867.6V868.6M1756.5 867.6H1757.2M1756.9 844.7V867.6M1757.8 852.2V861.6M1758.0 895.3V904.7M1758.2 895.3V904.7M1758.0 895.3H1758.2M1758.1 877.4V895.3M1758.4 877.4V886.9M1758.1 877.4H1758.4M1758.3 852.2V877.4M1757.8 852.2H1758.3M1758.0 845.7V852.2M1758.6 847.4V856.9M1758.8 879.5V888.9M1759.0 879.5V888.9M1758.8 879.5H1759.0M1758.9 867.7V879.5M1759.2 867.7V877.1M1758.9 867.7H1759.2M1759.1 859.9V867.7M1759.4 871.9V881.3M1759.6 871.9V881.3M1759.4 871.9H1759.6M1759.5 859.9V871.9M1759.1 859.9H1759.5M1759.3 849.6V859.9M1759.8 854.6V864.0M1760.0 860.4V869.8M1760.2 860.4V869.8M1760.0 860.4H1760.2M1760.1 854.6V860.4M1759.8 854.6H1760.1M1760.0 849.6V854.6M1759.3 849.6H1760.0M1759.6 849.5V849.6M1760.4 897.0V906.5M1760.6 902.2V911.6M1760.8 902.2V911.6M1760.6 902.2H1760.8M1760.7 897.0V902.2M1760.4 897.0H1760.7M1760.6 872.4V897.0M1761.0 872.4V881.8M1760.6 872.4H1761.0M1760.8 866.6V872.4M1761.2 866.6V876.0M1760.8 866.6H1761.2M1761.0 856.3V866.6M1761.4 863.8V873.2M1761.6 863.8V873.2M1761.4 863.8H1761.6M1761.5 856.3V863.8M1761.0 856.3H1761.5M1761.3 852.7V856.3M1761.8 870.5V879.9M1762.0 870.5V879.9M1761.8 870.5H1762.0M1761.9 854.2V870.5M1762.2 873.3V882.7M1762.4 898.7V908.1M1762.6 898.7V908.1M1762.4 898.7H1762.6M1762.5 873.3V898.7M1762.2 873.3H1762.5M1762.4 869.1V873.3M1762.8 869.1V878.5M1762.4 869.1H1762.8M1762.6 867.9V869.1M1763.0 897.4V906.8M1763.2 897.4V906.8M1763.0 897.4H1763.2M1763.1 867.9V897.4M1762.6 867.9H1763.1M1762.9 855.4V867.9M1763.4 857.3V866.7M1763.6 877.6V887.0M1763.8 877.6V887.0M1763.6 877.6H1763.8M1763.7 857.7V877.6M1764.1 876.4V885.8M1764.3 901.5V910.9M1764.5 901.5V910.9M1764.3 901.5H1764.5M1764.4 876.4V901.5M1764.1 876.4H1764.4M1764.2 865.6V876.4M1764.7 906.8V916.2M1764.9 906.8V916.2M1764.7 906.8H1764.9M1764.8 878.6V906.8M1765.1 878.6V888.0M1764.8 878.6H1765.1M1764.9 877.1V878.6M1765.3 877.1V886.5M1764.9 877.1H1765.3M1765.1 865.6V877.1M1764.2 865.6H1765.1M1764.6 859.1V865.6M1765.5 860.1V869.5M1765.7 860.9V870.3M1765.9 875.7V885.1M1766.1 901.5V910.9M1766.3 901.5V910.9M1766.1 901.5H1766.3M1766.2 891.3V901.5M1766.5 891.3V900.8M1766.2 891.3H1766.5M1766.3 875.7V891.3M1765.9 875.7H1766.3M1766.1 860.9V875.7M1765.7 860.9H1766.1M1765.9 860.1V860.9M1765.5 860.1H1765.9M1765.7 859.1V860.1M1764.6 859.1H1765.7M1765.2 857.7V859.1M1763.7 857.7H1765.2M1764.5 857.3V857.7M1763.4 857.3H1764.5M1763.9 855.4V857.3M1762.9 855.4H1763.9M1763.4 854.2V855.4M1761.9 854.2H1763.4M1762.7 852.7V854.2M1761.3 852.7H1762.7M1762.0 849.5V852.7M1759.6 849.5H1762.0M1760.8 847.4V849.5M1758.6 847.4H1760.8M1759.7 845.7V847.4M1758.0 845.7H1759.7M1758.9 844.7V845.7M1756.9 844.7H1758.9M1757.9 842.1V844.7M1756.1 842.1H1757.9M1757.0 840.4V842.1M1755.5 840.4H1757.0M1756.2 839.0V840.4M1754.9 839.0H1756.2M1755.5 837.9V839.0M1754.3 837.9H1755.5M1754.9 835.8V837.9M1754.0 835.8H1754.9M1754.5 834.9V835.8M1753.7 834.9H1754.5M1754.1 834.6V834.9M1752.9 834.6H1754.1M1753.5 833.6V834.6M1766.7 838.3V847.7M1766.9 847.8V857.2M1767.1 848.9V858.3M1767.3 849.4V858.8M1767.5 870.4V879.8M1767.7 870.6V880.0M1767.9 887.5V897.0M1768.1 887.5V897.0M1767.9 887.5H1768.1M1768.0 870.6V887.5M1767.7 870.6H1768.0M1767.8 870.4V870.6M1767.5 870.4H1767.8M1767.6 859.3V870.4M1768.3 862.1V871.5M1768.5 896.8V906.2M1768.7 896.8V906.2M1768.5 896.8H1768.7M1768.6 893.2V896.8M1768.9 893.2V902.6M1768.6 893.2H1768.9M1768.7 891.4V893.2M1769.1 891.4V900.8M1768.7 891.4H1769.1M1768.9 875.9V891.4M1769.3 907.2V916.6M1769.5 907.2V916.6M1769.3 907.2H1769.5M1769.4 875.9V907.2M1768.9 875.9H1769.4M1769.1 875.0V875.9M1769.7 875.0V884.4M1769.1 875.0H1769.7M1769.4 862.1V875.0M1768.3 862.1H1769.4M1768.8 859.3V862.1M1767.6 859.3H1768.8M1768.2 849.4V859.3M1767.3 849.4H1768.2M1767.8 848.9V849.4M1767.1 848.9H1767.8M1767.4 847.8V848.9M1766.9 847.8H1767.4M1767.1 838.3V847.8M1766.7 838.3H1767.1M1766.9 836.8V838.3M1769.9 839.9V849.3M1770.1 844.4V853.8M1770.3 848.5V857.9M1770.5 869.5V878.9M1770.7 872.9V882.3M1770.9 872.9V882.3M1770.7 872.9H1770.9M1770.8 869.5V872.9M1770.5 869.5H1770.8M1770.6 848.5V869.5M1770.3 848.5H1770.6M1770.5 844.4V848.5M1770.1 844.4H1770.5M1770.3 839.9V844.4M1769.9 839.9H1770.3M1770.1 838.5V839.9M1771.1 841.5V850.9M1771.3 861.2V870.6M1771.5 872.3V881.7M1771.7 872.3V881.7M1771.5 872.3H1771.7M1771.6 861.7V872.3M1771.9 866.8V876.3M1772.1 880.8V890.2M1772.3 880.8V890.2M1772.1 880.8H1772.3M1772.2 878.1V880.8M1772.5 881.7V891.1M1772.7 893.4V902.8M1772.9 893.4V902.8M1772.7 893.4H1772.9M1772.8 881.7V893.4M1772.5 881.7H1772.8M1772.6 878.1V881.7M1772.2 878.1H1772.6M1772.4 866.8V878.1M1771.9 866.8H1772.4M1772.1 861.7V866.8M1771.6 861.7H1772.1M1771.9 861.2V861.7M1771.3 861.2H1771.9M1771.6 841.5V861.2M1771.1 841.5H1771.6M1771.3 841.4V841.5M1773.1 844.7V854.1M1773.3 854.9V864.3M1773.5 861.7V871.1M1773.7 861.7V871.1M1773.5 861.7H1773.7M1773.6 861.4V861.7M1773.9 874.4V883.8M1774.1 875.7V885.1M1774.3 875.7V885.1M1774.1 875.7H1774.3M1774.2 874.4V875.7M1773.9 874.4H1774.2M1774.0 861.4V874.4M1773.6 861.4H1774.0M1773.8 854.9V861.4M1773.3 854.9H1773.8M1773.6 844.7V854.9M1773.1 844.7H1773.6M1773.3 842.7V844.7M1774.5 848.6V858.0M1774.7 854.4V863.8M1774.9 866.5V875.9M1775.1 867.5V877.0M1775.3 867.5V877.0M1775.1 867.5H1775.3M1775.2 866.5V867.5M1774.9 866.5H1775.2M1775.0 854.4V866.5M1774.7 854.4H1775.0M1774.9 848.6V854.4M1774.5 848.6H1774.9M1774.7 844.7V848.6M1775.5 851.4V860.8M1775.7 856.8V866.2M1775.9 877.5V886.9M1776.1 877.5V886.9M1775.9 877.5H1776.1M1776.0 858.5V877.5M1776.3 875.1V884.5M1776.5 875.1V884.5M1776.3 875.1H1776.5M1776.4 861.5V875.1M1776.7 906.1V915.5M1776.9 906.1V915.5M1776.7 906.1H1776.9M1776.8 886.1V906.1M1777.1 886.1V895.5M1776.8 886.1H1777.1M1777.0 875.5V886.1M1777.3 875.5V884.9M1777.0 875.5H1777.3M1777.1 866.5V875.5M1777.5 870.9V880.3M1777.7 874.1V883.5M1777.9 874.1V883.5M1777.7 874.1H1777.9M1777.8 870.9V874.1M1777.5 870.9H1777.8M1777.7 870.6V870.9M1778.1 870.6V880.0M1777.7 870.6H1778.1M1777.9 866.5V870.6M1777.1 866.5H1777.9M1777.5 861.5V866.5M1776.4 861.5H1777.5M1777.0 858.5V861.5M1776.0 858.5H1777.0M1776.5 856.8V858.5M1775.7 856.8H1776.5M1776.1 851.4V856.8M1775.5 851.4H1776.1M1775.8 844.7V851.4M1774.7 844.7H1775.8M1775.2 842.7V844.7M1773.3 842.7H1775.2M1774.3 841.4V842.7M1771.3 841.4H1774.3M1772.8 838.5V841.4M1770.1 838.5H1772.8M1771.4 836.8V838.5M1766.9 836.8H1771.4M1769.2 834.2V836.8M1778.3 836.1V845.6M1778.5 839.3V848.7M1778.7 869.6V879.0M1778.9 869.6V879.0M1778.7 869.6H1778.9M1778.8 860.5V869.6M1779.1 868.8V878.2M1779.3 868.8V878.2M1779.1 868.8H1779.3M1779.2 862.7V868.8M1779.5 922.1V931.5M1779.7 931.1V940.5M1779.9 931.1V940.5M1779.7 931.1H1779.9M1779.8 922.1V931.1M1779.5 922.1H1779.8M1779.7 916.0V922.1M1780.1 916.0V925.5M1779.7 916.0H1780.1M1779.9 891.9V916.0M1780.3 891.9V901.3M1779.9 891.9H1780.3M1780.1 884.0V891.9M1780.5 924.5V933.9M1780.7 925.4V934.9M1780.9 925.4V934.9M1780.7 925.4H1780.9M1780.8 924.5V925.4M1780.5 924.5H1780.8M1780.7 884.0V924.5M1780.1 884.0H1780.7M1780.4 880.8V884.0M1781.1 880.8V890.2M1780.4 880.8H1781.1M1780.8 862.7V880.8M1779.2 862.7H1780.8M1780.0 860.5V862.7M1778.8 860.5H1780.0M1779.4 839.3V860.5M1778.5 839.3H1779.4M1779.0 839.0V839.3M1781.3 841.4V850.9M1781.5 855.4V864.8M1781.7 862.1V871.5M1781.9 862.8V872.2M1782.1 862.8V872.2M1781.9 862.8H1782.1M1782.0 862.1V862.8M1781.7 862.1H1782.0M1781.9 861.7V862.1M1782.3 861.7V871.1M1781.9 861.7H1782.3M1782.1 855.4V861.7M1781.5 855.4H1782.1M1781.8 850.5V855.4M1782.5 864.6V874.0M1782.7 864.6V874.0M1782.5 864.6H1782.7M1782.6 855.1V864.6M1782.9 861.3V870.7M1783.1 866.5V875.9M1783.3 866.5V875.9M1783.1 866.5H1783.3M1783.2 861.3V866.5M1782.9 861.3H1783.2M1783.1 855.1V861.3M1782.6 855.1H1783.1M1782.9 850.5V855.1M1781.8 850.5H1782.9M1782.3 841.4V850.5M1781.3 841.4H1782.3M1781.8 841.3V841.4M1783.5 845.7V855.1M1783.7 879.3V888.7M1783.9 879.3V888.7M1783.7 879.3H1783.9M1783.8 849.0V879.3M1784.1 860.8V870.2M1784.3 878.1V887.5M1784.5 878.1V887.5M1784.3 878.1H1784.5M1784.4 860.8V878.1M1784.1 860.8H1784.4M1784.3 857.7V860.8M1784.7 884.6V894.0M1784.9 884.6V894.0M1784.7 884.6H1784.9M1784.8 857.7V884.6M1784.3 857.7H1784.8M1784.6 856.0V857.7M1785.1 856.0V865.4M1784.6 856.0H1785.1M1784.9 854.6V856.0M1785.3 883.2V892.6M1785.5 883.2V892.6M1785.3 883.2H1785.5M1785.4 880.7V883.2M1785.7 880.7V890.1M1785.4 880.7H1785.7M1785.6 857.8V880.7M1785.9 866.7V876.1M1786.1 870.2V879.6M1786.4 870.2V879.6M1786.1 870.2H1786.4M1786.3 869.1V870.2M1786.6 869.1V878.5M1786.3 869.1H1786.6M1786.4 866.7V869.1M1785.9 866.7H1786.4M1786.2 860.8V866.7M1786.8 861.6V871.0M1787.0 883.6V893.0M1787.2 883.6V893.0M1787.0 883.6H1787.2M1787.1 874.5V883.6M1787.4 874.5V883.9M1787.1 874.5H1787.4M1787.2 864.6V874.5M1787.6 893.5V902.9M1787.8 893.5V902.9M1787.6 893.5H1787.8M1787.7 865.1V893.5M1788.0 898.6V908.0M1788.2 898.6V908.0M1788.0 898.6H1788.2M1788.1 886.4V898.6M1788.4 888.5V897.9M1788.6 902.0V911.4M1788.8 902.0V911.4M1788.6 902.0H1788.8M1788.7 888.5V902.0M1788.4 888.5H1788.7M1788.5 886.4V888.5M1788.1 886.4H1788.5M1788.3 868.9V886.4M1789.0 870.3V879.7M1789.2 889.2V898.6M1789.4 889.2V898.6M1789.2 889.2H1789.4M1789.3 887.5V889.2M1789.6 887.5V896.9M1789.3 887.5H1789.6M1789.4 885.8V887.5M1789.8 885.8V895.2M1789.4 885.8H1789.8M1789.6 873.0V885.8M1790.0 878.7V888.1M1790.2 896.3V905.7M1790.4 896.3V905.7M1790.2 896.3H1790.4M1790.3 879.2V896.3M1790.6 879.2V888.6M1790.3 879.2H1790.6M1790.4 878.7V879.2M1790.0 878.7H1790.4M1790.2 873.0V878.7M1789.6 873.0H1790.2M1789.9 870.3V873.0M1789.0 870.3H1789.9M1789.4 868.9V870.3M1788.3 868.9H1789.4M1788.9 865.1V868.9M1787.7 865.1H1788.9M1788.3 864.6V865.1M1787.2 864.6H1788.3M1787.7 861.6V864.6M1786.8 861.6H1787.7M1787.2 860.8V861.6M1786.2 860.8H1787.2M1786.7 857.8V860.8M1785.6 857.8H1786.7M1786.2 854.6V857.8M1784.9 854.6H1786.2M1785.5 849.0V854.6M1783.8 849.0H1785.5M1784.7 848.6V849.0M1790.8 854.8V864.2M1791.0 867.3V876.7M1791.2 867.3V876.7M1791.0 867.3H1791.2M1791.1 854.8V867.3M1790.8 854.8H1791.1M1790.9 849.3V854.8M1791.4 853.4V862.8M1791.6 859.9V869.3M1791.8 865.1V874.5M1792.0 896.0V905.4M1792.2 896.0V905.4M1792.0 896.0H1792.2M1792.1 885.2V896.0M1792.4 885.2V894.6M1792.1 885.2H1792.4M1792.2 865.1V885.2M1791.8 865.1H1792.2M1792.0 859.9V865.1M1791.6 859.9H1792.0M1791.8 853.4V859.9M1791.4 853.4H1791.8M1791.6 850.5V853.4M1792.6 857.8V867.3M1792.8 858.5V867.9M1793.0 869.3V878.7M1793.2 869.3V878.7M1793.0 869.3H1793.2M1793.1 861.6V869.3M1793.4 868.8V878.2M1793.6 869.2V878.6M1793.8 870.4V879.8M1794.0 870.4V879.8M1793.8 870.4H1794.0M1793.9 869.2V870.4M1793.6 869.2H1793.9M1793.7 868.8V869.2M1793.4 868.8H1793.7M1793.6 865.2V868.8M1794.2 879.2V888.6M1794.4 879.2V888.6M1794.2 879.2H1794.4M1794.3 867.3V879.2M1794.6 868.9V878.4M1794.8 870.0V879.4M1795.0 876.6V886.0M1795.2 876.6V886.0M1795.0 876.6H1795.2M1795.1 874.2V876.6M1795.4 874.2V883.6M1795.1 874.2H1795.4M1795.2 872.6V874.2M1795.6 872.6V882.0M1795.2 872.6H1795.6M1795.4 870.0V872.6M1794.8 870.0H1795.4M1795.1 868.9V870.0M1794.6 868.9H1795.1M1794.8 867.3V868.9M1794.3 867.3H1794.8M1794.6 865.2V867.3M1793.6 865.2H1794.6M1794.1 861.6V865.2M1793.1 861.6H1794.1M1793.6 858.5V861.6M1792.8 858.5H1793.6M1793.2 857.8V858.5M1792.6 857.8H1793.2M1792.9 853.5V857.8M1795.8 859.4V868.8M1796.0 880.0V889.5M1796.2 880.0V889.5M1796.0 880.0H1796.2M1796.1 872.8V880.0M1796.4 872.8V882.2M1796.1 872.8H1796.4M1796.2 871.1V872.8M1796.6 871.1V880.5M1796.2 871.1H1796.6M1796.4 859.4V871.1M1795.8 859.4H1796.4M1796.1 854.1V859.4M1796.8 861.0V870.4M1797.0 880.0V889.4M1797.2 887.5V896.9M1797.4 887.5V896.9M1797.2 887.5H1797.4M1797.3 880.0V887.5M1797.0 880.0H1797.3M1797.1 879.9V880.0M1797.6 900.0V909.4M1797.8 900.0V909.4M1797.6 900.0H1797.8M1797.7 897.2V900.0M1798.0 914.4V923.8M1798.2 914.4V923.8M1798.0 914.4H1798.2M1798.1 897.2V914.4M1797.7 897.2H1798.1M1797.9 892.5V897.2M1798.4 892.5V901.9M1797.9 892.5H1798.4M1798.2 879.9V892.5M1797.1 879.9H1798.2M1797.7 861.0V879.9M1796.8 861.0H1797.7M1797.2 857.5V861.0M1798.6 862.3V871.7M1798.8 871.5V880.9M1799.0 877.4V886.8M1799.2 877.4V886.8M1799.0 877.4H1799.2M1799.1 871.5V877.4M1798.8 871.5H1799.1M1799.0 862.3V871.5M1798.6 862.3H1799.0M1798.8 859.7V862.3M1799.4 864.5V873.9M1799.6 865.5V874.9M1799.8 865.8V875.2M1800.0 878.2V887.6M1800.2 878.2V887.6M1800.0 878.2H1800.2M1800.1 866.3V878.2M1800.4 867.6V877.0M1800.6 878.0V887.4M1800.8 883.5V892.9M1801.0 883.5V892.9M1800.8 883.5H1801.0M1800.9 878.4V883.5M1801.2 885.7V895.1M1801.4 885.7V895.1M1801.2 885.7H1801.4M1801.3 878.4V885.7M1800.9 878.4H1801.3M1801.1 878.0V878.4M1800.6 878.0H1801.1M1800.9 873.0V878.0M1801.6 883.7V893.1M1801.8 883.7V893.1M1801.6 883.7H1801.8M1801.7 874.8V883.7M1802.0 874.8V884.2M1801.7 874.8H1802.0M1801.9 873.0V874.8M1800.9 873.0H1801.9M1801.4 871.6V873.0M1802.2 881.1V890.5M1802.4 890.1V899.5M1802.6 890.1V899.5M1802.4 890.1H1802.6M1802.5 881.1V890.1M1802.2 881.1H1802.5M1802.4 874.3V881.1M1802.8 880.4V889.8M1803.0 880.4V889.8M1802.8 880.4H1803.0M1802.9 880.3V880.4M1803.2 882.9V892.3M1803.4 882.9V892.3M1803.2 882.9H1803.4M1803.3 880.3V882.9M1802.9 880.3H1803.3M1803.1 875.1V880.3M1803.6 875.4V884.8M1803.8 875.4V884.8M1803.6 875.4H1803.8M1803.7 875.1V875.4M1803.1 875.1H1803.7M1803.4 874.3V875.1M1802.4 874.3H1803.4M1802.9 871.6V874.3M1801.4 871.6H1802.9M1802.1 867.6V871.6M1800.4 867.6H1802.1M1801.3 866.3V867.6M1800.1 866.3H1801.3M1800.7 866.2V866.3M1804.0 873.8V883.2M1804.2 948.9V958.3M1804.4 948.9V958.3M1804.2 948.9H1804.4M1804.3 881.8V948.9M1804.6 881.8V891.2M1804.3 881.8H1804.6M1804.5 879.7V881.8M1804.8 896.7V906.1M1805.0 912.1V921.5M1805.2 954.7V964.1M1805.4 954.7V964.1M1805.2 954.7H1805.4M1805.3 912.1V954.7M1805.0 912.1H1805.3M1805.2 896.7V912.1M1804.8 896.7H1805.2M1805.0 879.7V896.7M1804.5 879.7H1805.0M1804.7 879.0V879.7M1805.6 926.5V935.9M1805.8 934.9V944.4M1806.0 934.9V944.4M1805.8 934.9H1806.0M1805.9 926.5V934.9M1805.6 926.5H1805.9M1805.8 910.6V926.5M1806.2 979.4V988.8M1806.4 979.4V988.8M1806.2 979.4H1806.4M1806.3 919.2V979.4M1806.6 960.2V969.6M1806.8 960.2V969.6M1806.6 960.2H1806.8M1806.7 944.6V960.2M1807.0 944.6V954.0M1806.7 944.6H1807.0M1806.9 925.7V944.6M1807.2 928.3V937.7M1807.4 930.0V939.4M1807.6 954.8V964.2M1807.8 954.8V964.2M1807.6 954.8H1807.8M1807.7 936.0V954.8M1808.0 939.5V948.9M1808.2 974.3V983.7M1808.4 974.3V983.7M1808.2 974.3H1808.4M1808.3 939.5V974.3M1808.0 939.5H1808.3M1808.2 936.0V939.5M1807.7 936.0H1808.2M1808.0 930.0V936.0M1807.4 930.0H1808.0M1807.7 928.3V930.0M1807.2 928.3H1807.7M1807.5 925.7V928.3M1806.9 925.7H1807.5M1807.2 919.2V925.7M1806.3 919.2H1807.2M1806.8 910.6V919.2M1805.8 910.6H1806.8M1806.3 879.0V910.6M1804.7 879.0H1806.3M1805.5 877.0V879.0M1808.7 881.3V890.7M1808.9 886.1V895.5M1809.1 920.1V929.5M1809.3 920.1V929.5M1809.1 920.1H1809.3M1809.2 891.8V920.1M1809.5 905.2V914.6M1809.7 939.5V949.0M1809.9 939.5V949.0M1809.7 939.5H1809.9M1809.8 930.8V939.5M1810.1 947.6V957.0M1810.3 954.3V963.8M1810.5 954.3V963.8M1810.3 954.3H1810.5M1810.4 947.6V954.3M1810.1 947.6H1810.4M1810.2 930.8V947.6M1809.8 930.8H1810.2M1810.0 905.2V930.8M1809.5 905.2H1810.0M1809.7 891.8V905.2M1809.2 891.8H1809.7M1809.4 886.1V891.8M1808.9 886.1H1809.4M1809.1 881.3V886.1M1808.7 881.3H1809.1M1808.9 877.0V881.3M1805.5 877.0H1808.9M1807.2 873.8V877.0M1804.0 873.8H1807.2M1805.6 866.2V873.8M1800.7 866.2H1805.6M1803.2 865.8V866.2M1799.8 865.8H1803.2M1801.5 865.5V865.8M1799.6 865.5H1801.5M1800.5 864.5V865.5M1799.4 864.5H1800.5M1800.0 859.7V864.5M1798.8 859.7H1800.0M1799.4 858.4V859.7M1810.7 860.4V869.8M1810.9 862.5V871.9M1811.1 883.8V893.2M1811.3 905.3V914.7M1811.5 915.6V925.0M1811.7 925.0V934.4M1811.9 925.0V934.4M1811.7 925.0H1811.9M1811.8 915.6V925.0M1811.5 915.6H1811.8M1811.6 905.3V915.6M1811.3 905.3H1811.6M1811.4 883.8V905.3M1811.1 883.8H1811.4M1811.2 873.4V883.8M1812.1 932.8V942.2M1812.3 932.8V942.2M1812.1 932.8H1812.3M1812.2 922.1V932.8M1812.5 922.1V931.5M1812.2 922.1H1812.5M1812.3 895.0V922.1M1812.7 933.2V942.6M1812.9 933.2V942.6M1812.7 933.2H1812.9M1812.8 898.1V933.2M1813.1 898.1V907.5M1812.8 898.1H1813.1M1812.9 895.0V898.1M1812.3 895.0H1812.9M1812.6 883.0V895.0M1813.3 911.1V920.5M1813.5 911.1V920.5M1813.3 911.1H1813.5M1813.4 884.2V911.1M1813.7 887.0V896.5M1813.9 932.0V941.4M1814.1 932.0V941.4M1813.9 932.0H1814.1M1814.0 888.9V932.0M1814.3 920.2V929.6M1814.5 920.2V929.6M1814.3 920.2H1814.5M1814.4 898.6V920.2M1814.7 907.4V916.8M1814.9 907.4V916.8M1814.7 907.4H1814.9M1814.8 898.6V907.4M1814.4 898.6H1814.8M1814.6 894.2V898.6M1815.1 895.9V905.3M1815.3 896.5V905.9M1815.5 942.1V951.5M1815.7 942.1V951.5M1815.5 942.1H1815.7M1815.6 906.1V942.1M1815.9 906.1V915.5M1815.6 906.1H1815.9M1815.7 904.4V906.1M1816.1 940.3V949.8M1816.3 940.3V949.8M1816.1 940.3H1816.3M1816.2 920.4V940.3M1816.5 920.4V929.8M1816.2 920.4H1816.5M1816.3 904.4V920.4M1815.7 904.4H1816.3M1816.0 904.1V904.4M1816.7 904.1V913.5M1816.0 904.1H1816.7M1816.4 903.9V904.1M1816.9 909.8V919.2M1817.1 921.5V930.9M1817.3 966.2V975.7M1817.5 966.2V975.7M1817.3 966.2H1817.5M1817.4 921.5V966.2M1817.1 921.5H1817.4M1817.2 909.8V921.5M1816.9 909.8H1817.2M1817.1 908.6V909.8M1817.7 914.3V923.7M1817.9 921.4V930.8M1818.1 921.4V930.8M1817.9 921.4H1818.1M1818.0 915.0V921.4M1818.3 954.8V964.2M1818.5 954.8V964.2M1818.3 954.8H1818.5M1818.4 943.3V954.8M1818.7 943.3V952.7M1818.4 943.3H1818.7M1818.5 916.0V943.3M1818.9 960.7V970.1M1819.1 960.7V970.1M1818.9 960.7H1819.1M1819.0 923.7V960.7M1819.3 942.6V952.0M1819.5 942.6V952.0M1819.3 942.6H1819.5M1819.4 923.7V942.6M1819.0 923.7H1819.4M1819.2 916.0V923.7M1818.5 916.0H1819.2M1818.9 915.0V916.0M1818.0 915.0H1818.9M1818.4 914.3V915.0M1817.7 914.3H1818.4M1818.1 908.6V914.3M1817.1 908.6H1818.1M1817.6 903.9V908.6M1816.4 903.9H1817.6M1817.0 896.5V903.9M1815.3 896.5H1817.0M1816.1 895.9V896.5M1815.1 895.9H1816.1M1815.6 894.2V895.9M1814.6 894.2H1815.6M1815.1 888.9V894.2M1814.0 888.9H1815.1M1814.5 887.0V888.9M1813.7 887.0H1814.5M1814.1 884.2V887.0M1813.4 884.2H1814.1M1813.7 883.0V884.2M1812.6 883.0H1813.7M1813.2 876.0V883.0M1819.7 881.0V890.4M1819.9 934.2V943.6M1820.1 934.2V943.6M1819.9 934.2H1820.1M1820.0 911.2V934.2M1820.3 911.2V920.6M1820.0 911.2H1820.3M1820.2 900.0V911.2M1820.5 926.8V936.2M1820.7 926.8V936.2M1820.5 926.8H1820.7M1820.6 925.1V926.8M1820.9 925.1V934.5M1820.6 925.1H1820.9M1820.8 900.0V925.1M1820.2 900.0H1820.8M1820.5 892.4V900.0M1821.1 894.3V903.7M1821.3 947.1V956.5M1821.5 947.1V956.5M1821.3 947.1H1821.5M1821.4 942.7V947.1M1821.7 942.7V952.1M1821.4 942.7H1821.7M1821.6 918.3V942.7M1821.9 918.3V927.7M1821.6 918.3H1821.9M1821.7 903.7V918.3M1822.1 941.2V950.6M1822.3 941.2V950.6M1822.1 941.2H1822.3M1822.2 905.3V941.2M1822.5 924.4V933.8M1822.7 924.4V933.8M1822.5 924.4H1822.7M1822.6 913.4V924.4M1822.9 913.4V922.8M1822.6 913.4H1822.9M1822.8 907.4V913.4M1823.1 925.4V934.8M1823.3 925.4V934.8M1823.1 925.4H1823.3M1823.2 910.0V925.4M1823.5 963.0V972.4M1823.7 963.0V972.4M1823.5 963.0H1823.7M1823.6 917.2V963.0M1823.9 917.6V927.0M1824.1 917.6V927.0M1823.9 917.6H1824.1M1824.0 917.2V917.6M1823.6 917.2H1824.0M1823.8 914.6V917.2M1824.3 961.3V970.8M1824.5 961.3V970.8M1824.3 961.3H1824.5M1824.4 937.1V961.3M1824.7 937.1V946.5M1824.4 937.1H1824.7M1824.6 917.2V937.1M1824.9 930.6V940.1M1825.1 930.6V940.1M1824.9 930.6H1825.1M1825.0 920.8V930.6M1825.3 965.4V974.9M1825.5 965.4V974.9M1825.3 965.4H1825.5M1825.4 927.7V965.4M1825.7 948.2V957.6M1825.9 948.2V957.6M1825.7 948.2H1825.9M1825.8 930.9V948.2M1826.1 930.9V940.4M1825.8 930.9H1826.1M1826.0 927.7V930.9M1825.4 927.7H1826.0M1825.7 920.8V927.7M1825.0 920.8H1825.7M1825.4 917.2V920.8M1824.6 917.2H1825.4M1825.0 914.6V917.2M1823.8 914.6H1825.0M1824.4 910.0V914.6M1823.2 910.0H1824.4M1823.8 907.4V910.0M1822.8 907.4H1823.8M1823.3 905.3V907.4M1822.2 905.3H1823.3M1822.7 903.7V905.3M1821.7 903.7H1822.7M1822.2 894.3V903.7M1821.1 894.3H1822.2M1821.7 893.4V894.3M1826.3 896.6V906.0M1826.5 899.1V908.5M1826.7 906.3V915.7M1826.9 906.3V915.7M1826.7 906.3H1826.9M1826.8 904.4V906.3M1827.1 954.1V963.5M1827.3 954.1V963.5M1827.1 954.1H1827.3M1827.2 917.9V954.1M1827.5 928.1V937.5M1827.7 928.1V937.5M1827.5 928.1H1827.7M1827.6 917.9V928.1M1827.2 917.9H1827.6M1827.4 912.7V917.9M1827.9 927.9V937.3M1828.1 927.9V937.3M1827.9 927.9H1828.1M1828.0 915.7V927.9M1828.3 933.8V943.3M1828.5 955.8V965.2M1828.7 955.8V965.2M1828.5 955.8H1828.7M1828.6 933.8V955.8M1828.3 933.8H1828.6M1828.5 924.7V933.8M1828.9 931.4V940.8M1829.1 931.4V940.8M1828.9 931.4H1829.1M1829.0 930.6V931.4M1829.3 930.6V940.0M1829.0 930.6H1829.3M1829.2 925.3V930.6M1829.5 927.1V936.5M1829.7 960.9V970.3M1829.9 981.1V990.5M1830.1 981.1V990.5M1829.9 981.1H1830.1M1830.0 960.9V981.1M1829.7 960.9H1830.0M1829.9 943.1V960.9M1830.3 943.1V952.5M1829.9 943.1H1830.3M1830.1 942.6V943.1M1830.5 942.6V952.0M1830.1 942.6H1830.5M1830.3 939.8V942.6M1830.7 939.8V949.2M1830.3 939.8H1830.7M1830.5 936.2V939.8M1831.0 938.2V947.6M1831.2 943.2V952.6M1831.4 943.2V952.6M1831.2 943.2H1831.4M1831.3 940.5V943.2M1831.6 940.5V949.9M1831.3 940.5H1831.6M1831.4 938.2V940.5M1831.0 938.2H1831.4M1831.2 936.2V938.2M1830.5 936.2H1831.2M1830.9 927.1V936.2M1829.5 927.1H1830.9M1830.2 925.3V927.1M1829.2 925.3H1830.2M1829.7 924.7V925.3M1828.5 924.7H1829.7M1829.1 915.7V924.7M1828.0 915.7H1829.1M1828.6 912.7V915.7M1827.4 912.7H1828.6M1828.0 908.0V912.7M1831.8 915.4V924.8M1832.0 921.9V931.3M1832.2 921.9V931.3M1832.0 921.9H1832.2M1832.1 919.4V921.9M1832.4 919.4V928.8M1832.1 919.4H1832.4M1832.2 916.3V919.4M1832.6 917.0V926.4M1832.8 924.8V934.2M1833.0 924.8V934.2M1832.8 924.8H1833.0M1832.9 917.5V924.8M1833.2 937.3V946.7M1833.4 937.3V946.7M1833.2 937.3H1833.4M1833.3 933.0V937.3M1833.6 936.9V946.3M1833.8 936.9V946.3M1833.6 936.9H1833.8M1833.7 933.0V936.9M1833.3 933.0H1833.7M1833.5 930.2V933.0M1834.0 933.3V942.7M1834.2 933.3V942.7M1834.0 933.3H1834.2M1834.1 930.2V933.3M1833.5 930.2H1834.1M1833.8 928.1V930.2M1834.4 931.9V941.3M1834.6 931.9V941.3M1834.4 931.9H1834.6M1834.5 928.1V931.9M1833.8 928.1H1834.5M1834.1 922.1V928.1M1834.8 937.8V947.2M1835.0 937.8V947.2M1834.8 937.8H1835.0M1834.9 934.4V937.8M1835.2 934.4V943.8M1834.9 934.4H1835.2M1835.0 930.1V934.4M1835.4 930.1V939.5M1835.0 930.1H1835.4M1835.2 923.6V930.1M1835.6 930.1V939.5M1835.8 930.1V939.5M1835.6 930.1H1835.8M1835.7 929.3V930.1M1836.0 929.3V938.7M1835.7 929.3H1836.0M1835.8 927.8V929.3M1836.2 930.3V939.7M1836.4 930.3V939.7M1836.2 930.3H1836.4M1836.3 929.5V930.3M1836.6 929.7V939.1M1836.8 929.7V939.1M1836.6 929.7H1836.8M1836.7 929.5V929.7M1836.3 929.5H1836.7M1836.5 927.8V929.5M1835.8 927.8H1836.5M1836.1 925.1V927.8M1837.0 931.9V941.3M1837.2 931.9V941.3M1837.0 931.9H1837.2M1837.1 927.1V931.9M1837.4 927.1V936.5M1837.1 927.1H1837.4M1837.2 925.9V927.1M1837.6 935.9V945.3M1837.8 942.0V951.5M1838.0 942.0V951.5M1837.8 942.0H1838.0M1837.9 935.9V942.0M1837.6 935.9H1837.9M1837.7 934.9V935.9M1838.2 934.9V944.3M1837.7 934.9H1838.2M1838.0 931.5V934.9M1838.4 931.6V941.0M1838.6 931.6V941.0M1838.4 931.6H1838.6M1838.5 931.5V931.6M1838.8 936.9V946.3M1839.0 949.7V959.2M1839.2 968.2V977.7M1839.4 999.4V1008.8M1839.6 999.4V1008.8M1839.4 999.4H1839.6M1839.5 968.2V999.4M1839.2 968.2H1839.5M1839.3 967.8V968.2M1839.8 967.8V977.2M1839.3 967.8H1839.8M1839.6 950.7V967.8M1840.0 952.7V962.1M1840.2 1015.7V1025.1M1840.4 1015.7V1025.1M1840.2 1015.7H1840.4M1840.3 956.2V1015.7M1840.6 958.2V967.6M1840.8 959.6V969.0M1841.0 970.1V979.5M1841.2 970.1V979.5M1841.0 970.1H1841.2M1841.1 965.7V970.1M1841.4 1011.5V1020.9M1841.6 1011.5V1020.9M1841.4 1011.5H1841.6M1841.5 971.1V1011.5M1841.8 971.1V980.5M1841.5 971.1H1841.8M1841.6 968.6V971.1M1842.0 968.6V978.1M1841.6 968.6H1842.0M1841.8 965.7V968.6M1841.1 965.7H1841.8M1841.5 959.6V965.7M1840.8 959.6H1841.5M1841.1 958.2V959.6M1840.6 958.2H1841.1M1840.9 956.2V958.2M1840.3 956.2H1840.9M1840.6 952.7V956.2M1840.0 952.7H1840.6M1840.3 950.7V952.7M1839.6 950.7H1840.3M1839.9 949.7V950.7M1839.0 949.7H1839.9M1839.5 936.9V949.7M1838.8 936.9H1839.5M1839.1 931.5V936.9M1838.5 931.5H1839.1M1838.8 931.5V931.5M1838.0 931.5H1838.8M1838.4 925.9V931.5M1837.2 925.9H1838.4M1837.8 925.1V925.9M1836.1 925.1H1837.8M1837.0 923.6V925.1M1835.2 923.6H1837.0M1836.1 922.1V923.6M1834.1 922.1H1836.1M1835.1 917.5V922.1M1832.9 917.5H1835.1M1834.0 917.0V917.5M1832.6 917.0H1834.0M1833.3 916.3V917.0M1832.2 916.3H1833.3M1832.7 915.4V916.3M1831.8 915.4H1832.7M1832.2 908.0V915.4M1828.0 908.0H1832.2M1830.1 904.4V908.0M1826.8 904.4H1830.1M1828.5 899.1V904.4M1826.5 899.1H1828.5M1827.5 896.6V899.1M1826.3 896.6H1827.5M1826.9 893.4V896.6M1821.7 893.4H1826.9M1824.3 892.4V893.4M1820.5 892.4H1824.3M1822.4 881.0V892.4M1819.7 881.0H1822.4M1821.0 876.0V881.0M1813.2 876.0H1821.0M1817.1 873.4V876.0M1811.2 873.4H1817.1M1814.2 862.5V873.4M1810.9 862.5H1814.2M1812.5 860.4V862.5M1810.7 860.4H1812.5M1811.6 858.4V860.4M1799.4 858.4H1811.6M1805.5 857.5V858.4M1797.2 857.5H1805.5M1801.4 854.1V857.5M1796.1 854.1H1801.4M1798.7 853.5V854.1M1792.9 853.5H1798.7M1795.8 850.5V853.5M1791.6 850.5H1795.8M1793.7 849.3V850.5M1790.9 849.3H1793.7M1792.3 848.6V849.3M1784.7 848.6H1792.3M1788.5 845.7V848.6M1783.5 845.7H1788.5M1786.0 841.3V845.7M1781.8 841.3H1786.0M1783.9 839.0V841.3M1779.0 839.0H1783.9M1781.4 836.1V839.0M1778.3 836.1H1781.4M1779.9 834.2V836.1M1769.2 834.2H1779.9M1774.5 833.6V834.2M1753.5 833.6H1774.5M1764.0 828.6V833.6M1752.0 828.6H1764.0M1758.0 825.3V828.6M1747.0 825.3H1758.0M1752.5 822.2V825.3M1741.6 822.2H1752.5M1747.0 820.3V822.2M1738.9 820.3H1747.0M1743.0 818.6V820.3M1735.9 818.6H1743.0M1739.5 817.8V818.6M1733.1 817.8H1739.5M1736.3 816.0V817.8M1732.3 816.0H1736.3M1734.3 816.0V816.0M1731.1 816.0H1734.3M1732.7 815.3V816.0M1725.9 815.3H1732.7M1729.3 812.7V815.3M1723.9 812.7H1729.3M1726.6 811.9V812.7M1716.7 811.9H1726.6M1721.7 808.8V811.9M1713.1 808.8H1721.7M1717.4 807.0V808.8M1708.9 807.0H1717.4M1713.2 805.0V807.0M1702.6 805.0H1713.2M1707.9 803.0V805.0M1692.7 803.0H1707.9M1700.3 802.8V803.0M1691.9 802.8H1700.3M1696.1 798.2V802.8M1688.1 798.2H1696.1M1692.1 796.8V798.2M1686.2 796.8H1692.1M1689.1 796.2V796.8M1684.8 796.2H1689.1M1686.9 796.1V796.2M1682.2 796.1H1686.9M1684.6 794.6V796.1M1679.9 794.6H1684.6M1682.2 794.0V794.6M1677.4 794.0H1682.2M1679.8 793.3V794.0M1675.2 793.3H1679.8M1677.5 793.2V793.3M1669.7 793.2H1677.5M1673.6 790.8V793.2M1669.0 790.8H1673.6M1671.3 789.7V790.8M1648.8 789.7H1671.3M1660.1 789.2V789.7M1642.1 789.2H1660.1M1651.1 788.3V789.2M1634.2 788.3H1651.1M1642.6 786.1V788.3M1632.8 786.1H1642.6M1637.7 785.7V786.1M1630.2 785.7H1637.7M1634.0 785.4V785.7M1626.9 785.4H1634.0M1630.4 784.1V785.4M1625.2 784.1H1630.4M1627.8 783.3V784.1M1619.5 783.3H1627.8M1623.7 782.3V783.3M1618.0 782.3H1623.7M1620.8 781.5V782.3M1615.9 781.5H1620.8M1618.4 781.1V781.5M1605.8 781.1H1618.4M1612.1 778.9V781.1M1603.2 778.9H1612.1M1607.6 777.4V778.9M1599.7 777.4H1607.6M1603.7 776.6V777.4M1593.2 776.6H1603.7M1598.4 775.8V776.6M1588.2 775.8H1598.4M1593.3 773.5V775.8M1586.4 773.5H1593.3M1589.9 773.2V773.5M1581.4 773.2H1589.9M1585.6 771.8V773.2M1572.2 771.8H1585.6M1578.9 769.6V771.8M1570.3 769.6H1578.9M1574.6 769.3V769.6M1559.3 769.3H1574.6M1567.0 767.5V769.3M1556.7 767.5H1567.0M1561.8 767.2V767.5M1550.7 767.2H1561.8M1556.3 765.8V767.2M1545.9 765.8H1556.3M1551.1 764.5V765.8M1541.4 764.5H1551.1M1546.2 763.6V764.5M1538.0 763.6H1546.2M1542.1 763.6V763.6M1530.9 763.6H1542.1M1536.5 760.8V763.6M1530.0 760.8H1536.5M1533.3 758.9V760.8M1442.6 758.9H1533.3M1487.9 757.0V758.9M1428.2 757.0H1487.9M1458.0 756.0V757.0M1425.7 756.0H1458.0M1441.9 754.8V756.0M1420.3 754.8H1441.9M1431.1 753.5V754.8M1412.6 753.5H1431.1M1421.8 752.5V753.5M1410.6 752.5H1421.8M1416.2 752.1V752.5M1409.8 752.1H1416.2M1413.0 751.0V752.1M1405.5 751.0H1413.0M1409.3 750.8V751.0M1399.3 750.8H1409.3M1404.3 748.8V750.8M1394.2 748.8H1404.3M1399.2 748.6V748.8M1376.5 748.6H1399.2M1387.9 742.2V748.6M1262.5 742.2H1387.9M1325.2 740.2V742.2M1251.6 740.2H1325.2M1288.4 739.9V740.2M1251.0 739.9H1288.4M1269.7 736.2V739.9M1249.3 736.2H1269.7M1259.5 735.7V736.2M1243.6 735.7H1259.5M1251.5 733.3V735.7M1241.6 733.3H1251.5M1246.5 732.3V733.3M1239.9 732.3H1246.5M1243.2 731.2V732.3M1239.5 731.2H1243.2" stroke="#000" stroke-width="1.1" fill="none"/><path d="M1251.2 1076V763.0M1263.2 1076V775.0M1275.3 1076V797.8M1287.4 1076V787.1M1299.4 1076V800.6M1311.5 1076V794.2M1323.5 1076V894.1M1335.5 1076V857.4M1347.6 1076V971.0M1359.7 1076V968.5M1371.7 1076V833.5M1383.8 1076V820.3M1395.8 1076V808.8M1407.9 1076V818.4M1419.9 1076V802.7M1432.0 1076V777.6M1444.0 1076V887.7M1456.1 1076V814.0M1468.1 1076V940.2M1480.2 1076V896.0M1492.2 1076V850.1M1504.2 1076V829.8M1516.3 1076V856.0M1528.4 1076V882.2M1540.4 1076V820.6M1552.5 1076V808.6M1564.5 1076V835.6M1576.6 1076V817.7M1588.6 1076V802.8M1600.7 1076V809.6M1612.7 1076V808.1M1624.8 1076V820.6M1636.8 1076V836.6M1648.9 1076V826.7M1660.9 1076V880.0M1673.0 1076V833.2M1685.0 1076V823.6M1697.1 1076V832.2M1709.1 1076V836.0M1721.2 1076V846.4M1733.2 1076V836.4M1745.2 1076V873.7M1757.3 1076V910.0M1769.3 1076V920.6M1781.4 1076V854.9M1793.5 1076V882.2M1805.5 1076V968.1M1817.6 1076V979.7M1829.6 1076V940.5M1841.7 1076V1024.9" stroke="#222" stroke-width="1.2" stroke-dasharray="1.3 3.3" fill="none"/><rect x="1239.2" y="1080.2" width="603.2" height="78.3" fill="#40E0D0"/><rect x="1239.2" y="1080.2" width="5.8" height="78.3" fill="#9C9CD8"/><rect x="1245.0" y="1080.2" width="4.2" height="78.3" fill="#4F7FE8"/><rect x="1249.2" y="1080.2" width="3.8" height="78.3" fill="#38C8DA"/><rect x="1261.2" y="1080.2" width="6.8" height="78.3" fill="#2A78E8"/><rect x="1269.0" y="1080.2" width="2.5" height="78.3" fill="#0000FF"/><rect x="1271.5" y="1080.2" width="2" height="78.3" fill="#2A78E8"/><rect x="1273.5" y="1080.2" width="3.1" height="78.3" fill="#0000FF"/><rect x="1276.6" y="1080.2" width="1.7" height="78.3" fill="#2A78E8"/><rect x="1278.3" y="1080.2" width="2.5" height="78.3" fill="#0000FF"/><rect x="1280.8" y="1080.2" width="2.5" height="78.3" fill="#2A78E8"/><rect x="1283.3" y="1080.2" width="1.3" height="78.3" fill="#0000FF"/><rect x="1284.6" y="1080.2" width="2.4" height="78.3" fill="#2A78E8"/><rect x="1287.0" y="1080.2" width="6.7" height="78.3" fill="#0000FF"/><rect x="1295.0" y="1080.2" width="1.7" height="78.3" fill="#2A78E8"/><rect x="1296.7" y="1080.2" width="4.1" height="78.3" fill="#0000FF"/><rect x="1300.8" y="1080.2" width="1.2" height="78.3" fill="#2A78E8"/><rect x="1302.0" y="1080.2" width="3" height="78.3" fill="#0000FF"/><rect x="1305.0" y="1080.2" width="1.2" height="78.3" fill="#2A78E8"/><rect x="1306.2" y="1080.2" width="2.1" height="78.3" fill="#0000FF"/><rect x="1308.3" y="1080.2" width="4.2" height="78.3" fill="#1A50F0"/><rect x="1312.5" y="1080.2" width="63.3" height="78.3" fill="#0000FF"/><rect x="1379.6" y="1080.2" width="1" height="78.3" fill="#3D9AE8"/><rect x="1442.0" y="1080.2" width="4" height="78.3" fill="#1E5AEE"/><rect x="1470.4" y="1080.2" width="4.2" height="78.3" fill="#1E5AEE"/><rect x="1484.0" y="1080.2" width="1" height="78.3" fill="#3D9AE8"/><rect x="1487.6" y="1080.2" width="2.2" height="78.3" fill="#1E5AEE"/><rect x="1505.0" y="1080.2" width="0.8" height="78.3" fill="#3D9AE8"/><line x1="1239.2" x2="1842.4" y1="1080.2" y2="1080.2" stroke="#000" stroke-width="1.2"/><line x1="1239.2" x2="1842.4" y1="1158.5" y2="1158.5" stroke="#000" stroke-width="1.2"/><text x="1.6" y="1268.2" font-size="27.5">D</text><text x="1027.5" y="1268.7" font-size="23.5" font-weight="bold" text-anchor="middle">Module-trait relationships</text><g><rect x="172" y="1294" width="65.27" height="164.5" fill="#F3E9FC"/><rect x="236.87" y="1294" width="65.27" height="164.5" fill="#D0EDDD"/><rect x="301.73" y="1294" width="65.27" height="164.5" fill="#DBBDF6"/><rect x="366.6" y="1294" width="65.27" height="164.5" fill="#DDF2E7"/><rect x="431.46" y="1294" width="65.27" height="164.5" fill="#FBF8FE"/><rect x="496.33" y="1294" width="65.27" height="164.5" fill="#EBDAFA"/><rect x="561.19" y="1294" width="65.27" height="164.5" fill="#EBDAFA"/><rect x="626.06" y="1294" width="65.27" height="164.5" fill="#D3AFF4"/><rect x="690.92" y="1294" width="65.27" height="164.5" fill="#D3AFF4"/><rect x="755.79" y="1294" width="65.27" height="164.5" fill="#DDF2E7"/><rect x="820.65" y="1294" width="65.27" height="164.5" fill="#FBF8FE"/><rect x="885.52" y="1294" width="65.27" height="164.5" fill="#EBF7F0"/><rect x="950.38" y="1294" width="65.27" height="164.5" fill="#DDF2E7"/><rect x="1015.25" y="1294" width="65.27" height="164.5" fill="#CBA0F2"/><rect x="1080.12" y="1294" width="65.27" height="164.5" fill="#EBF7F0"/><rect x="1144.98" y="1294" width="65.27" height="164.5" fill="#CBA0F2"/><rect x="1209.85" y="1294" width="65.27" height="164.5" fill="#D3AFF4"/><rect x="1274.71" y="1294" width="65.27" height="164.5" fill="#C2E7D3"/><rect x="1339.58" y="1294" width="65.27" height="164.5" fill="#FBF8FE"/><rect x="1404.44" y="1294" width="65.27" height="164.5" fill="#E3CCF8"/><rect x="1469.31" y="1294" width="65.27" height="164.5" fill="#F3E9FC"/><rect x="1534.17" y="1294" width="65.27" height="164.5" fill="#F3E9FC"/><rect x="1599.04" y="1294" width="65.27" height="164.5" fill="#E3CCF8"/><rect x="1663.9" y="1294" width="65.27" height="164.5" fill="#EBF7F0"/><rect x="1728.77" y="1294" width="65.27" height="164.5" fill="#EBDAFA"/><rect x="1793.63" y="1294" width="65.27" height="164.5" fill="#D0EDDD"/><rect x="172" y="1458.1" width="65.27" height="164.5" fill="#EBDAFA"/><rect x="236.87" y="1458.1" width="65.27" height="164.5" fill="#DDF2E7"/><rect x="301.73" y="1458.1" width="65.27" height="164.5" fill="#F3E9FC"/><rect x="366.6" y="1458.1" width="65.27" height="164.5" fill="#DDF2E7"/><rect x="431.46" y="1458.1" width="65.27" height="164.5" fill="#F3E9FC"/><rect x="496.33" y="1458.1" width="65.27" height="164.5" fill="#FBF8FE"/><rect x="561.19" y="1458.1" width="65.27" height="164.5" fill="#E3CCF8"/><rect x="626.06" y="1458.1" width="65.27" height="164.5" fill="#E3CCF8"/><rect x="690.92" y="1458.1" width="65.27" height="164.5" fill="#DBBDF6"/><rect x="755.79" y="1458.1" width="65.27" height="164.5" fill="#C2E7D3"/><rect x="820.65" y="1458.1" width="65.27" height="164.5" fill="#F8FCFA"/><rect x="885.52" y="1458.1" width="65.27" height="164.5" fill="#FBF8FE"/><rect x="950.38" y="1458.1" width="65.27" height="164.5" fill="#B5E2C9"/><rect x="1015.25" y="1458.1" width="65.27" height="164.5" fill="#D3AFF4"/><rect x="1080.12" y="1458.1" width="65.27" height="164.5" fill="#F8FCFA"/><rect x="1144.98" y="1458.1" width="65.27" height="164.5" fill="#CBA0F2"/><rect x="1209.85" y="1458.1" width="65.27" height="164.5" fill="#E3CCF8"/><rect x="1274.71" y="1458.1" width="65.27" height="164.5" fill="#EBF7F0"/><rect x="1339.58" y="1458.1" width="65.27" height="164.5" fill="#FBF8FE"/><rect x="1404.44" y="1458.1" width="65.27" height="164.5" fill="#E3CCF8"/><rect x="1469.31" y="1458.1" width="65.27" height="164.5" fill="#E3CCF8"/><rect x="1534.17" y="1458.1" width="65.27" height="164.5" fill="#F8FCFA"/><rect x="1599.04" y="1458.1" width="65.27" height="164.5" fill="#E3CCF8"/><rect x="1663.9" y="1458.1" width="65.27" height="164.5" fill="#C2E7D3"/><rect x="1728.77" y="1458.1" width="65.27" height="164.5" fill="#DBBDF6"/><rect x="1793.63" y="1458.1" width="65.27" height="164.5" fill="#EBF7F0"/><rect x="172" y="1622.2" width="65.27" height="164.5" fill="#DBBDF6"/><rect x="236.87" y="1622.2" width="65.27" height="164.5" fill="#D0EDDD"/><rect x="301.73" y="1622.2" width="65.27" height="164.5" fill="#E3CCF8"/><rect x="366.6" y="1622.2" width="65.27" height="164.5" fill="#C2E7D3"/><rect x="431.46" y="1622.2" width="65.27" height="164.5" fill="#E3CCF8"/><rect x="496.33" y="1622.2" width="65.27" height="164.5" fill="#E3CCF8"/><rect x="561.19" y="1622.2" width="65.27" height="164.5" fill="#DBBDF6"/><rect x="626.06" y="1622.2" width="65.27" height="164.5" fill="#DBBDF6"/><rect x="690.92" y="1622.2" width="65.27" height="164.5" fill="#DBBDF6"/><rect x="755.79" y="1622.2" width="65.27" height="164.5" fill="#C2E7D3"/><rect x="820.65" y="1622.2" width="65.27" height="164.5" fill="#FBF8FE"/><rect x="885.52" y="1622.2" width="65.27" height="164.5" fill="#F8FCFA"/><rect x="950.38" y="1622.2" width="65.27" height="164.5" fill="#C2E7D3"/><rect x="1015.25" y="1622.2" width="65.27" height="164.5" fill="#C291F0"/><rect x="1080.12" y="1622.2" width="65.27" height="164.5" fill="#FBF8FE"/><rect x="1144.98" y="1622.2" width="65.27" height="164.5" fill="#BA83EE"/><rect x="1209.85" y="1622.2" width="65.27" height="164.5" fill="#DBBDF6"/><rect x="1274.71" y="1622.2" width="65.27" height="164.5" fill="#C2E7D3"/><rect x="1339.58" y="1622.2" width="65.27" height="164.5" fill="#D0EDDD"/><rect x="1404.44" y="1622.2" width="65.27" height="164.5" fill="#DBBDF6"/><rect x="1469.31" y="1622.2" width="65.27" height="164.5" fill="#E3CCF8"/><rect x="1534.17" y="1622.2" width="65.27" height="164.5" fill="#EBDAFA"/><rect x="1599.04" y="1622.2" width="65.27" height="164.5" fill="#DBBDF6"/><rect x="1663.9" y="1622.2" width="65.27" height="164.5" fill="#C2E7D3"/><rect x="1728.77" y="1622.2" width="65.27" height="164.5" fill="#D3AFF4"/><rect x="1793.63" y="1622.2" width="65.27" height="164.5" fill="#C2E7D3"/></g><rect x="172.0" y="1294.0" width="1686.5" height="492.3" fill="none" stroke="#111" stroke-width="1.4"/><g font-size="15.7" text-anchor="middle"><text x="204.43" y="1372.25" fill="#000000">0.13</text><text x="204.43" y="1390.95" fill="#000000">(0.3)</text><text x="269.3" y="1372.25" fill="#FF1744">-0.26</text><text x="269.3" y="1390.95" fill="#FF1744">(0.02)</text><text x="334.16" y="1372.25" fill="#FF1744">0.32</text><text x="334.16" y="1390.95" fill="#FF1744">(0.004)</text><text x="399.03" y="1372.25" fill="#000000">-0.16</text><text x="399.03" y="1390.95" fill="#000000">(0.2)</text><text x="463.89" y="1372.25" fill="#000000">0.024</text><text x="463.89" y="1390.95" fill="#000000">(0.8)</text><text x="528.76" y="1372.25" fill="#000000">0.18</text><text x="528.76" y="1390.95" fill="#000000">(0.1)</text><text x="593.62" y="1372.25" fill="#000000">0.14</text><text x="593.62" y="1390.95" fill="#000000">(0.2)</text><text x="658.49" y="1372.25" fill="#FF1744">0.39</text><text x="658.49" y="1390.95" fill="#FF1744">(4e-04)</text><text x="723.36" y="1372.25" fill="#FF1744">0.39</text><text x="723.36" y="1390.95" fill="#FF1744">(4e-04)</text><text x="788.22" y="1372.25" fill="#000000">-0.18</text><text x="788.22" y="1390.95" fill="#000000">(0.1)</text><text x="853.09" y="1372.25" fill="#000000">0.019</text><text x="853.09" y="1390.95" fill="#000000">(0.9)</text><text x="917.95" y="1372.25" fill="#000000">-0.072</text><text x="917.95" y="1390.95" fill="#000000">(0.5)</text><text x="982.82" y="1372.25" fill="#FF1744">-0.2</text><text x="982.82" y="1390.95" fill="#FF1744">(0.08)</text><text x="1047.68" y="1372.25" fill="#FF1744">0.44</text><text x="1047.68" y="1390.95" fill="#FF1744">(5e-05)</text><text x="1112.55" y="1372.25" fill="#000000">-0.083</text><text x="1112.55" y="1390.95" fill="#000000">(0.5)</text><text x="1177.41" y="1372.25" fill="#FF1744">0.44</text><text x="1177.41" y="1390.95" fill="#FF1744">(4e-05)</text><text x="1242.28" y="1372.25" fill="#FF1744">0.37</text><text x="1242.28" y="1390.95" fill="#FF1744">(7e-04)</text><text x="1307.14" y="1372.25" fill="#FF1744">-0.31</text><text x="1307.14" y="1390.95" fill="#FF1744">(0.005)</text><text x="1372.01" y="1372.25" fill="#000000">0.0021</text><text x="1372.01" y="1390.95" fill="#000000">(1)</text><text x="1436.88" y="1372.25" fill="#FF1744">0.25</text><text x="1436.88" y="1390.95" fill="#FF1744">(0.03)</text><text x="1501.74" y="1372.25" fill="#000000">0.11</text><text x="1501.74" y="1390.95" fill="#000000">(0.3)</text><text x="1566.61" y="1372.25" fill="#000000">0.1</text><text x="1566.61" y="1390.95" fill="#000000">(0.4)</text><text x="1631.47" y="1372.25" fill="#FF1744">0.22</text><text x="1631.47" y="1390.95" fill="#FF1744">(0.05)</text><text x="1696.34" y="1372.25" fill="#000000">-0.1</text><text x="1696.34" y="1390.95" fill="#000000">(0.4)</text><text x="1761.2" y="1372.25" fill="#000000">0.14</text><text x="1761.2" y="1390.95" fill="#000000">(0.2)</text><text x="1826.07" y="1372.25" fill="#FF1744">-0.22</text><text x="1826.07" y="1390.95" fill="#FF1744">(0.05)</text><text x="204.43" y="1536.35" fill="#000000">0.18</text><text x="204.43" y="1555.05" fill="#000000">(0.1)</text><text x="269.3" y="1536.35" fill="#000000">-0.14</text><text x="269.3" y="1555.05" fill="#000000">(0.2)</text><text x="334.16" y="1536.35" fill="#000000">0.11</text><text x="334.16" y="1555.05" fill="#000000">(0.3)</text><text x="399.03" y="1536.35" fill="#000000">-0.14</text><text x="399.03" y="1555.05" fill="#000000">(0.2)</text><text x="463.89" y="1536.35" fill="#000000">0.13</text><text x="463.89" y="1555.05" fill="#000000">(0.2)</text><text x="528.76" y="1536.35" fill="#000000">0.012</text><text x="528.76" y="1555.05" fill="#000000">(0.9)</text><text x="593.62" y="1536.35" fill="#FF1744">0.26</text><text x="593.62" y="1555.05" fill="#FF1744">(0.02)</text><text x="658.49" y="1536.35" fill="#FF1744">0.27</text><text x="658.49" y="1555.05" fill="#FF1744">(0.02)</text><text x="723.36" y="1536.35" fill="#FF1744">0.27</text><text x="723.36" y="1555.05" fill="#FF1744">(0.02)</text><text x="788.22" y="1536.35" fill="#FF1744">-0.3</text><text x="788.22" y="1555.05" fill="#FF1744">(0.006)</text><text x="853.09" y="1536.35" fill="#000000">-0.034</text><text x="853.09" y="1555.05" fill="#000000">(0.8)</text><text x="917.95" y="1536.35" fill="#000000">0.035</text><text x="917.95" y="1555.05" fill="#000000">(0.8)</text><text x="982.82" y="1536.35" fill="#FF1744">-0.39</text><text x="982.82" y="1555.05" fill="#FF1744">(4e-04)</text><text x="1047.68" y="1536.35" fill="#FF1744">0.36</text><text x="1047.68" y="1555.05" fill="#FF1744">(0.001)</text><text x="1112.55" y="1536.35" fill="#000000">-0.06</text><text x="1112.55" y="1555.05" fill="#000000">(0.6)</text><text x="1177.41" y="1536.35" fill="#FF1744">0.45</text><text x="1177.41" y="1555.05" fill="#FF1744">(2e-05)</text><text x="1242.28" y="1536.35" fill="#FF1744">0.25</text><text x="1242.28" y="1555.05" fill="#FF1744">(0.02)</text><text x="1307.14" y="1536.35" fill="#000000">-0.076</text><text x="1307.14" y="1555.05" fill="#000000">(0.5)</text><text x="1372.01" y="1536.35" fill="#000000">0.044</text><text x="1372.01" y="1555.05" fill="#000000">(0.7)</text><text x="1436.88" y="1536.35" fill="#000000">0.2</text><text x="1436.88" y="1555.05" fill="#000000">(0.07)</text><text x="1501.74" y="1536.35" fill="#FF1744">0.23</text><text x="1501.74" y="1555.05" fill="#FF1744">(0.04)</text><text x="1566.61" y="1536.35" fill="#000000">-0.028</text><text x="1566.61" y="1555.05" fill="#000000">(0.8)</text><text x="1631.47" y="1536.35" fill="#FF1744">0.26</text><text x="1631.47" y="1555.05" fill="#FF1744">(0.02)</text><text x="1696.34" y="1536.35" fill="#FF1744">-0.33</text><text x="1696.34" y="1555.05" fill="#FF1744">(0.003)</text><text x="1761.2" y="1536.35" fill="#FF1744">0.31</text><text x="1761.2" y="1555.05" fill="#FF1744">(0.006)</text><text x="1826.07" y="1536.35" fill="#000000">-0.089</text><text x="1826.07" y="1555.05" fill="#000000">(0.4)</text><text x="204.43" y="1700.45" fill="#000000">0.31</text><text x="204.43" y="1719.15" fill="#000000">(0.005)</text><text x="269.3" y="1700.45" fill="#000000">-0.21</text><text x="269.3" y="1719.15" fill="#000000">(0.07)</text><text x="334.16" y="1700.45" fill="#000000">0.25</text><text x="334.16" y="1719.15" fill="#000000">(0.02)</text><text x="399.03" y="1700.45" fill="#000000">-0.27</text><text x="399.03" y="1719.15" fill="#000000">(0.01)</text><text x="463.89" y="1700.45" fill="#000000">0.21</text><text x="463.89" y="1719.15" fill="#000000">(0.06)</text><text x="528.76" y="1700.45" fill="#000000">0.23</text><text x="528.76" y="1719.15" fill="#000000">(0.04)</text><text x="593.62" y="1700.45" fill="#000000">0.32</text><text x="593.62" y="1719.15" fill="#000000">(0.004)</text><text x="658.49" y="1700.45" fill="#000000">0.28</text><text x="658.49" y="1719.15" fill="#000000">(0.01)</text><text x="723.36" y="1700.45" fill="#000000">0.33</text><text x="723.36" y="1719.15" fill="#000000">(0.003)</text><text x="788.22" y="1700.45" fill="#000000">-0.29</text><text x="788.22" y="1719.15" fill="#000000">(0.01)</text><text x="853.09" y="1700.45" fill="#000000">0.035</text><text x="853.09" y="1719.15" fill="#000000">(0.8)</text><text x="917.95" y="1700.45" fill="#000000">-0.02</text><text x="917.95" y="1719.15" fill="#000000">(0.9)</text><text x="982.82" y="1700.45" fill="#000000">-0.32</text><text x="982.82" y="1719.15" fill="#000000">(0.004)</text><text x="1047.68" y="1700.45" fill="#000000">0.49</text><text x="1047.68" y="1719.15" fill="#000000">(4e-06)</text><text x="1112.55" y="1700.45" fill="#000000">0.059</text><text x="1112.55" y="1719.15" fill="#000000">(0.6)</text><text x="1177.41" y="1700.45" fill="#000000">0.57</text><text x="1177.41" y="1719.15" fill="#000000">(3e-08)</text><text x="1242.28" y="1700.45" fill="#000000">0.33</text><text x="1242.28" y="1719.15" fill="#000000">(0.002)</text><text x="1307.14" y="1700.45" fill="#000000">-0.32</text><text x="1307.14" y="1719.15" fill="#000000">(0.004)</text><text x="1372.01" y="1700.45" fill="#000000">-0.26</text><text x="1372.01" y="1719.15" fill="#000000">(0.02)</text><text x="1436.88" y="1700.45" fill="#000000">0.32</text><text x="1436.88" y="1719.15" fill="#000000">(0.004)</text><text x="1501.74" y="1700.45" fill="#000000">0.21</text><text x="1501.74" y="1719.15" fill="#000000">(0.06)</text><text x="1566.61" y="1700.45" fill="#000000">0.2</text><text x="1566.61" y="1719.15" fill="#000000">(0.08)</text><text x="1631.47" y="1700.45" fill="#000000">0.3</text><text x="1631.47" y="1719.15" fill="#000000">(0.008)</text><text x="1696.34" y="1700.45" fill="#000000">-0.28</text><text x="1696.34" y="1719.15" fill="#000000">(0.01)</text><text x="1761.2" y="1700.45" fill="#000000">0.35</text><text x="1761.2" y="1719.15" fill="#000000">(0.002)</text><text x="1826.07" y="1700.45" fill="#000000">-0.32</text><text x="1826.07" y="1719.15" fill="#000000">(0.003)</text></g><rect x="66.7" y="1294" width="91.1" height="164.4" fill="#40E0D0"/><text transform="translate(120.8,1376.05) rotate(-90)" font-size="23.5" font-weight="bold" text-anchor="middle">MEturquoise</text><rect x="66.7" y="1458.1" width="91.1" height="164.4" fill="#1A1AFF"/><text transform="translate(120.8,1540.15) rotate(-90)" font-size="23.5" font-weight="bold" text-anchor="middle">MEblue</text><rect x="66.7" y="1622.2" width="91.1" height="164.4" fill="#BEBEBE"/><text transform="translate(120.8,1704.25) rotate(-90)" font-size="23.5" font-weight="bold" text-anchor="middle">MEgrey</text><g font-size="15.7" text-anchor="end"><text transform="translate(209.43,1813) rotate(-45)" fill="#000000">aDC</text><text transform="translate(274.3,1813) rotate(-45)" fill="#40E0D0">CD4..naive.T.cells</text><text transform="translate(339.16,1813) rotate(-45)" fill="#40E0D0">CD4..Tem</text><text transform="translate(404.03,1813) rotate(-45)" fill="#000000">CD8..naive.T.cells</text><text transform="translate(468.89,1813) rotate(-45)" fill="#000000">CD8..Tcm</text><text transform="translate(533.76,1813) rotate(-45)" fill="#000000">CD8..Tem</text><text transform="translate(598.62,1813) rotate(-45)" fill="#0000FF">cDC</text><text transform="translate(663.49,1813) rotate(-45)" fill="#FF1744">Class.switched.memory.B.cells</text><text transform="translate(728.36,1813) rotate(-45)" fill="#FF1744">CMP</text><text transform="translate(793.22,1813) rotate(-45)" fill="#0000FF">Epithelial.cells</text><text transform="translate(858.09,1813) rotate(-45)" fill="#000000">Erythrocytes</text><text transform="translate(922.95,1813) rotate(-45)" fill="#000000">GMP</text><text transform="translate(987.82,1813) rotate(-45)" fill="#FF1744">Keratinocytes</text><text transform="translate(1052.68,1813) rotate(-45)" fill="#FF1744">Mast.cells</text><text transform="translate(1117.55,1813) rotate(-45)" fill="#000000">Megakaryocytes</text><text transform="translate(1182.41,1813) rotate(-45)" fill="#FF1744">Monocytes</text><text transform="translate(1247.28,1813) rotate(-45)" fill="#FF1744">MPP</text><text transform="translate(1312.14,1813) rotate(-45)" fill="#40E0D0">Myocytes</text><text transform="translate(1377.01,1813) rotate(-45)" fill="#000000">Neurons</text><text transform="translate(1441.88,1813) rotate(-45)" fill="#40E0D0">Neutrophils</text><text transform="translate(1506.74,1813) rotate(-45)" fill="#0000FF">pDC</text><text transform="translate(1571.61,1813) rotate(-45)" fill="#000000">Pericytes</text><text transform="translate(1636.47,1813) rotate(-45)" fill="#FF1744">pro.B.cells</text><text transform="translate(1701.34,1813) rotate(-45)" fill="#0000FF">Sebocytes</text><text transform="translate(1766.2,1813) rotate(-45)" fill="#0000FF">Tgd.cells</text><text transform="translate(1831.07,1813) rotate(-45)" fill="#40E0D0">Tregs</text></g><g><rect x="1880.7" y="1752.51" width="43.3" height="15.69" fill="#3CB371"/><rect x="1880.7" y="1737.11" width="43.3" height="15.69" fill="#49B87B"/><rect x="1880.7" y="1721.72" width="43.3" height="15.69" fill="#57BD85"/><rect x="1880.7" y="1706.33" width="43.3" height="15.69" fill="#64C38E"/><rect x="1880.7" y="1690.93" width="43.3" height="15.69" fill="#72C898"/><rect x="1880.7" y="1675.54" width="43.3" height="15.69" fill="#7FCDA2"/><rect x="1880.7" y="1660.15" width="43.3" height="15.69" fill="#8DD2AC"/><rect x="1880.7" y="1644.75" width="43.3" height="15.69" fill="#9AD8B6"/><rect x="1880.7" y="1629.36" width="43.3" height="15.69" fill="#A8DDBF"/><rect x="1880.7" y="1613.97" width="43.3" height="15.69" fill="#B5E2C9"/><rect x="1880.7" y="1598.57" width="43.3" height="15.69" fill="#C2E7D3"/><rect x="1880.7" y="1583.18" width="43.3" height="15.69" fill="#D0EDDD"/><rect x="1880.7" y="1567.79" width="43.3" height="15.69" fill="#DDF2E7"/><rect x="1880.7" y="1552.39" width="43.3" height="15.69" fill="#EBF7F0"/><rect x="1880.7" y="1537" width="43.3" height="15.69" fill="#F8FCFA"/><rect x="1880.7" y="1521.61" width="43.3" height="15.69" fill="#FBF8FE"/><rect x="1880.7" y="1506.21" width="43.3" height="15.69" fill="#F3E9FC"/><rect x="1880.7" y="1490.82" width="43.3" height="15.69" fill="#EBDAFA"/><rect x="1880.7" y="1475.43" width="43.3" height="15.69" fill="#E3CCF8"/><rect x="1880.7" y="1460.03" width="43.3" height="15.69" fill="#DBBDF6"/><rect x="1880.7" y="1444.64" width="43.3" height="15.69" fill="#D3AFF4"/><rect x="1880.7" y="1429.25" width="43.3" height="15.69" fill="#CBA0F2"/><rect x="1880.7" y="1413.85" width="43.3" height="15.69" fill="#C291F0"/><rect x="1880.7" y="1398.46" width="43.3" height="15.69" fill="#BA83EE"/><rect x="1880.7" y="1383.07" width="43.3" height="15.69" fill="#B274EC"/><rect x="1880.7" y="1367.67" width="43.3" height="15.69" fill="#AA65EA"/><rect x="1880.7" y="1352.28" width="43.3" height="15.69" fill="#A257E8"/><rect x="1880.7" y="1336.89" width="43.3" height="15.69" fill="#9A48E6"/><rect x="1880.7" y="1321.49" width="43.3" height="15.69" fill="#923AE4"/><rect x="1880.7" y="1306.1" width="43.3" height="15.69" fill="#8A2BE2"/></g><rect x="1880.7" y="1306.1" width="43.3" height="461.8" fill="none" stroke="#333" stroke-width="1.1"/><line x1="1924.0" x2="1934.8" y1="1306.1" y2="1306.1" stroke="#333" stroke-width="1.1"/><text transform="translate(1951.5,1306.1) rotate(-90)" font-size="15.7" text-anchor="middle">1</text><line x1="1924.0" x2="1934.8" y1="1421.55" y2="1421.55" stroke="#333" stroke-width="1.1"/><text transform="translate(1951.5,1421.55) rotate(-90)" font-size="15.7" text-anchor="middle">0.5</text><line x1="1924.0" x2="1934.8" y1="1537" y2="1537" stroke="#333" stroke-width="1.1"/><text transform="translate(1951.5,1537) rotate(-90)" font-size="15.7" text-anchor="middle">0</text><line x1="1924.0" x2="1934.8" y1="1652.45" y2="1652.45" stroke="#333" stroke-width="1.1"/><text transform="translate(1951.5,1652.45) rotate(-90)" font-size="15.7" text-anchor="middle">-0.5</text><line x1="1924.0" x2="1934.8" y1="1767.9" y2="1767.9" stroke="#333" stroke-width="1.1"/><text transform="translate(1951.5,1767.9) rotate(-90)" font-size="15.7" text-anchor="middle">-1</text></svg></body></html>
